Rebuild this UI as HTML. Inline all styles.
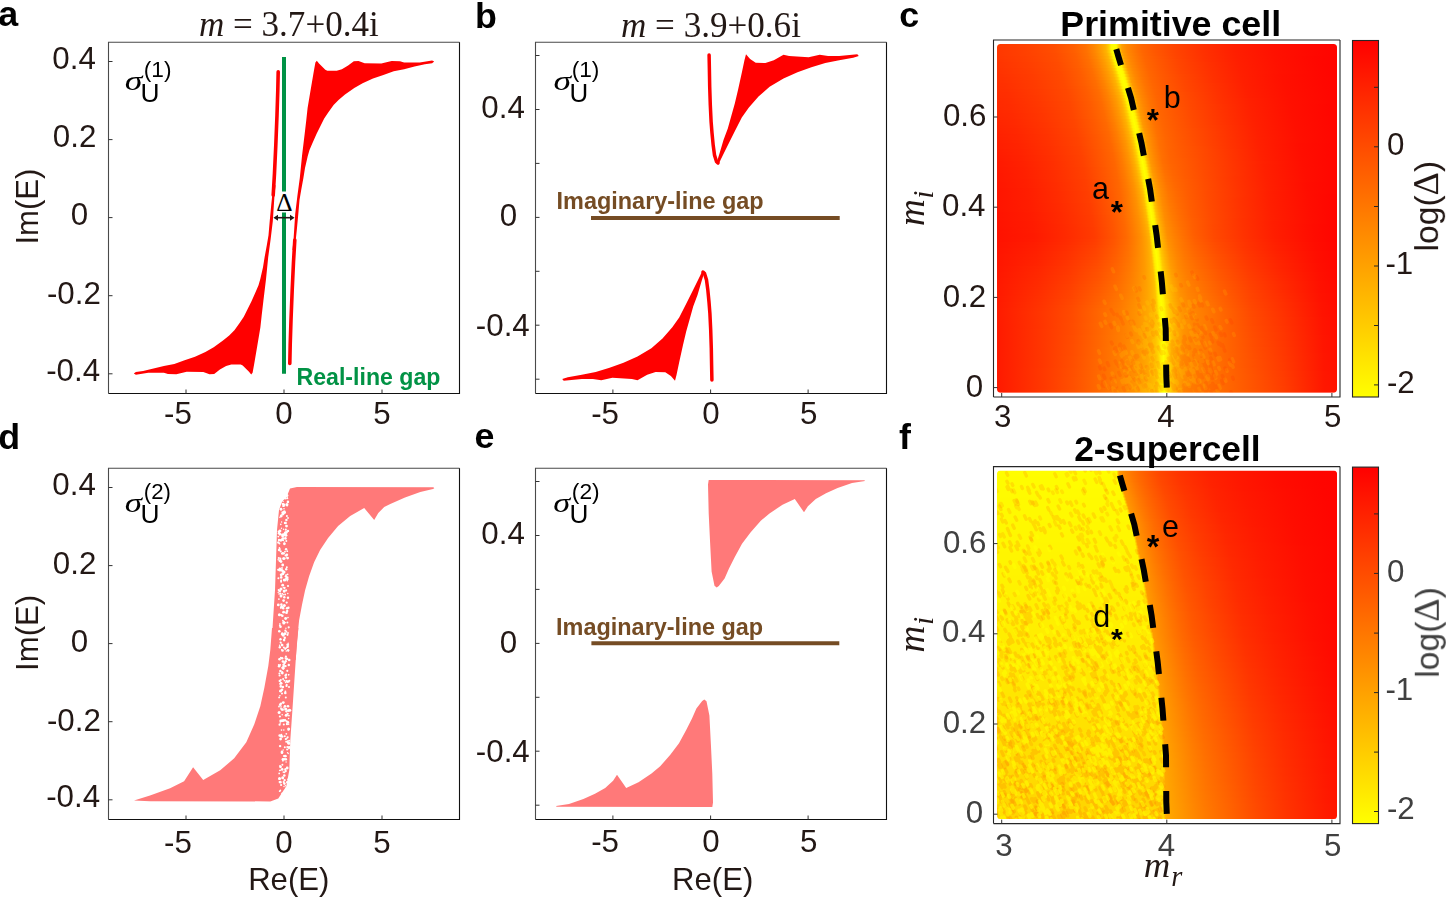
<!DOCTYPE html><html><head><meta charset="utf-8"><style>html,body{margin:0;padding:0;background:#fff;}svg{display:block;font-family:"Liberation Sans",sans-serif;}</style></head><body><svg width="1446" height="898" viewBox="0 0 1446 898"><rect width="1446" height="898" fill="#fff"/><defs><linearGradient id="gc0" gradientUnits="userSpaceOnUse" x1="997.0" x2="1337.0" y1="0" y2="0"><stop offset="0.0000" stop-color="#ff3900"/><stop offset="0.0788" stop-color="#ff4100"/><stop offset="0.1671" stop-color="#ff4d00"/><stop offset="0.2259" stop-color="#ff5f00"/><stop offset="0.2612" stop-color="#ff7100"/><stop offset="0.2847" stop-color="#ff8600"/><stop offset="0.3053" stop-color="#ff9e00"/><stop offset="0.3200" stop-color="#ffb400"/><stop offset="0.3288" stop-color="#ffd100"/><stop offset="0.3362" stop-color="#fffa00"/><stop offset="0.3435" stop-color="#ffff00"/><stop offset="0.3509" stop-color="#fffa00"/><stop offset="0.3582" stop-color="#ffc900"/><stop offset="0.3671" stop-color="#ff9e00"/><stop offset="0.3818" stop-color="#ff8800"/><stop offset="0.4024" stop-color="#ff7800"/><stop offset="0.4259" stop-color="#ff6600"/><stop offset="0.4612" stop-color="#ff5800"/><stop offset="0.5200" stop-color="#ff4500"/><stop offset="0.6082" stop-color="#ff3000"/><stop offset="0.6965" stop-color="#ff1f00"/><stop offset="0.8141" stop-color="#ff1100"/><stop offset="0.9318" stop-color="#ff0800"/><stop offset="1.0000" stop-color="#ff0400"/></linearGradient><linearGradient id="gc1" gradientUnits="userSpaceOnUse" x1="997.0" x2="1337.0" y1="0" y2="0"><stop offset="0.0000" stop-color="#ff3800"/><stop offset="0.0788" stop-color="#ff4000"/><stop offset="0.1671" stop-color="#ff4d00"/><stop offset="0.2259" stop-color="#ff5f00"/><stop offset="0.2612" stop-color="#ff7000"/><stop offset="0.2847" stop-color="#ff8500"/><stop offset="0.3053" stop-color="#ff9d00"/><stop offset="0.3200" stop-color="#ffb300"/><stop offset="0.3288" stop-color="#ffd100"/><stop offset="0.3362" stop-color="#fffa00"/><stop offset="0.3435" stop-color="#ffff00"/><stop offset="0.3509" stop-color="#fffa00"/><stop offset="0.3582" stop-color="#ffc900"/><stop offset="0.3671" stop-color="#ff9e00"/><stop offset="0.3818" stop-color="#ff8800"/><stop offset="0.4024" stop-color="#ff7700"/><stop offset="0.4259" stop-color="#ff6600"/><stop offset="0.4612" stop-color="#ff5800"/><stop offset="0.5200" stop-color="#ff4500"/><stop offset="0.6082" stop-color="#ff3000"/><stop offset="0.6965" stop-color="#ff1f00"/><stop offset="0.8141" stop-color="#ff1100"/><stop offset="0.9318" stop-color="#ff0800"/><stop offset="1.0000" stop-color="#ff0400"/></linearGradient><linearGradient id="gc2" gradientUnits="userSpaceOnUse" x1="997.0" x2="1337.0" y1="0" y2="0"><stop offset="0.0000" stop-color="#ff3700"/><stop offset="0.0808" stop-color="#ff4000"/><stop offset="0.1690" stop-color="#ff4d00"/><stop offset="0.2278" stop-color="#ff5f00"/><stop offset="0.2631" stop-color="#ff7000"/><stop offset="0.2867" stop-color="#ff8500"/><stop offset="0.3072" stop-color="#ff9d00"/><stop offset="0.3219" stop-color="#ffb300"/><stop offset="0.3308" stop-color="#ffd000"/><stop offset="0.3381" stop-color="#fff900"/><stop offset="0.3455" stop-color="#ffff00"/><stop offset="0.3528" stop-color="#fff900"/><stop offset="0.3602" stop-color="#ffc900"/><stop offset="0.3690" stop-color="#ff9e00"/><stop offset="0.3837" stop-color="#ff8800"/><stop offset="0.4043" stop-color="#ff7700"/><stop offset="0.4278" stop-color="#ff6600"/><stop offset="0.4631" stop-color="#ff5800"/><stop offset="0.5219" stop-color="#ff4500"/><stop offset="0.6102" stop-color="#ff3000"/><stop offset="0.6984" stop-color="#ff1f00"/><stop offset="0.8161" stop-color="#ff1100"/><stop offset="0.9337" stop-color="#ff0800"/><stop offset="1.0000" stop-color="#ff0400"/></linearGradient><linearGradient id="gc3" gradientUnits="userSpaceOnUse" x1="997.0" x2="1337.0" y1="0" y2="0"><stop offset="0.0000" stop-color="#ff3700"/><stop offset="0.0833" stop-color="#ff4000"/><stop offset="0.1715" stop-color="#ff4c00"/><stop offset="0.2304" stop-color="#ff5e00"/><stop offset="0.2657" stop-color="#ff7000"/><stop offset="0.2892" stop-color="#ff8500"/><stop offset="0.3098" stop-color="#ff9d00"/><stop offset="0.3245" stop-color="#ffb300"/><stop offset="0.3333" stop-color="#ffd000"/><stop offset="0.3407" stop-color="#fff900"/><stop offset="0.3480" stop-color="#ffff00"/><stop offset="0.3554" stop-color="#fff900"/><stop offset="0.3627" stop-color="#ffc800"/><stop offset="0.3715" stop-color="#ff9e00"/><stop offset="0.3862" stop-color="#ff8800"/><stop offset="0.4068" stop-color="#ff7700"/><stop offset="0.4304" stop-color="#ff6600"/><stop offset="0.4657" stop-color="#ff5800"/><stop offset="0.5245" stop-color="#ff4500"/><stop offset="0.6127" stop-color="#ff3000"/><stop offset="0.7010" stop-color="#ff1f00"/><stop offset="0.8186" stop-color="#ff1100"/><stop offset="0.9362" stop-color="#ff0800"/><stop offset="1.0000" stop-color="#ff0400"/></linearGradient><linearGradient id="gc4" gradientUnits="userSpaceOnUse" x1="997.0" x2="1337.0" y1="0" y2="0"><stop offset="0.0000" stop-color="#ff3600"/><stop offset="0.0859" stop-color="#ff3f00"/><stop offset="0.1741" stop-color="#ff4c00"/><stop offset="0.2330" stop-color="#ff5e00"/><stop offset="0.2683" stop-color="#ff7000"/><stop offset="0.2918" stop-color="#ff8500"/><stop offset="0.3124" stop-color="#ff9d00"/><stop offset="0.3271" stop-color="#ffb300"/><stop offset="0.3359" stop-color="#ffd000"/><stop offset="0.3433" stop-color="#fff900"/><stop offset="0.3506" stop-color="#ffff00"/><stop offset="0.3580" stop-color="#fff900"/><stop offset="0.3653" stop-color="#ffc800"/><stop offset="0.3741" stop-color="#ff9e00"/><stop offset="0.3888" stop-color="#ff8800"/><stop offset="0.4094" stop-color="#ff7700"/><stop offset="0.4330" stop-color="#ff6600"/><stop offset="0.4683" stop-color="#ff5900"/><stop offset="0.5271" stop-color="#ff4500"/><stop offset="0.6153" stop-color="#ff3000"/><stop offset="0.7035" stop-color="#ff1f00"/><stop offset="0.8212" stop-color="#ff1100"/><stop offset="0.9388" stop-color="#ff0700"/><stop offset="1.0000" stop-color="#ff0400"/></linearGradient><linearGradient id="gc5" gradientUnits="userSpaceOnUse" x1="997.0" x2="1337.0" y1="0" y2="0"><stop offset="0.0000" stop-color="#ff3500"/><stop offset="0.0004" stop-color="#ff3500"/><stop offset="0.0886" stop-color="#ff3f00"/><stop offset="0.1768" stop-color="#ff4c00"/><stop offset="0.2357" stop-color="#ff5e00"/><stop offset="0.2709" stop-color="#ff6f00"/><stop offset="0.2945" stop-color="#ff8400"/><stop offset="0.3151" stop-color="#ff9c00"/><stop offset="0.3298" stop-color="#ffb300"/><stop offset="0.3386" stop-color="#ffd000"/><stop offset="0.3459" stop-color="#fff900"/><stop offset="0.3533" stop-color="#ffff00"/><stop offset="0.3607" stop-color="#fff900"/><stop offset="0.3680" stop-color="#ffc800"/><stop offset="0.3768" stop-color="#ff9e00"/><stop offset="0.3915" stop-color="#ff8800"/><stop offset="0.4121" stop-color="#ff7600"/><stop offset="0.4357" stop-color="#ff6600"/><stop offset="0.4709" stop-color="#ff5900"/><stop offset="0.5298" stop-color="#ff4600"/><stop offset="0.6180" stop-color="#ff3000"/><stop offset="0.7062" stop-color="#ff1f00"/><stop offset="0.8239" stop-color="#ff1100"/><stop offset="0.9415" stop-color="#ff0700"/><stop offset="1.0000" stop-color="#ff0400"/></linearGradient><linearGradient id="gc6" gradientUnits="userSpaceOnUse" x1="997.0" x2="1337.0" y1="0" y2="0"><stop offset="0.0000" stop-color="#ff3400"/><stop offset="0.0031" stop-color="#ff3400"/><stop offset="0.0913" stop-color="#ff3e00"/><stop offset="0.1795" stop-color="#ff4b00"/><stop offset="0.2383" stop-color="#ff5e00"/><stop offset="0.2736" stop-color="#ff6f00"/><stop offset="0.2972" stop-color="#ff8400"/><stop offset="0.3178" stop-color="#ff9c00"/><stop offset="0.3325" stop-color="#ffb300"/><stop offset="0.3413" stop-color="#ffd000"/><stop offset="0.3486" stop-color="#fff800"/><stop offset="0.3560" stop-color="#ffff00"/><stop offset="0.3633" stop-color="#fff800"/><stop offset="0.3707" stop-color="#ffc700"/><stop offset="0.3795" stop-color="#ff9d00"/><stop offset="0.3942" stop-color="#ff8800"/><stop offset="0.4148" stop-color="#ff7600"/><stop offset="0.4383" stop-color="#ff6600"/><stop offset="0.4736" stop-color="#ff5900"/><stop offset="0.5325" stop-color="#ff4600"/><stop offset="0.6207" stop-color="#ff3100"/><stop offset="0.7089" stop-color="#ff1f00"/><stop offset="0.8266" stop-color="#ff1100"/><stop offset="0.9442" stop-color="#ff0700"/><stop offset="1.0000" stop-color="#ff0400"/></linearGradient><linearGradient id="gc7" gradientUnits="userSpaceOnUse" x1="997.0" x2="1337.0" y1="0" y2="0"><stop offset="0.0000" stop-color="#ff3400"/><stop offset="0.0057" stop-color="#ff3400"/><stop offset="0.0940" stop-color="#ff3e00"/><stop offset="0.1822" stop-color="#ff4b00"/><stop offset="0.2410" stop-color="#ff5e00"/><stop offset="0.2763" stop-color="#ff6f00"/><stop offset="0.2999" stop-color="#ff8400"/><stop offset="0.3204" stop-color="#ff9c00"/><stop offset="0.3352" stop-color="#ffb300"/><stop offset="0.3440" stop-color="#ffd000"/><stop offset="0.3513" stop-color="#fff800"/><stop offset="0.3587" stop-color="#ffff00"/><stop offset="0.3660" stop-color="#fff800"/><stop offset="0.3734" stop-color="#ffc700"/><stop offset="0.3822" stop-color="#ff9d00"/><stop offset="0.3969" stop-color="#ff8800"/><stop offset="0.4175" stop-color="#ff7600"/><stop offset="0.4410" stop-color="#ff6600"/><stop offset="0.4763" stop-color="#ff5900"/><stop offset="0.5352" stop-color="#ff4600"/><stop offset="0.6234" stop-color="#ff3100"/><stop offset="0.7116" stop-color="#ff1f00"/><stop offset="0.8293" stop-color="#ff1100"/><stop offset="0.9469" stop-color="#ff0700"/><stop offset="1.0000" stop-color="#ff0400"/></linearGradient><linearGradient id="gc8" gradientUnits="userSpaceOnUse" x1="997.0" x2="1337.0" y1="0" y2="0"><stop offset="0.0000" stop-color="#ff3300"/><stop offset="0.0084" stop-color="#ff3300"/><stop offset="0.0967" stop-color="#ff3d00"/><stop offset="0.1849" stop-color="#ff4b00"/><stop offset="0.2437" stop-color="#ff5d00"/><stop offset="0.2790" stop-color="#ff6e00"/><stop offset="0.3026" stop-color="#ff8300"/><stop offset="0.3231" stop-color="#ff9c00"/><stop offset="0.3378" stop-color="#ffb300"/><stop offset="0.3467" stop-color="#ffcf00"/><stop offset="0.3540" stop-color="#fff800"/><stop offset="0.3614" stop-color="#ffff00"/><stop offset="0.3687" stop-color="#fff800"/><stop offset="0.3761" stop-color="#ffc700"/><stop offset="0.3849" stop-color="#ff9d00"/><stop offset="0.3996" stop-color="#ff8800"/><stop offset="0.4202" stop-color="#ff7600"/><stop offset="0.4437" stop-color="#ff6600"/><stop offset="0.4790" stop-color="#ff5900"/><stop offset="0.5378" stop-color="#ff4600"/><stop offset="0.6261" stop-color="#ff3100"/><stop offset="0.7143" stop-color="#ff1f00"/><stop offset="0.8320" stop-color="#ff1100"/><stop offset="0.9496" stop-color="#ff0700"/><stop offset="1.0000" stop-color="#ff0400"/></linearGradient><linearGradient id="gc9" gradientUnits="userSpaceOnUse" x1="997.0" x2="1337.0" y1="0" y2="0"><stop offset="0.0000" stop-color="#ff3200"/><stop offset="0.0111" stop-color="#ff3300"/><stop offset="0.0994" stop-color="#ff3d00"/><stop offset="0.1876" stop-color="#ff4a00"/><stop offset="0.2464" stop-color="#ff5d00"/><stop offset="0.2817" stop-color="#ff6e00"/><stop offset="0.3052" stop-color="#ff8300"/><stop offset="0.3258" stop-color="#ff9b00"/><stop offset="0.3405" stop-color="#ffb200"/><stop offset="0.3494" stop-color="#ffcf00"/><stop offset="0.3567" stop-color="#fff800"/><stop offset="0.3641" stop-color="#ffff00"/><stop offset="0.3714" stop-color="#fff800"/><stop offset="0.3788" stop-color="#ffc600"/><stop offset="0.3876" stop-color="#ff9d00"/><stop offset="0.4023" stop-color="#ff8800"/><stop offset="0.4229" stop-color="#ff7600"/><stop offset="0.4464" stop-color="#ff6600"/><stop offset="0.4817" stop-color="#ff5900"/><stop offset="0.5405" stop-color="#ff4600"/><stop offset="0.6288" stop-color="#ff3100"/><stop offset="0.7170" stop-color="#ff1f00"/><stop offset="0.8347" stop-color="#ff1100"/><stop offset="0.9523" stop-color="#ff0700"/><stop offset="1.0000" stop-color="#ff0400"/></linearGradient><linearGradient id="gc10" gradientUnits="userSpaceOnUse" x1="997.0" x2="1337.0" y1="0" y2="0"><stop offset="0.0000" stop-color="#ff3100"/><stop offset="0.0138" stop-color="#ff3200"/><stop offset="0.1021" stop-color="#ff3c00"/><stop offset="0.1903" stop-color="#ff4a00"/><stop offset="0.2491" stop-color="#ff5d00"/><stop offset="0.2844" stop-color="#ff6e00"/><stop offset="0.3079" stop-color="#ff8300"/><stop offset="0.3285" stop-color="#ff9b00"/><stop offset="0.3432" stop-color="#ffb200"/><stop offset="0.3521" stop-color="#ffcf00"/><stop offset="0.3594" stop-color="#fff700"/><stop offset="0.3668" stop-color="#ffff00"/><stop offset="0.3741" stop-color="#fff700"/><stop offset="0.3815" stop-color="#ffc600"/><stop offset="0.3903" stop-color="#ff9d00"/><stop offset="0.4050" stop-color="#ff8800"/><stop offset="0.4256" stop-color="#ff7500"/><stop offset="0.4491" stop-color="#ff6600"/><stop offset="0.4844" stop-color="#ff5900"/><stop offset="0.5432" stop-color="#ff4700"/><stop offset="0.6315" stop-color="#ff3100"/><stop offset="0.7197" stop-color="#ff1f00"/><stop offset="0.8374" stop-color="#ff1000"/><stop offset="0.9550" stop-color="#ff0700"/><stop offset="1.0000" stop-color="#ff0400"/></linearGradient><linearGradient id="gc11" gradientUnits="userSpaceOnUse" x1="997.0" x2="1337.0" y1="0" y2="0"><stop offset="0.0000" stop-color="#ff3100"/><stop offset="0.0165" stop-color="#ff3100"/><stop offset="0.1048" stop-color="#ff3c00"/><stop offset="0.1930" stop-color="#ff4a00"/><stop offset="0.2518" stop-color="#ff5d00"/><stop offset="0.2871" stop-color="#ff6e00"/><stop offset="0.3106" stop-color="#ff8300"/><stop offset="0.3312" stop-color="#ff9b00"/><stop offset="0.3459" stop-color="#ffb200"/><stop offset="0.3548" stop-color="#ffcf00"/><stop offset="0.3621" stop-color="#fff700"/><stop offset="0.3695" stop-color="#ffff00"/><stop offset="0.3768" stop-color="#fff700"/><stop offset="0.3842" stop-color="#ffc600"/><stop offset="0.3930" stop-color="#ff9d00"/><stop offset="0.4077" stop-color="#ff8800"/><stop offset="0.4283" stop-color="#ff7500"/><stop offset="0.4518" stop-color="#ff6600"/><stop offset="0.4871" stop-color="#ff5900"/><stop offset="0.5459" stop-color="#ff4700"/><stop offset="0.6342" stop-color="#ff3100"/><stop offset="0.7224" stop-color="#ff1f00"/><stop offset="0.8400" stop-color="#ff1000"/><stop offset="0.9577" stop-color="#ff0700"/><stop offset="1.0000" stop-color="#ff0500"/></linearGradient><linearGradient id="gc12" gradientUnits="userSpaceOnUse" x1="997.0" x2="1337.0" y1="0" y2="0"><stop offset="0.0000" stop-color="#ff3000"/><stop offset="0.0192" stop-color="#ff3100"/><stop offset="0.1074" stop-color="#ff3b00"/><stop offset="0.1957" stop-color="#ff4900"/><stop offset="0.2545" stop-color="#ff5d00"/><stop offset="0.2898" stop-color="#ff6d00"/><stop offset="0.3133" stop-color="#ff8200"/><stop offset="0.3339" stop-color="#ff9b00"/><stop offset="0.3486" stop-color="#ffb200"/><stop offset="0.3574" stop-color="#ffcf00"/><stop offset="0.3648" stop-color="#fff700"/><stop offset="0.3722" stop-color="#ffff00"/><stop offset="0.3795" stop-color="#fff700"/><stop offset="0.3869" stop-color="#ffc500"/><stop offset="0.3957" stop-color="#ff9c00"/><stop offset="0.4104" stop-color="#ff8800"/><stop offset="0.4310" stop-color="#ff7500"/><stop offset="0.4545" stop-color="#ff6600"/><stop offset="0.4898" stop-color="#ff5900"/><stop offset="0.5486" stop-color="#ff4700"/><stop offset="0.6369" stop-color="#ff3100"/><stop offset="0.7251" stop-color="#ff1f00"/><stop offset="0.8427" stop-color="#ff1000"/><stop offset="0.9604" stop-color="#ff0700"/><stop offset="1.0000" stop-color="#ff0500"/></linearGradient><linearGradient id="gc13" gradientUnits="userSpaceOnUse" x1="997.0" x2="1337.0" y1="0" y2="0"><stop offset="0.0000" stop-color="#ff2f00"/><stop offset="0.0219" stop-color="#ff3000"/><stop offset="0.1101" stop-color="#ff3b00"/><stop offset="0.1984" stop-color="#ff4900"/><stop offset="0.2572" stop-color="#ff5d00"/><stop offset="0.2925" stop-color="#ff6d00"/><stop offset="0.3160" stop-color="#ff8200"/><stop offset="0.3366" stop-color="#ff9a00"/><stop offset="0.3513" stop-color="#ffb200"/><stop offset="0.3601" stop-color="#ffcf00"/><stop offset="0.3675" stop-color="#fff700"/><stop offset="0.3748" stop-color="#ffff00"/><stop offset="0.3822" stop-color="#fff700"/><stop offset="0.3896" stop-color="#ffc500"/><stop offset="0.3984" stop-color="#ff9c00"/><stop offset="0.4131" stop-color="#ff8800"/><stop offset="0.4337" stop-color="#ff7500"/><stop offset="0.4572" stop-color="#ff6600"/><stop offset="0.4925" stop-color="#ff5900"/><stop offset="0.5513" stop-color="#ff4700"/><stop offset="0.6396" stop-color="#ff3200"/><stop offset="0.7278" stop-color="#ff1f00"/><stop offset="0.8454" stop-color="#ff1000"/><stop offset="0.9631" stop-color="#ff0700"/><stop offset="1.0000" stop-color="#ff0500"/></linearGradient><linearGradient id="gc14" gradientUnits="userSpaceOnUse" x1="997.0" x2="1337.0" y1="0" y2="0"><stop offset="0.0000" stop-color="#ff2e00"/><stop offset="0.0246" stop-color="#ff3000"/><stop offset="0.1128" stop-color="#ff3b00"/><stop offset="0.2011" stop-color="#ff4900"/><stop offset="0.2599" stop-color="#ff5c00"/><stop offset="0.2952" stop-color="#ff6d00"/><stop offset="0.3187" stop-color="#ff8200"/><stop offset="0.3393" stop-color="#ff9a00"/><stop offset="0.3540" stop-color="#ffb200"/><stop offset="0.3628" stop-color="#ffce00"/><stop offset="0.3702" stop-color="#fff600"/><stop offset="0.3775" stop-color="#ffff00"/><stop offset="0.3849" stop-color="#fff600"/><stop offset="0.3922" stop-color="#ffc500"/><stop offset="0.4011" stop-color="#ff9c00"/><stop offset="0.4158" stop-color="#ff8800"/><stop offset="0.4364" stop-color="#ff7500"/><stop offset="0.4599" stop-color="#ff6600"/><stop offset="0.4952" stop-color="#ff5900"/><stop offset="0.5540" stop-color="#ff4700"/><stop offset="0.6422" stop-color="#ff3200"/><stop offset="0.7305" stop-color="#ff1f00"/><stop offset="0.8481" stop-color="#ff1000"/><stop offset="0.9658" stop-color="#ff0700"/><stop offset="1.0000" stop-color="#ff0500"/></linearGradient><linearGradient id="gc15" gradientUnits="userSpaceOnUse" x1="997.0" x2="1337.0" y1="0" y2="0"><stop offset="0.0000" stop-color="#ff2e00"/><stop offset="0.0273" stop-color="#ff2f00"/><stop offset="0.1155" stop-color="#ff3a00"/><stop offset="0.2038" stop-color="#ff4800"/><stop offset="0.2626" stop-color="#ff5c00"/><stop offset="0.2979" stop-color="#ff6c00"/><stop offset="0.3214" stop-color="#ff8100"/><stop offset="0.3420" stop-color="#ff9a00"/><stop offset="0.3567" stop-color="#ffb200"/><stop offset="0.3655" stop-color="#ffce00"/><stop offset="0.3729" stop-color="#fff600"/><stop offset="0.3802" stop-color="#ffff00"/><stop offset="0.3876" stop-color="#fff600"/><stop offset="0.3949" stop-color="#ffc400"/><stop offset="0.4038" stop-color="#ff9c00"/><stop offset="0.4185" stop-color="#ff8800"/><stop offset="0.4391" stop-color="#ff7400"/><stop offset="0.4626" stop-color="#ff6600"/><stop offset="0.4979" stop-color="#ff5900"/><stop offset="0.5567" stop-color="#ff4700"/><stop offset="0.6449" stop-color="#ff3200"/><stop offset="0.7332" stop-color="#ff1f00"/><stop offset="0.8508" stop-color="#ff1000"/><stop offset="0.9685" stop-color="#ff0700"/><stop offset="1.0000" stop-color="#ff0500"/></linearGradient><linearGradient id="gc16" gradientUnits="userSpaceOnUse" x1="997.0" x2="1337.0" y1="0" y2="0"><stop offset="0.0000" stop-color="#ff2d00"/><stop offset="0.0300" stop-color="#ff2e00"/><stop offset="0.1182" stop-color="#ff3a00"/><stop offset="0.2065" stop-color="#ff4800"/><stop offset="0.2653" stop-color="#ff5c00"/><stop offset="0.3006" stop-color="#ff6c00"/><stop offset="0.3241" stop-color="#ff8100"/><stop offset="0.3447" stop-color="#ff9a00"/><stop offset="0.3594" stop-color="#ffb200"/><stop offset="0.3682" stop-color="#ffce00"/><stop offset="0.3756" stop-color="#fff600"/><stop offset="0.3829" stop-color="#ffff00"/><stop offset="0.3903" stop-color="#fff600"/><stop offset="0.3976" stop-color="#ffc400"/><stop offset="0.4065" stop-color="#ff9c00"/><stop offset="0.4212" stop-color="#ff8700"/><stop offset="0.4418" stop-color="#ff7400"/><stop offset="0.4653" stop-color="#ff6500"/><stop offset="0.5006" stop-color="#ff5900"/><stop offset="0.5594" stop-color="#ff4800"/><stop offset="0.6476" stop-color="#ff3200"/><stop offset="0.7359" stop-color="#ff1f00"/><stop offset="0.8535" stop-color="#ff1000"/><stop offset="0.9712" stop-color="#ff0700"/><stop offset="1.0000" stop-color="#ff0500"/></linearGradient><linearGradient id="gc17" gradientUnits="userSpaceOnUse" x1="997.0" x2="1337.0" y1="0" y2="0"><stop offset="0.0000" stop-color="#ff2c00"/><stop offset="0.0327" stop-color="#ff2e00"/><stop offset="0.1209" stop-color="#ff3900"/><stop offset="0.2092" stop-color="#ff4800"/><stop offset="0.2680" stop-color="#ff5c00"/><stop offset="0.3033" stop-color="#ff6c00"/><stop offset="0.3268" stop-color="#ff8100"/><stop offset="0.3474" stop-color="#ff9900"/><stop offset="0.3621" stop-color="#ffb100"/><stop offset="0.3709" stop-color="#ffce00"/><stop offset="0.3783" stop-color="#fff600"/><stop offset="0.3856" stop-color="#ffff00"/><stop offset="0.3930" stop-color="#fff600"/><stop offset="0.4003" stop-color="#ffc400"/><stop offset="0.4092" stop-color="#ff9c00"/><stop offset="0.4239" stop-color="#ff8700"/><stop offset="0.4444" stop-color="#ff7400"/><stop offset="0.4680" stop-color="#ff6500"/><stop offset="0.5033" stop-color="#ff5900"/><stop offset="0.5621" stop-color="#ff4800"/><stop offset="0.6503" stop-color="#ff3200"/><stop offset="0.7386" stop-color="#ff1f00"/><stop offset="0.8562" stop-color="#ff1000"/><stop offset="0.9739" stop-color="#ff0700"/><stop offset="1.0000" stop-color="#ff0500"/></linearGradient><linearGradient id="gc18" gradientUnits="userSpaceOnUse" x1="997.0" x2="1337.0" y1="0" y2="0"><stop offset="0.0000" stop-color="#ff2b00"/><stop offset="0.0351" stop-color="#ff2d00"/><stop offset="0.1233" stop-color="#ff3900"/><stop offset="0.2115" stop-color="#ff4800"/><stop offset="0.2704" stop-color="#ff5c00"/><stop offset="0.3057" stop-color="#ff6c00"/><stop offset="0.3292" stop-color="#ff8100"/><stop offset="0.3498" stop-color="#ff9900"/><stop offset="0.3645" stop-color="#ffb100"/><stop offset="0.3733" stop-color="#ffce00"/><stop offset="0.3807" stop-color="#fff500"/><stop offset="0.3880" stop-color="#ffff00"/><stop offset="0.3954" stop-color="#fff500"/><stop offset="0.4027" stop-color="#ffc300"/><stop offset="0.4115" stop-color="#ff9c00"/><stop offset="0.4262" stop-color="#ff8700"/><stop offset="0.4468" stop-color="#ff7400"/><stop offset="0.4704" stop-color="#ff6500"/><stop offset="0.5057" stop-color="#ff5900"/><stop offset="0.5645" stop-color="#ff4800"/><stop offset="0.6527" stop-color="#ff3200"/><stop offset="0.7409" stop-color="#ff2000"/><stop offset="0.8586" stop-color="#ff1000"/><stop offset="0.9762" stop-color="#ff0700"/><stop offset="1.0000" stop-color="#ff0500"/></linearGradient><linearGradient id="gc19" gradientUnits="userSpaceOnUse" x1="997.0" x2="1337.0" y1="0" y2="0"><stop offset="0.0000" stop-color="#ff2a00"/><stop offset="0.0371" stop-color="#ff2d00"/><stop offset="0.1253" stop-color="#ff3800"/><stop offset="0.2136" stop-color="#ff4700"/><stop offset="0.2724" stop-color="#ff5b00"/><stop offset="0.3077" stop-color="#ff6b00"/><stop offset="0.3312" stop-color="#ff8000"/><stop offset="0.3518" stop-color="#ff9900"/><stop offset="0.3665" stop-color="#ffb100"/><stop offset="0.3753" stop-color="#ffce00"/><stop offset="0.3827" stop-color="#fff500"/><stop offset="0.3900" stop-color="#ffff00"/><stop offset="0.3974" stop-color="#fff500"/><stop offset="0.4047" stop-color="#ffc300"/><stop offset="0.4136" stop-color="#ff9b00"/><stop offset="0.4283" stop-color="#ff8700"/><stop offset="0.4489" stop-color="#ff7300"/><stop offset="0.4724" stop-color="#ff6500"/><stop offset="0.5077" stop-color="#ff5900"/><stop offset="0.5665" stop-color="#ff4800"/><stop offset="0.6547" stop-color="#ff3200"/><stop offset="0.7430" stop-color="#ff2000"/><stop offset="0.8606" stop-color="#ff1000"/><stop offset="0.9783" stop-color="#ff0700"/><stop offset="1.0000" stop-color="#ff0500"/></linearGradient><linearGradient id="gc20" gradientUnits="userSpaceOnUse" x1="997.0" x2="1337.0" y1="0" y2="0"><stop offset="0.0000" stop-color="#ff2a00"/><stop offset="0.0391" stop-color="#ff2c00"/><stop offset="0.1274" stop-color="#ff3800"/><stop offset="0.2156" stop-color="#ff4700"/><stop offset="0.2744" stop-color="#ff5b00"/><stop offset="0.3097" stop-color="#ff6b00"/><stop offset="0.3332" stop-color="#ff8000"/><stop offset="0.3538" stop-color="#ff9900"/><stop offset="0.3685" stop-color="#ffb100"/><stop offset="0.3774" stop-color="#ffcd00"/><stop offset="0.3847" stop-color="#fff500"/><stop offset="0.3921" stop-color="#ffff00"/><stop offset="0.3994" stop-color="#fff500"/><stop offset="0.4068" stop-color="#ffc300"/><stop offset="0.4156" stop-color="#ff9b00"/><stop offset="0.4303" stop-color="#ff8700"/><stop offset="0.4509" stop-color="#ff7300"/><stop offset="0.4744" stop-color="#ff6500"/><stop offset="0.5097" stop-color="#ff5900"/><stop offset="0.5685" stop-color="#ff4800"/><stop offset="0.6568" stop-color="#ff3300"/><stop offset="0.7450" stop-color="#ff2000"/><stop offset="0.8627" stop-color="#ff1000"/><stop offset="0.9803" stop-color="#ff0600"/><stop offset="1.0000" stop-color="#ff0600"/></linearGradient><linearGradient id="gc21" gradientUnits="userSpaceOnUse" x1="997.0" x2="1337.0" y1="0" y2="0"><stop offset="0.0000" stop-color="#ff2900"/><stop offset="0.0412" stop-color="#ff2c00"/><stop offset="0.1294" stop-color="#ff3700"/><stop offset="0.2176" stop-color="#ff4700"/><stop offset="0.2765" stop-color="#ff5b00"/><stop offset="0.3117" stop-color="#ff6b00"/><stop offset="0.3353" stop-color="#ff8000"/><stop offset="0.3559" stop-color="#ff9800"/><stop offset="0.3706" stop-color="#ffb100"/><stop offset="0.3794" stop-color="#ffcd00"/><stop offset="0.3867" stop-color="#fff500"/><stop offset="0.3941" stop-color="#ffff00"/><stop offset="0.4015" stop-color="#fff400"/><stop offset="0.4088" stop-color="#ffc200"/><stop offset="0.4176" stop-color="#ff9b00"/><stop offset="0.4323" stop-color="#ff8700"/><stop offset="0.4529" stop-color="#ff7300"/><stop offset="0.4765" stop-color="#ff6500"/><stop offset="0.5117" stop-color="#ff5a00"/><stop offset="0.5706" stop-color="#ff4800"/><stop offset="0.6588" stop-color="#ff3300"/><stop offset="0.7470" stop-color="#ff2000"/><stop offset="0.8647" stop-color="#ff1000"/><stop offset="0.9823" stop-color="#ff0600"/><stop offset="1.0000" stop-color="#ff0600"/></linearGradient><linearGradient id="gc22" gradientUnits="userSpaceOnUse" x1="997.0" x2="1337.0" y1="0" y2="0"><stop offset="0.0000" stop-color="#ff2800"/><stop offset="0.0432" stop-color="#ff2b00"/><stop offset="0.1314" stop-color="#ff3700"/><stop offset="0.2197" stop-color="#ff4600"/><stop offset="0.2785" stop-color="#ff5b00"/><stop offset="0.3138" stop-color="#ff6a00"/><stop offset="0.3373" stop-color="#ff7f00"/><stop offset="0.3579" stop-color="#ff9800"/><stop offset="0.3726" stop-color="#ffb100"/><stop offset="0.3814" stop-color="#ffcd00"/><stop offset="0.3888" stop-color="#fff400"/><stop offset="0.3961" stop-color="#ffff00"/><stop offset="0.4035" stop-color="#fff400"/><stop offset="0.4108" stop-color="#ffc200"/><stop offset="0.4197" stop-color="#ff9b00"/><stop offset="0.4344" stop-color="#ff8700"/><stop offset="0.4550" stop-color="#ff7300"/><stop offset="0.4785" stop-color="#ff6500"/><stop offset="0.5138" stop-color="#ff5a00"/><stop offset="0.5726" stop-color="#ff4900"/><stop offset="0.6608" stop-color="#ff3300"/><stop offset="0.7491" stop-color="#ff2000"/><stop offset="0.8667" stop-color="#ff0f00"/><stop offset="0.9844" stop-color="#ff0600"/><stop offset="1.0000" stop-color="#ff0600"/></linearGradient><linearGradient id="gc23" gradientUnits="userSpaceOnUse" x1="997.0" x2="1337.0" y1="0" y2="0"><stop offset="0.0000" stop-color="#ff2700"/><stop offset="0.0452" stop-color="#ff2a00"/><stop offset="0.1335" stop-color="#ff3600"/><stop offset="0.2217" stop-color="#ff4600"/><stop offset="0.2805" stop-color="#ff5b00"/><stop offset="0.3158" stop-color="#ff6a00"/><stop offset="0.3393" stop-color="#ff7f00"/><stop offset="0.3599" stop-color="#ff9800"/><stop offset="0.3746" stop-color="#ffb100"/><stop offset="0.3835" stop-color="#ffcd00"/><stop offset="0.3908" stop-color="#fff400"/><stop offset="0.3982" stop-color="#ffff00"/><stop offset="0.4055" stop-color="#fff400"/><stop offset="0.4129" stop-color="#ffc200"/><stop offset="0.4217" stop-color="#ff9b00"/><stop offset="0.4364" stop-color="#ff8700"/><stop offset="0.4570" stop-color="#ff7300"/><stop offset="0.4805" stop-color="#ff6500"/><stop offset="0.5158" stop-color="#ff5a00"/><stop offset="0.5746" stop-color="#ff4900"/><stop offset="0.6629" stop-color="#ff3300"/><stop offset="0.7511" stop-color="#ff2000"/><stop offset="0.8688" stop-color="#ff0f00"/><stop offset="0.9864" stop-color="#ff0600"/><stop offset="1.0000" stop-color="#ff0600"/></linearGradient><linearGradient id="gc24" gradientUnits="userSpaceOnUse" x1="997.0" x2="1337.0" y1="0" y2="0"><stop offset="0.0000" stop-color="#ff2600"/><stop offset="0.0473" stop-color="#ff2a00"/><stop offset="0.1355" stop-color="#ff3600"/><stop offset="0.2237" stop-color="#ff4600"/><stop offset="0.2826" stop-color="#ff5b00"/><stop offset="0.3178" stop-color="#ff6a00"/><stop offset="0.3414" stop-color="#ff7f00"/><stop offset="0.3620" stop-color="#ff9700"/><stop offset="0.3767" stop-color="#ffb100"/><stop offset="0.3855" stop-color="#ffcd00"/><stop offset="0.3928" stop-color="#fff400"/><stop offset="0.4002" stop-color="#ffff00"/><stop offset="0.4076" stop-color="#fff400"/><stop offset="0.4149" stop-color="#ffc200"/><stop offset="0.4237" stop-color="#ff9b00"/><stop offset="0.4384" stop-color="#ff8700"/><stop offset="0.4590" stop-color="#ff7200"/><stop offset="0.4826" stop-color="#ff6500"/><stop offset="0.5178" stop-color="#ff5a00"/><stop offset="0.5767" stop-color="#ff4900"/><stop offset="0.6649" stop-color="#ff3300"/><stop offset="0.7531" stop-color="#ff2000"/><stop offset="0.8708" stop-color="#ff0f00"/><stop offset="0.9884" stop-color="#ff0600"/><stop offset="1.0000" stop-color="#ff0600"/></linearGradient><linearGradient id="gc25" gradientUnits="userSpaceOnUse" x1="997.0" x2="1337.0" y1="0" y2="0"><stop offset="0.0000" stop-color="#ff2600"/><stop offset="0.0493" stop-color="#ff2900"/><stop offset="0.1375" stop-color="#ff3600"/><stop offset="0.2258" stop-color="#ff4500"/><stop offset="0.2846" stop-color="#ff5a00"/><stop offset="0.3199" stop-color="#ff6a00"/><stop offset="0.3434" stop-color="#ff7f00"/><stop offset="0.3640" stop-color="#ff9700"/><stop offset="0.3787" stop-color="#ffb000"/><stop offset="0.3875" stop-color="#ffcc00"/><stop offset="0.3949" stop-color="#fff400"/><stop offset="0.4022" stop-color="#ffff00"/><stop offset="0.4096" stop-color="#fff300"/><stop offset="0.4169" stop-color="#ffc100"/><stop offset="0.4258" stop-color="#ff9b00"/><stop offset="0.4405" stop-color="#ff8700"/><stop offset="0.4611" stop-color="#ff7200"/><stop offset="0.4846" stop-color="#ff6500"/><stop offset="0.5199" stop-color="#ff5a00"/><stop offset="0.5787" stop-color="#ff4900"/><stop offset="0.6669" stop-color="#ff3300"/><stop offset="0.7552" stop-color="#ff2000"/><stop offset="0.8728" stop-color="#ff0f00"/><stop offset="0.9905" stop-color="#ff0600"/><stop offset="1.0000" stop-color="#ff0600"/></linearGradient><linearGradient id="gc26" gradientUnits="userSpaceOnUse" x1="997.0" x2="1337.0" y1="0" y2="0"><stop offset="0.0000" stop-color="#ff2500"/><stop offset="0.0513" stop-color="#ff2900"/><stop offset="0.1396" stop-color="#ff3500"/><stop offset="0.2278" stop-color="#ff4500"/><stop offset="0.2866" stop-color="#ff5a00"/><stop offset="0.3219" stop-color="#ff6900"/><stop offset="0.3454" stop-color="#ff7e00"/><stop offset="0.3660" stop-color="#ff9700"/><stop offset="0.3807" stop-color="#ffb000"/><stop offset="0.3896" stop-color="#ffcc00"/><stop offset="0.3969" stop-color="#fff300"/><stop offset="0.4043" stop-color="#ffff00"/><stop offset="0.4116" stop-color="#fff300"/><stop offset="0.4190" stop-color="#ffc100"/><stop offset="0.4278" stop-color="#ff9a00"/><stop offset="0.4425" stop-color="#ff8700"/><stop offset="0.4631" stop-color="#ff7200"/><stop offset="0.4866" stop-color="#ff6500"/><stop offset="0.5219" stop-color="#ff5a00"/><stop offset="0.5807" stop-color="#ff4900"/><stop offset="0.6690" stop-color="#ff3300"/><stop offset="0.7572" stop-color="#ff2000"/><stop offset="0.8748" stop-color="#ff0f00"/><stop offset="0.9925" stop-color="#ff0600"/><stop offset="1.0000" stop-color="#ff0600"/></linearGradient><linearGradient id="gc27" gradientUnits="userSpaceOnUse" x1="997.0" x2="1337.0" y1="0" y2="0"><stop offset="0.0000" stop-color="#ff2400"/><stop offset="0.0534" stop-color="#ff2800"/><stop offset="0.1416" stop-color="#ff3500"/><stop offset="0.2298" stop-color="#ff4500"/><stop offset="0.2886" stop-color="#ff5a00"/><stop offset="0.3239" stop-color="#ff6900"/><stop offset="0.3475" stop-color="#ff7e00"/><stop offset="0.3681" stop-color="#ff9700"/><stop offset="0.3828" stop-color="#ffb000"/><stop offset="0.3916" stop-color="#ffcc00"/><stop offset="0.3989" stop-color="#fff300"/><stop offset="0.4063" stop-color="#ffff00"/><stop offset="0.4136" stop-color="#fff300"/><stop offset="0.4210" stop-color="#ffc100"/><stop offset="0.4298" stop-color="#ff9a00"/><stop offset="0.4445" stop-color="#ff8700"/><stop offset="0.4651" stop-color="#ff7200"/><stop offset="0.4886" stop-color="#ff6500"/><stop offset="0.5239" stop-color="#ff5a00"/><stop offset="0.5828" stop-color="#ff4900"/><stop offset="0.6710" stop-color="#ff3400"/><stop offset="0.7592" stop-color="#ff2000"/><stop offset="0.8769" stop-color="#ff0f00"/><stop offset="0.9945" stop-color="#ff0600"/><stop offset="1.0000" stop-color="#ff0600"/></linearGradient><linearGradient id="gc28" gradientUnits="userSpaceOnUse" x1="997.0" x2="1337.0" y1="0" y2="0"><stop offset="0.0000" stop-color="#ff2300"/><stop offset="0.0554" stop-color="#ff2700"/><stop offset="0.1436" stop-color="#ff3400"/><stop offset="0.2319" stop-color="#ff4400"/><stop offset="0.2907" stop-color="#ff5a00"/><stop offset="0.3260" stop-color="#ff6900"/><stop offset="0.3495" stop-color="#ff7e00"/><stop offset="0.3701" stop-color="#ff9600"/><stop offset="0.3848" stop-color="#ffb000"/><stop offset="0.3936" stop-color="#ffcc00"/><stop offset="0.4010" stop-color="#fff300"/><stop offset="0.4083" stop-color="#ffff00"/><stop offset="0.4157" stop-color="#fff300"/><stop offset="0.4230" stop-color="#ffc000"/><stop offset="0.4319" stop-color="#ff9a00"/><stop offset="0.4466" stop-color="#ff8700"/><stop offset="0.4671" stop-color="#ff7200"/><stop offset="0.4907" stop-color="#ff6500"/><stop offset="0.5260" stop-color="#ff5a00"/><stop offset="0.5848" stop-color="#ff4a00"/><stop offset="0.6730" stop-color="#ff3400"/><stop offset="0.7613" stop-color="#ff2000"/><stop offset="0.8789" stop-color="#ff0f00"/><stop offset="0.9966" stop-color="#ff0600"/><stop offset="1.0000" stop-color="#ff0600"/></linearGradient><linearGradient id="gc29" gradientUnits="userSpaceOnUse" x1="997.0" x2="1337.0" y1="0" y2="0"><stop offset="0.0000" stop-color="#ff2200"/><stop offset="0.0574" stop-color="#ff2700"/><stop offset="0.1457" stop-color="#ff3400"/><stop offset="0.2339" stop-color="#ff4400"/><stop offset="0.2927" stop-color="#ff5a00"/><stop offset="0.3280" stop-color="#ff6800"/><stop offset="0.3515" stop-color="#ff7d00"/><stop offset="0.3721" stop-color="#ff9600"/><stop offset="0.3868" stop-color="#ffb000"/><stop offset="0.3957" stop-color="#ffcc00"/><stop offset="0.4030" stop-color="#fff300"/><stop offset="0.4104" stop-color="#ffff00"/><stop offset="0.4177" stop-color="#fff200"/><stop offset="0.4251" stop-color="#ffc000"/><stop offset="0.4339" stop-color="#ff9a00"/><stop offset="0.4486" stop-color="#ff8700"/><stop offset="0.4692" stop-color="#ff7100"/><stop offset="0.4927" stop-color="#ff6500"/><stop offset="0.5280" stop-color="#ff5a00"/><stop offset="0.5868" stop-color="#ff4a00"/><stop offset="0.6751" stop-color="#ff3400"/><stop offset="0.7633" stop-color="#ff2000"/><stop offset="0.8809" stop-color="#ff0f00"/><stop offset="0.9986" stop-color="#ff0600"/><stop offset="1.0000" stop-color="#ff0600"/></linearGradient><linearGradient id="gc30" gradientUnits="userSpaceOnUse" x1="997.0" x2="1337.0" y1="0" y2="0"><stop offset="0.0000" stop-color="#ff2100"/><stop offset="0.0594" stop-color="#ff2600"/><stop offset="0.1477" stop-color="#ff3300"/><stop offset="0.2359" stop-color="#ff4400"/><stop offset="0.2947" stop-color="#ff5900"/><stop offset="0.3300" stop-color="#ff6800"/><stop offset="0.3536" stop-color="#ff7d00"/><stop offset="0.3742" stop-color="#ff9600"/><stop offset="0.3889" stop-color="#ffb000"/><stop offset="0.3977" stop-color="#ffcc00"/><stop offset="0.4050" stop-color="#fff200"/><stop offset="0.4124" stop-color="#ffff00"/><stop offset="0.4197" stop-color="#fff200"/><stop offset="0.4271" stop-color="#ffc000"/><stop offset="0.4359" stop-color="#ff9a00"/><stop offset="0.4506" stop-color="#ff8700"/><stop offset="0.4712" stop-color="#ff7100"/><stop offset="0.4947" stop-color="#ff6500"/><stop offset="0.5300" stop-color="#ff5a00"/><stop offset="0.5889" stop-color="#ff4a00"/><stop offset="0.6771" stop-color="#ff3400"/><stop offset="0.7653" stop-color="#ff2000"/><stop offset="0.8830" stop-color="#ff0f00"/><stop offset="1.0000" stop-color="#ff0600"/></linearGradient><linearGradient id="gc31" gradientUnits="userSpaceOnUse" x1="997.0" x2="1337.0" y1="0" y2="0"><stop offset="0.0000" stop-color="#ff2000"/><stop offset="0.0615" stop-color="#ff2600"/><stop offset="0.1497" stop-color="#ff3300"/><stop offset="0.2379" stop-color="#ff4300"/><stop offset="0.2968" stop-color="#ff5900"/><stop offset="0.3321" stop-color="#ff6800"/><stop offset="0.3556" stop-color="#ff7d00"/><stop offset="0.3762" stop-color="#ff9600"/><stop offset="0.3909" stop-color="#ffb000"/><stop offset="0.3997" stop-color="#ffcb00"/><stop offset="0.4071" stop-color="#fff200"/><stop offset="0.4144" stop-color="#ffff00"/><stop offset="0.4218" stop-color="#fff200"/><stop offset="0.4291" stop-color="#ffbf00"/><stop offset="0.4379" stop-color="#ff9a00"/><stop offset="0.4527" stop-color="#ff8700"/><stop offset="0.4732" stop-color="#ff7100"/><stop offset="0.4968" stop-color="#ff6500"/><stop offset="0.5321" stop-color="#ff5a00"/><stop offset="0.5909" stop-color="#ff4a00"/><stop offset="0.6791" stop-color="#ff3400"/><stop offset="0.7674" stop-color="#ff2000"/><stop offset="0.8850" stop-color="#ff0f00"/><stop offset="1.0000" stop-color="#ff0600"/></linearGradient><linearGradient id="gc32" gradientUnits="userSpaceOnUse" x1="997.0" x2="1337.0" y1="0" y2="0"><stop offset="0.0000" stop-color="#ff1f00"/><stop offset="0.0635" stop-color="#ff2500"/><stop offset="0.1517" stop-color="#ff3200"/><stop offset="0.2400" stop-color="#ff4300"/><stop offset="0.2988" stop-color="#ff5900"/><stop offset="0.3341" stop-color="#ff6800"/><stop offset="0.3576" stop-color="#ff7d00"/><stop offset="0.3782" stop-color="#ff9500"/><stop offset="0.3929" stop-color="#ffaf00"/><stop offset="0.4017" stop-color="#ffcb00"/><stop offset="0.4091" stop-color="#fff200"/><stop offset="0.4165" stop-color="#ffff00"/><stop offset="0.4238" stop-color="#fff200"/><stop offset="0.4312" stop-color="#ffbf00"/><stop offset="0.4400" stop-color="#ff9900"/><stop offset="0.4547" stop-color="#ff8700"/><stop offset="0.4753" stop-color="#ff7100"/><stop offset="0.4988" stop-color="#ff6500"/><stop offset="0.5341" stop-color="#ff5a00"/><stop offset="0.5929" stop-color="#ff4a00"/><stop offset="0.6812" stop-color="#ff3400"/><stop offset="0.7694" stop-color="#ff2000"/><stop offset="0.8870" stop-color="#ff0f00"/><stop offset="1.0000" stop-color="#ff0600"/></linearGradient><linearGradient id="gc33" gradientUnits="userSpaceOnUse" x1="997.0" x2="1337.0" y1="0" y2="0"><stop offset="0.0000" stop-color="#ff1e00"/><stop offset="0.0654" stop-color="#ff2400"/><stop offset="0.1537" stop-color="#ff3200"/><stop offset="0.2419" stop-color="#ff4300"/><stop offset="0.3007" stop-color="#ff5900"/><stop offset="0.3360" stop-color="#ff6700"/><stop offset="0.3596" stop-color="#ff7c00"/><stop offset="0.3801" stop-color="#ff9500"/><stop offset="0.3949" stop-color="#ffaf00"/><stop offset="0.4037" stop-color="#ffcb00"/><stop offset="0.4110" stop-color="#fff200"/><stop offset="0.4184" stop-color="#ffff00"/><stop offset="0.4257" stop-color="#fff100"/><stop offset="0.4331" stop-color="#ffbf00"/><stop offset="0.4419" stop-color="#ff9900"/><stop offset="0.4566" stop-color="#ff8600"/><stop offset="0.4772" stop-color="#ff7000"/><stop offset="0.5007" stop-color="#ff6500"/><stop offset="0.5360" stop-color="#ff5a00"/><stop offset="0.5949" stop-color="#ff4a00"/><stop offset="0.6831" stop-color="#ff3400"/><stop offset="0.7713" stop-color="#ff2000"/><stop offset="0.8890" stop-color="#ff0e00"/><stop offset="1.0000" stop-color="#ff0600"/></linearGradient><linearGradient id="gc34" gradientUnits="userSpaceOnUse" x1="997.0" x2="1337.0" y1="0" y2="0"><stop offset="0.0000" stop-color="#ff1e00"/><stop offset="0.0671" stop-color="#ff2400"/><stop offset="0.1553" stop-color="#ff3100"/><stop offset="0.2436" stop-color="#ff4200"/><stop offset="0.3024" stop-color="#ff5900"/><stop offset="0.3377" stop-color="#ff6700"/><stop offset="0.3612" stop-color="#ff7c00"/><stop offset="0.3818" stop-color="#ff9500"/><stop offset="0.3965" stop-color="#ffaf00"/><stop offset="0.4053" stop-color="#ffcb00"/><stop offset="0.4127" stop-color="#fff100"/><stop offset="0.4200" stop-color="#ffff00"/><stop offset="0.4274" stop-color="#fff100"/><stop offset="0.4347" stop-color="#ffbe00"/><stop offset="0.4436" stop-color="#ff9900"/><stop offset="0.4583" stop-color="#ff8600"/><stop offset="0.4788" stop-color="#ff7000"/><stop offset="0.5024" stop-color="#ff6500"/><stop offset="0.5377" stop-color="#ff5a00"/><stop offset="0.5965" stop-color="#ff4b00"/><stop offset="0.6847" stop-color="#ff3400"/><stop offset="0.7730" stop-color="#ff2000"/><stop offset="0.8906" stop-color="#ff0e00"/><stop offset="1.0000" stop-color="#ff0600"/></linearGradient><linearGradient id="gc35" gradientUnits="userSpaceOnUse" x1="997.0" x2="1337.0" y1="0" y2="0"><stop offset="0.0000" stop-color="#ff1d00"/><stop offset="0.0687" stop-color="#ff2300"/><stop offset="0.1570" stop-color="#ff3100"/><stop offset="0.2452" stop-color="#ff4200"/><stop offset="0.3040" stop-color="#ff5800"/><stop offset="0.3393" stop-color="#ff6700"/><stop offset="0.3628" stop-color="#ff7c00"/><stop offset="0.3834" stop-color="#ff9500"/><stop offset="0.3981" stop-color="#ffaf00"/><stop offset="0.4070" stop-color="#ffcb00"/><stop offset="0.4143" stop-color="#fff100"/><stop offset="0.4217" stop-color="#ffff00"/><stop offset="0.4290" stop-color="#fff100"/><stop offset="0.4364" stop-color="#ffbe00"/><stop offset="0.4452" stop-color="#ff9900"/><stop offset="0.4599" stop-color="#ff8600"/><stop offset="0.4805" stop-color="#ff7000"/><stop offset="0.5040" stop-color="#ff6400"/><stop offset="0.5393" stop-color="#ff5a00"/><stop offset="0.5981" stop-color="#ff4b00"/><stop offset="0.6864" stop-color="#ff3500"/><stop offset="0.7746" stop-color="#ff2000"/><stop offset="0.8923" stop-color="#ff0e00"/><stop offset="1.0000" stop-color="#ff0600"/></linearGradient><linearGradient id="gc36" gradientUnits="userSpaceOnUse" x1="997.0" x2="1337.0" y1="0" y2="0"><stop offset="0.0000" stop-color="#ff1c00"/><stop offset="0.0704" stop-color="#ff2300"/><stop offset="0.1586" stop-color="#ff3100"/><stop offset="0.2468" stop-color="#ff4200"/><stop offset="0.3057" stop-color="#ff5800"/><stop offset="0.3410" stop-color="#ff6600"/><stop offset="0.3645" stop-color="#ff7b00"/><stop offset="0.3851" stop-color="#ff9400"/><stop offset="0.3998" stop-color="#ffaf00"/><stop offset="0.4086" stop-color="#ffcb00"/><stop offset="0.4160" stop-color="#fff100"/><stop offset="0.4233" stop-color="#ffff00"/><stop offset="0.4307" stop-color="#fff100"/><stop offset="0.4380" stop-color="#ffbe00"/><stop offset="0.4468" stop-color="#ff9900"/><stop offset="0.4615" stop-color="#ff8600"/><stop offset="0.4821" stop-color="#ff7000"/><stop offset="0.5057" stop-color="#ff6400"/><stop offset="0.5410" stop-color="#ff5a00"/><stop offset="0.5998" stop-color="#ff4b00"/><stop offset="0.6880" stop-color="#ff3500"/><stop offset="0.7763" stop-color="#ff2000"/><stop offset="0.8939" stop-color="#ff0e00"/><stop offset="1.0000" stop-color="#ff0600"/></linearGradient><linearGradient id="gc37" gradientUnits="userSpaceOnUse" x1="997.0" x2="1337.0" y1="0" y2="0"><stop offset="0.0000" stop-color="#ff1b00"/><stop offset="0.0720" stop-color="#ff2200"/><stop offset="0.1603" stop-color="#ff3000"/><stop offset="0.2485" stop-color="#ff4100"/><stop offset="0.3073" stop-color="#ff5800"/><stop offset="0.3426" stop-color="#ff6600"/><stop offset="0.3661" stop-color="#ff7b00"/><stop offset="0.3867" stop-color="#ff9400"/><stop offset="0.4014" stop-color="#ffaf00"/><stop offset="0.4103" stop-color="#ffca00"/><stop offset="0.4176" stop-color="#fff100"/><stop offset="0.4250" stop-color="#ffff00"/><stop offset="0.4323" stop-color="#fff000"/><stop offset="0.4397" stop-color="#ffbd00"/><stop offset="0.4485" stop-color="#ff9900"/><stop offset="0.4632" stop-color="#ff8600"/><stop offset="0.4838" stop-color="#ff7000"/><stop offset="0.5073" stop-color="#ff6400"/><stop offset="0.5426" stop-color="#ff5a00"/><stop offset="0.6014" stop-color="#ff4b00"/><stop offset="0.6897" stop-color="#ff3500"/><stop offset="0.7779" stop-color="#ff2000"/><stop offset="0.8955" stop-color="#ff0e00"/><stop offset="1.0000" stop-color="#ff0600"/></linearGradient><linearGradient id="gc38" gradientUnits="userSpaceOnUse" x1="997.0" x2="1337.0" y1="0" y2="0"><stop offset="0.0000" stop-color="#ff1a00"/><stop offset="0.0737" stop-color="#ff2200"/><stop offset="0.1619" stop-color="#ff3000"/><stop offset="0.2501" stop-color="#ff4100"/><stop offset="0.3090" stop-color="#ff5800"/><stop offset="0.3443" stop-color="#ff6600"/><stop offset="0.3678" stop-color="#ff7b00"/><stop offset="0.3884" stop-color="#ff9400"/><stop offset="0.4031" stop-color="#ffaf00"/><stop offset="0.4119" stop-color="#ffca00"/><stop offset="0.4193" stop-color="#fff000"/><stop offset="0.4266" stop-color="#ffff00"/><stop offset="0.4340" stop-color="#fff000"/><stop offset="0.4413" stop-color="#ffbd00"/><stop offset="0.4501" stop-color="#ff9900"/><stop offset="0.4648" stop-color="#ff8600"/><stop offset="0.4854" stop-color="#ff6f00"/><stop offset="0.5090" stop-color="#ff6400"/><stop offset="0.5443" stop-color="#ff5b00"/><stop offset="0.6031" stop-color="#ff4b00"/><stop offset="0.6913" stop-color="#ff3500"/><stop offset="0.7795" stop-color="#ff2000"/><stop offset="0.8972" stop-color="#ff0e00"/><stop offset="1.0000" stop-color="#ff0600"/></linearGradient><linearGradient id="gc39" gradientUnits="userSpaceOnUse" x1="997.0" x2="1337.0" y1="0" y2="0"><stop offset="0.0000" stop-color="#ff1900"/><stop offset="0.0753" stop-color="#ff2100"/><stop offset="0.1635" stop-color="#ff2f00"/><stop offset="0.2518" stop-color="#ff4100"/><stop offset="0.3106" stop-color="#ff5800"/><stop offset="0.3459" stop-color="#ff6600"/><stop offset="0.3694" stop-color="#ff7b00"/><stop offset="0.3900" stop-color="#ff9400"/><stop offset="0.4047" stop-color="#ffaf00"/><stop offset="0.4135" stop-color="#ffca00"/><stop offset="0.4209" stop-color="#fff000"/><stop offset="0.4282" stop-color="#ffff00"/><stop offset="0.4356" stop-color="#fff000"/><stop offset="0.4430" stop-color="#ffbd00"/><stop offset="0.4518" stop-color="#ff9800"/><stop offset="0.4665" stop-color="#ff8600"/><stop offset="0.4871" stop-color="#ff6f00"/><stop offset="0.5106" stop-color="#ff6400"/><stop offset="0.5459" stop-color="#ff5b00"/><stop offset="0.6047" stop-color="#ff4b00"/><stop offset="0.6930" stop-color="#ff3500"/><stop offset="0.7812" stop-color="#ff2100"/><stop offset="0.8988" stop-color="#ff0e00"/><stop offset="1.0000" stop-color="#ff0600"/></linearGradient><linearGradient id="gc40" gradientUnits="userSpaceOnUse" x1="997.0" x2="1337.0" y1="0" y2="0"><stop offset="0.0000" stop-color="#ff1900"/><stop offset="0.0770" stop-color="#ff2100"/><stop offset="0.1652" stop-color="#ff2f00"/><stop offset="0.2534" stop-color="#ff4100"/><stop offset="0.3122" stop-color="#ff5800"/><stop offset="0.3475" stop-color="#ff6600"/><stop offset="0.3711" stop-color="#ff7b00"/><stop offset="0.3917" stop-color="#ff9300"/><stop offset="0.4064" stop-color="#ffae00"/><stop offset="0.4152" stop-color="#ffc900"/><stop offset="0.4225" stop-color="#fff000"/><stop offset="0.4299" stop-color="#ffff00"/><stop offset="0.4372" stop-color="#fff000"/><stop offset="0.4446" stop-color="#ffbd00"/><stop offset="0.4534" stop-color="#ff9900"/><stop offset="0.4681" stop-color="#ff8600"/><stop offset="0.4887" stop-color="#ff7000"/><stop offset="0.5122" stop-color="#ff6500"/><stop offset="0.5475" stop-color="#ff5b00"/><stop offset="0.6064" stop-color="#ff4b00"/><stop offset="0.6946" stop-color="#ff3500"/><stop offset="0.7828" stop-color="#ff2000"/><stop offset="0.9005" stop-color="#ff0e00"/><stop offset="1.0000" stop-color="#ff0600"/></linearGradient><linearGradient id="gc41" gradientUnits="userSpaceOnUse" x1="997.0" x2="1337.0" y1="0" y2="0"><stop offset="0.0000" stop-color="#ff1800"/><stop offset="0.0786" stop-color="#ff2000"/><stop offset="0.1668" stop-color="#ff2f00"/><stop offset="0.2551" stop-color="#ff4000"/><stop offset="0.3139" stop-color="#ff5700"/><stop offset="0.3492" stop-color="#ff6600"/><stop offset="0.3727" stop-color="#ff7b00"/><stop offset="0.3933" stop-color="#ff9300"/><stop offset="0.4080" stop-color="#ffae00"/><stop offset="0.4168" stop-color="#ffc800"/><stop offset="0.4242" stop-color="#fff000"/><stop offset="0.4315" stop-color="#ffff00"/><stop offset="0.4389" stop-color="#fff000"/><stop offset="0.4462" stop-color="#ffbd00"/><stop offset="0.4551" stop-color="#ff9a00"/><stop offset="0.4698" stop-color="#ff8700"/><stop offset="0.4904" stop-color="#ff7000"/><stop offset="0.5139" stop-color="#ff6500"/><stop offset="0.5492" stop-color="#ff5b00"/><stop offset="0.6080" stop-color="#ff4b00"/><stop offset="0.6962" stop-color="#ff3500"/><stop offset="0.7845" stop-color="#ff2000"/><stop offset="0.9021" stop-color="#ff0e00"/><stop offset="1.0000" stop-color="#ff0600"/></linearGradient><linearGradient id="gc42" gradientUnits="userSpaceOnUse" x1="997.0" x2="1337.0" y1="0" y2="0"><stop offset="0.0000" stop-color="#ff1800"/><stop offset="0.0802" stop-color="#ff2000"/><stop offset="0.1685" stop-color="#ff2e00"/><stop offset="0.2567" stop-color="#ff4000"/><stop offset="0.3155" stop-color="#ff5700"/><stop offset="0.3508" stop-color="#ff6600"/><stop offset="0.3744" stop-color="#ff7b00"/><stop offset="0.3949" stop-color="#ff9300"/><stop offset="0.4097" stop-color="#ffad00"/><stop offset="0.4185" stop-color="#ffc700"/><stop offset="0.4258" stop-color="#ffef00"/><stop offset="0.4332" stop-color="#ffff00"/><stop offset="0.4405" stop-color="#fff000"/><stop offset="0.4479" stop-color="#ffbd00"/><stop offset="0.4567" stop-color="#ff9b00"/><stop offset="0.4714" stop-color="#ff8700"/><stop offset="0.4920" stop-color="#ff7100"/><stop offset="0.5155" stop-color="#ff6600"/><stop offset="0.5508" stop-color="#ff5b00"/><stop offset="0.6097" stop-color="#ff4b00"/><stop offset="0.6979" stop-color="#ff3500"/><stop offset="0.7861" stop-color="#ff2000"/><stop offset="0.9038" stop-color="#ff0e00"/><stop offset="1.0000" stop-color="#ff0600"/></linearGradient><linearGradient id="gc43" gradientUnits="userSpaceOnUse" x1="997.0" x2="1337.0" y1="0" y2="0"><stop offset="0.0000" stop-color="#ff1700"/><stop offset="0.0819" stop-color="#ff2000"/><stop offset="0.1701" stop-color="#ff2e00"/><stop offset="0.2584" stop-color="#ff4000"/><stop offset="0.3172" stop-color="#ff5700"/><stop offset="0.3525" stop-color="#ff6600"/><stop offset="0.3760" stop-color="#ff7b00"/><stop offset="0.3966" stop-color="#ff9300"/><stop offset="0.4113" stop-color="#ffad00"/><stop offset="0.4201" stop-color="#ffc600"/><stop offset="0.4275" stop-color="#ffef00"/><stop offset="0.4348" stop-color="#ffff00"/><stop offset="0.4422" stop-color="#fff000"/><stop offset="0.4495" stop-color="#ffbe00"/><stop offset="0.4584" stop-color="#ff9c00"/><stop offset="0.4731" stop-color="#ff8800"/><stop offset="0.4937" stop-color="#ff7200"/><stop offset="0.5172" stop-color="#ff6600"/><stop offset="0.5525" stop-color="#ff5b00"/><stop offset="0.6113" stop-color="#ff4b00"/><stop offset="0.6995" stop-color="#ff3500"/><stop offset="0.7878" stop-color="#ff2000"/><stop offset="0.9054" stop-color="#ff0e00"/><stop offset="1.0000" stop-color="#ff0600"/></linearGradient><linearGradient id="gc44" gradientUnits="userSpaceOnUse" x1="997.0" x2="1337.0" y1="0" y2="0"><stop offset="0.0000" stop-color="#ff1700"/><stop offset="0.0835" stop-color="#ff2000"/><stop offset="0.1718" stop-color="#ff2e00"/><stop offset="0.2600" stop-color="#ff4000"/><stop offset="0.3188" stop-color="#ff5700"/><stop offset="0.3541" stop-color="#ff6600"/><stop offset="0.3776" stop-color="#ff7b00"/><stop offset="0.3982" stop-color="#ff9300"/><stop offset="0.4129" stop-color="#ffac00"/><stop offset="0.4218" stop-color="#ffc500"/><stop offset="0.4291" stop-color="#ffef00"/><stop offset="0.4365" stop-color="#ffff00"/><stop offset="0.4438" stop-color="#fff000"/><stop offset="0.4512" stop-color="#ffbe00"/><stop offset="0.4600" stop-color="#ff9d00"/><stop offset="0.4747" stop-color="#ff8800"/><stop offset="0.4953" stop-color="#ff7300"/><stop offset="0.5188" stop-color="#ff6700"/><stop offset="0.5541" stop-color="#ff5b00"/><stop offset="0.6129" stop-color="#ff4b00"/><stop offset="0.7012" stop-color="#ff3400"/><stop offset="0.7894" stop-color="#ff2000"/><stop offset="0.9071" stop-color="#ff0e00"/><stop offset="1.0000" stop-color="#ff0600"/></linearGradient><linearGradient id="gc45" gradientUnits="userSpaceOnUse" x1="997.0" x2="1337.0" y1="0" y2="0"><stop offset="0.0000" stop-color="#ff1700"/><stop offset="0.0852" stop-color="#ff1f00"/><stop offset="0.1734" stop-color="#ff2e00"/><stop offset="0.2616" stop-color="#ff3f00"/><stop offset="0.3205" stop-color="#ff5700"/><stop offset="0.3558" stop-color="#ff6600"/><stop offset="0.3793" stop-color="#ff7b00"/><stop offset="0.3999" stop-color="#ff9300"/><stop offset="0.4146" stop-color="#ffac00"/><stop offset="0.4234" stop-color="#ffc500"/><stop offset="0.4308" stop-color="#ffef00"/><stop offset="0.4381" stop-color="#ffff00"/><stop offset="0.4455" stop-color="#fff000"/><stop offset="0.4528" stop-color="#ffbe00"/><stop offset="0.4616" stop-color="#ff9e00"/><stop offset="0.4764" stop-color="#ff8800"/><stop offset="0.4969" stop-color="#ff7300"/><stop offset="0.5205" stop-color="#ff6700"/><stop offset="0.5558" stop-color="#ff5c00"/><stop offset="0.6146" stop-color="#ff4b00"/><stop offset="0.7028" stop-color="#ff3400"/><stop offset="0.7911" stop-color="#ff2000"/><stop offset="0.9087" stop-color="#ff0e00"/><stop offset="1.0000" stop-color="#ff0600"/></linearGradient><linearGradient id="gc46" gradientUnits="userSpaceOnUse" x1="997.0" x2="1337.0" y1="0" y2="0"><stop offset="0.0000" stop-color="#ff1600"/><stop offset="0.0868" stop-color="#ff1f00"/><stop offset="0.1751" stop-color="#ff2d00"/><stop offset="0.2633" stop-color="#ff3f00"/><stop offset="0.3221" stop-color="#ff5700"/><stop offset="0.3574" stop-color="#ff6600"/><stop offset="0.3809" stop-color="#ff7b00"/><stop offset="0.4015" stop-color="#ff9200"/><stop offset="0.4162" stop-color="#ffab00"/><stop offset="0.4251" stop-color="#ffc400"/><stop offset="0.4324" stop-color="#ffef00"/><stop offset="0.4398" stop-color="#ffff00"/><stop offset="0.4471" stop-color="#fff000"/><stop offset="0.4545" stop-color="#ffbf00"/><stop offset="0.4633" stop-color="#ff9f00"/><stop offset="0.4780" stop-color="#ff8900"/><stop offset="0.4986" stop-color="#ff7400"/><stop offset="0.5221" stop-color="#ff6800"/><stop offset="0.5574" stop-color="#ff5c00"/><stop offset="0.6162" stop-color="#ff4b00"/><stop offset="0.7045" stop-color="#ff3400"/><stop offset="0.7927" stop-color="#ff2000"/><stop offset="0.9103" stop-color="#ff0d00"/><stop offset="1.0000" stop-color="#ff0600"/></linearGradient><linearGradient id="gc47" gradientUnits="userSpaceOnUse" x1="997.0" x2="1337.0" y1="0" y2="0"><stop offset="0.0000" stop-color="#ff1600"/><stop offset="0.0885" stop-color="#ff1f00"/><stop offset="0.1767" stop-color="#ff2d00"/><stop offset="0.2649" stop-color="#ff3f00"/><stop offset="0.3238" stop-color="#ff5700"/><stop offset="0.3591" stop-color="#ff6700"/><stop offset="0.3826" stop-color="#ff7b00"/><stop offset="0.4032" stop-color="#ff9200"/><stop offset="0.4179" stop-color="#ffab00"/><stop offset="0.4267" stop-color="#ffc300"/><stop offset="0.4341" stop-color="#ffef00"/><stop offset="0.4414" stop-color="#ffff00"/><stop offset="0.4488" stop-color="#fff000"/><stop offset="0.4561" stop-color="#ffbf00"/><stop offset="0.4649" stop-color="#ff9f00"/><stop offset="0.4796" stop-color="#ff8900"/><stop offset="0.5002" stop-color="#ff7500"/><stop offset="0.5238" stop-color="#ff6800"/><stop offset="0.5591" stop-color="#ff5c00"/><stop offset="0.6179" stop-color="#ff4b00"/><stop offset="0.7061" stop-color="#ff3400"/><stop offset="0.7943" stop-color="#ff2000"/><stop offset="0.9120" stop-color="#ff0d00"/><stop offset="1.0000" stop-color="#ff0600"/></linearGradient><linearGradient id="gc48" gradientUnits="userSpaceOnUse" x1="997.0" x2="1337.0" y1="0" y2="0"><stop offset="0.0000" stop-color="#ff1500"/><stop offset="0.0901" stop-color="#ff1e00"/><stop offset="0.1783" stop-color="#ff2d00"/><stop offset="0.2666" stop-color="#ff3f00"/><stop offset="0.3254" stop-color="#ff5700"/><stop offset="0.3607" stop-color="#ff6700"/><stop offset="0.3842" stop-color="#ff7b00"/><stop offset="0.4048" stop-color="#ff9200"/><stop offset="0.4195" stop-color="#ffaa00"/><stop offset="0.4283" stop-color="#ffc200"/><stop offset="0.4357" stop-color="#ffee00"/><stop offset="0.4430" stop-color="#ffff00"/><stop offset="0.4504" stop-color="#fff000"/><stop offset="0.4577" stop-color="#ffbf00"/><stop offset="0.4666" stop-color="#ffa000"/><stop offset="0.4813" stop-color="#ff8a00"/><stop offset="0.5018" stop-color="#ff7500"/><stop offset="0.5254" stop-color="#ff6900"/><stop offset="0.5607" stop-color="#ff5c00"/><stop offset="0.6195" stop-color="#ff4b00"/><stop offset="0.7077" stop-color="#ff3400"/><stop offset="0.7960" stop-color="#ff2000"/><stop offset="0.9136" stop-color="#ff0d00"/><stop offset="1.0000" stop-color="#ff0600"/></linearGradient><linearGradient id="gc49" gradientUnits="userSpaceOnUse" x1="997.0" x2="1337.0" y1="0" y2="0"><stop offset="0.0000" stop-color="#ff1500"/><stop offset="0.0913" stop-color="#ff1e00"/><stop offset="0.1796" stop-color="#ff2c00"/><stop offset="0.2678" stop-color="#ff3e00"/><stop offset="0.3266" stop-color="#ff5600"/><stop offset="0.3619" stop-color="#ff6700"/><stop offset="0.3855" stop-color="#ff7b00"/><stop offset="0.4060" stop-color="#ff9200"/><stop offset="0.4207" stop-color="#ffaa00"/><stop offset="0.4296" stop-color="#ffc100"/><stop offset="0.4369" stop-color="#ffee00"/><stop offset="0.4443" stop-color="#ffff00"/><stop offset="0.4516" stop-color="#fff000"/><stop offset="0.4590" stop-color="#ffc000"/><stop offset="0.4678" stop-color="#ffa100"/><stop offset="0.4825" stop-color="#ff8a00"/><stop offset="0.5031" stop-color="#ff7600"/><stop offset="0.5266" stop-color="#ff6a00"/><stop offset="0.5619" stop-color="#ff5c00"/><stop offset="0.6207" stop-color="#ff4a00"/><stop offset="0.7090" stop-color="#ff3400"/><stop offset="0.7972" stop-color="#ff1f00"/><stop offset="0.9149" stop-color="#ff0d00"/><stop offset="1.0000" stop-color="#ff0600"/></linearGradient><linearGradient id="gc50" gradientUnits="userSpaceOnUse" x1="997.0" x2="1337.0" y1="0" y2="0"><stop offset="0.0000" stop-color="#ff1500"/><stop offset="0.0926" stop-color="#ff1e00"/><stop offset="0.1808" stop-color="#ff2c00"/><stop offset="0.2691" stop-color="#ff3e00"/><stop offset="0.3279" stop-color="#ff5600"/><stop offset="0.3632" stop-color="#ff6700"/><stop offset="0.3867" stop-color="#ff7b00"/><stop offset="0.4073" stop-color="#ff9200"/><stop offset="0.4220" stop-color="#ffa900"/><stop offset="0.4308" stop-color="#ffc000"/><stop offset="0.4382" stop-color="#ffee00"/><stop offset="0.4455" stop-color="#ffff00"/><stop offset="0.4529" stop-color="#fff000"/><stop offset="0.4602" stop-color="#ffc000"/><stop offset="0.4691" stop-color="#ffa200"/><stop offset="0.4838" stop-color="#ff8a00"/><stop offset="0.5043" stop-color="#ff7700"/><stop offset="0.5279" stop-color="#ff6a00"/><stop offset="0.5632" stop-color="#ff5c00"/><stop offset="0.6220" stop-color="#ff4a00"/><stop offset="0.7102" stop-color="#ff3400"/><stop offset="0.7985" stop-color="#ff1f00"/><stop offset="0.9161" stop-color="#ff0d00"/><stop offset="1.0000" stop-color="#ff0500"/></linearGradient><linearGradient id="gc51" gradientUnits="userSpaceOnUse" x1="997.0" x2="1337.0" y1="0" y2="0"><stop offset="0.0000" stop-color="#ff1500"/><stop offset="0.0938" stop-color="#ff1e00"/><stop offset="0.1821" stop-color="#ff2c00"/><stop offset="0.2703" stop-color="#ff3e00"/><stop offset="0.3291" stop-color="#ff5600"/><stop offset="0.3644" stop-color="#ff6700"/><stop offset="0.3880" stop-color="#ff7c00"/><stop offset="0.4085" stop-color="#ff9100"/><stop offset="0.4232" stop-color="#ffa900"/><stop offset="0.4321" stop-color="#ffbf00"/><stop offset="0.4394" stop-color="#ffee00"/><stop offset="0.4468" stop-color="#ffff00"/><stop offset="0.4541" stop-color="#fff000"/><stop offset="0.4615" stop-color="#ffc000"/><stop offset="0.4703" stop-color="#ffa300"/><stop offset="0.4850" stop-color="#ff8b00"/><stop offset="0.5056" stop-color="#ff7700"/><stop offset="0.5291" stop-color="#ff6b00"/><stop offset="0.5644" stop-color="#ff5c00"/><stop offset="0.6232" stop-color="#ff4a00"/><stop offset="0.7115" stop-color="#ff3300"/><stop offset="0.7997" stop-color="#ff1f00"/><stop offset="0.9174" stop-color="#ff0d00"/><stop offset="1.0000" stop-color="#ff0500"/></linearGradient><linearGradient id="gc52" gradientUnits="userSpaceOnUse" x1="997.0" x2="1337.0" y1="0" y2="0"><stop offset="0.0000" stop-color="#ff1400"/><stop offset="0.0951" stop-color="#ff1d00"/><stop offset="0.1833" stop-color="#ff2c00"/><stop offset="0.2716" stop-color="#ff3e00"/><stop offset="0.3304" stop-color="#ff5600"/><stop offset="0.3657" stop-color="#ff6700"/><stop offset="0.3892" stop-color="#ff7c00"/><stop offset="0.4098" stop-color="#ff9100"/><stop offset="0.4245" stop-color="#ffa800"/><stop offset="0.4333" stop-color="#ffbe00"/><stop offset="0.4407" stop-color="#ffee00"/><stop offset="0.4480" stop-color="#ffff00"/><stop offset="0.4554" stop-color="#fff000"/><stop offset="0.4627" stop-color="#ffc100"/><stop offset="0.4716" stop-color="#ffa400"/><stop offset="0.4863" stop-color="#ff8b00"/><stop offset="0.5068" stop-color="#ff7800"/><stop offset="0.5304" stop-color="#ff6b00"/><stop offset="0.5657" stop-color="#ff5d00"/><stop offset="0.6245" stop-color="#ff4a00"/><stop offset="0.7127" stop-color="#ff3300"/><stop offset="0.8010" stop-color="#ff1f00"/><stop offset="0.9186" stop-color="#ff0d00"/><stop offset="1.0000" stop-color="#ff0500"/></linearGradient><linearGradient id="gc53" gradientUnits="userSpaceOnUse" x1="997.0" x2="1337.0" y1="0" y2="0"><stop offset="0.0000" stop-color="#ff1400"/><stop offset="0.0963" stop-color="#ff1d00"/><stop offset="0.1846" stop-color="#ff2b00"/><stop offset="0.2728" stop-color="#ff3d00"/><stop offset="0.3316" stop-color="#ff5600"/><stop offset="0.3669" stop-color="#ff6700"/><stop offset="0.3904" stop-color="#ff7c00"/><stop offset="0.4110" stop-color="#ff9100"/><stop offset="0.4257" stop-color="#ffa800"/><stop offset="0.4346" stop-color="#ffbd00"/><stop offset="0.4419" stop-color="#ffed00"/><stop offset="0.4493" stop-color="#ffff00"/><stop offset="0.4566" stop-color="#fff000"/><stop offset="0.4640" stop-color="#ffc100"/><stop offset="0.4728" stop-color="#ffa500"/><stop offset="0.4875" stop-color="#ff8b00"/><stop offset="0.5081" stop-color="#ff7900"/><stop offset="0.5316" stop-color="#ff6c00"/><stop offset="0.5669" stop-color="#ff5d00"/><stop offset="0.6257" stop-color="#ff4a00"/><stop offset="0.7140" stop-color="#ff3300"/><stop offset="0.8022" stop-color="#ff1f00"/><stop offset="0.9199" stop-color="#ff0d00"/><stop offset="1.0000" stop-color="#ff0500"/></linearGradient><linearGradient id="gc54" gradientUnits="userSpaceOnUse" x1="997.0" x2="1337.0" y1="0" y2="0"><stop offset="0.0000" stop-color="#ff1400"/><stop offset="0.0976" stop-color="#ff1d00"/><stop offset="0.1858" stop-color="#ff2b00"/><stop offset="0.2741" stop-color="#ff3d00"/><stop offset="0.3329" stop-color="#ff5600"/><stop offset="0.3682" stop-color="#ff6700"/><stop offset="0.3917" stop-color="#ff7c00"/><stop offset="0.4123" stop-color="#ff9100"/><stop offset="0.4270" stop-color="#ffa700"/><stop offset="0.4358" stop-color="#ffbc00"/><stop offset="0.4432" stop-color="#ffed00"/><stop offset="0.4505" stop-color="#ffff00"/><stop offset="0.4579" stop-color="#fff000"/><stop offset="0.4652" stop-color="#ffc100"/><stop offset="0.4741" stop-color="#ffa600"/><stop offset="0.4888" stop-color="#ff8c00"/><stop offset="0.5093" stop-color="#ff7a00"/><stop offset="0.5329" stop-color="#ff6c00"/><stop offset="0.5682" stop-color="#ff5d00"/><stop offset="0.6270" stop-color="#ff4a00"/><stop offset="0.7152" stop-color="#ff3300"/><stop offset="0.8035" stop-color="#ff1f00"/><stop offset="0.9211" stop-color="#ff0d00"/><stop offset="1.0000" stop-color="#ff0500"/></linearGradient><linearGradient id="gc55" gradientUnits="userSpaceOnUse" x1="997.0" x2="1337.0" y1="0" y2="0"><stop offset="0.0000" stop-color="#ff1400"/><stop offset="0.0988" stop-color="#ff1d00"/><stop offset="0.1871" stop-color="#ff2b00"/><stop offset="0.2753" stop-color="#ff3d00"/><stop offset="0.3341" stop-color="#ff5600"/><stop offset="0.3694" stop-color="#ff6800"/><stop offset="0.3929" stop-color="#ff7c00"/><stop offset="0.4135" stop-color="#ff9100"/><stop offset="0.4282" stop-color="#ffa700"/><stop offset="0.4371" stop-color="#ffbb00"/><stop offset="0.4444" stop-color="#ffed00"/><stop offset="0.4518" stop-color="#ffff00"/><stop offset="0.4591" stop-color="#fff000"/><stop offset="0.4665" stop-color="#ffc100"/><stop offset="0.4753" stop-color="#ffa700"/><stop offset="0.4900" stop-color="#ff8c00"/><stop offset="0.5106" stop-color="#ff7a00"/><stop offset="0.5341" stop-color="#ff6d00"/><stop offset="0.5694" stop-color="#ff5d00"/><stop offset="0.6282" stop-color="#ff4a00"/><stop offset="0.7165" stop-color="#ff3300"/><stop offset="0.8047" stop-color="#ff1f00"/><stop offset="0.9224" stop-color="#ff0d00"/><stop offset="1.0000" stop-color="#ff0500"/></linearGradient><linearGradient id="gc56" gradientUnits="userSpaceOnUse" x1="997.0" x2="1337.0" y1="0" y2="0"><stop offset="0.0000" stop-color="#ff1300"/><stop offset="0.1001" stop-color="#ff1c00"/><stop offset="0.1883" stop-color="#ff2a00"/><stop offset="0.2766" stop-color="#ff3d00"/><stop offset="0.3354" stop-color="#ff5600"/><stop offset="0.3707" stop-color="#ff6800"/><stop offset="0.3942" stop-color="#ff7c00"/><stop offset="0.4148" stop-color="#ff9100"/><stop offset="0.4295" stop-color="#ffa600"/><stop offset="0.4383" stop-color="#ffba00"/><stop offset="0.4457" stop-color="#ffed00"/><stop offset="0.4530" stop-color="#ffff00"/><stop offset="0.4604" stop-color="#fff000"/><stop offset="0.4677" stop-color="#ffc200"/><stop offset="0.4766" stop-color="#ffa800"/><stop offset="0.4913" stop-color="#ff8d00"/><stop offset="0.5118" stop-color="#ff7b00"/><stop offset="0.5354" stop-color="#ff6d00"/><stop offset="0.5707" stop-color="#ff5d00"/><stop offset="0.6295" stop-color="#ff4a00"/><stop offset="0.7177" stop-color="#ff3300"/><stop offset="0.8060" stop-color="#ff1f00"/><stop offset="0.9236" stop-color="#ff0d00"/><stop offset="1.0000" stop-color="#ff0500"/></linearGradient><linearGradient id="gc57" gradientUnits="userSpaceOnUse" x1="997.0" x2="1337.0" y1="0" y2="0"><stop offset="0.0000" stop-color="#ff1300"/><stop offset="0.1013" stop-color="#ff1c00"/><stop offset="0.1896" stop-color="#ff2a00"/><stop offset="0.2778" stop-color="#ff3c00"/><stop offset="0.3366" stop-color="#ff5500"/><stop offset="0.3719" stop-color="#ff6800"/><stop offset="0.3954" stop-color="#ff7c00"/><stop offset="0.4160" stop-color="#ff9000"/><stop offset="0.4307" stop-color="#ffa600"/><stop offset="0.4396" stop-color="#ffb900"/><stop offset="0.4469" stop-color="#ffed00"/><stop offset="0.4543" stop-color="#ffff00"/><stop offset="0.4616" stop-color="#fff000"/><stop offset="0.4690" stop-color="#ffc200"/><stop offset="0.4778" stop-color="#ffa800"/><stop offset="0.4925" stop-color="#ff8d00"/><stop offset="0.5131" stop-color="#ff7c00"/><stop offset="0.5366" stop-color="#ff6e00"/><stop offset="0.5719" stop-color="#ff5d00"/><stop offset="0.6307" stop-color="#ff4a00"/><stop offset="0.7190" stop-color="#ff3300"/><stop offset="0.8072" stop-color="#ff1f00"/><stop offset="0.9249" stop-color="#ff0d00"/><stop offset="1.0000" stop-color="#ff0500"/></linearGradient><linearGradient id="gc58" gradientUnits="userSpaceOnUse" x1="997.0" x2="1337.0" y1="0" y2="0"><stop offset="0.0000" stop-color="#ff1300"/><stop offset="0.1026" stop-color="#ff1c00"/><stop offset="0.1908" stop-color="#ff2a00"/><stop offset="0.2791" stop-color="#ff3c00"/><stop offset="0.3379" stop-color="#ff5500"/><stop offset="0.3732" stop-color="#ff6800"/><stop offset="0.3967" stop-color="#ff7c00"/><stop offset="0.4173" stop-color="#ff9000"/><stop offset="0.4320" stop-color="#ffa500"/><stop offset="0.4408" stop-color="#ffb800"/><stop offset="0.4482" stop-color="#ffed00"/><stop offset="0.4555" stop-color="#ffff00"/><stop offset="0.4629" stop-color="#fff000"/><stop offset="0.4702" stop-color="#ffc200"/><stop offset="0.4791" stop-color="#ffa900"/><stop offset="0.4938" stop-color="#ff8d00"/><stop offset="0.5143" stop-color="#ff7c00"/><stop offset="0.5379" stop-color="#ff6e00"/><stop offset="0.5732" stop-color="#ff5e00"/><stop offset="0.6320" stop-color="#ff4a00"/><stop offset="0.7202" stop-color="#ff3200"/><stop offset="0.8085" stop-color="#ff1f00"/><stop offset="0.9261" stop-color="#ff0d00"/><stop offset="1.0000" stop-color="#ff0500"/></linearGradient><linearGradient id="gc59" gradientUnits="userSpaceOnUse" x1="997.0" x2="1337.0" y1="0" y2="0"><stop offset="0.0000" stop-color="#ff1300"/><stop offset="0.1038" stop-color="#ff1b00"/><stop offset="0.1921" stop-color="#ff2a00"/><stop offset="0.2803" stop-color="#ff3c00"/><stop offset="0.3391" stop-color="#ff5500"/><stop offset="0.3744" stop-color="#ff6800"/><stop offset="0.3979" stop-color="#ff7c00"/><stop offset="0.4185" stop-color="#ff9000"/><stop offset="0.4332" stop-color="#ffa500"/><stop offset="0.4421" stop-color="#ffb700"/><stop offset="0.4494" stop-color="#ffec00"/><stop offset="0.4568" stop-color="#ffff00"/><stop offset="0.4641" stop-color="#fff000"/><stop offset="0.4715" stop-color="#ffc300"/><stop offset="0.4803" stop-color="#ffaa00"/><stop offset="0.4950" stop-color="#ff8e00"/><stop offset="0.5156" stop-color="#ff7d00"/><stop offset="0.5391" stop-color="#ff6f00"/><stop offset="0.5744" stop-color="#ff5e00"/><stop offset="0.6332" stop-color="#ff4a00"/><stop offset="0.7215" stop-color="#ff3200"/><stop offset="0.8097" stop-color="#ff1e00"/><stop offset="0.9274" stop-color="#ff0d00"/><stop offset="1.0000" stop-color="#ff0500"/></linearGradient><linearGradient id="gc60" gradientUnits="userSpaceOnUse" x1="997.0" x2="1337.0" y1="0" y2="0"><stop offset="0.0000" stop-color="#ff1300"/><stop offset="0.1051" stop-color="#ff1b00"/><stop offset="0.1933" stop-color="#ff2900"/><stop offset="0.2816" stop-color="#ff3c00"/><stop offset="0.3404" stop-color="#ff5500"/><stop offset="0.3757" stop-color="#ff6800"/><stop offset="0.3992" stop-color="#ff7c00"/><stop offset="0.4198" stop-color="#ff9000"/><stop offset="0.4345" stop-color="#ffa400"/><stop offset="0.4433" stop-color="#ffb600"/><stop offset="0.4507" stop-color="#ffec00"/><stop offset="0.4580" stop-color="#ffff00"/><stop offset="0.4654" stop-color="#fff000"/><stop offset="0.4727" stop-color="#ffc300"/><stop offset="0.4816" stop-color="#ffab00"/><stop offset="0.4963" stop-color="#ff8e00"/><stop offset="0.5168" stop-color="#ff7e00"/><stop offset="0.5404" stop-color="#ff6f00"/><stop offset="0.5757" stop-color="#ff5e00"/><stop offset="0.6345" stop-color="#ff4900"/><stop offset="0.7227" stop-color="#ff3200"/><stop offset="0.8110" stop-color="#ff1e00"/><stop offset="0.9286" stop-color="#ff0c00"/><stop offset="1.0000" stop-color="#ff0500"/></linearGradient><linearGradient id="gc61" gradientUnits="userSpaceOnUse" x1="997.0" x2="1337.0" y1="0" y2="0"><stop offset="0.0000" stop-color="#ff1200"/><stop offset="0.1063" stop-color="#ff1b00"/><stop offset="0.1946" stop-color="#ff2900"/><stop offset="0.2828" stop-color="#ff3b00"/><stop offset="0.3416" stop-color="#ff5500"/><stop offset="0.3769" stop-color="#ff6800"/><stop offset="0.4004" stop-color="#ff7c00"/><stop offset="0.4210" stop-color="#ff9000"/><stop offset="0.4357" stop-color="#ffa400"/><stop offset="0.4446" stop-color="#ffb500"/><stop offset="0.4519" stop-color="#ffec00"/><stop offset="0.4593" stop-color="#ffff00"/><stop offset="0.4666" stop-color="#fff000"/><stop offset="0.4740" stop-color="#ffc300"/><stop offset="0.4828" stop-color="#ffac00"/><stop offset="0.4975" stop-color="#ff8f00"/><stop offset="0.5181" stop-color="#ff7f00"/><stop offset="0.5416" stop-color="#ff7000"/><stop offset="0.5769" stop-color="#ff5e00"/><stop offset="0.6357" stop-color="#ff4900"/><stop offset="0.7240" stop-color="#ff3200"/><stop offset="0.8122" stop-color="#ff1e00"/><stop offset="0.9299" stop-color="#ff0c00"/><stop offset="1.0000" stop-color="#ff0500"/></linearGradient><linearGradient id="gc62" gradientUnits="userSpaceOnUse" x1="997.0" x2="1337.0" y1="0" y2="0"><stop offset="0.0000" stop-color="#ff1200"/><stop offset="0.1076" stop-color="#ff1b00"/><stop offset="0.1958" stop-color="#ff2900"/><stop offset="0.2840" stop-color="#ff3b00"/><stop offset="0.3429" stop-color="#ff5500"/><stop offset="0.3782" stop-color="#ff6900"/><stop offset="0.4017" stop-color="#ff7d00"/><stop offset="0.4223" stop-color="#ff9000"/><stop offset="0.4370" stop-color="#ffa300"/><stop offset="0.4458" stop-color="#ffb400"/><stop offset="0.4532" stop-color="#ffec00"/><stop offset="0.4605" stop-color="#ffff00"/><stop offset="0.4679" stop-color="#fff000"/><stop offset="0.4752" stop-color="#ffc400"/><stop offset="0.4840" stop-color="#ffad00"/><stop offset="0.4988" stop-color="#ff8f00"/><stop offset="0.5193" stop-color="#ff7f00"/><stop offset="0.5429" stop-color="#ff7100"/><stop offset="0.5782" stop-color="#ff5e00"/><stop offset="0.6370" stop-color="#ff4900"/><stop offset="0.7252" stop-color="#ff3200"/><stop offset="0.8135" stop-color="#ff1e00"/><stop offset="0.9311" stop-color="#ff0c00"/><stop offset="1.0000" stop-color="#ff0500"/></linearGradient><linearGradient id="gc63" gradientUnits="userSpaceOnUse" x1="997.0" x2="1337.0" y1="0" y2="0"><stop offset="0.0000" stop-color="#ff1200"/><stop offset="0.1088" stop-color="#ff1a00"/><stop offset="0.1971" stop-color="#ff2900"/><stop offset="0.2853" stop-color="#ff3b00"/><stop offset="0.3441" stop-color="#ff5500"/><stop offset="0.3794" stop-color="#ff6900"/><stop offset="0.4029" stop-color="#ff7d00"/><stop offset="0.4235" stop-color="#ff8f00"/><stop offset="0.4382" stop-color="#ffa300"/><stop offset="0.4471" stop-color="#ffb300"/><stop offset="0.4544" stop-color="#ffec00"/><stop offset="0.4618" stop-color="#ffff00"/><stop offset="0.4691" stop-color="#fff000"/><stop offset="0.4765" stop-color="#ffc400"/><stop offset="0.4853" stop-color="#ffae00"/><stop offset="0.5000" stop-color="#ff8f00"/><stop offset="0.5206" stop-color="#ff8000"/><stop offset="0.5441" stop-color="#ff7100"/><stop offset="0.5794" stop-color="#ff5e00"/><stop offset="0.6382" stop-color="#ff4900"/><stop offset="0.7265" stop-color="#ff3200"/><stop offset="0.8147" stop-color="#ff1e00"/><stop offset="0.9324" stop-color="#ff0c00"/><stop offset="1.0000" stop-color="#ff0500"/></linearGradient><linearGradient id="gc64" gradientUnits="userSpaceOnUse" x1="997.0" x2="1337.0" y1="0" y2="0"><stop offset="0.0000" stop-color="#ff1200"/><stop offset="0.1099" stop-color="#ff1a00"/><stop offset="0.1982" stop-color="#ff2900"/><stop offset="0.2864" stop-color="#ff3b00"/><stop offset="0.3452" stop-color="#ff5500"/><stop offset="0.3805" stop-color="#ff6900"/><stop offset="0.4041" stop-color="#ff7d00"/><stop offset="0.4246" stop-color="#ff8f00"/><stop offset="0.4393" stop-color="#ffa200"/><stop offset="0.4482" stop-color="#ffb300"/><stop offset="0.4555" stop-color="#ffec00"/><stop offset="0.4629" stop-color="#ffff00"/><stop offset="0.4702" stop-color="#fff000"/><stop offset="0.4776" stop-color="#ffc400"/><stop offset="0.4864" stop-color="#ffaf00"/><stop offset="0.5011" stop-color="#ff9000"/><stop offset="0.5217" stop-color="#ff8100"/><stop offset="0.5452" stop-color="#ff7200"/><stop offset="0.5805" stop-color="#ff5f00"/><stop offset="0.6393" stop-color="#ff4900"/><stop offset="0.7276" stop-color="#ff3200"/><stop offset="0.8158" stop-color="#ff1e00"/><stop offset="0.9335" stop-color="#ff0c00"/><stop offset="1.0000" stop-color="#ff0500"/></linearGradient><linearGradient id="gc65" gradientUnits="userSpaceOnUse" x1="997.0" x2="1337.0" y1="0" y2="0"><stop offset="0.0000" stop-color="#ff1200"/><stop offset="0.1109" stop-color="#ff1b00"/><stop offset="0.1992" stop-color="#ff2a00"/><stop offset="0.2874" stop-color="#ff3d00"/><stop offset="0.3462" stop-color="#ff5700"/><stop offset="0.3815" stop-color="#ff6b00"/><stop offset="0.4050" stop-color="#ff7e00"/><stop offset="0.4256" stop-color="#ff9100"/><stop offset="0.4403" stop-color="#ffa300"/><stop offset="0.4492" stop-color="#ffb400"/><stop offset="0.4565" stop-color="#ffec00"/><stop offset="0.4639" stop-color="#ffff00"/><stop offset="0.4712" stop-color="#fff000"/><stop offset="0.4786" stop-color="#ffc500"/><stop offset="0.4874" stop-color="#ffb000"/><stop offset="0.5021" stop-color="#ff9100"/><stop offset="0.5227" stop-color="#ff8200"/><stop offset="0.5462" stop-color="#ff7300"/><stop offset="0.5815" stop-color="#ff6000"/><stop offset="0.6403" stop-color="#ff4a00"/><stop offset="0.7286" stop-color="#ff3300"/><stop offset="0.8168" stop-color="#ff1f00"/><stop offset="0.9345" stop-color="#ff0c00"/><stop offset="1.0000" stop-color="#ff0500"/></linearGradient><linearGradient id="gc66" gradientUnits="userSpaceOnUse" x1="997.0" x2="1337.0" y1="0" y2="0"><stop offset="0.0000" stop-color="#ff1300"/><stop offset="0.1119" stop-color="#ff1d00"/><stop offset="0.2001" stop-color="#ff2b00"/><stop offset="0.2884" stop-color="#ff3f00"/><stop offset="0.3472" stop-color="#ff5800"/><stop offset="0.3825" stop-color="#ff6c00"/><stop offset="0.4060" stop-color="#ff7f00"/><stop offset="0.4266" stop-color="#ff9200"/><stop offset="0.4413" stop-color="#ffa400"/><stop offset="0.4501" stop-color="#ffb400"/><stop offset="0.4575" stop-color="#ffec00"/><stop offset="0.4648" stop-color="#ffff00"/><stop offset="0.4722" stop-color="#fff100"/><stop offset="0.4796" stop-color="#ffc600"/><stop offset="0.4884" stop-color="#ffb100"/><stop offset="0.5031" stop-color="#ff9300"/><stop offset="0.5237" stop-color="#ff8200"/><stop offset="0.5472" stop-color="#ff7400"/><stop offset="0.5825" stop-color="#ff6100"/><stop offset="0.6413" stop-color="#ff4c00"/><stop offset="0.7296" stop-color="#ff3400"/><stop offset="0.8178" stop-color="#ff2000"/><stop offset="0.9354" stop-color="#ff0d00"/><stop offset="1.0000" stop-color="#ff0600"/></linearGradient><linearGradient id="gc67" gradientUnits="userSpaceOnUse" x1="997.0" x2="1337.0" y1="0" y2="0"><stop offset="0.0000" stop-color="#ff1300"/><stop offset="0.1129" stop-color="#ff1e00"/><stop offset="0.2011" stop-color="#ff2d00"/><stop offset="0.2894" stop-color="#ff4100"/><stop offset="0.3482" stop-color="#ff5a00"/><stop offset="0.3835" stop-color="#ff6e00"/><stop offset="0.4070" stop-color="#ff8100"/><stop offset="0.4276" stop-color="#ff9300"/><stop offset="0.4423" stop-color="#ffa500"/><stop offset="0.4511" stop-color="#ffb500"/><stop offset="0.4585" stop-color="#ffec00"/><stop offset="0.4658" stop-color="#ffff00"/><stop offset="0.4732" stop-color="#fff100"/><stop offset="0.4805" stop-color="#ffc700"/><stop offset="0.4894" stop-color="#ffb100"/><stop offset="0.5041" stop-color="#ff9400"/><stop offset="0.5247" stop-color="#ff8300"/><stop offset="0.5482" stop-color="#ff7400"/><stop offset="0.5835" stop-color="#ff6300"/><stop offset="0.6423" stop-color="#ff4d00"/><stop offset="0.7305" stop-color="#ff3400"/><stop offset="0.8188" stop-color="#ff2100"/><stop offset="0.9364" stop-color="#ff0d00"/><stop offset="1.0000" stop-color="#ff0600"/></linearGradient><linearGradient id="gc68" gradientUnits="userSpaceOnUse" x1="997.0" x2="1337.0" y1="0" y2="0"><stop offset="0.0000" stop-color="#ff1400"/><stop offset="0.1139" stop-color="#ff1f00"/><stop offset="0.2021" stop-color="#ff2e00"/><stop offset="0.2903" stop-color="#ff4300"/><stop offset="0.3492" stop-color="#ff5c00"/><stop offset="0.3845" stop-color="#ff6f00"/><stop offset="0.4080" stop-color="#ff8200"/><stop offset="0.4286" stop-color="#ff9400"/><stop offset="0.4433" stop-color="#ffa600"/><stop offset="0.4521" stop-color="#ffb600"/><stop offset="0.4595" stop-color="#ffec00"/><stop offset="0.4668" stop-color="#ffff00"/><stop offset="0.4742" stop-color="#fff100"/><stop offset="0.4815" stop-color="#ffc800"/><stop offset="0.4903" stop-color="#ffb200"/><stop offset="0.5051" stop-color="#ff9500"/><stop offset="0.5256" stop-color="#ff8400"/><stop offset="0.5492" stop-color="#ff7500"/><stop offset="0.5845" stop-color="#ff6400"/><stop offset="0.6433" stop-color="#ff4e00"/><stop offset="0.7315" stop-color="#ff3500"/><stop offset="0.8198" stop-color="#ff2100"/><stop offset="0.9374" stop-color="#ff0d00"/><stop offset="1.0000" stop-color="#ff0600"/></linearGradient><linearGradient id="gc69" gradientUnits="userSpaceOnUse" x1="997.0" x2="1337.0" y1="0" y2="0"><stop offset="0.0000" stop-color="#ff1400"/><stop offset="0.1149" stop-color="#ff2000"/><stop offset="0.2031" stop-color="#ff3000"/><stop offset="0.2913" stop-color="#ff4400"/><stop offset="0.3502" stop-color="#ff5d00"/><stop offset="0.3854" stop-color="#ff7100"/><stop offset="0.4090" stop-color="#ff8300"/><stop offset="0.4296" stop-color="#ff9500"/><stop offset="0.4443" stop-color="#ffa700"/><stop offset="0.4531" stop-color="#ffb700"/><stop offset="0.4604" stop-color="#ffed00"/><stop offset="0.4678" stop-color="#ffff00"/><stop offset="0.4752" stop-color="#fff100"/><stop offset="0.4825" stop-color="#ffc800"/><stop offset="0.4913" stop-color="#ffb300"/><stop offset="0.5060" stop-color="#ff9700"/><stop offset="0.5266" stop-color="#ff8500"/><stop offset="0.5502" stop-color="#ff7600"/><stop offset="0.5854" stop-color="#ff6500"/><stop offset="0.6443" stop-color="#ff4f00"/><stop offset="0.7325" stop-color="#ff3600"/><stop offset="0.8207" stop-color="#ff2200"/><stop offset="0.9384" stop-color="#ff0e00"/><stop offset="1.0000" stop-color="#ff0700"/></linearGradient><linearGradient id="gc70" gradientUnits="userSpaceOnUse" x1="997.0" x2="1337.0" y1="0" y2="0"><stop offset="0.0000" stop-color="#ff1500"/><stop offset="0.1158" stop-color="#ff2100"/><stop offset="0.2041" stop-color="#ff3100"/><stop offset="0.2923" stop-color="#ff4600"/><stop offset="0.3511" stop-color="#ff5f00"/><stop offset="0.3864" stop-color="#ff7200"/><stop offset="0.4100" stop-color="#ff8400"/><stop offset="0.4306" stop-color="#ff9600"/><stop offset="0.4453" stop-color="#ffa800"/><stop offset="0.4541" stop-color="#ffb800"/><stop offset="0.4614" stop-color="#ffed00"/><stop offset="0.4688" stop-color="#ffff00"/><stop offset="0.4761" stop-color="#fff100"/><stop offset="0.4835" stop-color="#ffc900"/><stop offset="0.4923" stop-color="#ffb400"/><stop offset="0.5070" stop-color="#ff9800"/><stop offset="0.5276" stop-color="#ff8600"/><stop offset="0.5511" stop-color="#ff7700"/><stop offset="0.5864" stop-color="#ff6600"/><stop offset="0.6453" stop-color="#ff5100"/><stop offset="0.7335" stop-color="#ff3700"/><stop offset="0.8217" stop-color="#ff2300"/><stop offset="0.9394" stop-color="#ff0e00"/><stop offset="1.0000" stop-color="#ff0700"/></linearGradient><linearGradient id="gc71" gradientUnits="userSpaceOnUse" x1="997.0" x2="1337.0" y1="0" y2="0"><stop offset="0.0000" stop-color="#ff1500"/><stop offset="0.1168" stop-color="#ff2200"/><stop offset="0.2051" stop-color="#ff3200"/><stop offset="0.2933" stop-color="#ff4800"/><stop offset="0.3521" stop-color="#ff6100"/><stop offset="0.3874" stop-color="#ff7400"/><stop offset="0.4109" stop-color="#ff8600"/><stop offset="0.4315" stop-color="#ff9700"/><stop offset="0.4462" stop-color="#ffa900"/><stop offset="0.4551" stop-color="#ffb800"/><stop offset="0.4624" stop-color="#ffed00"/><stop offset="0.4698" stop-color="#ffff00"/><stop offset="0.4771" stop-color="#fff100"/><stop offset="0.4845" stop-color="#ffca00"/><stop offset="0.4933" stop-color="#ffb500"/><stop offset="0.5080" stop-color="#ff9900"/><stop offset="0.5286" stop-color="#ff8700"/><stop offset="0.5521" stop-color="#ff7800"/><stop offset="0.5874" stop-color="#ff6800"/><stop offset="0.6462" stop-color="#ff5200"/><stop offset="0.7345" stop-color="#ff3800"/><stop offset="0.8227" stop-color="#ff2400"/><stop offset="0.9404" stop-color="#ff0e00"/><stop offset="1.0000" stop-color="#ff0700"/></linearGradient><linearGradient id="gc72" gradientUnits="userSpaceOnUse" x1="997.0" x2="1337.0" y1="0" y2="0"><stop offset="0.0000" stop-color="#ff1600"/><stop offset="0.0002" stop-color="#ff1600"/><stop offset="0.1178" stop-color="#ff2300"/><stop offset="0.2060" stop-color="#ff3400"/><stop offset="0.2943" stop-color="#ff4a00"/><stop offset="0.3531" stop-color="#ff6200"/><stop offset="0.3884" stop-color="#ff7500"/><stop offset="0.4119" stop-color="#ff8700"/><stop offset="0.4325" stop-color="#ff9800"/><stop offset="0.4472" stop-color="#ffaa00"/><stop offset="0.4560" stop-color="#ffb900"/><stop offset="0.4634" stop-color="#ffed00"/><stop offset="0.4708" stop-color="#ffff00"/><stop offset="0.4781" stop-color="#fff100"/><stop offset="0.4855" stop-color="#ffcb00"/><stop offset="0.4943" stop-color="#ffb600"/><stop offset="0.5090" stop-color="#ff9b00"/><stop offset="0.5296" stop-color="#ff8800"/><stop offset="0.5531" stop-color="#ff7900"/><stop offset="0.5884" stop-color="#ff6900"/><stop offset="0.6472" stop-color="#ff5300"/><stop offset="0.7355" stop-color="#ff3900"/><stop offset="0.8237" stop-color="#ff2500"/><stop offset="0.9413" stop-color="#ff0e00"/><stop offset="1.0000" stop-color="#ff0800"/></linearGradient><linearGradient id="gc73" gradientUnits="userSpaceOnUse" x1="997.0" x2="1337.0" y1="0" y2="0"><stop offset="0.0000" stop-color="#ff1600"/><stop offset="0.0012" stop-color="#ff1600"/><stop offset="0.1188" stop-color="#ff2400"/><stop offset="0.2070" stop-color="#ff3500"/><stop offset="0.2953" stop-color="#ff4c00"/><stop offset="0.3541" stop-color="#ff6400"/><stop offset="0.3894" stop-color="#ff7700"/><stop offset="0.4129" stop-color="#ff8800"/><stop offset="0.4335" stop-color="#ff9900"/><stop offset="0.4482" stop-color="#ffab00"/><stop offset="0.4570" stop-color="#ffba00"/><stop offset="0.4644" stop-color="#ffed00"/><stop offset="0.4717" stop-color="#ffff00"/><stop offset="0.4791" stop-color="#fff100"/><stop offset="0.4864" stop-color="#ffcb00"/><stop offset="0.4953" stop-color="#ffb700"/><stop offset="0.5100" stop-color="#ff9c00"/><stop offset="0.5306" stop-color="#ff8800"/><stop offset="0.5541" stop-color="#ff7a00"/><stop offset="0.5894" stop-color="#ff6a00"/><stop offset="0.6482" stop-color="#ff5400"/><stop offset="0.7364" stop-color="#ff3a00"/><stop offset="0.8247" stop-color="#ff2600"/><stop offset="0.9423" stop-color="#ff0f00"/><stop offset="1.0000" stop-color="#ff0800"/></linearGradient><linearGradient id="gc74" gradientUnits="userSpaceOnUse" x1="997.0" x2="1337.0" y1="0" y2="0"><stop offset="0.0000" stop-color="#ff1600"/><stop offset="0.0021" stop-color="#ff1700"/><stop offset="0.1198" stop-color="#ff2600"/><stop offset="0.2080" stop-color="#ff3700"/><stop offset="0.2963" stop-color="#ff4e00"/><stop offset="0.3551" stop-color="#ff6600"/><stop offset="0.3904" stop-color="#ff7900"/><stop offset="0.4139" stop-color="#ff8900"/><stop offset="0.4345" stop-color="#ff9a00"/><stop offset="0.4492" stop-color="#ffac00"/><stop offset="0.4580" stop-color="#ffbb00"/><stop offset="0.4654" stop-color="#ffee00"/><stop offset="0.4727" stop-color="#ffff00"/><stop offset="0.4801" stop-color="#fff200"/><stop offset="0.4874" stop-color="#ffcc00"/><stop offset="0.4963" stop-color="#ffb800"/><stop offset="0.5110" stop-color="#ff9d00"/><stop offset="0.5315" stop-color="#ff8900"/><stop offset="0.5551" stop-color="#ff7b00"/><stop offset="0.5904" stop-color="#ff6b00"/><stop offset="0.6492" stop-color="#ff5500"/><stop offset="0.7374" stop-color="#ff3b00"/><stop offset="0.8257" stop-color="#ff2600"/><stop offset="0.9433" stop-color="#ff0f00"/><stop offset="1.0000" stop-color="#ff0800"/></linearGradient><linearGradient id="gc75" gradientUnits="userSpaceOnUse" x1="997.0" x2="1337.0" y1="0" y2="0"><stop offset="0.0000" stop-color="#ff1700"/><stop offset="0.0031" stop-color="#ff1700"/><stop offset="0.1208" stop-color="#ff2700"/><stop offset="0.2090" stop-color="#ff3800"/><stop offset="0.2972" stop-color="#ff5000"/><stop offset="0.3561" stop-color="#ff6700"/><stop offset="0.3914" stop-color="#ff7a00"/><stop offset="0.4149" stop-color="#ff8a00"/><stop offset="0.4355" stop-color="#ff9b00"/><stop offset="0.4502" stop-color="#ffad00"/><stop offset="0.4590" stop-color="#ffbc00"/><stop offset="0.4664" stop-color="#ffee00"/><stop offset="0.4737" stop-color="#ffff00"/><stop offset="0.4811" stop-color="#fff200"/><stop offset="0.4884" stop-color="#ffcd00"/><stop offset="0.4972" stop-color="#ffb900"/><stop offset="0.5119" stop-color="#ff9f00"/><stop offset="0.5325" stop-color="#ff8a00"/><stop offset="0.5561" stop-color="#ff7c00"/><stop offset="0.5914" stop-color="#ff6d00"/><stop offset="0.6502" stop-color="#ff5700"/><stop offset="0.7384" stop-color="#ff3c00"/><stop offset="0.8266" stop-color="#ff2700"/><stop offset="0.9443" stop-color="#ff0f00"/><stop offset="1.0000" stop-color="#ff0900"/></linearGradient><linearGradient id="gc76" gradientUnits="userSpaceOnUse" x1="997.0" x2="1337.0" y1="0" y2="0"><stop offset="0.0000" stop-color="#ff1700"/><stop offset="0.0041" stop-color="#ff1800"/><stop offset="0.1218" stop-color="#ff2800"/><stop offset="0.2100" stop-color="#ff3900"/><stop offset="0.2982" stop-color="#ff5200"/><stop offset="0.3570" stop-color="#ff6900"/><stop offset="0.3923" stop-color="#ff7c00"/><stop offset="0.4159" stop-color="#ff8c00"/><stop offset="0.4365" stop-color="#ff9d00"/><stop offset="0.4512" stop-color="#ffae00"/><stop offset="0.4600" stop-color="#ffbd00"/><stop offset="0.4673" stop-color="#ffee00"/><stop offset="0.4747" stop-color="#ffff00"/><stop offset="0.4820" stop-color="#fff200"/><stop offset="0.4894" stop-color="#ffce00"/><stop offset="0.4982" stop-color="#ffb900"/><stop offset="0.5129" stop-color="#ffa000"/><stop offset="0.5335" stop-color="#ff8b00"/><stop offset="0.5570" stop-color="#ff7d00"/><stop offset="0.5923" stop-color="#ff6e00"/><stop offset="0.6512" stop-color="#ff5800"/><stop offset="0.7394" stop-color="#ff3d00"/><stop offset="0.8276" stop-color="#ff2800"/><stop offset="0.9453" stop-color="#ff1000"/><stop offset="1.0000" stop-color="#ff0900"/></linearGradient><linearGradient id="gc77" gradientUnits="userSpaceOnUse" x1="997.0" x2="1337.0" y1="0" y2="0"><stop offset="0.0000" stop-color="#ff1800"/><stop offset="0.0051" stop-color="#ff1800"/><stop offset="0.1227" stop-color="#ff2900"/><stop offset="0.2110" stop-color="#ff3b00"/><stop offset="0.2992" stop-color="#ff5300"/><stop offset="0.3580" stop-color="#ff6b00"/><stop offset="0.3933" stop-color="#ff7d00"/><stop offset="0.4169" stop-color="#ff8d00"/><stop offset="0.4374" stop-color="#ff9e00"/><stop offset="0.4521" stop-color="#ffaf00"/><stop offset="0.4610" stop-color="#ffbd00"/><stop offset="0.4683" stop-color="#ffee00"/><stop offset="0.4757" stop-color="#ffff00"/><stop offset="0.4830" stop-color="#fff200"/><stop offset="0.4904" stop-color="#ffcf00"/><stop offset="0.4992" stop-color="#ffba00"/><stop offset="0.5139" stop-color="#ffa200"/><stop offset="0.5345" stop-color="#ff8c00"/><stop offset="0.5580" stop-color="#ff7e00"/><stop offset="0.5933" stop-color="#ff6f00"/><stop offset="0.6521" stop-color="#ff5900"/><stop offset="0.7404" stop-color="#ff3e00"/><stop offset="0.8286" stop-color="#ff2900"/><stop offset="0.9463" stop-color="#ff1000"/><stop offset="1.0000" stop-color="#ff0900"/></linearGradient><linearGradient id="gc78" gradientUnits="userSpaceOnUse" x1="997.0" x2="1337.0" y1="0" y2="0"><stop offset="0.0000" stop-color="#ff1800"/><stop offset="0.0061" stop-color="#ff1900"/><stop offset="0.1237" stop-color="#ff2a00"/><stop offset="0.2120" stop-color="#ff3c00"/><stop offset="0.3002" stop-color="#ff5500"/><stop offset="0.3590" stop-color="#ff6c00"/><stop offset="0.3943" stop-color="#ff7f00"/><stop offset="0.4178" stop-color="#ff8e00"/><stop offset="0.4384" stop-color="#ff9f00"/><stop offset="0.4531" stop-color="#ffb000"/><stop offset="0.4620" stop-color="#ffbe00"/><stop offset="0.4693" stop-color="#ffef00"/><stop offset="0.4767" stop-color="#ffff00"/><stop offset="0.4840" stop-color="#fff200"/><stop offset="0.4914" stop-color="#ffcf00"/><stop offset="0.5002" stop-color="#ffbb00"/><stop offset="0.5149" stop-color="#ffa300"/><stop offset="0.5355" stop-color="#ff8d00"/><stop offset="0.5590" stop-color="#ff7f00"/><stop offset="0.5943" stop-color="#ff7000"/><stop offset="0.6531" stop-color="#ff5a00"/><stop offset="0.7414" stop-color="#ff3f00"/><stop offset="0.8296" stop-color="#ff2a00"/><stop offset="0.9473" stop-color="#ff1000"/><stop offset="1.0000" stop-color="#ff0a00"/></linearGradient><linearGradient id="gc79" gradientUnits="userSpaceOnUse" x1="997.0" x2="1337.0" y1="0" y2="0"><stop offset="0.0000" stop-color="#ff1800"/><stop offset="0.0071" stop-color="#ff1900"/><stop offset="0.1247" stop-color="#ff2b00"/><stop offset="0.2129" stop-color="#ff3d00"/><stop offset="0.3012" stop-color="#ff5700"/><stop offset="0.3600" stop-color="#ff6e00"/><stop offset="0.3953" stop-color="#ff8000"/><stop offset="0.4188" stop-color="#ff8f00"/><stop offset="0.4394" stop-color="#ffa000"/><stop offset="0.4541" stop-color="#ffb100"/><stop offset="0.4629" stop-color="#ffbf00"/><stop offset="0.4703" stop-color="#ffef00"/><stop offset="0.4776" stop-color="#ffff00"/><stop offset="0.4850" stop-color="#fff200"/><stop offset="0.4924" stop-color="#ffd000"/><stop offset="0.5012" stop-color="#ffbc00"/><stop offset="0.5159" stop-color="#ffa400"/><stop offset="0.5365" stop-color="#ff8e00"/><stop offset="0.5600" stop-color="#ff8000"/><stop offset="0.5953" stop-color="#ff7200"/><stop offset="0.6541" stop-color="#ff5c00"/><stop offset="0.7424" stop-color="#ff4000"/><stop offset="0.8306" stop-color="#ff2b00"/><stop offset="0.9482" stop-color="#ff1100"/><stop offset="1.0000" stop-color="#ff0a00"/></linearGradient><linearGradient id="gc80" gradientUnits="userSpaceOnUse" x1="997.0" x2="1337.0" y1="0" y2="0"><stop offset="0.0000" stop-color="#ff1900"/><stop offset="0.0078" stop-color="#ff1a00"/><stop offset="0.1254" stop-color="#ff2c00"/><stop offset="0.2137" stop-color="#ff3f00"/><stop offset="0.3019" stop-color="#ff5900"/><stop offset="0.3607" stop-color="#ff7000"/><stop offset="0.3960" stop-color="#ff8200"/><stop offset="0.4195" stop-color="#ff9100"/><stop offset="0.4401" stop-color="#ffa100"/><stop offset="0.4548" stop-color="#ffb100"/><stop offset="0.4637" stop-color="#ffc000"/><stop offset="0.4710" stop-color="#ffef00"/><stop offset="0.4784" stop-color="#ffff00"/><stop offset="0.4857" stop-color="#fff200"/><stop offset="0.4931" stop-color="#ffd100"/><stop offset="0.5019" stop-color="#ffbd00"/><stop offset="0.5166" stop-color="#ffa600"/><stop offset="0.5372" stop-color="#ff8e00"/><stop offset="0.5607" stop-color="#ff8100"/><stop offset="0.5960" stop-color="#ff7300"/><stop offset="0.6548" stop-color="#ff5d00"/><stop offset="0.7431" stop-color="#ff4100"/><stop offset="0.8313" stop-color="#ff2c00"/><stop offset="0.9490" stop-color="#ff1100"/><stop offset="1.0000" stop-color="#ff0b00"/></linearGradient><linearGradient id="gc81" gradientUnits="userSpaceOnUse" x1="997.0" x2="1337.0" y1="0" y2="0"><stop offset="0.0000" stop-color="#ff1900"/><stop offset="0.0085" stop-color="#ff1a00"/><stop offset="0.1261" stop-color="#ff2d00"/><stop offset="0.2144" stop-color="#ff4000"/><stop offset="0.3026" stop-color="#ff5b00"/><stop offset="0.3614" stop-color="#ff7100"/><stop offset="0.3967" stop-color="#ff8300"/><stop offset="0.4203" stop-color="#ff9200"/><stop offset="0.4409" stop-color="#ffa200"/><stop offset="0.4556" stop-color="#ffb200"/><stop offset="0.4644" stop-color="#ffc100"/><stop offset="0.4717" stop-color="#ffef00"/><stop offset="0.4791" stop-color="#ffff00"/><stop offset="0.4864" stop-color="#fff300"/><stop offset="0.4938" stop-color="#ffd200"/><stop offset="0.5026" stop-color="#ffbe00"/><stop offset="0.5173" stop-color="#ffa700"/><stop offset="0.5379" stop-color="#ff8f00"/><stop offset="0.5614" stop-color="#ff8200"/><stop offset="0.5967" stop-color="#ff7400"/><stop offset="0.6556" stop-color="#ff5e00"/><stop offset="0.7438" stop-color="#ff4200"/><stop offset="0.8320" stop-color="#ff2c00"/><stop offset="0.9497" stop-color="#ff1100"/><stop offset="1.0000" stop-color="#ff0b00"/></linearGradient><linearGradient id="gc82" gradientUnits="userSpaceOnUse" x1="997.0" x2="1337.0" y1="0" y2="0"><stop offset="0.0000" stop-color="#ff1900"/><stop offset="0.0092" stop-color="#ff1b00"/><stop offset="0.1269" stop-color="#ff2f00"/><stop offset="0.2151" stop-color="#ff4200"/><stop offset="0.3033" stop-color="#ff5d00"/><stop offset="0.3622" stop-color="#ff7300"/><stop offset="0.3975" stop-color="#ff8500"/><stop offset="0.4210" stop-color="#ff9300"/><stop offset="0.4416" stop-color="#ffa300"/><stop offset="0.4563" stop-color="#ffb300"/><stop offset="0.4651" stop-color="#ffc100"/><stop offset="0.4725" stop-color="#ffef00"/><stop offset="0.4798" stop-color="#ffff00"/><stop offset="0.4872" stop-color="#fff300"/><stop offset="0.4945" stop-color="#ffd200"/><stop offset="0.5033" stop-color="#ffbf00"/><stop offset="0.5180" stop-color="#ffa800"/><stop offset="0.5386" stop-color="#ff9000"/><stop offset="0.5622" stop-color="#ff8200"/><stop offset="0.5975" stop-color="#ff7500"/><stop offset="0.6563" stop-color="#ff5f00"/><stop offset="0.7445" stop-color="#ff4300"/><stop offset="0.8328" stop-color="#ff2d00"/><stop offset="0.9504" stop-color="#ff1100"/><stop offset="1.0000" stop-color="#ff0b00"/></linearGradient><linearGradient id="gc83" gradientUnits="userSpaceOnUse" x1="997.0" x2="1337.0" y1="0" y2="0"><stop offset="0.0000" stop-color="#ff1a00"/><stop offset="0.0099" stop-color="#ff1b00"/><stop offset="0.1276" stop-color="#ff3000"/><stop offset="0.2158" stop-color="#ff4300"/><stop offset="0.3041" stop-color="#ff5f00"/><stop offset="0.3629" stop-color="#ff7500"/><stop offset="0.3982" stop-color="#ff8600"/><stop offset="0.4217" stop-color="#ff9400"/><stop offset="0.4423" stop-color="#ffa400"/><stop offset="0.4570" stop-color="#ffb400"/><stop offset="0.4658" stop-color="#ffc200"/><stop offset="0.4732" stop-color="#fff000"/><stop offset="0.4805" stop-color="#ffff00"/><stop offset="0.4879" stop-color="#fff300"/><stop offset="0.4952" stop-color="#ffd300"/><stop offset="0.5041" stop-color="#ffc000"/><stop offset="0.5188" stop-color="#ffaa00"/><stop offset="0.5394" stop-color="#ff9100"/><stop offset="0.5629" stop-color="#ff8300"/><stop offset="0.5982" stop-color="#ff7700"/><stop offset="0.6570" stop-color="#ff6000"/><stop offset="0.7452" stop-color="#ff4400"/><stop offset="0.8335" stop-color="#ff2e00"/><stop offset="0.9511" stop-color="#ff1200"/><stop offset="1.0000" stop-color="#ff0c00"/></linearGradient><linearGradient id="gc84" gradientUnits="userSpaceOnUse" x1="997.0" x2="1337.0" y1="0" y2="0"><stop offset="0.0000" stop-color="#ff1a00"/><stop offset="0.0107" stop-color="#ff1c00"/><stop offset="0.1283" stop-color="#ff3100"/><stop offset="0.2165" stop-color="#ff4400"/><stop offset="0.3048" stop-color="#ff6100"/><stop offset="0.3636" stop-color="#ff7600"/><stop offset="0.3989" stop-color="#ff8800"/><stop offset="0.4224" stop-color="#ff9500"/><stop offset="0.4430" stop-color="#ffa500"/><stop offset="0.4577" stop-color="#ffb500"/><stop offset="0.4665" stop-color="#ffc300"/><stop offset="0.4739" stop-color="#fff000"/><stop offset="0.4813" stop-color="#ffff00"/><stop offset="0.4886" stop-color="#fff300"/><stop offset="0.4960" stop-color="#ffd400"/><stop offset="0.5048" stop-color="#ffc000"/><stop offset="0.5195" stop-color="#ffab00"/><stop offset="0.5401" stop-color="#ff9200"/><stop offset="0.5636" stop-color="#ff8400"/><stop offset="0.5989" stop-color="#ff7800"/><stop offset="0.6577" stop-color="#ff6200"/><stop offset="0.7460" stop-color="#ff4400"/><stop offset="0.8342" stop-color="#ff2f00"/><stop offset="0.9518" stop-color="#ff1200"/><stop offset="1.0000" stop-color="#ff0c00"/></linearGradient><linearGradient id="gc85" gradientUnits="userSpaceOnUse" x1="997.0" x2="1337.0" y1="0" y2="0"><stop offset="0.0000" stop-color="#ff1a00"/><stop offset="0.0114" stop-color="#ff1c00"/><stop offset="0.1290" stop-color="#ff3200"/><stop offset="0.2173" stop-color="#ff4600"/><stop offset="0.3055" stop-color="#ff6200"/><stop offset="0.3643" stop-color="#ff7800"/><stop offset="0.3996" stop-color="#ff8a00"/><stop offset="0.4231" stop-color="#ff9700"/><stop offset="0.4437" stop-color="#ffa600"/><stop offset="0.4584" stop-color="#ffb600"/><stop offset="0.4673" stop-color="#ffc400"/><stop offset="0.4746" stop-color="#fff000"/><stop offset="0.4820" stop-color="#ffff00"/><stop offset="0.4893" stop-color="#fff300"/><stop offset="0.4967" stop-color="#ffd500"/><stop offset="0.5055" stop-color="#ffc100"/><stop offset="0.5202" stop-color="#ffac00"/><stop offset="0.5408" stop-color="#ff9300"/><stop offset="0.5643" stop-color="#ff8500"/><stop offset="0.5996" stop-color="#ff7900"/><stop offset="0.6584" stop-color="#ff6300"/><stop offset="0.7467" stop-color="#ff4500"/><stop offset="0.8349" stop-color="#ff3000"/><stop offset="0.9526" stop-color="#ff1200"/><stop offset="1.0000" stop-color="#ff0c00"/></linearGradient><linearGradient id="gc86" gradientUnits="userSpaceOnUse" x1="997.0" x2="1337.0" y1="0" y2="0"><stop offset="0.0000" stop-color="#ff1a00"/><stop offset="0.0121" stop-color="#ff1d00"/><stop offset="0.1298" stop-color="#ff3300"/><stop offset="0.2180" stop-color="#ff4700"/><stop offset="0.3062" stop-color="#ff6400"/><stop offset="0.3650" stop-color="#ff7a00"/><stop offset="0.4003" stop-color="#ff8b00"/><stop offset="0.4239" stop-color="#ff9800"/><stop offset="0.4445" stop-color="#ffa700"/><stop offset="0.4592" stop-color="#ffb700"/><stop offset="0.4680" stop-color="#ffc500"/><stop offset="0.4753" stop-color="#fff000"/><stop offset="0.4827" stop-color="#ffff00"/><stop offset="0.4900" stop-color="#fff300"/><stop offset="0.4974" stop-color="#ffd600"/><stop offset="0.5062" stop-color="#ffc200"/><stop offset="0.5209" stop-color="#ffae00"/><stop offset="0.5415" stop-color="#ff9400"/><stop offset="0.5650" stop-color="#ff8600"/><stop offset="0.6003" stop-color="#ff7a00"/><stop offset="0.6592" stop-color="#ff6400"/><stop offset="0.7474" stop-color="#ff4600"/><stop offset="0.8356" stop-color="#ff3100"/><stop offset="0.9533" stop-color="#ff1300"/><stop offset="1.0000" stop-color="#ff0c00"/></linearGradient><linearGradient id="gc87" gradientUnits="userSpaceOnUse" x1="997.0" x2="1337.0" y1="0" y2="0"><stop offset="0.0000" stop-color="#ff1b00"/><stop offset="0.0128" stop-color="#ff1d00"/><stop offset="0.1305" stop-color="#ff3400"/><stop offset="0.2187" stop-color="#ff4900"/><stop offset="0.3069" stop-color="#ff6600"/><stop offset="0.3658" stop-color="#ff7b00"/><stop offset="0.4011" stop-color="#ff8d00"/><stop offset="0.4246" stop-color="#ff9900"/><stop offset="0.4452" stop-color="#ffa900"/><stop offset="0.4599" stop-color="#ffb800"/><stop offset="0.4687" stop-color="#ffc500"/><stop offset="0.4761" stop-color="#fff100"/><stop offset="0.4834" stop-color="#ffff00"/><stop offset="0.4908" stop-color="#fff300"/><stop offset="0.4981" stop-color="#ffd600"/><stop offset="0.5069" stop-color="#ffc300"/><stop offset="0.5217" stop-color="#ffaf00"/><stop offset="0.5422" stop-color="#ff9400"/><stop offset="0.5658" stop-color="#ff8700"/><stop offset="0.6011" stop-color="#ff7c00"/><stop offset="0.6599" stop-color="#ff6500"/><stop offset="0.7481" stop-color="#ff4700"/><stop offset="0.8364" stop-color="#ff3100"/><stop offset="0.9540" stop-color="#ff1300"/><stop offset="1.0000" stop-color="#ff0d00"/></linearGradient><linearGradient id="gc88" gradientUnits="userSpaceOnUse" x1="997.0" x2="1337.0" y1="0" y2="0"><stop offset="0.0000" stop-color="#ff1b00"/><stop offset="0.0135" stop-color="#ff1e00"/><stop offset="0.1312" stop-color="#ff3500"/><stop offset="0.2194" stop-color="#ff4a00"/><stop offset="0.3077" stop-color="#ff6800"/><stop offset="0.3665" stop-color="#ff7d00"/><stop offset="0.4018" stop-color="#ff8e00"/><stop offset="0.4253" stop-color="#ff9a00"/><stop offset="0.4459" stop-color="#ffaa00"/><stop offset="0.4606" stop-color="#ffb900"/><stop offset="0.4694" stop-color="#ffc600"/><stop offset="0.4768" stop-color="#fff100"/><stop offset="0.4841" stop-color="#ffff00"/><stop offset="0.4915" stop-color="#fff400"/><stop offset="0.4988" stop-color="#ffd700"/><stop offset="0.5077" stop-color="#ffc400"/><stop offset="0.5224" stop-color="#ffb100"/><stop offset="0.5430" stop-color="#ff9500"/><stop offset="0.5665" stop-color="#ff8800"/><stop offset="0.6018" stop-color="#ff7d00"/><stop offset="0.6606" stop-color="#ff6700"/><stop offset="0.7488" stop-color="#ff4800"/><stop offset="0.8371" stop-color="#ff3200"/><stop offset="0.9547" stop-color="#ff1300"/><stop offset="1.0000" stop-color="#ff0d00"/></linearGradient><linearGradient id="gc89" gradientUnits="userSpaceOnUse" x1="997.0" x2="1337.0" y1="0" y2="0"><stop offset="0.0000" stop-color="#ff1b00"/><stop offset="0.0143" stop-color="#ff1e00"/><stop offset="0.1319" stop-color="#ff3600"/><stop offset="0.2202" stop-color="#ff4a00"/><stop offset="0.3084" stop-color="#ff6900"/><stop offset="0.3672" stop-color="#ff7d00"/><stop offset="0.4025" stop-color="#ff8f00"/><stop offset="0.4260" stop-color="#ff9b00"/><stop offset="0.4466" stop-color="#ffaa00"/><stop offset="0.4613" stop-color="#ffb900"/><stop offset="0.4702" stop-color="#ffc700"/><stop offset="0.4775" stop-color="#fff100"/><stop offset="0.4849" stop-color="#ffff00"/><stop offset="0.4922" stop-color="#fff300"/><stop offset="0.4996" stop-color="#ffd700"/><stop offset="0.5084" stop-color="#ffc400"/><stop offset="0.5231" stop-color="#ffb000"/><stop offset="0.5437" stop-color="#ff9500"/><stop offset="0.5672" stop-color="#ff8800"/><stop offset="0.6025" stop-color="#ff7d00"/><stop offset="0.6613" stop-color="#ff6700"/><stop offset="0.7496" stop-color="#ff4900"/><stop offset="0.8378" stop-color="#ff3300"/><stop offset="0.9554" stop-color="#ff1300"/><stop offset="1.0000" stop-color="#ff0d00"/></linearGradient><linearGradient id="gc90" gradientUnits="userSpaceOnUse" x1="997.0" x2="1337.0" y1="0" y2="0"><stop offset="0.0000" stop-color="#ff1b00"/><stop offset="0.0150" stop-color="#ff1e00"/><stop offset="0.1326" stop-color="#ff3600"/><stop offset="0.2209" stop-color="#ff4b00"/><stop offset="0.3091" stop-color="#ff6900"/><stop offset="0.3679" stop-color="#ff7e00"/><stop offset="0.4032" stop-color="#ff8f00"/><stop offset="0.4268" stop-color="#ff9b00"/><stop offset="0.4473" stop-color="#ffaa00"/><stop offset="0.4620" stop-color="#ffba00"/><stop offset="0.4709" stop-color="#ffc800"/><stop offset="0.4782" stop-color="#fff100"/><stop offset="0.4856" stop-color="#ffff00"/><stop offset="0.4929" stop-color="#fff300"/><stop offset="0.5003" stop-color="#ffd700"/><stop offset="0.5091" stop-color="#ffc300"/><stop offset="0.5238" stop-color="#ffb000"/><stop offset="0.5444" stop-color="#ff9500"/><stop offset="0.5679" stop-color="#ff8800"/><stop offset="0.6032" stop-color="#ff7d00"/><stop offset="0.6620" stop-color="#ff6700"/><stop offset="0.7503" stop-color="#ff4900"/><stop offset="0.8385" stop-color="#ff3300"/><stop offset="0.9562" stop-color="#ff1300"/><stop offset="1.0000" stop-color="#ff0e00"/></linearGradient><linearGradient id="gc91" gradientUnits="userSpaceOnUse" x1="997.0" x2="1337.0" y1="0" y2="0"><stop offset="0.0000" stop-color="#ff1b00"/><stop offset="0.0157" stop-color="#ff1e00"/><stop offset="0.1334" stop-color="#ff3600"/><stop offset="0.2216" stop-color="#ff4b00"/><stop offset="0.3098" stop-color="#ff6900"/><stop offset="0.3687" stop-color="#ff7e00"/><stop offset="0.4039" stop-color="#ff8f00"/><stop offset="0.4275" stop-color="#ff9c00"/><stop offset="0.4481" stop-color="#ffab00"/><stop offset="0.4628" stop-color="#ffba00"/><stop offset="0.4716" stop-color="#ffc900"/><stop offset="0.4789" stop-color="#fff100"/><stop offset="0.4863" stop-color="#ffff00"/><stop offset="0.4937" stop-color="#fff300"/><stop offset="0.5010" stop-color="#ffd700"/><stop offset="0.5098" stop-color="#ffc300"/><stop offset="0.5245" stop-color="#ffaf00"/><stop offset="0.5451" stop-color="#ff9500"/><stop offset="0.5687" stop-color="#ff8800"/><stop offset="0.6039" stop-color="#ff7d00"/><stop offset="0.6628" stop-color="#ff6700"/><stop offset="0.7510" stop-color="#ff4a00"/><stop offset="0.8392" stop-color="#ff3400"/><stop offset="0.9569" stop-color="#ff1400"/><stop offset="1.0000" stop-color="#ff0e00"/></linearGradient><linearGradient id="gc92" gradientUnits="userSpaceOnUse" x1="997.0" x2="1337.0" y1="0" y2="0"><stop offset="0.0000" stop-color="#ff1b00"/><stop offset="0.0164" stop-color="#ff1e00"/><stop offset="0.1341" stop-color="#ff3600"/><stop offset="0.2223" stop-color="#ff4b00"/><stop offset="0.3106" stop-color="#ff6900"/><stop offset="0.3694" stop-color="#ff7e00"/><stop offset="0.4047" stop-color="#ff8f00"/><stop offset="0.4282" stop-color="#ff9c00"/><stop offset="0.4488" stop-color="#ffab00"/><stop offset="0.4635" stop-color="#ffba00"/><stop offset="0.4723" stop-color="#ffc900"/><stop offset="0.4797" stop-color="#fff100"/><stop offset="0.4870" stop-color="#ffff00"/><stop offset="0.4944" stop-color="#fff300"/><stop offset="0.5017" stop-color="#ffd700"/><stop offset="0.5106" stop-color="#ffc300"/><stop offset="0.5253" stop-color="#ffae00"/><stop offset="0.5458" stop-color="#ff9400"/><stop offset="0.5694" stop-color="#ff8800"/><stop offset="0.6047" stop-color="#ff7d00"/><stop offset="0.6635" stop-color="#ff6700"/><stop offset="0.7517" stop-color="#ff4a00"/><stop offset="0.8400" stop-color="#ff3400"/><stop offset="0.9576" stop-color="#ff1400"/><stop offset="1.0000" stop-color="#ff0e00"/></linearGradient><linearGradient id="gc93" gradientUnits="userSpaceOnUse" x1="997.0" x2="1337.0" y1="0" y2="0"><stop offset="0.0000" stop-color="#ff1b00"/><stop offset="0.0172" stop-color="#ff1e00"/><stop offset="0.1348" stop-color="#ff3600"/><stop offset="0.2230" stop-color="#ff4c00"/><stop offset="0.3113" stop-color="#ff6a00"/><stop offset="0.3701" stop-color="#ff7f00"/><stop offset="0.4054" stop-color="#ff8f00"/><stop offset="0.4289" stop-color="#ff9c00"/><stop offset="0.4495" stop-color="#ffab00"/><stop offset="0.4642" stop-color="#ffba00"/><stop offset="0.4730" stop-color="#ffca00"/><stop offset="0.4804" stop-color="#fff100"/><stop offset="0.4877" stop-color="#ffff00"/><stop offset="0.4951" stop-color="#fff200"/><stop offset="0.5024" stop-color="#ffd700"/><stop offset="0.5113" stop-color="#ffc200"/><stop offset="0.5260" stop-color="#ffae00"/><stop offset="0.5466" stop-color="#ff9400"/><stop offset="0.5701" stop-color="#ff8800"/><stop offset="0.6054" stop-color="#ff7d00"/><stop offset="0.6642" stop-color="#ff6700"/><stop offset="0.7524" stop-color="#ff4a00"/><stop offset="0.8407" stop-color="#ff3400"/><stop offset="0.9583" stop-color="#ff1400"/><stop offset="1.0000" stop-color="#ff0e00"/></linearGradient><linearGradient id="gc94" gradientUnits="userSpaceOnUse" x1="997.0" x2="1337.0" y1="0" y2="0"><stop offset="0.0000" stop-color="#ff1a00"/><stop offset="0.0179" stop-color="#ff1e00"/><stop offset="0.1355" stop-color="#ff3600"/><stop offset="0.2238" stop-color="#ff4c00"/><stop offset="0.3120" stop-color="#ff6a00"/><stop offset="0.3708" stop-color="#ff7f00"/><stop offset="0.4061" stop-color="#ff9000"/><stop offset="0.4296" stop-color="#ff9c00"/><stop offset="0.4502" stop-color="#ffac00"/><stop offset="0.4649" stop-color="#ffba00"/><stop offset="0.4738" stop-color="#ffcb00"/><stop offset="0.4811" stop-color="#fff100"/><stop offset="0.4885" stop-color="#ffff00"/><stop offset="0.4958" stop-color="#fff200"/><stop offset="0.5032" stop-color="#ffd700"/><stop offset="0.5120" stop-color="#ffc200"/><stop offset="0.5267" stop-color="#ffad00"/><stop offset="0.5473" stop-color="#ff9400"/><stop offset="0.5708" stop-color="#ff8800"/><stop offset="0.6061" stop-color="#ff7c00"/><stop offset="0.6649" stop-color="#ff6700"/><stop offset="0.7532" stop-color="#ff4b00"/><stop offset="0.8414" stop-color="#ff3500"/><stop offset="0.9591" stop-color="#ff1400"/><stop offset="1.0000" stop-color="#ff0f00"/></linearGradient><linearGradient id="gc95" gradientUnits="userSpaceOnUse" x1="997.0" x2="1337.0" y1="0" y2="0"><stop offset="0.0000" stop-color="#ff1a00"/><stop offset="0.0183" stop-color="#ff1e00"/><stop offset="0.1359" stop-color="#ff3700"/><stop offset="0.2242" stop-color="#ff4c00"/><stop offset="0.3124" stop-color="#ff6a00"/><stop offset="0.3712" stop-color="#ff7f00"/><stop offset="0.4065" stop-color="#ff9000"/><stop offset="0.4301" stop-color="#ff9d00"/><stop offset="0.4506" stop-color="#ffac00"/><stop offset="0.4654" stop-color="#ffbb00"/><stop offset="0.4742" stop-color="#ffcc00"/><stop offset="0.4815" stop-color="#fff100"/><stop offset="0.4889" stop-color="#ffff00"/><stop offset="0.4962" stop-color="#fff200"/><stop offset="0.5036" stop-color="#ffd700"/><stop offset="0.5124" stop-color="#ffc100"/><stop offset="0.5271" stop-color="#ffac00"/><stop offset="0.5477" stop-color="#ff9300"/><stop offset="0.5712" stop-color="#ff8700"/><stop offset="0.6065" stop-color="#ff7c00"/><stop offset="0.6654" stop-color="#ff6700"/><stop offset="0.7536" stop-color="#ff4b00"/><stop offset="0.8418" stop-color="#ff3500"/><stop offset="0.9595" stop-color="#ff1400"/><stop offset="1.0000" stop-color="#ff0f00"/></linearGradient><linearGradient id="gc96" gradientUnits="userSpaceOnUse" x1="997.0" x2="1337.0" y1="0" y2="0"><stop offset="0.0000" stop-color="#ff1a00"/><stop offset="0.0184" stop-color="#ff1e00"/><stop offset="0.1361" stop-color="#ff3700"/><stop offset="0.2243" stop-color="#ff4c00"/><stop offset="0.3125" stop-color="#ff6a00"/><stop offset="0.3713" stop-color="#ff7f00"/><stop offset="0.4066" stop-color="#ff9000"/><stop offset="0.4302" stop-color="#ff9d00"/><stop offset="0.4508" stop-color="#ffad00"/><stop offset="0.4655" stop-color="#ffbb00"/><stop offset="0.4743" stop-color="#ffcc00"/><stop offset="0.4816" stop-color="#fff100"/><stop offset="0.4890" stop-color="#ffff00"/><stop offset="0.4963" stop-color="#fff200"/><stop offset="0.5037" stop-color="#ffd700"/><stop offset="0.5125" stop-color="#ffc100"/><stop offset="0.5272" stop-color="#ffac00"/><stop offset="0.5478" stop-color="#ff9300"/><stop offset="0.5713" stop-color="#ff8700"/><stop offset="0.6066" stop-color="#ff7c00"/><stop offset="0.6655" stop-color="#ff6700"/><stop offset="0.7537" stop-color="#ff4c00"/><stop offset="0.8419" stop-color="#ff3600"/><stop offset="0.9596" stop-color="#ff1400"/><stop offset="1.0000" stop-color="#ff0f00"/></linearGradient><linearGradient id="gc97" gradientUnits="userSpaceOnUse" x1="997.0" x2="1337.0" y1="0" y2="0"><stop offset="0.0000" stop-color="#ff1a00"/><stop offset="0.0185" stop-color="#ff1e00"/><stop offset="0.1362" stop-color="#ff3700"/><stop offset="0.2244" stop-color="#ff4d00"/><stop offset="0.3126" stop-color="#ff6b00"/><stop offset="0.3715" stop-color="#ff8000"/><stop offset="0.4068" stop-color="#ff9000"/><stop offset="0.4303" stop-color="#ff9d00"/><stop offset="0.4509" stop-color="#ffad00"/><stop offset="0.4656" stop-color="#ffbb00"/><stop offset="0.4744" stop-color="#ffcd00"/><stop offset="0.4818" stop-color="#fff100"/><stop offset="0.4891" stop-color="#ffff00"/><stop offset="0.4965" stop-color="#fff100"/><stop offset="0.5038" stop-color="#ffd700"/><stop offset="0.5126" stop-color="#ffc100"/><stop offset="0.5273" stop-color="#ffab00"/><stop offset="0.5479" stop-color="#ff9300"/><stop offset="0.5715" stop-color="#ff8700"/><stop offset="0.6068" stop-color="#ff7c00"/><stop offset="0.6656" stop-color="#ff6800"/><stop offset="0.7538" stop-color="#ff4c00"/><stop offset="0.8420" stop-color="#ff3600"/><stop offset="0.9597" stop-color="#ff1500"/><stop offset="1.0000" stop-color="#ff0f00"/></linearGradient><linearGradient id="gc98" gradientUnits="userSpaceOnUse" x1="997.0" x2="1337.0" y1="0" y2="0"><stop offset="0.0000" stop-color="#ff1a00"/><stop offset="0.0186" stop-color="#ff1e00"/><stop offset="0.1363" stop-color="#ff3700"/><stop offset="0.2245" stop-color="#ff4d00"/><stop offset="0.3127" stop-color="#ff6b00"/><stop offset="0.3716" stop-color="#ff8000"/><stop offset="0.4069" stop-color="#ff9000"/><stop offset="0.4304" stop-color="#ff9e00"/><stop offset="0.4510" stop-color="#ffad00"/><stop offset="0.4657" stop-color="#ffbb00"/><stop offset="0.4745" stop-color="#ffce00"/><stop offset="0.4819" stop-color="#fff100"/><stop offset="0.4892" stop-color="#ffff00"/><stop offset="0.4966" stop-color="#fff100"/><stop offset="0.5039" stop-color="#ffd700"/><stop offset="0.5127" stop-color="#ffc000"/><stop offset="0.5275" stop-color="#ffab00"/><stop offset="0.5480" stop-color="#ff9200"/><stop offset="0.5716" stop-color="#ff8700"/><stop offset="0.6069" stop-color="#ff7c00"/><stop offset="0.6657" stop-color="#ff6800"/><stop offset="0.7539" stop-color="#ff4d00"/><stop offset="0.8422" stop-color="#ff3600"/><stop offset="0.9598" stop-color="#ff1500"/><stop offset="1.0000" stop-color="#ff1000"/></linearGradient><linearGradient id="gc99" gradientUnits="userSpaceOnUse" x1="997.0" x2="1337.0" y1="0" y2="0"><stop offset="0.0000" stop-color="#ff1a00"/><stop offset="0.0187" stop-color="#ff1e00"/><stop offset="0.1364" stop-color="#ff3700"/><stop offset="0.2246" stop-color="#ff4d00"/><stop offset="0.3129" stop-color="#ff6b00"/><stop offset="0.3717" stop-color="#ff8000"/><stop offset="0.4070" stop-color="#ff9100"/><stop offset="0.4305" stop-color="#ff9e00"/><stop offset="0.4511" stop-color="#ffae00"/><stop offset="0.4658" stop-color="#ffbb00"/><stop offset="0.4746" stop-color="#ffcf00"/><stop offset="0.4820" stop-color="#fff100"/><stop offset="0.4893" stop-color="#ffff00"/><stop offset="0.4967" stop-color="#fff100"/><stop offset="0.5040" stop-color="#ffd700"/><stop offset="0.5129" stop-color="#ffc000"/><stop offset="0.5276" stop-color="#ffaa00"/><stop offset="0.5482" stop-color="#ff9200"/><stop offset="0.5717" stop-color="#ff8700"/><stop offset="0.6070" stop-color="#ff7c00"/><stop offset="0.6658" stop-color="#ff6800"/><stop offset="0.7540" stop-color="#ff4d00"/><stop offset="0.8423" stop-color="#ff3700"/><stop offset="0.9599" stop-color="#ff1500"/><stop offset="1.0000" stop-color="#ff1000"/></linearGradient><linearGradient id="gc100" gradientUnits="userSpaceOnUse" x1="997.0" x2="1337.0" y1="0" y2="0"><stop offset="0.0000" stop-color="#ff1a00"/><stop offset="0.0189" stop-color="#ff1e00"/><stop offset="0.1365" stop-color="#ff3700"/><stop offset="0.2247" stop-color="#ff4e00"/><stop offset="0.3130" stop-color="#ff6b00"/><stop offset="0.3718" stop-color="#ff8100"/><stop offset="0.4071" stop-color="#ff9100"/><stop offset="0.4306" stop-color="#ff9e00"/><stop offset="0.4512" stop-color="#ffae00"/><stop offset="0.4659" stop-color="#ffbc00"/><stop offset="0.4747" stop-color="#ffd000"/><stop offset="0.4821" stop-color="#fff100"/><stop offset="0.4894" stop-color="#ffff00"/><stop offset="0.4968" stop-color="#fff100"/><stop offset="0.5041" stop-color="#ffd700"/><stop offset="0.5130" stop-color="#ffbf00"/><stop offset="0.5277" stop-color="#ffa900"/><stop offset="0.5483" stop-color="#ff9200"/><stop offset="0.5718" stop-color="#ff8700"/><stop offset="0.6071" stop-color="#ff7c00"/><stop offset="0.6659" stop-color="#ff6800"/><stop offset="0.7541" stop-color="#ff4d00"/><stop offset="0.8424" stop-color="#ff3700"/><stop offset="0.9600" stop-color="#ff1500"/><stop offset="1.0000" stop-color="#ff1000"/></linearGradient><linearGradient id="gc101" gradientUnits="userSpaceOnUse" x1="997.0" x2="1337.0" y1="0" y2="0"><stop offset="0.0000" stop-color="#ff1a00"/><stop offset="0.0190" stop-color="#ff1e00"/><stop offset="0.1366" stop-color="#ff3700"/><stop offset="0.2248" stop-color="#ff4e00"/><stop offset="0.3131" stop-color="#ff6c00"/><stop offset="0.3719" stop-color="#ff8100"/><stop offset="0.4072" stop-color="#ff9100"/><stop offset="0.4307" stop-color="#ff9f00"/><stop offset="0.4513" stop-color="#ffae00"/><stop offset="0.4660" stop-color="#ffbc00"/><stop offset="0.4748" stop-color="#ffd000"/><stop offset="0.4822" stop-color="#fff100"/><stop offset="0.4896" stop-color="#ffff00"/><stop offset="0.4969" stop-color="#fff100"/><stop offset="0.5043" stop-color="#ffd700"/><stop offset="0.5131" stop-color="#ffbf00"/><stop offset="0.5278" stop-color="#ffa900"/><stop offset="0.5484" stop-color="#ff9100"/><stop offset="0.5719" stop-color="#ff8700"/><stop offset="0.6072" stop-color="#ff7c00"/><stop offset="0.6660" stop-color="#ff6800"/><stop offset="0.7543" stop-color="#ff4e00"/><stop offset="0.8425" stop-color="#ff3800"/><stop offset="0.9601" stop-color="#ff1500"/><stop offset="1.0000" stop-color="#ff1000"/></linearGradient><linearGradient id="gc102" gradientUnits="userSpaceOnUse" x1="997.0" x2="1337.0" y1="0" y2="0"><stop offset="0.0000" stop-color="#ff1a00"/><stop offset="0.0191" stop-color="#ff1e00"/><stop offset="0.1367" stop-color="#ff3800"/><stop offset="0.2250" stop-color="#ff4e00"/><stop offset="0.3132" stop-color="#ff6c00"/><stop offset="0.3720" stop-color="#ff8100"/><stop offset="0.4073" stop-color="#ff9100"/><stop offset="0.4308" stop-color="#ff9f00"/><stop offset="0.4514" stop-color="#ffaf00"/><stop offset="0.4661" stop-color="#ffbc00"/><stop offset="0.4750" stop-color="#ffd100"/><stop offset="0.4823" stop-color="#fff100"/><stop offset="0.4897" stop-color="#ffff00"/><stop offset="0.4970" stop-color="#fff000"/><stop offset="0.5044" stop-color="#ffd700"/><stop offset="0.5132" stop-color="#ffbe00"/><stop offset="0.5279" stop-color="#ffa800"/><stop offset="0.5485" stop-color="#ff9100"/><stop offset="0.5720" stop-color="#ff8700"/><stop offset="0.6073" stop-color="#ff7b00"/><stop offset="0.6661" stop-color="#ff6800"/><stop offset="0.7544" stop-color="#ff4e00"/><stop offset="0.8426" stop-color="#ff3800"/><stop offset="0.9603" stop-color="#ff1500"/><stop offset="1.0000" stop-color="#ff1100"/></linearGradient><linearGradient id="gc103" gradientUnits="userSpaceOnUse" x1="997.0" x2="1337.0" y1="0" y2="0"><stop offset="0.0000" stop-color="#ff1a00"/><stop offset="0.0192" stop-color="#ff1e00"/><stop offset="0.1368" stop-color="#ff3800"/><stop offset="0.2251" stop-color="#ff4e00"/><stop offset="0.3133" stop-color="#ff6c00"/><stop offset="0.3721" stop-color="#ff8100"/><stop offset="0.4074" stop-color="#ff9200"/><stop offset="0.4310" stop-color="#ff9f00"/><stop offset="0.4515" stop-color="#ffaf00"/><stop offset="0.4663" stop-color="#ffbc00"/><stop offset="0.4751" stop-color="#ffd200"/><stop offset="0.4824" stop-color="#fff100"/><stop offset="0.4898" stop-color="#ffff00"/><stop offset="0.4971" stop-color="#fff000"/><stop offset="0.5045" stop-color="#ffd700"/><stop offset="0.5133" stop-color="#ffbe00"/><stop offset="0.5280" stop-color="#ffa700"/><stop offset="0.5486" stop-color="#ff9100"/><stop offset="0.5721" stop-color="#ff8700"/><stop offset="0.6074" stop-color="#ff7b00"/><stop offset="0.6663" stop-color="#ff6800"/><stop offset="0.7545" stop-color="#ff4f00"/><stop offset="0.8427" stop-color="#ff3800"/><stop offset="0.9604" stop-color="#ff1600"/><stop offset="1.0000" stop-color="#ff1100"/></linearGradient><linearGradient id="gc104" gradientUnits="userSpaceOnUse" x1="997.0" x2="1337.0" y1="0" y2="0"><stop offset="0.0000" stop-color="#ff1a00"/><stop offset="0.0193" stop-color="#ff1e00"/><stop offset="0.1370" stop-color="#ff3800"/><stop offset="0.2252" stop-color="#ff4f00"/><stop offset="0.3134" stop-color="#ff6c00"/><stop offset="0.3722" stop-color="#ff8200"/><stop offset="0.4075" stop-color="#ff9200"/><stop offset="0.4311" stop-color="#ffa000"/><stop offset="0.4517" stop-color="#ffaf00"/><stop offset="0.4664" stop-color="#ffbc00"/><stop offset="0.4752" stop-color="#ffd300"/><stop offset="0.4825" stop-color="#fff100"/><stop offset="0.4899" stop-color="#ffff00"/><stop offset="0.4972" stop-color="#fff000"/><stop offset="0.5046" stop-color="#ffd700"/><stop offset="0.5134" stop-color="#ffbe00"/><stop offset="0.5281" stop-color="#ffa700"/><stop offset="0.5487" stop-color="#ff9100"/><stop offset="0.5722" stop-color="#ff8600"/><stop offset="0.6075" stop-color="#ff7b00"/><stop offset="0.6664" stop-color="#ff6800"/><stop offset="0.7546" stop-color="#ff4f00"/><stop offset="0.8428" stop-color="#ff3900"/><stop offset="0.9605" stop-color="#ff1600"/><stop offset="1.0000" stop-color="#ff1100"/></linearGradient><linearGradient id="gc105" gradientUnits="userSpaceOnUse" x1="997.0" x2="1337.0" y1="0" y2="0"><stop offset="0.0000" stop-color="#ff1a00"/><stop offset="0.0194" stop-color="#ff1e00"/><stop offset="0.1371" stop-color="#ff3800"/><stop offset="0.2253" stop-color="#ff4f00"/><stop offset="0.3135" stop-color="#ff6d00"/><stop offset="0.3724" stop-color="#ff8200"/><stop offset="0.4077" stop-color="#ff9200"/><stop offset="0.4312" stop-color="#ffa000"/><stop offset="0.4518" stop-color="#ffb000"/><stop offset="0.4665" stop-color="#ffbd00"/><stop offset="0.4753" stop-color="#ffd300"/><stop offset="0.4827" stop-color="#fff100"/><stop offset="0.4900" stop-color="#ffff00"/><stop offset="0.4974" stop-color="#fff000"/><stop offset="0.5047" stop-color="#ffd600"/><stop offset="0.5135" stop-color="#ffbd00"/><stop offset="0.5282" stop-color="#ffa600"/><stop offset="0.5488" stop-color="#ff9000"/><stop offset="0.5724" stop-color="#ff8600"/><stop offset="0.6077" stop-color="#ff7b00"/><stop offset="0.6665" stop-color="#ff6800"/><stop offset="0.7547" stop-color="#ff5000"/><stop offset="0.8429" stop-color="#ff3900"/><stop offset="0.9606" stop-color="#ff1600"/><stop offset="1.0000" stop-color="#ff1100"/></linearGradient><linearGradient id="gc106" gradientUnits="userSpaceOnUse" x1="997.0" x2="1337.0" y1="0" y2="0"><stop offset="0.0000" stop-color="#ff1a00"/><stop offset="0.0195" stop-color="#ff1e00"/><stop offset="0.1372" stop-color="#ff3800"/><stop offset="0.2254" stop-color="#ff4f00"/><stop offset="0.3136" stop-color="#ff6d00"/><stop offset="0.3725" stop-color="#ff8200"/><stop offset="0.4078" stop-color="#ff9200"/><stop offset="0.4313" stop-color="#ffa000"/><stop offset="0.4519" stop-color="#ffb000"/><stop offset="0.4666" stop-color="#ffbd00"/><stop offset="0.4754" stop-color="#ffd400"/><stop offset="0.4828" stop-color="#fff100"/><stop offset="0.4901" stop-color="#ffff00"/><stop offset="0.4975" stop-color="#ffef00"/><stop offset="0.5048" stop-color="#ffd600"/><stop offset="0.5136" stop-color="#ffbd00"/><stop offset="0.5284" stop-color="#ffa500"/><stop offset="0.5489" stop-color="#ff9000"/><stop offset="0.5725" stop-color="#ff8600"/><stop offset="0.6078" stop-color="#ff7b00"/><stop offset="0.6666" stop-color="#ff6800"/><stop offset="0.7548" stop-color="#ff5000"/><stop offset="0.8431" stop-color="#ff3a00"/><stop offset="0.9607" stop-color="#ff1600"/><stop offset="1.0000" stop-color="#ff1200"/></linearGradient><linearGradient id="gc107" gradientUnits="userSpaceOnUse" x1="997.0" x2="1337.0" y1="0" y2="0"><stop offset="0.0000" stop-color="#ff1a00"/><stop offset="0.0196" stop-color="#ff1e00"/><stop offset="0.1373" stop-color="#ff3800"/><stop offset="0.2255" stop-color="#ff4f00"/><stop offset="0.3138" stop-color="#ff6d00"/><stop offset="0.3726" stop-color="#ff8300"/><stop offset="0.4079" stop-color="#ff9200"/><stop offset="0.4314" stop-color="#ffa100"/><stop offset="0.4520" stop-color="#ffb000"/><stop offset="0.4667" stop-color="#ffbd00"/><stop offset="0.4755" stop-color="#ffd500"/><stop offset="0.4829" stop-color="#fff100"/><stop offset="0.4902" stop-color="#ffff00"/><stop offset="0.4976" stop-color="#ffef00"/><stop offset="0.5049" stop-color="#ffd600"/><stop offset="0.5138" stop-color="#ffbc00"/><stop offset="0.5285" stop-color="#ffa500"/><stop offset="0.5491" stop-color="#ff9000"/><stop offset="0.5726" stop-color="#ff8600"/><stop offset="0.6079" stop-color="#ff7b00"/><stop offset="0.6667" stop-color="#ff6800"/><stop offset="0.7549" stop-color="#ff5000"/><stop offset="0.8432" stop-color="#ff3a00"/><stop offset="0.9608" stop-color="#ff1600"/><stop offset="1.0000" stop-color="#ff1200"/></linearGradient><linearGradient id="gc108" gradientUnits="userSpaceOnUse" x1="997.0" x2="1337.0" y1="0" y2="0"><stop offset="0.0000" stop-color="#ff1a00"/><stop offset="0.0198" stop-color="#ff1e00"/><stop offset="0.1374" stop-color="#ff3900"/><stop offset="0.2256" stop-color="#ff5000"/><stop offset="0.3139" stop-color="#ff6d00"/><stop offset="0.3727" stop-color="#ff8300"/><stop offset="0.4080" stop-color="#ff9300"/><stop offset="0.4315" stop-color="#ffa100"/><stop offset="0.4521" stop-color="#ffb100"/><stop offset="0.4668" stop-color="#ffbd00"/><stop offset="0.4756" stop-color="#ffd600"/><stop offset="0.4830" stop-color="#fff100"/><stop offset="0.4903" stop-color="#ffff00"/><stop offset="0.4977" stop-color="#ffef00"/><stop offset="0.5051" stop-color="#ffd600"/><stop offset="0.5139" stop-color="#ffbc00"/><stop offset="0.5286" stop-color="#ffa400"/><stop offset="0.5492" stop-color="#ff8f00"/><stop offset="0.5727" stop-color="#ff8600"/><stop offset="0.6080" stop-color="#ff7b00"/><stop offset="0.6668" stop-color="#ff6900"/><stop offset="0.7551" stop-color="#ff5100"/><stop offset="0.8433" stop-color="#ff3a00"/><stop offset="0.9609" stop-color="#ff1600"/><stop offset="1.0000" stop-color="#ff1200"/></linearGradient><linearGradient id="gc109" gradientUnits="userSpaceOnUse" x1="997.0" x2="1337.0" y1="0" y2="0"><stop offset="0.0000" stop-color="#ff1900"/><stop offset="0.0199" stop-color="#ff1e00"/><stop offset="0.1375" stop-color="#ff3900"/><stop offset="0.2258" stop-color="#ff5000"/><stop offset="0.3140" stop-color="#ff6e00"/><stop offset="0.3728" stop-color="#ff8300"/><stop offset="0.4081" stop-color="#ff9300"/><stop offset="0.4316" stop-color="#ffa100"/><stop offset="0.4522" stop-color="#ffb100"/><stop offset="0.4669" stop-color="#ffbe00"/><stop offset="0.4758" stop-color="#ffd700"/><stop offset="0.4831" stop-color="#fff100"/><stop offset="0.4905" stop-color="#ffff00"/><stop offset="0.4978" stop-color="#ffef00"/><stop offset="0.5052" stop-color="#ffd600"/><stop offset="0.5140" stop-color="#ffbc00"/><stop offset="0.5287" stop-color="#ffa400"/><stop offset="0.5493" stop-color="#ff8f00"/><stop offset="0.5728" stop-color="#ff8600"/><stop offset="0.6081" stop-color="#ff7a00"/><stop offset="0.6669" stop-color="#ff6900"/><stop offset="0.7552" stop-color="#ff5100"/><stop offset="0.8434" stop-color="#ff3b00"/><stop offset="0.9610" stop-color="#ff1700"/><stop offset="1.0000" stop-color="#ff1200"/></linearGradient><linearGradient id="gc110" gradientUnits="userSpaceOnUse" x1="997.0" x2="1337.0" y1="0" y2="0"><stop offset="0.0000" stop-color="#ff1900"/><stop offset="0.0200" stop-color="#ff1e00"/><stop offset="0.1376" stop-color="#ff3900"/><stop offset="0.2259" stop-color="#ff5000"/><stop offset="0.3141" stop-color="#ff6e00"/><stop offset="0.3729" stop-color="#ff8300"/><stop offset="0.4082" stop-color="#ff9300"/><stop offset="0.4317" stop-color="#ffa200"/><stop offset="0.4523" stop-color="#ffb200"/><stop offset="0.4670" stop-color="#ffbe00"/><stop offset="0.4759" stop-color="#ffd700"/><stop offset="0.4832" stop-color="#fff100"/><stop offset="0.4906" stop-color="#ffff00"/><stop offset="0.4979" stop-color="#ffee00"/><stop offset="0.5053" stop-color="#ffd600"/><stop offset="0.5141" stop-color="#ffbb00"/><stop offset="0.5288" stop-color="#ffa300"/><stop offset="0.5494" stop-color="#ff8f00"/><stop offset="0.5729" stop-color="#ff8600"/><stop offset="0.6082" stop-color="#ff7a00"/><stop offset="0.6670" stop-color="#ff6900"/><stop offset="0.7553" stop-color="#ff5200"/><stop offset="0.8435" stop-color="#ff3b00"/><stop offset="0.9612" stop-color="#ff1700"/><stop offset="1.0000" stop-color="#ff1300"/></linearGradient><linearGradient id="gc111" gradientUnits="userSpaceOnUse" x1="997.0" x2="1337.0" y1="0" y2="0"><stop offset="0.0000" stop-color="#ff1900"/><stop offset="0.0203" stop-color="#ff1e00"/><stop offset="0.1380" stop-color="#ff3900"/><stop offset="0.2262" stop-color="#ff5100"/><stop offset="0.3144" stop-color="#ff6e00"/><stop offset="0.3733" stop-color="#ff8400"/><stop offset="0.4086" stop-color="#ff9300"/><stop offset="0.4321" stop-color="#ffa200"/><stop offset="0.4527" stop-color="#ffb200"/><stop offset="0.4674" stop-color="#ffbe00"/><stop offset="0.4762" stop-color="#ffd800"/><stop offset="0.4836" stop-color="#fff100"/><stop offset="0.4909" stop-color="#ffff00"/><stop offset="0.4983" stop-color="#ffee00"/><stop offset="0.5056" stop-color="#ffd600"/><stop offset="0.5144" stop-color="#ffbb00"/><stop offset="0.5291" stop-color="#ffa200"/><stop offset="0.5497" stop-color="#ff8e00"/><stop offset="0.5733" stop-color="#ff8600"/><stop offset="0.6086" stop-color="#ff7a00"/><stop offset="0.6674" stop-color="#ff6900"/><stop offset="0.7556" stop-color="#ff5200"/><stop offset="0.8438" stop-color="#ff3c00"/><stop offset="0.9615" stop-color="#ff1700"/><stop offset="1.0000" stop-color="#ff1300"/></linearGradient><linearGradient id="gc112" gradientUnits="userSpaceOnUse" x1="997.0" x2="1337.0" y1="0" y2="0"><stop offset="0.0000" stop-color="#ff1900"/><stop offset="0.0207" stop-color="#ff1e00"/><stop offset="0.1383" stop-color="#ff3900"/><stop offset="0.2266" stop-color="#ff5100"/><stop offset="0.3148" stop-color="#ff6f00"/><stop offset="0.3736" stop-color="#ff8400"/><stop offset="0.4089" stop-color="#ff9300"/><stop offset="0.4325" stop-color="#ffa200"/><stop offset="0.4531" stop-color="#ffb200"/><stop offset="0.4678" stop-color="#ffbe00"/><stop offset="0.4766" stop-color="#ffd900"/><stop offset="0.4839" stop-color="#fff100"/><stop offset="0.4913" stop-color="#ffff00"/><stop offset="0.4986" stop-color="#ffee00"/><stop offset="0.5060" stop-color="#ffd600"/><stop offset="0.5148" stop-color="#ffba00"/><stop offset="0.5295" stop-color="#ffa200"/><stop offset="0.5501" stop-color="#ff8e00"/><stop offset="0.5736" stop-color="#ff8600"/><stop offset="0.6089" stop-color="#ff7a00"/><stop offset="0.6678" stop-color="#ff6900"/><stop offset="0.7560" stop-color="#ff5300"/><stop offset="0.8442" stop-color="#ff3c00"/><stop offset="0.9619" stop-color="#ff1700"/><stop offset="1.0000" stop-color="#ff1300"/></linearGradient><linearGradient id="gc113" gradientUnits="userSpaceOnUse" x1="997.0" x2="1337.0" y1="0" y2="0"><stop offset="0.0000" stop-color="#ff1900"/><stop offset="0.0211" stop-color="#ff1e00"/><stop offset="0.1387" stop-color="#ff3900"/><stop offset="0.2270" stop-color="#ff5100"/><stop offset="0.3152" stop-color="#ff6f00"/><stop offset="0.3740" stop-color="#ff8400"/><stop offset="0.4093" stop-color="#ff9400"/><stop offset="0.4328" stop-color="#ffa300"/><stop offset="0.4534" stop-color="#ffb300"/><stop offset="0.4681" stop-color="#ffbe00"/><stop offset="0.4770" stop-color="#ffda00"/><stop offset="0.4843" stop-color="#fff100"/><stop offset="0.4917" stop-color="#ffff00"/><stop offset="0.4990" stop-color="#ffee00"/><stop offset="0.5064" stop-color="#ffd600"/><stop offset="0.5152" stop-color="#ffba00"/><stop offset="0.5299" stop-color="#ffa100"/><stop offset="0.5505" stop-color="#ff8e00"/><stop offset="0.5740" stop-color="#ff8500"/><stop offset="0.6093" stop-color="#ff7a00"/><stop offset="0.6681" stop-color="#ff6900"/><stop offset="0.7564" stop-color="#ff5300"/><stop offset="0.8446" stop-color="#ff3c00"/><stop offset="0.9623" stop-color="#ff1700"/><stop offset="1.0000" stop-color="#ff1300"/></linearGradient><linearGradient id="gc114" gradientUnits="userSpaceOnUse" x1="997.0" x2="1337.0" y1="0" y2="0"><stop offset="0.0000" stop-color="#ff1900"/><stop offset="0.0215" stop-color="#ff1e00"/><stop offset="0.1391" stop-color="#ff3900"/><stop offset="0.2273" stop-color="#ff5100"/><stop offset="0.3156" stop-color="#ff6f00"/><stop offset="0.3744" stop-color="#ff8400"/><stop offset="0.4097" stop-color="#ff9400"/><stop offset="0.4332" stop-color="#ffa300"/><stop offset="0.4538" stop-color="#ffb300"/><stop offset="0.4685" stop-color="#ffbf00"/><stop offset="0.4773" stop-color="#ffda00"/><stop offset="0.4847" stop-color="#fff100"/><stop offset="0.4920" stop-color="#ffff00"/><stop offset="0.4994" stop-color="#ffed00"/><stop offset="0.5068" stop-color="#ffd600"/><stop offset="0.5156" stop-color="#ffb900"/><stop offset="0.5303" stop-color="#ffa000"/><stop offset="0.5509" stop-color="#ff8d00"/><stop offset="0.5744" stop-color="#ff8500"/><stop offset="0.6097" stop-color="#ff7a00"/><stop offset="0.6685" stop-color="#ff6900"/><stop offset="0.7568" stop-color="#ff5300"/><stop offset="0.8450" stop-color="#ff3d00"/><stop offset="0.9626" stop-color="#ff1700"/><stop offset="1.0000" stop-color="#ff1400"/></linearGradient><linearGradient id="gc115" gradientUnits="userSpaceOnUse" x1="997.0" x2="1337.0" y1="0" y2="0"><stop offset="0.0000" stop-color="#ff1900"/><stop offset="0.0215" stop-color="#ff1e00"/><stop offset="0.1391" stop-color="#ff3a00"/><stop offset="0.2274" stop-color="#ff5200"/><stop offset="0.3156" stop-color="#ff6f00"/><stop offset="0.3744" stop-color="#ff8500"/><stop offset="0.4097" stop-color="#ff9400"/><stop offset="0.4332" stop-color="#ffa300"/><stop offset="0.4538" stop-color="#ffb300"/><stop offset="0.4685" stop-color="#ffbf00"/><stop offset="0.4774" stop-color="#ffdb00"/><stop offset="0.4847" stop-color="#fff200"/><stop offset="0.4921" stop-color="#ffff00"/><stop offset="0.4994" stop-color="#ffed00"/><stop offset="0.5068" stop-color="#ffd600"/><stop offset="0.5156" stop-color="#ffb900"/><stop offset="0.5303" stop-color="#ffa000"/><stop offset="0.5509" stop-color="#ff8d00"/><stop offset="0.5744" stop-color="#ff8500"/><stop offset="0.6097" stop-color="#ff7a00"/><stop offset="0.6685" stop-color="#ff6900"/><stop offset="0.7568" stop-color="#ff5400"/><stop offset="0.8450" stop-color="#ff3d00"/><stop offset="0.9626" stop-color="#ff1700"/><stop offset="1.0000" stop-color="#ff1400"/></linearGradient><linearGradient id="gc116" gradientUnits="userSpaceOnUse" x1="997.0" x2="1337.0" y1="0" y2="0"><stop offset="0.0000" stop-color="#ff1900"/><stop offset="0.0215" stop-color="#ff1e00"/><stop offset="0.1391" stop-color="#ff3a00"/><stop offset="0.2274" stop-color="#ff5200"/><stop offset="0.3156" stop-color="#ff6f00"/><stop offset="0.3744" stop-color="#ff8500"/><stop offset="0.4097" stop-color="#ff9400"/><stop offset="0.4332" stop-color="#ffa300"/><stop offset="0.4538" stop-color="#ffb300"/><stop offset="0.4685" stop-color="#ffbf00"/><stop offset="0.4774" stop-color="#ffdc00"/><stop offset="0.4847" stop-color="#fff200"/><stop offset="0.4921" stop-color="#ffff00"/><stop offset="0.4994" stop-color="#ffed00"/><stop offset="0.5068" stop-color="#ffd600"/><stop offset="0.5156" stop-color="#ffb900"/><stop offset="0.5303" stop-color="#ff9f00"/><stop offset="0.5509" stop-color="#ff8d00"/><stop offset="0.5744" stop-color="#ff8500"/><stop offset="0.6097" stop-color="#ff7a00"/><stop offset="0.6685" stop-color="#ff6900"/><stop offset="0.7568" stop-color="#ff5400"/><stop offset="0.8450" stop-color="#ff3d00"/><stop offset="0.9626" stop-color="#ff1800"/><stop offset="1.0000" stop-color="#ff1400"/></linearGradient><linearGradient id="gf0" gradientUnits="userSpaceOnUse" x1="997.0" x2="1337.0" y1="0" y2="0"><stop offset="0.0000" stop-color="#fffd00"/><stop offset="0.0062" stop-color="#fffd00"/><stop offset="0.0944" stop-color="#fffd00"/><stop offset="0.1826" stop-color="#fffd00"/><stop offset="0.2415" stop-color="#fffd00"/><stop offset="0.2768" stop-color="#fffd00"/><stop offset="0.3003" stop-color="#fffd00"/><stop offset="0.3209" stop-color="#fffd00"/><stop offset="0.3356" stop-color="#fffd00"/><stop offset="0.3444" stop-color="#fffd00"/><stop offset="0.3518" stop-color="#fffd00"/><stop offset="0.3591" stop-color="#ff9600"/><stop offset="0.3665" stop-color="#ff9000"/><stop offset="0.3738" stop-color="#ff8a00"/><stop offset="0.3826" stop-color="#ff8200"/><stop offset="0.3974" stop-color="#ff7600"/><stop offset="0.4179" stop-color="#ff6700"/><stop offset="0.4415" stop-color="#ff5a00"/><stop offset="0.4768" stop-color="#ff4700"/><stop offset="0.5356" stop-color="#ff3400"/><stop offset="0.6238" stop-color="#ff2100"/><stop offset="0.7121" stop-color="#ff1600"/><stop offset="0.8297" stop-color="#ff0c00"/><stop offset="0.9474" stop-color="#ff0500"/><stop offset="1.0000" stop-color="#ff0400"/></linearGradient><linearGradient id="gf1" gradientUnits="userSpaceOnUse" x1="997.0" x2="1337.0" y1="0" y2="0"><stop offset="0.0000" stop-color="#fffd00"/><stop offset="0.0062" stop-color="#fffd00"/><stop offset="0.0944" stop-color="#fffd00"/><stop offset="0.1826" stop-color="#fffd00"/><stop offset="0.2415" stop-color="#fffd00"/><stop offset="0.2768" stop-color="#fffd00"/><stop offset="0.3003" stop-color="#fffd00"/><stop offset="0.3209" stop-color="#fffd00"/><stop offset="0.3356" stop-color="#fffd00"/><stop offset="0.3444" stop-color="#fffd00"/><stop offset="0.3518" stop-color="#fffd00"/><stop offset="0.3591" stop-color="#ff9600"/><stop offset="0.3665" stop-color="#ff9000"/><stop offset="0.3738" stop-color="#ff8a00"/><stop offset="0.3826" stop-color="#ff8300"/><stop offset="0.3974" stop-color="#ff7600"/><stop offset="0.4179" stop-color="#ff6800"/><stop offset="0.4415" stop-color="#ff5a00"/><stop offset="0.4768" stop-color="#ff4700"/><stop offset="0.5356" stop-color="#ff3400"/><stop offset="0.6238" stop-color="#ff2100"/><stop offset="0.7121" stop-color="#ff1700"/><stop offset="0.8297" stop-color="#ff0c00"/><stop offset="0.9474" stop-color="#ff0500"/><stop offset="1.0000" stop-color="#ff0400"/></linearGradient><linearGradient id="gf2" gradientUnits="userSpaceOnUse" x1="997.0" x2="1337.0" y1="0" y2="0"><stop offset="0.0000" stop-color="#fffc00"/><stop offset="0.0083" stop-color="#fffc00"/><stop offset="0.0965" stop-color="#fffc00"/><stop offset="0.1848" stop-color="#fffc00"/><stop offset="0.2436" stop-color="#fffc00"/><stop offset="0.2789" stop-color="#fffc00"/><stop offset="0.3024" stop-color="#fffc00"/><stop offset="0.3230" stop-color="#fffc00"/><stop offset="0.3377" stop-color="#fffc00"/><stop offset="0.3465" stop-color="#fffc00"/><stop offset="0.3539" stop-color="#fffc00"/><stop offset="0.3612" stop-color="#ff9600"/><stop offset="0.3686" stop-color="#ff9000"/><stop offset="0.3759" stop-color="#ff8a00"/><stop offset="0.3848" stop-color="#ff8300"/><stop offset="0.3995" stop-color="#ff7600"/><stop offset="0.4201" stop-color="#ff6800"/><stop offset="0.4436" stop-color="#ff5b00"/><stop offset="0.4789" stop-color="#ff4800"/><stop offset="0.5377" stop-color="#ff3500"/><stop offset="0.6259" stop-color="#ff2200"/><stop offset="0.7142" stop-color="#ff1700"/><stop offset="0.8318" stop-color="#ff0c00"/><stop offset="0.9495" stop-color="#ff0500"/><stop offset="1.0000" stop-color="#ff0400"/></linearGradient><linearGradient id="gf3" gradientUnits="userSpaceOnUse" x1="997.0" x2="1337.0" y1="0" y2="0"><stop offset="0.0000" stop-color="#fffc00"/><stop offset="0.0108" stop-color="#fffc00"/><stop offset="0.0991" stop-color="#fffc00"/><stop offset="0.1873" stop-color="#fffc00"/><stop offset="0.2461" stop-color="#fffc00"/><stop offset="0.2814" stop-color="#fffc00"/><stop offset="0.3049" stop-color="#fffc00"/><stop offset="0.3255" stop-color="#fffc00"/><stop offset="0.3402" stop-color="#fffc00"/><stop offset="0.3491" stop-color="#fffc00"/><stop offset="0.3564" stop-color="#fffc00"/><stop offset="0.3638" stop-color="#ff9600"/><stop offset="0.3711" stop-color="#ff9000"/><stop offset="0.3785" stop-color="#ff8a00"/><stop offset="0.3873" stop-color="#ff8300"/><stop offset="0.4020" stop-color="#ff7600"/><stop offset="0.4226" stop-color="#ff6800"/><stop offset="0.4461" stop-color="#ff5b00"/><stop offset="0.4814" stop-color="#ff4800"/><stop offset="0.5402" stop-color="#ff3500"/><stop offset="0.6285" stop-color="#ff2200"/><stop offset="0.7167" stop-color="#ff1700"/><stop offset="0.8344" stop-color="#ff0c00"/><stop offset="0.9520" stop-color="#ff0500"/><stop offset="1.0000" stop-color="#ff0400"/></linearGradient><linearGradient id="gf4" gradientUnits="userSpaceOnUse" x1="997.0" x2="1337.0" y1="0" y2="0"><stop offset="0.0000" stop-color="#fffc00"/><stop offset="0.0134" stop-color="#fffc00"/><stop offset="0.1016" stop-color="#fffc00"/><stop offset="0.1899" stop-color="#fffc00"/><stop offset="0.2487" stop-color="#fffc00"/><stop offset="0.2840" stop-color="#fffc00"/><stop offset="0.3075" stop-color="#fffc00"/><stop offset="0.3281" stop-color="#fffc00"/><stop offset="0.3428" stop-color="#fffc00"/><stop offset="0.3516" stop-color="#fffc00"/><stop offset="0.3590" stop-color="#fffc00"/><stop offset="0.3663" stop-color="#ff9600"/><stop offset="0.3737" stop-color="#ff9000"/><stop offset="0.3810" stop-color="#ff8a00"/><stop offset="0.3899" stop-color="#ff8300"/><stop offset="0.4046" stop-color="#ff7700"/><stop offset="0.4252" stop-color="#ff6800"/><stop offset="0.4487" stop-color="#ff5b00"/><stop offset="0.4840" stop-color="#ff4800"/><stop offset="0.5428" stop-color="#ff3500"/><stop offset="0.6310" stop-color="#ff2200"/><stop offset="0.7193" stop-color="#ff1700"/><stop offset="0.8369" stop-color="#ff0c00"/><stop offset="0.9546" stop-color="#ff0500"/><stop offset="1.0000" stop-color="#ff0400"/></linearGradient><linearGradient id="gf5" gradientUnits="userSpaceOnUse" x1="997.0" x2="1337.0" y1="0" y2="0"><stop offset="0.0000" stop-color="#fffc00"/><stop offset="0.0160" stop-color="#fffc00"/><stop offset="0.1042" stop-color="#fffc00"/><stop offset="0.1925" stop-color="#fffc00"/><stop offset="0.2513" stop-color="#fffc00"/><stop offset="0.2866" stop-color="#fffc00"/><stop offset="0.3101" stop-color="#fffc00"/><stop offset="0.3307" stop-color="#fffc00"/><stop offset="0.3454" stop-color="#fffc00"/><stop offset="0.3542" stop-color="#fffc00"/><stop offset="0.3616" stop-color="#fffc00"/><stop offset="0.3689" stop-color="#ff9600"/><stop offset="0.3763" stop-color="#ff9100"/><stop offset="0.3837" stop-color="#ff8b00"/><stop offset="0.3925" stop-color="#ff8300"/><stop offset="0.4072" stop-color="#ff7700"/><stop offset="0.4278" stop-color="#ff6900"/><stop offset="0.4513" stop-color="#ff5b00"/><stop offset="0.4866" stop-color="#ff4900"/><stop offset="0.5454" stop-color="#ff3600"/><stop offset="0.6337" stop-color="#ff2200"/><stop offset="0.7219" stop-color="#ff1700"/><stop offset="0.8395" stop-color="#ff0c00"/><stop offset="0.9572" stop-color="#ff0500"/><stop offset="1.0000" stop-color="#ff0400"/></linearGradient><linearGradient id="gf6" gradientUnits="userSpaceOnUse" x1="997.0" x2="1337.0" y1="0" y2="0"><stop offset="0.0000" stop-color="#fffb00"/><stop offset="0.0186" stop-color="#fffb00"/><stop offset="0.1068" stop-color="#fffb00"/><stop offset="0.1951" stop-color="#fffb00"/><stop offset="0.2539" stop-color="#fffb00"/><stop offset="0.2892" stop-color="#fffb00"/><stop offset="0.3127" stop-color="#fffb00"/><stop offset="0.3333" stop-color="#fffb00"/><stop offset="0.3480" stop-color="#fffb00"/><stop offset="0.3568" stop-color="#fffb00"/><stop offset="0.3642" stop-color="#fffb00"/><stop offset="0.3716" stop-color="#ff9700"/><stop offset="0.3789" stop-color="#ff9100"/><stop offset="0.3863" stop-color="#ff8b00"/><stop offset="0.3951" stop-color="#ff8300"/><stop offset="0.4098" stop-color="#ff7700"/><stop offset="0.4304" stop-color="#ff6900"/><stop offset="0.4539" stop-color="#ff5c00"/><stop offset="0.4892" stop-color="#ff4900"/><stop offset="0.5480" stop-color="#ff3600"/><stop offset="0.6363" stop-color="#ff2300"/><stop offset="0.7245" stop-color="#ff1700"/><stop offset="0.8421" stop-color="#ff0d00"/><stop offset="0.9598" stop-color="#ff0500"/><stop offset="1.0000" stop-color="#ff0400"/></linearGradient><linearGradient id="gf7" gradientUnits="userSpaceOnUse" x1="997.0" x2="1337.0" y1="0" y2="0"><stop offset="0.0000" stop-color="#fffb00"/><stop offset="0.0212" stop-color="#fffb00"/><stop offset="0.1095" stop-color="#fffb00"/><stop offset="0.1977" stop-color="#fffb00"/><stop offset="0.2565" stop-color="#fffb00"/><stop offset="0.2918" stop-color="#fffb00"/><stop offset="0.3153" stop-color="#fffb00"/><stop offset="0.3359" stop-color="#fffb00"/><stop offset="0.3506" stop-color="#fffb00"/><stop offset="0.3595" stop-color="#fffb00"/><stop offset="0.3668" stop-color="#fffb00"/><stop offset="0.3742" stop-color="#ff9700"/><stop offset="0.3815" stop-color="#ff9100"/><stop offset="0.3889" stop-color="#ff8b00"/><stop offset="0.3977" stop-color="#ff8300"/><stop offset="0.4124" stop-color="#ff7700"/><stop offset="0.4330" stop-color="#ff6900"/><stop offset="0.4565" stop-color="#ff5c00"/><stop offset="0.4918" stop-color="#ff4900"/><stop offset="0.5506" stop-color="#ff3600"/><stop offset="0.6389" stop-color="#ff2300"/><stop offset="0.7271" stop-color="#ff1800"/><stop offset="0.8448" stop-color="#ff0d00"/><stop offset="0.9624" stop-color="#ff0500"/><stop offset="1.0000" stop-color="#ff0400"/></linearGradient><linearGradient id="gf8" gradientUnits="userSpaceOnUse" x1="997.0" x2="1337.0" y1="0" y2="0"><stop offset="0.0000" stop-color="#fffb00"/><stop offset="0.0238" stop-color="#fffb00"/><stop offset="0.1121" stop-color="#fffb00"/><stop offset="0.2003" stop-color="#fffb00"/><stop offset="0.2591" stop-color="#fffb00"/><stop offset="0.2944" stop-color="#fffb00"/><stop offset="0.3179" stop-color="#fffb00"/><stop offset="0.3385" stop-color="#fffb00"/><stop offset="0.3532" stop-color="#fffb00"/><stop offset="0.3621" stop-color="#fffb00"/><stop offset="0.3694" stop-color="#fffb00"/><stop offset="0.3768" stop-color="#ff9700"/><stop offset="0.3841" stop-color="#ff9100"/><stop offset="0.3915" stop-color="#ff8b00"/><stop offset="0.4003" stop-color="#ff8400"/><stop offset="0.4150" stop-color="#ff7700"/><stop offset="0.4356" stop-color="#ff6a00"/><stop offset="0.4591" stop-color="#ff5c00"/><stop offset="0.4944" stop-color="#ff4a00"/><stop offset="0.5532" stop-color="#ff3700"/><stop offset="0.6415" stop-color="#ff2300"/><stop offset="0.7297" stop-color="#ff1800"/><stop offset="0.8474" stop-color="#ff0d00"/><stop offset="0.9650" stop-color="#ff0500"/><stop offset="1.0000" stop-color="#ff0400"/></linearGradient><linearGradient id="gf9" gradientUnits="userSpaceOnUse" x1="997.0" x2="1337.0" y1="0" y2="0"><stop offset="0.0000" stop-color="#fffa00"/><stop offset="0.0264" stop-color="#fffa00"/><stop offset="0.1147" stop-color="#fffa00"/><stop offset="0.2029" stop-color="#fffa00"/><stop offset="0.2617" stop-color="#fffa00"/><stop offset="0.2970" stop-color="#fffa00"/><stop offset="0.3206" stop-color="#fffa00"/><stop offset="0.3411" stop-color="#fffa00"/><stop offset="0.3559" stop-color="#fffa00"/><stop offset="0.3647" stop-color="#fffa00"/><stop offset="0.3720" stop-color="#fffa00"/><stop offset="0.3794" stop-color="#ff9700"/><stop offset="0.3867" stop-color="#ff9100"/><stop offset="0.3941" stop-color="#ff8b00"/><stop offset="0.4029" stop-color="#ff8400"/><stop offset="0.4176" stop-color="#ff7800"/><stop offset="0.4382" stop-color="#ff6a00"/><stop offset="0.4617" stop-color="#ff5d00"/><stop offset="0.4970" stop-color="#ff4a00"/><stop offset="0.5559" stop-color="#ff3700"/><stop offset="0.6441" stop-color="#ff2300"/><stop offset="0.7323" stop-color="#ff1800"/><stop offset="0.8500" stop-color="#ff0d00"/><stop offset="0.9676" stop-color="#ff0500"/><stop offset="1.0000" stop-color="#ff0400"/></linearGradient><linearGradient id="gf10" gradientUnits="userSpaceOnUse" x1="997.0" x2="1337.0" y1="0" y2="0"><stop offset="0.0000" stop-color="#fffa00"/><stop offset="0.0290" stop-color="#fffa00"/><stop offset="0.1173" stop-color="#fffa00"/><stop offset="0.2055" stop-color="#fffa00"/><stop offset="0.2643" stop-color="#fffa00"/><stop offset="0.2996" stop-color="#fffa00"/><stop offset="0.3232" stop-color="#fffa00"/><stop offset="0.3438" stop-color="#fffa00"/><stop offset="0.3585" stop-color="#fffa00"/><stop offset="0.3673" stop-color="#fffa00"/><stop offset="0.3746" stop-color="#fffa00"/><stop offset="0.3820" stop-color="#ff9700"/><stop offset="0.3893" stop-color="#ff9100"/><stop offset="0.3967" stop-color="#ff8b00"/><stop offset="0.4055" stop-color="#ff8400"/><stop offset="0.4202" stop-color="#ff7800"/><stop offset="0.4408" stop-color="#ff6a00"/><stop offset="0.4643" stop-color="#ff5d00"/><stop offset="0.4996" stop-color="#ff4b00"/><stop offset="0.5585" stop-color="#ff3800"/><stop offset="0.6467" stop-color="#ff2400"/><stop offset="0.7349" stop-color="#ff1800"/><stop offset="0.8526" stop-color="#ff0d00"/><stop offset="0.9702" stop-color="#ff0500"/><stop offset="1.0000" stop-color="#ff0500"/></linearGradient><linearGradient id="gf11" gradientUnits="userSpaceOnUse" x1="997.0" x2="1337.0" y1="0" y2="0"><stop offset="0.0000" stop-color="#fffa00"/><stop offset="0.0317" stop-color="#fffa00"/><stop offset="0.1199" stop-color="#fffa00"/><stop offset="0.2081" stop-color="#fffa00"/><stop offset="0.2670" stop-color="#fffa00"/><stop offset="0.3022" stop-color="#fffa00"/><stop offset="0.3258" stop-color="#fffa00"/><stop offset="0.3464" stop-color="#fffa00"/><stop offset="0.3611" stop-color="#fffa00"/><stop offset="0.3699" stop-color="#fffa00"/><stop offset="0.3772" stop-color="#fffa00"/><stop offset="0.3846" stop-color="#ff9700"/><stop offset="0.3920" stop-color="#ff9100"/><stop offset="0.3993" stop-color="#ff8b00"/><stop offset="0.4081" stop-color="#ff8400"/><stop offset="0.4228" stop-color="#ff7800"/><stop offset="0.4434" stop-color="#ff6a00"/><stop offset="0.4670" stop-color="#ff5d00"/><stop offset="0.5022" stop-color="#ff4b00"/><stop offset="0.5611" stop-color="#ff3800"/><stop offset="0.6493" stop-color="#ff2400"/><stop offset="0.7375" stop-color="#ff1800"/><stop offset="0.8552" stop-color="#ff0d00"/><stop offset="0.9728" stop-color="#ff0500"/><stop offset="1.0000" stop-color="#ff0500"/></linearGradient><linearGradient id="gf12" gradientUnits="userSpaceOnUse" x1="997.0" x2="1337.0" y1="0" y2="0"><stop offset="0.0000" stop-color="#fffa00"/><stop offset="0.0343" stop-color="#fffa00"/><stop offset="0.1225" stop-color="#fffa00"/><stop offset="0.2107" stop-color="#fffa00"/><stop offset="0.2696" stop-color="#fffa00"/><stop offset="0.3049" stop-color="#fffa00"/><stop offset="0.3284" stop-color="#fffa00"/><stop offset="0.3490" stop-color="#fffa00"/><stop offset="0.3637" stop-color="#fffa00"/><stop offset="0.3725" stop-color="#fffa00"/><stop offset="0.3799" stop-color="#fffa00"/><stop offset="0.3872" stop-color="#ff9700"/><stop offset="0.3946" stop-color="#ff9100"/><stop offset="0.4019" stop-color="#ff8b00"/><stop offset="0.4107" stop-color="#ff8400"/><stop offset="0.4254" stop-color="#ff7800"/><stop offset="0.4460" stop-color="#ff6b00"/><stop offset="0.4696" stop-color="#ff5d00"/><stop offset="0.5049" stop-color="#ff4b00"/><stop offset="0.5637" stop-color="#ff3800"/><stop offset="0.6519" stop-color="#ff2400"/><stop offset="0.7401" stop-color="#ff1800"/><stop offset="0.8578" stop-color="#ff0d00"/><stop offset="0.9754" stop-color="#ff0500"/><stop offset="1.0000" stop-color="#ff0500"/></linearGradient><linearGradient id="gf13" gradientUnits="userSpaceOnUse" x1="997.0" x2="1337.0" y1="0" y2="0"><stop offset="0.0000" stop-color="#fff900"/><stop offset="0.0369" stop-color="#fff900"/><stop offset="0.1251" stop-color="#fff900"/><stop offset="0.2133" stop-color="#fff900"/><stop offset="0.2722" stop-color="#fff900"/><stop offset="0.3075" stop-color="#fff900"/><stop offset="0.3310" stop-color="#fff900"/><stop offset="0.3516" stop-color="#fff900"/><stop offset="0.3663" stop-color="#fff900"/><stop offset="0.3751" stop-color="#fff900"/><stop offset="0.3825" stop-color="#fff900"/><stop offset="0.3898" stop-color="#ff9700"/><stop offset="0.3972" stop-color="#ff9100"/><stop offset="0.4045" stop-color="#ff8b00"/><stop offset="0.4133" stop-color="#ff8400"/><stop offset="0.4281" stop-color="#ff7900"/><stop offset="0.4486" stop-color="#ff6b00"/><stop offset="0.4722" stop-color="#ff5e00"/><stop offset="0.5075" stop-color="#ff4c00"/><stop offset="0.5663" stop-color="#ff3900"/><stop offset="0.6545" stop-color="#ff2400"/><stop offset="0.7428" stop-color="#ff1900"/><stop offset="0.8604" stop-color="#ff0d00"/><stop offset="0.9781" stop-color="#ff0500"/><stop offset="1.0000" stop-color="#ff0500"/></linearGradient><linearGradient id="gf14" gradientUnits="userSpaceOnUse" x1="997.0" x2="1337.0" y1="0" y2="0"><stop offset="0.0000" stop-color="#fff900"/><stop offset="0.0395" stop-color="#fff900"/><stop offset="0.1277" stop-color="#fff900"/><stop offset="0.2160" stop-color="#fff900"/><stop offset="0.2748" stop-color="#fff900"/><stop offset="0.3101" stop-color="#fff900"/><stop offset="0.3336" stop-color="#fff900"/><stop offset="0.3542" stop-color="#fff900"/><stop offset="0.3689" stop-color="#fff900"/><stop offset="0.3777" stop-color="#fff900"/><stop offset="0.3851" stop-color="#fff900"/><stop offset="0.3924" stop-color="#ff9700"/><stop offset="0.3998" stop-color="#ff9100"/><stop offset="0.4071" stop-color="#ff8c00"/><stop offset="0.4160" stop-color="#ff8400"/><stop offset="0.4307" stop-color="#ff7900"/><stop offset="0.4512" stop-color="#ff6b00"/><stop offset="0.4748" stop-color="#ff5e00"/><stop offset="0.5101" stop-color="#ff4c00"/><stop offset="0.5689" stop-color="#ff3900"/><stop offset="0.6571" stop-color="#ff2500"/><stop offset="0.7454" stop-color="#ff1900"/><stop offset="0.8630" stop-color="#ff0d00"/><stop offset="0.9807" stop-color="#ff0500"/><stop offset="1.0000" stop-color="#ff0500"/></linearGradient><linearGradient id="gf15" gradientUnits="userSpaceOnUse" x1="997.0" x2="1337.0" y1="0" y2="0"><stop offset="0.0000" stop-color="#fff900"/><stop offset="0.0421" stop-color="#fff900"/><stop offset="0.1303" stop-color="#fff900"/><stop offset="0.2186" stop-color="#fff900"/><stop offset="0.2774" stop-color="#fff900"/><stop offset="0.3127" stop-color="#fff900"/><stop offset="0.3362" stop-color="#fff900"/><stop offset="0.3568" stop-color="#fff900"/><stop offset="0.3715" stop-color="#fff900"/><stop offset="0.3803" stop-color="#fff900"/><stop offset="0.3877" stop-color="#fff900"/><stop offset="0.3950" stop-color="#ff9700"/><stop offset="0.4024" stop-color="#ff9200"/><stop offset="0.4097" stop-color="#ff8c00"/><stop offset="0.4186" stop-color="#ff8500"/><stop offset="0.4333" stop-color="#ff7900"/><stop offset="0.4539" stop-color="#ff6b00"/><stop offset="0.4774" stop-color="#ff5e00"/><stop offset="0.5127" stop-color="#ff4c00"/><stop offset="0.5715" stop-color="#ff3900"/><stop offset="0.6597" stop-color="#ff2500"/><stop offset="0.7480" stop-color="#ff1900"/><stop offset="0.8656" stop-color="#ff0d00"/><stop offset="0.9833" stop-color="#ff0500"/><stop offset="1.0000" stop-color="#ff0500"/></linearGradient><linearGradient id="gf16" gradientUnits="userSpaceOnUse" x1="997.0" x2="1337.0" y1="0" y2="0"><stop offset="0.0000" stop-color="#fff900"/><stop offset="0.0447" stop-color="#fff900"/><stop offset="0.1329" stop-color="#fff900"/><stop offset="0.2212" stop-color="#fff900"/><stop offset="0.2800" stop-color="#fff900"/><stop offset="0.3153" stop-color="#fff900"/><stop offset="0.3388" stop-color="#fff900"/><stop offset="0.3594" stop-color="#fff900"/><stop offset="0.3741" stop-color="#fff900"/><stop offset="0.3829" stop-color="#fff900"/><stop offset="0.3903" stop-color="#fff900"/><stop offset="0.3976" stop-color="#ff9700"/><stop offset="0.4050" stop-color="#ff9200"/><stop offset="0.4124" stop-color="#ff8c00"/><stop offset="0.4212" stop-color="#ff8500"/><stop offset="0.4359" stop-color="#ff7900"/><stop offset="0.4565" stop-color="#ff6c00"/><stop offset="0.4800" stop-color="#ff5f00"/><stop offset="0.5153" stop-color="#ff4d00"/><stop offset="0.5741" stop-color="#ff3a00"/><stop offset="0.6624" stop-color="#ff2500"/><stop offset="0.7506" stop-color="#ff1900"/><stop offset="0.8682" stop-color="#ff0d00"/><stop offset="0.9859" stop-color="#ff0500"/><stop offset="1.0000" stop-color="#ff0500"/></linearGradient><linearGradient id="gf17" gradientUnits="userSpaceOnUse" x1="997.0" x2="1337.0" y1="0" y2="0"><stop offset="0.0000" stop-color="#fff800"/><stop offset="0.0473" stop-color="#fff800"/><stop offset="0.1355" stop-color="#fff800"/><stop offset="0.2238" stop-color="#fff800"/><stop offset="0.2826" stop-color="#fff800"/><stop offset="0.3179" stop-color="#fff800"/><stop offset="0.3414" stop-color="#fff800"/><stop offset="0.3620" stop-color="#fff800"/><stop offset="0.3767" stop-color="#fff800"/><stop offset="0.3855" stop-color="#fff800"/><stop offset="0.3929" stop-color="#fff800"/><stop offset="0.4003" stop-color="#ff9800"/><stop offset="0.4076" stop-color="#ff9200"/><stop offset="0.4150" stop-color="#ff8c00"/><stop offset="0.4238" stop-color="#ff8500"/><stop offset="0.4385" stop-color="#ff7a00"/><stop offset="0.4591" stop-color="#ff6c00"/><stop offset="0.4826" stop-color="#ff5f00"/><stop offset="0.5179" stop-color="#ff4d00"/><stop offset="0.5767" stop-color="#ff3a00"/><stop offset="0.6650" stop-color="#ff2500"/><stop offset="0.7532" stop-color="#ff1900"/><stop offset="0.8708" stop-color="#ff0d00"/><stop offset="0.9885" stop-color="#ff0500"/><stop offset="1.0000" stop-color="#ff0500"/></linearGradient><linearGradient id="gf18" gradientUnits="userSpaceOnUse" x1="997.0" x2="1337.0" y1="0" y2="0"><stop offset="0.0000" stop-color="#fff800"/><stop offset="0.0495" stop-color="#fff800"/><stop offset="0.1377" stop-color="#fff800"/><stop offset="0.2260" stop-color="#fff800"/><stop offset="0.2848" stop-color="#fff800"/><stop offset="0.3201" stop-color="#fff800"/><stop offset="0.3436" stop-color="#fff800"/><stop offset="0.3642" stop-color="#fff800"/><stop offset="0.3789" stop-color="#fff800"/><stop offset="0.3877" stop-color="#fff800"/><stop offset="0.3951" stop-color="#fff800"/><stop offset="0.4025" stop-color="#ff9800"/><stop offset="0.4098" stop-color="#ff9200"/><stop offset="0.4172" stop-color="#ff8c00"/><stop offset="0.4260" stop-color="#ff8500"/><stop offset="0.4407" stop-color="#ff7a00"/><stop offset="0.4613" stop-color="#ff6c00"/><stop offset="0.4848" stop-color="#ff5f00"/><stop offset="0.5201" stop-color="#ff4d00"/><stop offset="0.5789" stop-color="#ff3b00"/><stop offset="0.6672" stop-color="#ff2600"/><stop offset="0.7554" stop-color="#ff1900"/><stop offset="0.8730" stop-color="#ff0d00"/><stop offset="0.9907" stop-color="#ff0500"/><stop offset="1.0000" stop-color="#ff0500"/></linearGradient><linearGradient id="gf19" gradientUnits="userSpaceOnUse" x1="997.0" x2="1337.0" y1="0" y2="0"><stop offset="0.0000" stop-color="#fff800"/><stop offset="0.0513" stop-color="#fff800"/><stop offset="0.1396" stop-color="#fff800"/><stop offset="0.2278" stop-color="#fff800"/><stop offset="0.2866" stop-color="#fff800"/><stop offset="0.3219" stop-color="#fff800"/><stop offset="0.3455" stop-color="#fff800"/><stop offset="0.3661" stop-color="#fff800"/><stop offset="0.3808" stop-color="#fff800"/><stop offset="0.3896" stop-color="#fff800"/><stop offset="0.3969" stop-color="#fff800"/><stop offset="0.4043" stop-color="#ff9800"/><stop offset="0.4116" stop-color="#ff9200"/><stop offset="0.4190" stop-color="#ff8c00"/><stop offset="0.4278" stop-color="#ff8500"/><stop offset="0.4425" stop-color="#ff7a00"/><stop offset="0.4631" stop-color="#ff6c00"/><stop offset="0.4866" stop-color="#ff6000"/><stop offset="0.5219" stop-color="#ff4e00"/><stop offset="0.5808" stop-color="#ff3b00"/><stop offset="0.6690" stop-color="#ff2600"/><stop offset="0.7572" stop-color="#ff1a00"/><stop offset="0.8749" stop-color="#ff0d00"/><stop offset="0.9925" stop-color="#ff0500"/><stop offset="1.0000" stop-color="#ff0500"/></linearGradient><linearGradient id="gf20" gradientUnits="userSpaceOnUse" x1="997.0" x2="1337.0" y1="0" y2="0"><stop offset="0.0000" stop-color="#fff700"/><stop offset="0.0532" stop-color="#fff700"/><stop offset="0.1414" stop-color="#fff700"/><stop offset="0.2297" stop-color="#fff700"/><stop offset="0.2885" stop-color="#fff700"/><stop offset="0.3238" stop-color="#fff700"/><stop offset="0.3473" stop-color="#fff700"/><stop offset="0.3679" stop-color="#fff700"/><stop offset="0.3826" stop-color="#fff700"/><stop offset="0.3914" stop-color="#fff700"/><stop offset="0.3988" stop-color="#fff700"/><stop offset="0.4061" stop-color="#ff9800"/><stop offset="0.4135" stop-color="#ff9200"/><stop offset="0.4208" stop-color="#ff8c00"/><stop offset="0.4297" stop-color="#ff8500"/><stop offset="0.4444" stop-color="#ff7a00"/><stop offset="0.4650" stop-color="#ff6d00"/><stop offset="0.4885" stop-color="#ff6000"/><stop offset="0.5238" stop-color="#ff4e00"/><stop offset="0.5826" stop-color="#ff3b00"/><stop offset="0.6708" stop-color="#ff2600"/><stop offset="0.7591" stop-color="#ff1a00"/><stop offset="0.8767" stop-color="#ff0d00"/><stop offset="0.9944" stop-color="#ff0500"/><stop offset="1.0000" stop-color="#ff0500"/></linearGradient><linearGradient id="gf21" gradientUnits="userSpaceOnUse" x1="997.0" x2="1337.0" y1="0" y2="0"><stop offset="0.0000" stop-color="#fff700"/><stop offset="0.0550" stop-color="#fff700"/><stop offset="0.1433" stop-color="#fff700"/><stop offset="0.2315" stop-color="#fff700"/><stop offset="0.2903" stop-color="#fff700"/><stop offset="0.3256" stop-color="#fff700"/><stop offset="0.3491" stop-color="#fff700"/><stop offset="0.3697" stop-color="#fff700"/><stop offset="0.3844" stop-color="#fff700"/><stop offset="0.3933" stop-color="#fff700"/><stop offset="0.4006" stop-color="#fff700"/><stop offset="0.4080" stop-color="#ff9800"/><stop offset="0.4153" stop-color="#ff9200"/><stop offset="0.4227" stop-color="#ff8c00"/><stop offset="0.4315" stop-color="#ff8600"/><stop offset="0.4462" stop-color="#ff7a00"/><stop offset="0.4668" stop-color="#ff6d00"/><stop offset="0.4903" stop-color="#ff6000"/><stop offset="0.5256" stop-color="#ff4e00"/><stop offset="0.5844" stop-color="#ff3c00"/><stop offset="0.6727" stop-color="#ff2700"/><stop offset="0.7609" stop-color="#ff1a00"/><stop offset="0.8786" stop-color="#ff0d00"/><stop offset="0.9962" stop-color="#ff0500"/><stop offset="1.0000" stop-color="#ff0500"/></linearGradient><linearGradient id="gf22" gradientUnits="userSpaceOnUse" x1="997.0" x2="1337.0" y1="0" y2="0"><stop offset="0.0000" stop-color="#fff700"/><stop offset="0.0569" stop-color="#fff700"/><stop offset="0.1451" stop-color="#fff700"/><stop offset="0.2333" stop-color="#fff700"/><stop offset="0.2922" stop-color="#fff700"/><stop offset="0.3275" stop-color="#fff700"/><stop offset="0.3510" stop-color="#fff700"/><stop offset="0.3716" stop-color="#fff700"/><stop offset="0.3863" stop-color="#fff700"/><stop offset="0.3951" stop-color="#fff700"/><stop offset="0.4025" stop-color="#fff700"/><stop offset="0.4098" stop-color="#ff9800"/><stop offset="0.4172" stop-color="#ff9200"/><stop offset="0.4245" stop-color="#ff8c00"/><stop offset="0.4333" stop-color="#ff8600"/><stop offset="0.4480" stop-color="#ff7b00"/><stop offset="0.4686" stop-color="#ff6d00"/><stop offset="0.4922" stop-color="#ff6000"/><stop offset="0.5275" stop-color="#ff4f00"/><stop offset="0.5863" stop-color="#ff3c00"/><stop offset="0.6745" stop-color="#ff2700"/><stop offset="0.7627" stop-color="#ff1a00"/><stop offset="0.8804" stop-color="#ff0d00"/><stop offset="0.9980" stop-color="#ff0500"/><stop offset="1.0000" stop-color="#ff0500"/></linearGradient><linearGradient id="gf23" gradientUnits="userSpaceOnUse" x1="997.0" x2="1337.0" y1="0" y2="0"><stop offset="0.0000" stop-color="#fff700"/><stop offset="0.0587" stop-color="#fff700"/><stop offset="0.1469" stop-color="#fff700"/><stop offset="0.2352" stop-color="#fff700"/><stop offset="0.2940" stop-color="#fff700"/><stop offset="0.3293" stop-color="#fff700"/><stop offset="0.3528" stop-color="#fff700"/><stop offset="0.3734" stop-color="#fff700"/><stop offset="0.3881" stop-color="#fff700"/><stop offset="0.3969" stop-color="#fff700"/><stop offset="0.4043" stop-color="#fff700"/><stop offset="0.4116" stop-color="#ff9800"/><stop offset="0.4190" stop-color="#ff9200"/><stop offset="0.4263" stop-color="#ff8d00"/><stop offset="0.4352" stop-color="#ff8600"/><stop offset="0.4499" stop-color="#ff7b00"/><stop offset="0.4705" stop-color="#ff6e00"/><stop offset="0.4940" stop-color="#ff6100"/><stop offset="0.5293" stop-color="#ff4f00"/><stop offset="0.5881" stop-color="#ff3c00"/><stop offset="0.6763" stop-color="#ff2700"/><stop offset="0.7646" stop-color="#ff1a00"/><stop offset="0.8822" stop-color="#ff0d00"/><stop offset="0.9999" stop-color="#ff0600"/><stop offset="1.0000" stop-color="#ff0600"/></linearGradient><linearGradient id="gf24" gradientUnits="userSpaceOnUse" x1="997.0" x2="1337.0" y1="0" y2="0"><stop offset="0.0000" stop-color="#fff600"/><stop offset="0.0605" stop-color="#fff600"/><stop offset="0.1488" stop-color="#fff600"/><stop offset="0.2370" stop-color="#fff600"/><stop offset="0.2958" stop-color="#fff600"/><stop offset="0.3311" stop-color="#fff600"/><stop offset="0.3547" stop-color="#fff600"/><stop offset="0.3752" stop-color="#fff600"/><stop offset="0.3900" stop-color="#fff600"/><stop offset="0.3988" stop-color="#fff600"/><stop offset="0.4061" stop-color="#fff600"/><stop offset="0.4135" stop-color="#ff9800"/><stop offset="0.4208" stop-color="#ff9200"/><stop offset="0.4282" stop-color="#ff8d00"/><stop offset="0.4370" stop-color="#ff8600"/><stop offset="0.4517" stop-color="#ff7b00"/><stop offset="0.4723" stop-color="#ff6e00"/><stop offset="0.4958" stop-color="#ff6100"/><stop offset="0.5311" stop-color="#ff5000"/><stop offset="0.5900" stop-color="#ff3d00"/><stop offset="0.6782" stop-color="#ff2700"/><stop offset="0.7664" stop-color="#ff1b00"/><stop offset="0.8841" stop-color="#ff0d00"/><stop offset="1.0000" stop-color="#ff0600"/></linearGradient><linearGradient id="gf25" gradientUnits="userSpaceOnUse" x1="997.0" x2="1337.0" y1="0" y2="0"><stop offset="0.0000" stop-color="#fff600"/><stop offset="0.0624" stop-color="#fff600"/><stop offset="0.1506" stop-color="#fff600"/><stop offset="0.2388" stop-color="#fff600"/><stop offset="0.2977" stop-color="#fff600"/><stop offset="0.3330" stop-color="#fff600"/><stop offset="0.3565" stop-color="#fff600"/><stop offset="0.3771" stop-color="#fff600"/><stop offset="0.3918" stop-color="#fff600"/><stop offset="0.4006" stop-color="#fff600"/><stop offset="0.4080" stop-color="#fff600"/><stop offset="0.4153" stop-color="#ff9800"/><stop offset="0.4227" stop-color="#ff9300"/><stop offset="0.4300" stop-color="#ff8d00"/><stop offset="0.4388" stop-color="#ff8600"/><stop offset="0.4536" stop-color="#ff7b00"/><stop offset="0.4741" stop-color="#ff6e00"/><stop offset="0.4977" stop-color="#ff6100"/><stop offset="0.5330" stop-color="#ff5000"/><stop offset="0.5918" stop-color="#ff3d00"/><stop offset="0.6800" stop-color="#ff2800"/><stop offset="0.7683" stop-color="#ff1b00"/><stop offset="0.8859" stop-color="#ff0e00"/><stop offset="1.0000" stop-color="#ff0600"/></linearGradient><linearGradient id="gf26" gradientUnits="userSpaceOnUse" x1="997.0" x2="1337.0" y1="0" y2="0"><stop offset="0.0000" stop-color="#fff600"/><stop offset="0.0642" stop-color="#fff600"/><stop offset="0.1525" stop-color="#fff600"/><stop offset="0.2407" stop-color="#fff600"/><stop offset="0.2995" stop-color="#fff600"/><stop offset="0.3348" stop-color="#fff600"/><stop offset="0.3583" stop-color="#fff600"/><stop offset="0.3789" stop-color="#fff600"/><stop offset="0.3936" stop-color="#fff600"/><stop offset="0.4025" stop-color="#fff600"/><stop offset="0.4098" stop-color="#fff600"/><stop offset="0.4172" stop-color="#ff9800"/><stop offset="0.4245" stop-color="#ff9300"/><stop offset="0.4319" stop-color="#ff8d00"/><stop offset="0.4407" stop-color="#ff8600"/><stop offset="0.4554" stop-color="#ff7c00"/><stop offset="0.4760" stop-color="#ff6e00"/><stop offset="0.4995" stop-color="#ff6200"/><stop offset="0.5348" stop-color="#ff5000"/><stop offset="0.5936" stop-color="#ff3d00"/><stop offset="0.6819" stop-color="#ff2800"/><stop offset="0.7701" stop-color="#ff1b00"/><stop offset="0.8877" stop-color="#ff0e00"/><stop offset="1.0000" stop-color="#ff0600"/></linearGradient><linearGradient id="gf27" gradientUnits="userSpaceOnUse" x1="997.0" x2="1337.0" y1="0" y2="0"><stop offset="0.0000" stop-color="#fff500"/><stop offset="0.0661" stop-color="#fff500"/><stop offset="0.1543" stop-color="#fff500"/><stop offset="0.2425" stop-color="#fff500"/><stop offset="0.3013" stop-color="#fff500"/><stop offset="0.3366" stop-color="#fff500"/><stop offset="0.3602" stop-color="#fff500"/><stop offset="0.3808" stop-color="#fff500"/><stop offset="0.3955" stop-color="#fff500"/><stop offset="0.4043" stop-color="#fff500"/><stop offset="0.4116" stop-color="#fff500"/><stop offset="0.4190" stop-color="#ff9800"/><stop offset="0.4263" stop-color="#ff9300"/><stop offset="0.4337" stop-color="#ff8d00"/><stop offset="0.4425" stop-color="#ff8600"/><stop offset="0.4572" stop-color="#ff7c00"/><stop offset="0.4778" stop-color="#ff6f00"/><stop offset="0.5013" stop-color="#ff6200"/><stop offset="0.5366" stop-color="#ff5100"/><stop offset="0.5955" stop-color="#ff3e00"/><stop offset="0.6837" stop-color="#ff2800"/><stop offset="0.7719" stop-color="#ff1b00"/><stop offset="0.8896" stop-color="#ff0e00"/><stop offset="1.0000" stop-color="#ff0600"/></linearGradient><linearGradient id="gf28" gradientUnits="userSpaceOnUse" x1="997.0" x2="1337.0" y1="0" y2="0"><stop offset="0.0000" stop-color="#fff500"/><stop offset="0.0679" stop-color="#fff500"/><stop offset="0.1561" stop-color="#fff500"/><stop offset="0.2444" stop-color="#fff500"/><stop offset="0.3032" stop-color="#fff500"/><stop offset="0.3385" stop-color="#fff500"/><stop offset="0.3620" stop-color="#fff500"/><stop offset="0.3826" stop-color="#fff500"/><stop offset="0.3973" stop-color="#fff500"/><stop offset="0.4061" stop-color="#fff500"/><stop offset="0.4135" stop-color="#fff500"/><stop offset="0.4208" stop-color="#ff9900"/><stop offset="0.4282" stop-color="#ff9300"/><stop offset="0.4355" stop-color="#ff8d00"/><stop offset="0.4444" stop-color="#ff8700"/><stop offset="0.4591" stop-color="#ff7c00"/><stop offset="0.4797" stop-color="#ff6f00"/><stop offset="0.5032" stop-color="#ff6200"/><stop offset="0.5385" stop-color="#ff5100"/><stop offset="0.5973" stop-color="#ff3e00"/><stop offset="0.6855" stop-color="#ff2800"/><stop offset="0.7738" stop-color="#ff1b00"/><stop offset="0.8914" stop-color="#ff0e00"/><stop offset="1.0000" stop-color="#ff0600"/></linearGradient><linearGradient id="gf29" gradientUnits="userSpaceOnUse" x1="997.0" x2="1337.0" y1="0" y2="0"><stop offset="0.0000" stop-color="#fff500"/><stop offset="0.0697" stop-color="#fff500"/><stop offset="0.1580" stop-color="#fff500"/><stop offset="0.2462" stop-color="#fff500"/><stop offset="0.3050" stop-color="#fff500"/><stop offset="0.3403" stop-color="#fff500"/><stop offset="0.3638" stop-color="#fff500"/><stop offset="0.3844" stop-color="#fff500"/><stop offset="0.3991" stop-color="#fff500"/><stop offset="0.4080" stop-color="#fff500"/><stop offset="0.4153" stop-color="#fff500"/><stop offset="0.4227" stop-color="#ff9900"/><stop offset="0.4300" stop-color="#ff9300"/><stop offset="0.4374" stop-color="#ff8d00"/><stop offset="0.4462" stop-color="#ff8700"/><stop offset="0.4609" stop-color="#ff7c00"/><stop offset="0.4815" stop-color="#ff6f00"/><stop offset="0.5050" stop-color="#ff6200"/><stop offset="0.5403" stop-color="#ff5100"/><stop offset="0.5991" stop-color="#ff3f00"/><stop offset="0.6874" stop-color="#ff2900"/><stop offset="0.7756" stop-color="#ff1b00"/><stop offset="0.8933" stop-color="#ff0e00"/><stop offset="1.0000" stop-color="#ff0600"/></linearGradient><linearGradient id="gf30" gradientUnits="userSpaceOnUse" x1="997.0" x2="1337.0" y1="0" y2="0"><stop offset="0.0000" stop-color="#fff500"/><stop offset="0.0716" stop-color="#fff500"/><stop offset="0.1598" stop-color="#fff500"/><stop offset="0.2480" stop-color="#fff500"/><stop offset="0.3069" stop-color="#fff500"/><stop offset="0.3422" stop-color="#fff500"/><stop offset="0.3657" stop-color="#fff500"/><stop offset="0.3863" stop-color="#fff500"/><stop offset="0.4010" stop-color="#fff500"/><stop offset="0.4098" stop-color="#fff500"/><stop offset="0.4172" stop-color="#fff500"/><stop offset="0.4245" stop-color="#ff9900"/><stop offset="0.4319" stop-color="#ff9300"/><stop offset="0.4392" stop-color="#ff8d00"/><stop offset="0.4480" stop-color="#ff8700"/><stop offset="0.4627" stop-color="#ff7c00"/><stop offset="0.4833" stop-color="#ff6f00"/><stop offset="0.5069" stop-color="#ff6300"/><stop offset="0.5422" stop-color="#ff5200"/><stop offset="0.6010" stop-color="#ff3f00"/><stop offset="0.6892" stop-color="#ff2900"/><stop offset="0.7775" stop-color="#ff1c00"/><stop offset="0.8951" stop-color="#ff0e00"/><stop offset="1.0000" stop-color="#ff0600"/></linearGradient><linearGradient id="gf31" gradientUnits="userSpaceOnUse" x1="997.0" x2="1337.0" y1="0" y2="0"><stop offset="0.0000" stop-color="#fff400"/><stop offset="0.0734" stop-color="#fff400"/><stop offset="0.1616" stop-color="#fff400"/><stop offset="0.2499" stop-color="#fff400"/><stop offset="0.3087" stop-color="#fff400"/><stop offset="0.3440" stop-color="#fff400"/><stop offset="0.3675" stop-color="#fff400"/><stop offset="0.3881" stop-color="#fff400"/><stop offset="0.4028" stop-color="#fff400"/><stop offset="0.4116" stop-color="#fff400"/><stop offset="0.4190" stop-color="#fff400"/><stop offset="0.4263" stop-color="#ff9900"/><stop offset="0.4337" stop-color="#ff9300"/><stop offset="0.4411" stop-color="#ff8e00"/><stop offset="0.4499" stop-color="#ff8700"/><stop offset="0.4646" stop-color="#ff7d00"/><stop offset="0.4852" stop-color="#ff7000"/><stop offset="0.5087" stop-color="#ff6300"/><stop offset="0.5440" stop-color="#ff5200"/><stop offset="0.6028" stop-color="#ff3f00"/><stop offset="0.6911" stop-color="#ff2900"/><stop offset="0.7793" stop-color="#ff1c00"/><stop offset="0.8969" stop-color="#ff0e00"/><stop offset="1.0000" stop-color="#ff0600"/></linearGradient><linearGradient id="gf32" gradientUnits="userSpaceOnUse" x1="997.0" x2="1337.0" y1="0" y2="0"><stop offset="0.0000" stop-color="#fff400"/><stop offset="0.0752" stop-color="#fff400"/><stop offset="0.1635" stop-color="#fff400"/><stop offset="0.2517" stop-color="#fff400"/><stop offset="0.3105" stop-color="#fff400"/><stop offset="0.3458" stop-color="#fff400"/><stop offset="0.3694" stop-color="#fff400"/><stop offset="0.3900" stop-color="#fff400"/><stop offset="0.4047" stop-color="#fff400"/><stop offset="0.4135" stop-color="#fff400"/><stop offset="0.4208" stop-color="#fff400"/><stop offset="0.4282" stop-color="#ff9900"/><stop offset="0.4355" stop-color="#ff9300"/><stop offset="0.4429" stop-color="#ff8e00"/><stop offset="0.4517" stop-color="#ff8700"/><stop offset="0.4664" stop-color="#ff7d00"/><stop offset="0.4870" stop-color="#ff7000"/><stop offset="0.5105" stop-color="#ff6300"/><stop offset="0.5458" stop-color="#ff5200"/><stop offset="0.6047" stop-color="#ff4000"/><stop offset="0.6929" stop-color="#ff2900"/><stop offset="0.7811" stop-color="#ff1c00"/><stop offset="0.8988" stop-color="#ff0e00"/><stop offset="1.0000" stop-color="#ff0600"/></linearGradient><linearGradient id="gf33" gradientUnits="userSpaceOnUse" x1="997.0" x2="1337.0" y1="0" y2="0"><stop offset="0.0000" stop-color="#fff400"/><stop offset="0.0770" stop-color="#fff400"/><stop offset="0.1652" stop-color="#fff400"/><stop offset="0.2534" stop-color="#fff400"/><stop offset="0.3123" stop-color="#fff400"/><stop offset="0.3476" stop-color="#fff400"/><stop offset="0.3711" stop-color="#fff400"/><stop offset="0.3917" stop-color="#fff400"/><stop offset="0.4064" stop-color="#fff400"/><stop offset="0.4152" stop-color="#fff400"/><stop offset="0.4226" stop-color="#fff400"/><stop offset="0.4299" stop-color="#ff9900"/><stop offset="0.4373" stop-color="#ff9300"/><stop offset="0.4446" stop-color="#ff8e00"/><stop offset="0.4534" stop-color="#ff8700"/><stop offset="0.4682" stop-color="#ff7d00"/><stop offset="0.4887" stop-color="#ff7000"/><stop offset="0.5123" stop-color="#ff6400"/><stop offset="0.5476" stop-color="#ff5300"/><stop offset="0.6064" stop-color="#ff4000"/><stop offset="0.6946" stop-color="#ff2a00"/><stop offset="0.7829" stop-color="#ff1c00"/><stop offset="0.9005" stop-color="#ff0e00"/><stop offset="1.0000" stop-color="#ff0600"/></linearGradient><linearGradient id="gf34" gradientUnits="userSpaceOnUse" x1="997.0" x2="1337.0" y1="0" y2="0"><stop offset="0.0000" stop-color="#fff400"/><stop offset="0.0785" stop-color="#fff400"/><stop offset="0.1667" stop-color="#fff400"/><stop offset="0.2550" stop-color="#fff400"/><stop offset="0.3138" stop-color="#fff400"/><stop offset="0.3491" stop-color="#fff400"/><stop offset="0.3726" stop-color="#fff400"/><stop offset="0.3932" stop-color="#fff400"/><stop offset="0.4079" stop-color="#fff400"/><stop offset="0.4167" stop-color="#fff400"/><stop offset="0.4241" stop-color="#fff400"/><stop offset="0.4314" stop-color="#ff9900"/><stop offset="0.4388" stop-color="#ff9300"/><stop offset="0.4461" stop-color="#ff8e00"/><stop offset="0.4550" stop-color="#ff8700"/><stop offset="0.4697" stop-color="#ff7d00"/><stop offset="0.4902" stop-color="#ff7000"/><stop offset="0.5138" stop-color="#ff6400"/><stop offset="0.5491" stop-color="#ff5300"/><stop offset="0.6079" stop-color="#ff4000"/><stop offset="0.6961" stop-color="#ff2a00"/><stop offset="0.7844" stop-color="#ff1c00"/><stop offset="0.9020" stop-color="#ff0e00"/><stop offset="1.0000" stop-color="#ff0700"/></linearGradient><linearGradient id="gf35" gradientUnits="userSpaceOnUse" x1="997.0" x2="1337.0" y1="0" y2="0"><stop offset="0.0000" stop-color="#fff300"/><stop offset="0.0800" stop-color="#fff300"/><stop offset="0.1682" stop-color="#fff300"/><stop offset="0.2565" stop-color="#fff300"/><stop offset="0.3153" stop-color="#fff300"/><stop offset="0.3506" stop-color="#fff300"/><stop offset="0.3741" stop-color="#fff300"/><stop offset="0.3947" stop-color="#fff300"/><stop offset="0.4094" stop-color="#fff300"/><stop offset="0.4182" stop-color="#fff300"/><stop offset="0.4256" stop-color="#fff300"/><stop offset="0.4329" stop-color="#ff9900"/><stop offset="0.4403" stop-color="#ff9400"/><stop offset="0.4476" stop-color="#ff8e00"/><stop offset="0.4565" stop-color="#ff8800"/><stop offset="0.4712" stop-color="#ff7e00"/><stop offset="0.4918" stop-color="#ff7100"/><stop offset="0.5153" stop-color="#ff6400"/><stop offset="0.5506" stop-color="#ff5300"/><stop offset="0.6094" stop-color="#ff4100"/><stop offset="0.6976" stop-color="#ff2a00"/><stop offset="0.7859" stop-color="#ff1c00"/><stop offset="0.9035" stop-color="#ff0e00"/><stop offset="1.0000" stop-color="#ff0700"/></linearGradient><linearGradient id="gf36" gradientUnits="userSpaceOnUse" x1="997.0" x2="1337.0" y1="0" y2="0"><stop offset="0.0000" stop-color="#fff300"/><stop offset="0.0815" stop-color="#fff300"/><stop offset="0.1697" stop-color="#fff300"/><stop offset="0.2580" stop-color="#fff300"/><stop offset="0.3168" stop-color="#fff300"/><stop offset="0.3521" stop-color="#fff300"/><stop offset="0.3756" stop-color="#fff300"/><stop offset="0.3962" stop-color="#fff300"/><stop offset="0.4109" stop-color="#fff300"/><stop offset="0.4197" stop-color="#fff300"/><stop offset="0.4271" stop-color="#fff300"/><stop offset="0.4344" stop-color="#ff9900"/><stop offset="0.4418" stop-color="#ff9400"/><stop offset="0.4491" stop-color="#ff8e00"/><stop offset="0.4580" stop-color="#ff8800"/><stop offset="0.4727" stop-color="#ff7e00"/><stop offset="0.4933" stop-color="#ff7100"/><stop offset="0.5168" stop-color="#ff6400"/><stop offset="0.5521" stop-color="#ff5400"/><stop offset="0.6109" stop-color="#ff4100"/><stop offset="0.6991" stop-color="#ff2a00"/><stop offset="0.7874" stop-color="#ff1d00"/><stop offset="0.9050" stop-color="#ff0e00"/><stop offset="1.0000" stop-color="#ff0700"/></linearGradient><linearGradient id="gf37" gradientUnits="userSpaceOnUse" x1="997.0" x2="1337.0" y1="0" y2="0"><stop offset="0.0000" stop-color="#fff300"/><stop offset="0.0830" stop-color="#fff300"/><stop offset="0.1712" stop-color="#fff300"/><stop offset="0.2595" stop-color="#fff300"/><stop offset="0.3183" stop-color="#fff300"/><stop offset="0.3536" stop-color="#fff300"/><stop offset="0.3771" stop-color="#fff300"/><stop offset="0.3977" stop-color="#fff300"/><stop offset="0.4124" stop-color="#fff300"/><stop offset="0.4212" stop-color="#fff300"/><stop offset="0.4286" stop-color="#fff300"/><stop offset="0.4360" stop-color="#ff9900"/><stop offset="0.4433" stop-color="#ff9400"/><stop offset="0.4507" stop-color="#ff8e00"/><stop offset="0.4595" stop-color="#ff8800"/><stop offset="0.4742" stop-color="#ff7e00"/><stop offset="0.4948" stop-color="#ff7100"/><stop offset="0.5183" stop-color="#ff6500"/><stop offset="0.5536" stop-color="#ff5400"/><stop offset="0.6124" stop-color="#ff4200"/><stop offset="0.7007" stop-color="#ff2b00"/><stop offset="0.7889" stop-color="#ff1d00"/><stop offset="0.9065" stop-color="#ff0e00"/><stop offset="1.0000" stop-color="#ff0700"/></linearGradient><linearGradient id="gf38" gradientUnits="userSpaceOnUse" x1="997.0" x2="1337.0" y1="0" y2="0"><stop offset="0.0000" stop-color="#fff200"/><stop offset="0.0845" stop-color="#fff200"/><stop offset="0.1728" stop-color="#fff200"/><stop offset="0.2610" stop-color="#fff200"/><stop offset="0.3198" stop-color="#fff200"/><stop offset="0.3551" stop-color="#fff200"/><stop offset="0.3786" stop-color="#fff200"/><stop offset="0.3992" stop-color="#fff200"/><stop offset="0.4139" stop-color="#fff200"/><stop offset="0.4228" stop-color="#fff200"/><stop offset="0.4301" stop-color="#fff200"/><stop offset="0.4375" stop-color="#ff9900"/><stop offset="0.4448" stop-color="#ff9400"/><stop offset="0.4522" stop-color="#ff8e00"/><stop offset="0.4610" stop-color="#ff8800"/><stop offset="0.4757" stop-color="#ff7e00"/><stop offset="0.4963" stop-color="#ff7200"/><stop offset="0.5198" stop-color="#ff6500"/><stop offset="0.5551" stop-color="#ff5400"/><stop offset="0.6139" stop-color="#ff4200"/><stop offset="0.7022" stop-color="#ff2b00"/><stop offset="0.7904" stop-color="#ff1d00"/><stop offset="0.9080" stop-color="#ff0e00"/><stop offset="1.0000" stop-color="#ff0700"/></linearGradient><linearGradient id="gf39" gradientUnits="userSpaceOnUse" x1="997.0" x2="1337.0" y1="0" y2="0"><stop offset="0.0000" stop-color="#fff200"/><stop offset="0.0860" stop-color="#fff200"/><stop offset="0.1743" stop-color="#fff200"/><stop offset="0.2625" stop-color="#fff200"/><stop offset="0.3213" stop-color="#fff200"/><stop offset="0.3566" stop-color="#fff200"/><stop offset="0.3801" stop-color="#fff200"/><stop offset="0.4007" stop-color="#fff200"/><stop offset="0.4154" stop-color="#fff200"/><stop offset="0.4243" stop-color="#fff200"/><stop offset="0.4316" stop-color="#fff200"/><stop offset="0.4390" stop-color="#ff9a00"/><stop offset="0.4463" stop-color="#ff9400"/><stop offset="0.4537" stop-color="#ff8e00"/><stop offset="0.4625" stop-color="#ff8800"/><stop offset="0.4772" stop-color="#ff7e00"/><stop offset="0.4978" stop-color="#ff7200"/><stop offset="0.5213" stop-color="#ff6500"/><stop offset="0.5566" stop-color="#ff5500"/><stop offset="0.6154" stop-color="#ff4200"/><stop offset="0.7037" stop-color="#ff2b00"/><stop offset="0.7919" stop-color="#ff1d00"/><stop offset="0.9096" stop-color="#ff0e00"/><stop offset="1.0000" stop-color="#ff0700"/></linearGradient><linearGradient id="gf40" gradientUnits="userSpaceOnUse" x1="997.0" x2="1337.0" y1="0" y2="0"><stop offset="0.0000" stop-color="#fff200"/><stop offset="0.0875" stop-color="#fff200"/><stop offset="0.1758" stop-color="#fff200"/><stop offset="0.2640" stop-color="#fff200"/><stop offset="0.3228" stop-color="#fff200"/><stop offset="0.3581" stop-color="#fff200"/><stop offset="0.3817" stop-color="#fff200"/><stop offset="0.4022" stop-color="#fff200"/><stop offset="0.4170" stop-color="#fff200"/><stop offset="0.4258" stop-color="#fff200"/><stop offset="0.4331" stop-color="#fff200"/><stop offset="0.4405" stop-color="#ff9a00"/><stop offset="0.4478" stop-color="#ff9400"/><stop offset="0.4552" stop-color="#ff8f00"/><stop offset="0.4640" stop-color="#ff8800"/><stop offset="0.4787" stop-color="#ff7f00"/><stop offset="0.4993" stop-color="#ff7200"/><stop offset="0.5228" stop-color="#ff6600"/><stop offset="0.5581" stop-color="#ff5500"/><stop offset="0.6170" stop-color="#ff4300"/><stop offset="0.7052" stop-color="#ff2c00"/><stop offset="0.7934" stop-color="#ff1d00"/><stop offset="0.9111" stop-color="#ff0e00"/><stop offset="1.0000" stop-color="#ff0700"/></linearGradient><linearGradient id="gf41" gradientUnits="userSpaceOnUse" x1="997.0" x2="1337.0" y1="0" y2="0"><stop offset="0.0000" stop-color="#fff200"/><stop offset="0.0890" stop-color="#fff200"/><stop offset="0.1773" stop-color="#fff200"/><stop offset="0.2655" stop-color="#fff200"/><stop offset="0.3243" stop-color="#fff200"/><stop offset="0.3596" stop-color="#fff200"/><stop offset="0.3832" stop-color="#fff200"/><stop offset="0.4038" stop-color="#fff200"/><stop offset="0.4185" stop-color="#fff200"/><stop offset="0.4273" stop-color="#fff200"/><stop offset="0.4346" stop-color="#fff200"/><stop offset="0.4420" stop-color="#ff9a00"/><stop offset="0.4493" stop-color="#ff9400"/><stop offset="0.4567" stop-color="#ff8f00"/><stop offset="0.4655" stop-color="#ff8900"/><stop offset="0.4802" stop-color="#ff7f00"/><stop offset="0.5008" stop-color="#ff7200"/><stop offset="0.5243" stop-color="#ff6600"/><stop offset="0.5596" stop-color="#ff5600"/><stop offset="0.6185" stop-color="#ff4300"/><stop offset="0.7067" stop-color="#ff2c00"/><stop offset="0.7949" stop-color="#ff1d00"/><stop offset="0.9126" stop-color="#ff0e00"/><stop offset="1.0000" stop-color="#ff0700"/></linearGradient><linearGradient id="gf42" gradientUnits="userSpaceOnUse" x1="997.0" x2="1337.0" y1="0" y2="0"><stop offset="0.0000" stop-color="#fff100"/><stop offset="0.0906" stop-color="#fff100"/><stop offset="0.1788" stop-color="#fff100"/><stop offset="0.2670" stop-color="#fff100"/><stop offset="0.3259" stop-color="#fff100"/><stop offset="0.3611" stop-color="#fff100"/><stop offset="0.3847" stop-color="#fff100"/><stop offset="0.4053" stop-color="#fff100"/><stop offset="0.4200" stop-color="#fff100"/><stop offset="0.4288" stop-color="#fff100"/><stop offset="0.4361" stop-color="#fff100"/><stop offset="0.4435" stop-color="#ff9a00"/><stop offset="0.4509" stop-color="#ff9400"/><stop offset="0.4582" stop-color="#ff8f00"/><stop offset="0.4670" stop-color="#ff8900"/><stop offset="0.4817" stop-color="#ff7f00"/><stop offset="0.5023" stop-color="#ff7300"/><stop offset="0.5259" stop-color="#ff6600"/><stop offset="0.5611" stop-color="#ff5600"/><stop offset="0.6200" stop-color="#ff4300"/><stop offset="0.7082" stop-color="#ff2c00"/><stop offset="0.7964" stop-color="#ff1e00"/><stop offset="0.9141" stop-color="#ff0e00"/><stop offset="1.0000" stop-color="#ff0700"/></linearGradient><linearGradient id="gf43" gradientUnits="userSpaceOnUse" x1="997.0" x2="1337.0" y1="0" y2="0"><stop offset="0.0000" stop-color="#fff100"/><stop offset="0.0921" stop-color="#fff100"/><stop offset="0.1803" stop-color="#fff100"/><stop offset="0.2685" stop-color="#fff100"/><stop offset="0.3274" stop-color="#fff100"/><stop offset="0.3627" stop-color="#fff100"/><stop offset="0.3862" stop-color="#fff100"/><stop offset="0.4068" stop-color="#fff100"/><stop offset="0.4215" stop-color="#fff100"/><stop offset="0.4303" stop-color="#fff100"/><stop offset="0.4377" stop-color="#fff100"/><stop offset="0.4450" stop-color="#ff9a00"/><stop offset="0.4524" stop-color="#ff9400"/><stop offset="0.4597" stop-color="#ff8f00"/><stop offset="0.4685" stop-color="#ff8900"/><stop offset="0.4832" stop-color="#ff7f00"/><stop offset="0.5038" stop-color="#ff7300"/><stop offset="0.5274" stop-color="#ff6600"/><stop offset="0.5627" stop-color="#ff5600"/><stop offset="0.6215" stop-color="#ff4400"/><stop offset="0.7097" stop-color="#ff2c00"/><stop offset="0.7979" stop-color="#ff1e00"/><stop offset="0.9156" stop-color="#ff0e00"/><stop offset="1.0000" stop-color="#ff0700"/></linearGradient><linearGradient id="gf44" gradientUnits="userSpaceOnUse" x1="997.0" x2="1337.0" y1="0" y2="0"><stop offset="0.0000" stop-color="#fff100"/><stop offset="0.0936" stop-color="#fff100"/><stop offset="0.1818" stop-color="#fff100"/><stop offset="0.2700" stop-color="#fff100"/><stop offset="0.3289" stop-color="#fff100"/><stop offset="0.3642" stop-color="#fff100"/><stop offset="0.3877" stop-color="#fff100"/><stop offset="0.4083" stop-color="#fff100"/><stop offset="0.4230" stop-color="#fff100"/><stop offset="0.4318" stop-color="#fff100"/><stop offset="0.4392" stop-color="#fff100"/><stop offset="0.4465" stop-color="#ff9a00"/><stop offset="0.4539" stop-color="#ff9400"/><stop offset="0.4612" stop-color="#ff8f00"/><stop offset="0.4700" stop-color="#ff8900"/><stop offset="0.4848" stop-color="#ff8000"/><stop offset="0.5053" stop-color="#ff7300"/><stop offset="0.5289" stop-color="#ff6700"/><stop offset="0.5642" stop-color="#ff5700"/><stop offset="0.6230" stop-color="#ff4400"/><stop offset="0.7112" stop-color="#ff2d00"/><stop offset="0.7995" stop-color="#ff1e00"/><stop offset="0.9171" stop-color="#ff0f00"/><stop offset="1.0000" stop-color="#ff0700"/></linearGradient><linearGradient id="gf45" gradientUnits="userSpaceOnUse" x1="997.0" x2="1337.0" y1="0" y2="0"><stop offset="0.0000" stop-color="#fff100"/><stop offset="0.0951" stop-color="#fff100"/><stop offset="0.1833" stop-color="#fff100"/><stop offset="0.2716" stop-color="#fff100"/><stop offset="0.3304" stop-color="#fff100"/><stop offset="0.3657" stop-color="#fff100"/><stop offset="0.3892" stop-color="#fff100"/><stop offset="0.4098" stop-color="#fff100"/><stop offset="0.4245" stop-color="#fff100"/><stop offset="0.4333" stop-color="#fff100"/><stop offset="0.4407" stop-color="#fff100"/><stop offset="0.4480" stop-color="#ff9a00"/><stop offset="0.4554" stop-color="#ff9500"/><stop offset="0.4627" stop-color="#ff8f00"/><stop offset="0.4716" stop-color="#ff8900"/><stop offset="0.4863" stop-color="#ff8000"/><stop offset="0.5068" stop-color="#ff7300"/><stop offset="0.5304" stop-color="#ff6700"/><stop offset="0.5657" stop-color="#ff5700"/><stop offset="0.6245" stop-color="#ff4400"/><stop offset="0.7127" stop-color="#ff2d00"/><stop offset="0.8010" stop-color="#ff1e00"/><stop offset="0.9186" stop-color="#ff0f00"/><stop offset="1.0000" stop-color="#ff0700"/></linearGradient><linearGradient id="gf46" gradientUnits="userSpaceOnUse" x1="997.0" x2="1337.0" y1="0" y2="0"><stop offset="0.0000" stop-color="#fff000"/><stop offset="0.0966" stop-color="#fff000"/><stop offset="0.1848" stop-color="#fff000"/><stop offset="0.2731" stop-color="#fff000"/><stop offset="0.3319" stop-color="#fff000"/><stop offset="0.3672" stop-color="#fff000"/><stop offset="0.3907" stop-color="#fff000"/><stop offset="0.4113" stop-color="#fff000"/><stop offset="0.4260" stop-color="#fff000"/><stop offset="0.4348" stop-color="#fff000"/><stop offset="0.4422" stop-color="#fff000"/><stop offset="0.4495" stop-color="#ff9a00"/><stop offset="0.4569" stop-color="#ff9500"/><stop offset="0.4642" stop-color="#ff8f00"/><stop offset="0.4731" stop-color="#ff8900"/><stop offset="0.4878" stop-color="#ff8000"/><stop offset="0.5084" stop-color="#ff7400"/><stop offset="0.5319" stop-color="#ff6700"/><stop offset="0.5672" stop-color="#ff5700"/><stop offset="0.6260" stop-color="#ff4500"/><stop offset="0.7142" stop-color="#ff2d00"/><stop offset="0.8025" stop-color="#ff1e00"/><stop offset="0.9201" stop-color="#ff0f00"/><stop offset="1.0000" stop-color="#ff0700"/></linearGradient><linearGradient id="gf47" gradientUnits="userSpaceOnUse" x1="997.0" x2="1337.0" y1="0" y2="0"><stop offset="0.0000" stop-color="#fff000"/><stop offset="0.0981" stop-color="#fff000"/><stop offset="0.1863" stop-color="#fff000"/><stop offset="0.2746" stop-color="#fff000"/><stop offset="0.3334" stop-color="#fff000"/><stop offset="0.3687" stop-color="#fff000"/><stop offset="0.3922" stop-color="#fff000"/><stop offset="0.4128" stop-color="#fff000"/><stop offset="0.4275" stop-color="#fff000"/><stop offset="0.4363" stop-color="#fff000"/><stop offset="0.4437" stop-color="#fff000"/><stop offset="0.4510" stop-color="#ff9a00"/><stop offset="0.4584" stop-color="#ff9500"/><stop offset="0.4658" stop-color="#ff8f00"/><stop offset="0.4746" stop-color="#ff8900"/><stop offset="0.4893" stop-color="#ff8000"/><stop offset="0.5099" stop-color="#ff7400"/><stop offset="0.5334" stop-color="#ff6800"/><stop offset="0.5687" stop-color="#ff5800"/><stop offset="0.6275" stop-color="#ff4500"/><stop offset="0.7158" stop-color="#ff2d00"/><stop offset="0.8040" stop-color="#ff1e00"/><stop offset="0.9216" stop-color="#ff0f00"/><stop offset="1.0000" stop-color="#ff0700"/></linearGradient><linearGradient id="gf48" gradientUnits="userSpaceOnUse" x1="997.0" x2="1337.0" y1="0" y2="0"><stop offset="0.0000" stop-color="#fff000"/><stop offset="0.0996" stop-color="#fff000"/><stop offset="0.1878" stop-color="#fff000"/><stop offset="0.2760" stop-color="#fff000"/><stop offset="0.3349" stop-color="#fff000"/><stop offset="0.3702" stop-color="#fff000"/><stop offset="0.3937" stop-color="#fff000"/><stop offset="0.4143" stop-color="#fff000"/><stop offset="0.4290" stop-color="#fff000"/><stop offset="0.4378" stop-color="#fff000"/><stop offset="0.4452" stop-color="#fff000"/><stop offset="0.4525" stop-color="#ff9a00"/><stop offset="0.4599" stop-color="#ff9500"/><stop offset="0.4672" stop-color="#ff8f00"/><stop offset="0.4760" stop-color="#ff8a00"/><stop offset="0.4907" stop-color="#ff8000"/><stop offset="0.5113" stop-color="#ff7400"/><stop offset="0.5349" stop-color="#ff6800"/><stop offset="0.5702" stop-color="#ff5800"/><stop offset="0.6290" stop-color="#ff4600"/><stop offset="0.7172" stop-color="#ff2e00"/><stop offset="0.8054" stop-color="#ff1f00"/><stop offset="0.9231" stop-color="#ff0f00"/><stop offset="1.0000" stop-color="#ff0700"/></linearGradient><linearGradient id="gf49" gradientUnits="userSpaceOnUse" x1="997.0" x2="1337.0" y1="0" y2="0"><stop offset="0.0000" stop-color="#ffef00"/><stop offset="0.1007" stop-color="#ffef00"/><stop offset="0.1890" stop-color="#ffef00"/><stop offset="0.2772" stop-color="#ffef00"/><stop offset="0.3360" stop-color="#ffef00"/><stop offset="0.3713" stop-color="#ffef00"/><stop offset="0.3948" stop-color="#ffef00"/><stop offset="0.4154" stop-color="#ffef00"/><stop offset="0.4301" stop-color="#ffef00"/><stop offset="0.4390" stop-color="#ffef00"/><stop offset="0.4463" stop-color="#ffef00"/><stop offset="0.4537" stop-color="#ff9a00"/><stop offset="0.4610" stop-color="#ff9500"/><stop offset="0.4684" stop-color="#ff9000"/><stop offset="0.4772" stop-color="#ff8a00"/><stop offset="0.4919" stop-color="#ff8100"/><stop offset="0.5125" stop-color="#ff7400"/><stop offset="0.5360" stop-color="#ff6800"/><stop offset="0.5713" stop-color="#ff5800"/><stop offset="0.6301" stop-color="#ff4600"/><stop offset="0.7184" stop-color="#ff2e00"/><stop offset="0.8066" stop-color="#ff1f00"/><stop offset="0.9243" stop-color="#ff0f00"/><stop offset="1.0000" stop-color="#ff0700"/></linearGradient><linearGradient id="gf50" gradientUnits="userSpaceOnUse" x1="997.0" x2="1337.0" y1="0" y2="0"><stop offset="0.0000" stop-color="#ffef00"/><stop offset="0.1019" stop-color="#ffef00"/><stop offset="0.1901" stop-color="#ffef00"/><stop offset="0.2783" stop-color="#ffef00"/><stop offset="0.3372" stop-color="#ffef00"/><stop offset="0.3725" stop-color="#ffef00"/><stop offset="0.3960" stop-color="#ffef00"/><stop offset="0.4166" stop-color="#ffef00"/><stop offset="0.4313" stop-color="#ffef00"/><stop offset="0.4401" stop-color="#ffef00"/><stop offset="0.4475" stop-color="#ffef00"/><stop offset="0.4548" stop-color="#ff9b00"/><stop offset="0.4622" stop-color="#ff9500"/><stop offset="0.4695" stop-color="#ff9000"/><stop offset="0.4783" stop-color="#ff8a00"/><stop offset="0.4931" stop-color="#ff8100"/><stop offset="0.5136" stop-color="#ff7500"/><stop offset="0.5372" stop-color="#ff6800"/><stop offset="0.5725" stop-color="#ff5900"/><stop offset="0.6313" stop-color="#ff4600"/><stop offset="0.7195" stop-color="#ff2e00"/><stop offset="0.8078" stop-color="#ff1f00"/><stop offset="0.9254" stop-color="#ff0f00"/><stop offset="1.0000" stop-color="#ff0700"/></linearGradient><linearGradient id="gf51" gradientUnits="userSpaceOnUse" x1="997.0" x2="1337.0" y1="0" y2="0"><stop offset="0.0000" stop-color="#ffef00"/><stop offset="0.1030" stop-color="#ffef00"/><stop offset="0.1913" stop-color="#ffef00"/><stop offset="0.2795" stop-color="#ffef00"/><stop offset="0.3383" stop-color="#ffef00"/><stop offset="0.3736" stop-color="#ffef00"/><stop offset="0.3971" stop-color="#ffef00"/><stop offset="0.4177" stop-color="#ffef00"/><stop offset="0.4324" stop-color="#ffef00"/><stop offset="0.4413" stop-color="#ffef00"/><stop offset="0.4486" stop-color="#ffef00"/><stop offset="0.4560" stop-color="#ff9b00"/><stop offset="0.4633" stop-color="#ff9500"/><stop offset="0.4707" stop-color="#ff9000"/><stop offset="0.4795" stop-color="#ff8a00"/><stop offset="0.4942" stop-color="#ff8100"/><stop offset="0.5148" stop-color="#ff7500"/><stop offset="0.5383" stop-color="#ff6900"/><stop offset="0.5736" stop-color="#ff5900"/><stop offset="0.6324" stop-color="#ff4700"/><stop offset="0.7207" stop-color="#ff2e00"/><stop offset="0.8089" stop-color="#ff1f00"/><stop offset="0.9266" stop-color="#ff0f00"/><stop offset="1.0000" stop-color="#ff0800"/></linearGradient><linearGradient id="gf52" gradientUnits="userSpaceOnUse" x1="997.0" x2="1337.0" y1="0" y2="0"><stop offset="0.0000" stop-color="#ffef00"/><stop offset="0.1042" stop-color="#ffef00"/><stop offset="0.1924" stop-color="#ffef00"/><stop offset="0.2807" stop-color="#ffef00"/><stop offset="0.3395" stop-color="#ffef00"/><stop offset="0.3748" stop-color="#ffef00"/><stop offset="0.3983" stop-color="#ffef00"/><stop offset="0.4189" stop-color="#ffef00"/><stop offset="0.4336" stop-color="#ffef00"/><stop offset="0.4424" stop-color="#ffef00"/><stop offset="0.4498" stop-color="#ffef00"/><stop offset="0.4571" stop-color="#ff9b00"/><stop offset="0.4645" stop-color="#ff9500"/><stop offset="0.4718" stop-color="#ff9000"/><stop offset="0.4807" stop-color="#ff8a00"/><stop offset="0.4954" stop-color="#ff8100"/><stop offset="0.5160" stop-color="#ff7500"/><stop offset="0.5395" stop-color="#ff6900"/><stop offset="0.5748" stop-color="#ff5900"/><stop offset="0.6336" stop-color="#ff4700"/><stop offset="0.7218" stop-color="#ff2f00"/><stop offset="0.8101" stop-color="#ff1f00"/><stop offset="0.9277" stop-color="#ff0f00"/><stop offset="1.0000" stop-color="#ff0800"/></linearGradient><linearGradient id="gf53" gradientUnits="userSpaceOnUse" x1="997.0" x2="1337.0" y1="0" y2="0"><stop offset="0.0000" stop-color="#ffee00"/><stop offset="0.1053" stop-color="#ffee00"/><stop offset="0.1936" stop-color="#ffee00"/><stop offset="0.2818" stop-color="#ffee00"/><stop offset="0.3406" stop-color="#ffee00"/><stop offset="0.3759" stop-color="#ffee00"/><stop offset="0.3995" stop-color="#ffee00"/><stop offset="0.4200" stop-color="#ffee00"/><stop offset="0.4348" stop-color="#ffee00"/><stop offset="0.4436" stop-color="#ffee00"/><stop offset="0.4509" stop-color="#ffee00"/><stop offset="0.4583" stop-color="#ff9b00"/><stop offset="0.4656" stop-color="#ff9500"/><stop offset="0.4730" stop-color="#ff9000"/><stop offset="0.4818" stop-color="#ff8a00"/><stop offset="0.4965" stop-color="#ff8200"/><stop offset="0.5171" stop-color="#ff7600"/><stop offset="0.5406" stop-color="#ff6900"/><stop offset="0.5759" stop-color="#ff5a00"/><stop offset="0.6348" stop-color="#ff4700"/><stop offset="0.7230" stop-color="#ff2f00"/><stop offset="0.8112" stop-color="#ff1f00"/><stop offset="0.9289" stop-color="#ff0f00"/><stop offset="1.0000" stop-color="#ff0800"/></linearGradient><linearGradient id="gf54" gradientUnits="userSpaceOnUse" x1="997.0" x2="1337.0" y1="0" y2="0"><stop offset="0.0000" stop-color="#ffee00"/><stop offset="0.1065" stop-color="#ffee00"/><stop offset="0.1947" stop-color="#ffee00"/><stop offset="0.2830" stop-color="#ffee00"/><stop offset="0.3418" stop-color="#ffee00"/><stop offset="0.3771" stop-color="#ffee00"/><stop offset="0.4006" stop-color="#ffee00"/><stop offset="0.4212" stop-color="#ffee00"/><stop offset="0.4359" stop-color="#ffee00"/><stop offset="0.4447" stop-color="#ffee00"/><stop offset="0.4521" stop-color="#ffee00"/><stop offset="0.4594" stop-color="#ff9b00"/><stop offset="0.4668" stop-color="#ff9600"/><stop offset="0.4741" stop-color="#ff9000"/><stop offset="0.4830" stop-color="#ff8a00"/><stop offset="0.4977" stop-color="#ff8200"/><stop offset="0.5183" stop-color="#ff7600"/><stop offset="0.5418" stop-color="#ff6a00"/><stop offset="0.5771" stop-color="#ff5a00"/><stop offset="0.6359" stop-color="#ff4800"/><stop offset="0.7241" stop-color="#ff2f00"/><stop offset="0.8124" stop-color="#ff2000"/><stop offset="0.9300" stop-color="#ff0f00"/><stop offset="1.0000" stop-color="#ff0800"/></linearGradient><linearGradient id="gf55" gradientUnits="userSpaceOnUse" x1="997.0" x2="1337.0" y1="0" y2="0"><stop offset="0.0000" stop-color="#ffee00"/><stop offset="0.1077" stop-color="#ffee00"/><stop offset="0.1959" stop-color="#ffee00"/><stop offset="0.2841" stop-color="#ffee00"/><stop offset="0.3429" stop-color="#ffee00"/><stop offset="0.3782" stop-color="#ffee00"/><stop offset="0.4018" stop-color="#ffee00"/><stop offset="0.4224" stop-color="#ffee00"/><stop offset="0.4371" stop-color="#ffee00"/><stop offset="0.4459" stop-color="#ffee00"/><stop offset="0.4532" stop-color="#ffee00"/><stop offset="0.4606" stop-color="#ff9b00"/><stop offset="0.4679" stop-color="#ff9600"/><stop offset="0.4753" stop-color="#ff9000"/><stop offset="0.4841" stop-color="#ff8b00"/><stop offset="0.4988" stop-color="#ff8200"/><stop offset="0.5194" stop-color="#ff7600"/><stop offset="0.5429" stop-color="#ff6a00"/><stop offset="0.5782" stop-color="#ff5b00"/><stop offset="0.6371" stop-color="#ff4800"/><stop offset="0.7253" stop-color="#ff2f00"/><stop offset="0.8135" stop-color="#ff2000"/><stop offset="0.9312" stop-color="#ff0f00"/><stop offset="1.0000" stop-color="#ff0800"/></linearGradient><linearGradient id="gf56" gradientUnits="userSpaceOnUse" x1="997.0" x2="1337.0" y1="0" y2="0"><stop offset="0.0000" stop-color="#ffed00"/><stop offset="0.1088" stop-color="#ffed00"/><stop offset="0.1970" stop-color="#ffed00"/><stop offset="0.2853" stop-color="#ffed00"/><stop offset="0.3441" stop-color="#ffed00"/><stop offset="0.3794" stop-color="#ffed00"/><stop offset="0.4029" stop-color="#ffed00"/><stop offset="0.4235" stop-color="#ffed00"/><stop offset="0.4382" stop-color="#ffed00"/><stop offset="0.4470" stop-color="#ffed00"/><stop offset="0.4544" stop-color="#ffed00"/><stop offset="0.4617" stop-color="#ff9b00"/><stop offset="0.4691" stop-color="#ff9600"/><stop offset="0.4765" stop-color="#ff9100"/><stop offset="0.4853" stop-color="#ff8b00"/><stop offset="0.5000" stop-color="#ff8200"/><stop offset="0.5206" stop-color="#ff7700"/><stop offset="0.5441" stop-color="#ff6a00"/><stop offset="0.5794" stop-color="#ff5b00"/><stop offset="0.6382" stop-color="#ff4900"/><stop offset="0.7265" stop-color="#ff3000"/><stop offset="0.8147" stop-color="#ff2000"/><stop offset="0.9323" stop-color="#ff0f00"/><stop offset="1.0000" stop-color="#ff0800"/></linearGradient><linearGradient id="gf57" gradientUnits="userSpaceOnUse" x1="997.0" x2="1337.0" y1="0" y2="0"><stop offset="0.0000" stop-color="#ffed00"/><stop offset="0.1100" stop-color="#ffed00"/><stop offset="0.1982" stop-color="#ffed00"/><stop offset="0.2864" stop-color="#ffed00"/><stop offset="0.3453" stop-color="#ffed00"/><stop offset="0.3805" stop-color="#ffed00"/><stop offset="0.4041" stop-color="#ffed00"/><stop offset="0.4247" stop-color="#ffed00"/><stop offset="0.4394" stop-color="#ffed00"/><stop offset="0.4482" stop-color="#ffed00"/><stop offset="0.4555" stop-color="#ffed00"/><stop offset="0.4629" stop-color="#ff9c00"/><stop offset="0.4703" stop-color="#ff9600"/><stop offset="0.4776" stop-color="#ff9100"/><stop offset="0.4864" stop-color="#ff8b00"/><stop offset="0.5011" stop-color="#ff8300"/><stop offset="0.5217" stop-color="#ff7700"/><stop offset="0.5453" stop-color="#ff6b00"/><stop offset="0.5805" stop-color="#ff5c00"/><stop offset="0.6394" stop-color="#ff4900"/><stop offset="0.7276" stop-color="#ff3000"/><stop offset="0.8158" stop-color="#ff2000"/><stop offset="0.9335" stop-color="#ff1000"/><stop offset="1.0000" stop-color="#ff0800"/></linearGradient><linearGradient id="gf58" gradientUnits="userSpaceOnUse" x1="997.0" x2="1337.0" y1="0" y2="0"><stop offset="0.0000" stop-color="#ffed00"/><stop offset="0.1111" stop-color="#ffed00"/><stop offset="0.1994" stop-color="#ffed00"/><stop offset="0.2876" stop-color="#ffed00"/><stop offset="0.3464" stop-color="#ffed00"/><stop offset="0.3817" stop-color="#ffed00"/><stop offset="0.4052" stop-color="#ffed00"/><stop offset="0.4258" stop-color="#ffed00"/><stop offset="0.4405" stop-color="#ffed00"/><stop offset="0.4494" stop-color="#ffed00"/><stop offset="0.4567" stop-color="#ffed00"/><stop offset="0.4641" stop-color="#ff9c00"/><stop offset="0.4714" stop-color="#ff9700"/><stop offset="0.4788" stop-color="#ff9100"/><stop offset="0.4876" stop-color="#ff8c00"/><stop offset="0.5023" stop-color="#ff8300"/><stop offset="0.5229" stop-color="#ff7700"/><stop offset="0.5464" stop-color="#ff6b00"/><stop offset="0.5817" stop-color="#ff5c00"/><stop offset="0.6405" stop-color="#ff4a00"/><stop offset="0.7288" stop-color="#ff3100"/><stop offset="0.8170" stop-color="#ff2100"/><stop offset="0.9346" stop-color="#ff1000"/><stop offset="1.0000" stop-color="#ff0800"/></linearGradient><linearGradient id="gf59" gradientUnits="userSpaceOnUse" x1="997.0" x2="1337.0" y1="0" y2="0"><stop offset="0.0000" stop-color="#ffed00"/><stop offset="0.1123" stop-color="#ffed00"/><stop offset="0.2005" stop-color="#ffed00"/><stop offset="0.2887" stop-color="#ffed00"/><stop offset="0.3476" stop-color="#ffed00"/><stop offset="0.3829" stop-color="#ffed00"/><stop offset="0.4064" stop-color="#ffed00"/><stop offset="0.4270" stop-color="#ffed00"/><stop offset="0.4417" stop-color="#ffed00"/><stop offset="0.4505" stop-color="#ffed00"/><stop offset="0.4579" stop-color="#ffed00"/><stop offset="0.4652" stop-color="#ff9c00"/><stop offset="0.4726" stop-color="#ff9700"/><stop offset="0.4799" stop-color="#ff9200"/><stop offset="0.4887" stop-color="#ff8c00"/><stop offset="0.5034" stop-color="#ff8400"/><stop offset="0.5240" stop-color="#ff7800"/><stop offset="0.5476" stop-color="#ff6c00"/><stop offset="0.5829" stop-color="#ff5d00"/><stop offset="0.6417" stop-color="#ff4a00"/><stop offset="0.7299" stop-color="#ff3100"/><stop offset="0.8182" stop-color="#ff2100"/><stop offset="0.9358" stop-color="#ff1000"/><stop offset="1.0000" stop-color="#ff0800"/></linearGradient><linearGradient id="gf60" gradientUnits="userSpaceOnUse" x1="997.0" x2="1337.0" y1="0" y2="0"><stop offset="0.0000" stop-color="#ffec00"/><stop offset="0.1134" stop-color="#ffec00"/><stop offset="0.2017" stop-color="#ffec00"/><stop offset="0.2899" stop-color="#ffec00"/><stop offset="0.3487" stop-color="#ffec00"/><stop offset="0.3840" stop-color="#ffec00"/><stop offset="0.4075" stop-color="#ffec00"/><stop offset="0.4281" stop-color="#ffec00"/><stop offset="0.4428" stop-color="#ffec00"/><stop offset="0.4517" stop-color="#ffec00"/><stop offset="0.4590" stop-color="#ffec00"/><stop offset="0.4664" stop-color="#ff9c00"/><stop offset="0.4737" stop-color="#ff9700"/><stop offset="0.4811" stop-color="#ff9200"/><stop offset="0.4899" stop-color="#ff8c00"/><stop offset="0.5046" stop-color="#ff8400"/><stop offset="0.5252" stop-color="#ff7800"/><stop offset="0.5487" stop-color="#ff6c00"/><stop offset="0.5840" stop-color="#ff5d00"/><stop offset="0.6428" stop-color="#ff4b00"/><stop offset="0.7311" stop-color="#ff3200"/><stop offset="0.8193" stop-color="#ff2200"/><stop offset="0.9370" stop-color="#ff1000"/><stop offset="1.0000" stop-color="#ff0900"/></linearGradient><linearGradient id="gf61" gradientUnits="userSpaceOnUse" x1="997.0" x2="1337.0" y1="0" y2="0"><stop offset="0.0000" stop-color="#ffec00"/><stop offset="0.1146" stop-color="#ffec00"/><stop offset="0.2028" stop-color="#ffec00"/><stop offset="0.2911" stop-color="#ffec00"/><stop offset="0.3499" stop-color="#ffec00"/><stop offset="0.3852" stop-color="#ffec00"/><stop offset="0.4087" stop-color="#ffec00"/><stop offset="0.4293" stop-color="#ffec00"/><stop offset="0.4440" stop-color="#ffec00"/><stop offset="0.4528" stop-color="#ffec00"/><stop offset="0.4602" stop-color="#ffec00"/><stop offset="0.4675" stop-color="#ff9d00"/><stop offset="0.4749" stop-color="#ff9800"/><stop offset="0.4822" stop-color="#ff9200"/><stop offset="0.4911" stop-color="#ff8d00"/><stop offset="0.5058" stop-color="#ff8500"/><stop offset="0.5263" stop-color="#ff7900"/><stop offset="0.5499" stop-color="#ff6d00"/><stop offset="0.5852" stop-color="#ff5e00"/><stop offset="0.6440" stop-color="#ff4b00"/><stop offset="0.7322" stop-color="#ff3200"/><stop offset="0.8205" stop-color="#ff2200"/><stop offset="0.9381" stop-color="#ff1000"/><stop offset="1.0000" stop-color="#ff0900"/></linearGradient><linearGradient id="gf62" gradientUnits="userSpaceOnUse" x1="997.0" x2="1337.0" y1="0" y2="0"><stop offset="0.0000" stop-color="#ffec00"/><stop offset="0.1157" stop-color="#ffec00"/><stop offset="0.2040" stop-color="#ffec00"/><stop offset="0.2922" stop-color="#ffec00"/><stop offset="0.3510" stop-color="#ffec00"/><stop offset="0.3863" stop-color="#ffec00"/><stop offset="0.4099" stop-color="#ffec00"/><stop offset="0.4304" stop-color="#ffec00"/><stop offset="0.4451" stop-color="#ffec00"/><stop offset="0.4540" stop-color="#ffec00"/><stop offset="0.4613" stop-color="#ffec00"/><stop offset="0.4687" stop-color="#ff9d00"/><stop offset="0.4760" stop-color="#ff9800"/><stop offset="0.4834" stop-color="#ff9300"/><stop offset="0.4922" stop-color="#ff8d00"/><stop offset="0.5069" stop-color="#ff8500"/><stop offset="0.5275" stop-color="#ff7900"/><stop offset="0.5510" stop-color="#ff6d00"/><stop offset="0.5863" stop-color="#ff5e00"/><stop offset="0.6451" stop-color="#ff4c00"/><stop offset="0.7334" stop-color="#ff3300"/><stop offset="0.8216" stop-color="#ff2200"/><stop offset="0.9393" stop-color="#ff1100"/><stop offset="1.0000" stop-color="#ff0900"/></linearGradient><linearGradient id="gf63" gradientUnits="userSpaceOnUse" x1="997.0" x2="1337.0" y1="0" y2="0"><stop offset="0.0000" stop-color="#ffeb00"/><stop offset="0.1169" stop-color="#ffeb00"/><stop offset="0.2051" stop-color="#ffeb00"/><stop offset="0.2934" stop-color="#ffeb00"/><stop offset="0.3522" stop-color="#ffeb00"/><stop offset="0.3875" stop-color="#ffeb00"/><stop offset="0.4110" stop-color="#ffeb00"/><stop offset="0.4316" stop-color="#ffeb00"/><stop offset="0.4463" stop-color="#ffeb00"/><stop offset="0.4551" stop-color="#ffeb00"/><stop offset="0.4625" stop-color="#ffeb00"/><stop offset="0.4698" stop-color="#ff9d00"/><stop offset="0.4772" stop-color="#ff9800"/><stop offset="0.4845" stop-color="#ff9300"/><stop offset="0.4934" stop-color="#ff8e00"/><stop offset="0.5081" stop-color="#ff8500"/><stop offset="0.5287" stop-color="#ff7a00"/><stop offset="0.5522" stop-color="#ff6e00"/><stop offset="0.5875" stop-color="#ff5f00"/><stop offset="0.6463" stop-color="#ff4c00"/><stop offset="0.7345" stop-color="#ff3300"/><stop offset="0.8228" stop-color="#ff2300"/><stop offset="0.9404" stop-color="#ff1100"/><stop offset="1.0000" stop-color="#ff0900"/></linearGradient><linearGradient id="gf64" gradientUnits="userSpaceOnUse" x1="997.0" x2="1337.0" y1="0" y2="0"><stop offset="0.0000" stop-color="#ffeb00"/><stop offset="0.0003" stop-color="#ffeb00"/><stop offset="0.1179" stop-color="#ffeb00"/><stop offset="0.2061" stop-color="#ffeb00"/><stop offset="0.2944" stop-color="#ffeb00"/><stop offset="0.3532" stop-color="#ffeb00"/><stop offset="0.3885" stop-color="#ffeb00"/><stop offset="0.4120" stop-color="#ffeb00"/><stop offset="0.4326" stop-color="#ffeb00"/><stop offset="0.4473" stop-color="#ffeb00"/><stop offset="0.4561" stop-color="#ffeb00"/><stop offset="0.4635" stop-color="#ffeb00"/><stop offset="0.4708" stop-color="#ff9e00"/><stop offset="0.4782" stop-color="#ff9800"/><stop offset="0.4855" stop-color="#ff9300"/><stop offset="0.4944" stop-color="#ff8e00"/><stop offset="0.5091" stop-color="#ff8600"/><stop offset="0.5297" stop-color="#ff7a00"/><stop offset="0.5532" stop-color="#ff6e00"/><stop offset="0.5885" stop-color="#ff5f00"/><stop offset="0.6473" stop-color="#ff4d00"/><stop offset="0.7355" stop-color="#ff3400"/><stop offset="0.8238" stop-color="#ff2300"/><stop offset="0.9414" stop-color="#ff1100"/><stop offset="1.0000" stop-color="#ff0a00"/></linearGradient><linearGradient id="gf65" gradientUnits="userSpaceOnUse" x1="997.0" x2="1337.0" y1="0" y2="0"><stop offset="0.0000" stop-color="#ffea00"/><stop offset="0.0012" stop-color="#ffea00"/><stop offset="0.1188" stop-color="#ffea00"/><stop offset="0.2070" stop-color="#ffea00"/><stop offset="0.2953" stop-color="#ffea00"/><stop offset="0.3541" stop-color="#ffea00"/><stop offset="0.3894" stop-color="#ffea00"/><stop offset="0.4129" stop-color="#ffea00"/><stop offset="0.4335" stop-color="#ffea00"/><stop offset="0.4482" stop-color="#ffea00"/><stop offset="0.4570" stop-color="#ffea00"/><stop offset="0.4644" stop-color="#ffea00"/><stop offset="0.4717" stop-color="#ff9e00"/><stop offset="0.4791" stop-color="#ff9900"/><stop offset="0.4865" stop-color="#ff9400"/><stop offset="0.4953" stop-color="#ff8e00"/><stop offset="0.5100" stop-color="#ff8600"/><stop offset="0.5306" stop-color="#ff7b00"/><stop offset="0.5541" stop-color="#ff6f00"/><stop offset="0.5894" stop-color="#ff6000"/><stop offset="0.6482" stop-color="#ff4d00"/><stop offset="0.7365" stop-color="#ff3400"/><stop offset="0.8247" stop-color="#ff2300"/><stop offset="0.9423" stop-color="#ff1100"/><stop offset="1.0000" stop-color="#ff0a00"/></linearGradient><linearGradient id="gf66" gradientUnits="userSpaceOnUse" x1="997.0" x2="1337.0" y1="0" y2="0"><stop offset="0.0000" stop-color="#ffea00"/><stop offset="0.0021" stop-color="#ffea00"/><stop offset="0.1197" stop-color="#ffea00"/><stop offset="0.2080" stop-color="#ffea00"/><stop offset="0.2962" stop-color="#ffea00"/><stop offset="0.3550" stop-color="#ffea00"/><stop offset="0.3903" stop-color="#ffea00"/><stop offset="0.4138" stop-color="#ffea00"/><stop offset="0.4344" stop-color="#ffea00"/><stop offset="0.4491" stop-color="#ffea00"/><stop offset="0.4580" stop-color="#ffea00"/><stop offset="0.4653" stop-color="#ffea00"/><stop offset="0.4727" stop-color="#ff9e00"/><stop offset="0.4800" stop-color="#ff9900"/><stop offset="0.4874" stop-color="#ff9400"/><stop offset="0.4962" stop-color="#ff8f00"/><stop offset="0.5109" stop-color="#ff8700"/><stop offset="0.5315" stop-color="#ff7b00"/><stop offset="0.5550" stop-color="#ff6f00"/><stop offset="0.5903" stop-color="#ff6000"/><stop offset="0.6491" stop-color="#ff4e00"/><stop offset="0.7374" stop-color="#ff3500"/><stop offset="0.8256" stop-color="#ff2400"/><stop offset="0.9432" stop-color="#ff1100"/><stop offset="1.0000" stop-color="#ff0a00"/></linearGradient><linearGradient id="gf67" gradientUnits="userSpaceOnUse" x1="997.0" x2="1337.0" y1="0" y2="0"><stop offset="0.0000" stop-color="#ffea00"/><stop offset="0.0030" stop-color="#ffea00"/><stop offset="0.1206" stop-color="#ffea00"/><stop offset="0.2089" stop-color="#ffea00"/><stop offset="0.2971" stop-color="#ffea00"/><stop offset="0.3559" stop-color="#ffea00"/><stop offset="0.3912" stop-color="#ffea00"/><stop offset="0.4147" stop-color="#ffea00"/><stop offset="0.4353" stop-color="#ffea00"/><stop offset="0.4500" stop-color="#ffea00"/><stop offset="0.4589" stop-color="#ffea00"/><stop offset="0.4662" stop-color="#ffea00"/><stop offset="0.4736" stop-color="#ff9e00"/><stop offset="0.4809" stop-color="#ff9900"/><stop offset="0.4883" stop-color="#ff9400"/><stop offset="0.4971" stop-color="#ff8f00"/><stop offset="0.5118" stop-color="#ff8700"/><stop offset="0.5324" stop-color="#ff7c00"/><stop offset="0.5559" stop-color="#ff7000"/><stop offset="0.5912" stop-color="#ff6100"/><stop offset="0.6500" stop-color="#ff4f00"/><stop offset="0.7383" stop-color="#ff3500"/><stop offset="0.8265" stop-color="#ff2400"/><stop offset="0.9442" stop-color="#ff1200"/><stop offset="1.0000" stop-color="#ff0a00"/></linearGradient><linearGradient id="gf68" gradientUnits="userSpaceOnUse" x1="997.0" x2="1337.0" y1="0" y2="0"><stop offset="0.0000" stop-color="#ffe900"/><stop offset="0.0039" stop-color="#ffe900"/><stop offset="0.1215" stop-color="#ffe900"/><stop offset="0.2098" stop-color="#ffe900"/><stop offset="0.2980" stop-color="#ffe900"/><stop offset="0.3568" stop-color="#ffe900"/><stop offset="0.3921" stop-color="#ffe900"/><stop offset="0.4157" stop-color="#ffe900"/><stop offset="0.4362" stop-color="#ffe900"/><stop offset="0.4509" stop-color="#ffe900"/><stop offset="0.4598" stop-color="#ffe900"/><stop offset="0.4671" stop-color="#ffe900"/><stop offset="0.4745" stop-color="#ff9f00"/><stop offset="0.4818" stop-color="#ff9a00"/><stop offset="0.4892" stop-color="#ff9500"/><stop offset="0.4980" stop-color="#ff8f00"/><stop offset="0.5127" stop-color="#ff8700"/><stop offset="0.5333" stop-color="#ff7c00"/><stop offset="0.5568" stop-color="#ff7000"/><stop offset="0.5921" stop-color="#ff6100"/><stop offset="0.6509" stop-color="#ff4f00"/><stop offset="0.7392" stop-color="#ff3600"/><stop offset="0.8274" stop-color="#ff2400"/><stop offset="0.9451" stop-color="#ff1200"/><stop offset="1.0000" stop-color="#ff0a00"/></linearGradient><linearGradient id="gf69" gradientUnits="userSpaceOnUse" x1="997.0" x2="1337.0" y1="0" y2="0"><stop offset="0.0000" stop-color="#ffe900"/><stop offset="0.0048" stop-color="#ffe900"/><stop offset="0.1224" stop-color="#ffe900"/><stop offset="0.2107" stop-color="#ffe900"/><stop offset="0.2989" stop-color="#ffe900"/><stop offset="0.3577" stop-color="#ffe900"/><stop offset="0.3930" stop-color="#ffe900"/><stop offset="0.4166" stop-color="#ffe900"/><stop offset="0.4371" stop-color="#ffe900"/><stop offset="0.4519" stop-color="#ffe900"/><stop offset="0.4607" stop-color="#ffe900"/><stop offset="0.4680" stop-color="#ffe900"/><stop offset="0.4754" stop-color="#ff9f00"/><stop offset="0.4827" stop-color="#ff9a00"/><stop offset="0.4901" stop-color="#ff9500"/><stop offset="0.4989" stop-color="#ff9000"/><stop offset="0.5136" stop-color="#ff8800"/><stop offset="0.5342" stop-color="#ff7d00"/><stop offset="0.5577" stop-color="#ff7100"/><stop offset="0.5930" stop-color="#ff6200"/><stop offset="0.6519" stop-color="#ff5000"/><stop offset="0.7401" stop-color="#ff3600"/><stop offset="0.8283" stop-color="#ff2500"/><stop offset="0.9460" stop-color="#ff1200"/><stop offset="1.0000" stop-color="#ff0b00"/></linearGradient><linearGradient id="gf70" gradientUnits="userSpaceOnUse" x1="997.0" x2="1337.0" y1="0" y2="0"><stop offset="0.0000" stop-color="#ffe800"/><stop offset="0.0057" stop-color="#ffe800"/><stop offset="0.1234" stop-color="#ffe800"/><stop offset="0.2116" stop-color="#ffe800"/><stop offset="0.2998" stop-color="#ffe800"/><stop offset="0.3586" stop-color="#ffe800"/><stop offset="0.3939" stop-color="#ffe800"/><stop offset="0.4175" stop-color="#ffe800"/><stop offset="0.4381" stop-color="#ffe800"/><stop offset="0.4528" stop-color="#ffe800"/><stop offset="0.4616" stop-color="#ffe800"/><stop offset="0.4689" stop-color="#ffe800"/><stop offset="0.4763" stop-color="#ff9f00"/><stop offset="0.4836" stop-color="#ff9a00"/><stop offset="0.4910" stop-color="#ff9500"/><stop offset="0.4998" stop-color="#ff9000"/><stop offset="0.5145" stop-color="#ff8800"/><stop offset="0.5351" stop-color="#ff7d00"/><stop offset="0.5586" stop-color="#ff7100"/><stop offset="0.5939" stop-color="#ff6200"/><stop offset="0.6528" stop-color="#ff5000"/><stop offset="0.7410" stop-color="#ff3600"/><stop offset="0.8292" stop-color="#ff2500"/><stop offset="0.9469" stop-color="#ff1200"/><stop offset="1.0000" stop-color="#ff0b00"/></linearGradient><linearGradient id="gf71" gradientUnits="userSpaceOnUse" x1="997.0" x2="1337.0" y1="0" y2="0"><stop offset="0.0000" stop-color="#ffe800"/><stop offset="0.0066" stop-color="#ffe800"/><stop offset="0.1243" stop-color="#ffe800"/><stop offset="0.2125" stop-color="#ffe800"/><stop offset="0.3007" stop-color="#ffe800"/><stop offset="0.3596" stop-color="#ffe800"/><stop offset="0.3948" stop-color="#ffe800"/><stop offset="0.4184" stop-color="#ffe800"/><stop offset="0.4390" stop-color="#ffe800"/><stop offset="0.4537" stop-color="#ffe800"/><stop offset="0.4625" stop-color="#ffe800"/><stop offset="0.4698" stop-color="#ffe800"/><stop offset="0.4772" stop-color="#ffa000"/><stop offset="0.4846" stop-color="#ff9b00"/><stop offset="0.4919" stop-color="#ff9600"/><stop offset="0.5007" stop-color="#ff9000"/><stop offset="0.5154" stop-color="#ff8900"/><stop offset="0.5360" stop-color="#ff7d00"/><stop offset="0.5596" stop-color="#ff7200"/><stop offset="0.5948" stop-color="#ff6300"/><stop offset="0.6537" stop-color="#ff5100"/><stop offset="0.7419" stop-color="#ff3700"/><stop offset="0.8301" stop-color="#ff2500"/><stop offset="0.9478" stop-color="#ff1200"/><stop offset="1.0000" stop-color="#ff0b00"/></linearGradient><linearGradient id="gf72" gradientUnits="userSpaceOnUse" x1="997.0" x2="1337.0" y1="0" y2="0"><stop offset="0.0000" stop-color="#ffe700"/><stop offset="0.0075" stop-color="#ffe700"/><stop offset="0.1252" stop-color="#ffe700"/><stop offset="0.2134" stop-color="#ffe700"/><stop offset="0.3016" stop-color="#ffe700"/><stop offset="0.3605" stop-color="#ffe700"/><stop offset="0.3958" stop-color="#ffe700"/><stop offset="0.4193" stop-color="#ffe700"/><stop offset="0.4399" stop-color="#ffe700"/><stop offset="0.4546" stop-color="#ffe700"/><stop offset="0.4634" stop-color="#ffe700"/><stop offset="0.4708" stop-color="#ffe700"/><stop offset="0.4781" stop-color="#ffa000"/><stop offset="0.4855" stop-color="#ff9b00"/><stop offset="0.4928" stop-color="#ff9600"/><stop offset="0.5016" stop-color="#ff9100"/><stop offset="0.5163" stop-color="#ff8900"/><stop offset="0.5369" stop-color="#ff7e00"/><stop offset="0.5605" stop-color="#ff7200"/><stop offset="0.5958" stop-color="#ff6400"/><stop offset="0.6546" stop-color="#ff5100"/><stop offset="0.7428" stop-color="#ff3700"/><stop offset="0.8311" stop-color="#ff2600"/><stop offset="0.9487" stop-color="#ff1300"/><stop offset="1.0000" stop-color="#ff0c00"/></linearGradient><linearGradient id="gf73" gradientUnits="userSpaceOnUse" x1="997.0" x2="1337.0" y1="0" y2="0"><stop offset="0.0000" stop-color="#ffe700"/><stop offset="0.0084" stop-color="#ffe700"/><stop offset="0.1261" stop-color="#ffe700"/><stop offset="0.2143" stop-color="#ffe700"/><stop offset="0.3025" stop-color="#ffe700"/><stop offset="0.3614" stop-color="#ffe700"/><stop offset="0.3967" stop-color="#ffe700"/><stop offset="0.4202" stop-color="#ffe700"/><stop offset="0.4408" stop-color="#ffe700"/><stop offset="0.4555" stop-color="#ffe700"/><stop offset="0.4643" stop-color="#ffe700"/><stop offset="0.4717" stop-color="#ffe700"/><stop offset="0.4790" stop-color="#ffa000"/><stop offset="0.4864" stop-color="#ff9b00"/><stop offset="0.4937" stop-color="#ff9600"/><stop offset="0.5025" stop-color="#ff9100"/><stop offset="0.5173" stop-color="#ff8900"/><stop offset="0.5378" stop-color="#ff7e00"/><stop offset="0.5614" stop-color="#ff7300"/><stop offset="0.5967" stop-color="#ff6400"/><stop offset="0.6555" stop-color="#ff5200"/><stop offset="0.7437" stop-color="#ff3800"/><stop offset="0.8320" stop-color="#ff2600"/><stop offset="0.9496" stop-color="#ff1300"/><stop offset="1.0000" stop-color="#ff0c00"/></linearGradient><linearGradient id="gf74" gradientUnits="userSpaceOnUse" x1="997.0" x2="1337.0" y1="0" y2="0"><stop offset="0.0000" stop-color="#ffe600"/><stop offset="0.0093" stop-color="#ffe600"/><stop offset="0.1270" stop-color="#ffe600"/><stop offset="0.2152" stop-color="#ffe600"/><stop offset="0.3035" stop-color="#ffe600"/><stop offset="0.3623" stop-color="#ffe600"/><stop offset="0.3976" stop-color="#ffe600"/><stop offset="0.4211" stop-color="#ffe600"/><stop offset="0.4417" stop-color="#ffe600"/><stop offset="0.4564" stop-color="#ffe600"/><stop offset="0.4652" stop-color="#ffe600"/><stop offset="0.4726" stop-color="#ffe600"/><stop offset="0.4799" stop-color="#ffa000"/><stop offset="0.4873" stop-color="#ff9c00"/><stop offset="0.4946" stop-color="#ff9700"/><stop offset="0.5035" stop-color="#ff9200"/><stop offset="0.5182" stop-color="#ff8a00"/><stop offset="0.5388" stop-color="#ff7f00"/><stop offset="0.5623" stop-color="#ff7300"/><stop offset="0.5976" stop-color="#ff6500"/><stop offset="0.6564" stop-color="#ff5200"/><stop offset="0.7446" stop-color="#ff3800"/><stop offset="0.8329" stop-color="#ff2600"/><stop offset="0.9505" stop-color="#ff1300"/><stop offset="1.0000" stop-color="#ff0c00"/></linearGradient><linearGradient id="gf75" gradientUnits="userSpaceOnUse" x1="997.0" x2="1337.0" y1="0" y2="0"><stop offset="0.0000" stop-color="#ffe600"/><stop offset="0.0102" stop-color="#ffe600"/><stop offset="0.1279" stop-color="#ffe600"/><stop offset="0.2161" stop-color="#ffe600"/><stop offset="0.3044" stop-color="#ffe600"/><stop offset="0.3632" stop-color="#ffe600"/><stop offset="0.3985" stop-color="#ffe600"/><stop offset="0.4220" stop-color="#ffe600"/><stop offset="0.4426" stop-color="#ffe600"/><stop offset="0.4573" stop-color="#ffe600"/><stop offset="0.4661" stop-color="#ffe600"/><stop offset="0.4735" stop-color="#ffe600"/><stop offset="0.4808" stop-color="#ffa100"/><stop offset="0.4882" stop-color="#ff9c00"/><stop offset="0.4955" stop-color="#ff9700"/><stop offset="0.5044" stop-color="#ff9200"/><stop offset="0.5191" stop-color="#ff8a00"/><stop offset="0.5397" stop-color="#ff7f00"/><stop offset="0.5632" stop-color="#ff7400"/><stop offset="0.5985" stop-color="#ff6500"/><stop offset="0.6573" stop-color="#ff5300"/><stop offset="0.7455" stop-color="#ff3900"/><stop offset="0.8338" stop-color="#ff2700"/><stop offset="0.9514" stop-color="#ff1300"/><stop offset="1.0000" stop-color="#ff0d00"/></linearGradient><linearGradient id="gf76" gradientUnits="userSpaceOnUse" x1="997.0" x2="1337.0" y1="0" y2="0"><stop offset="0.0000" stop-color="#ffe600"/><stop offset="0.0112" stop-color="#ffe600"/><stop offset="0.1288" stop-color="#ffe600"/><stop offset="0.2170" stop-color="#ffe600"/><stop offset="0.3053" stop-color="#ffe600"/><stop offset="0.3641" stop-color="#ffe600"/><stop offset="0.3994" stop-color="#ffe600"/><stop offset="0.4229" stop-color="#ffe600"/><stop offset="0.4435" stop-color="#ffe600"/><stop offset="0.4582" stop-color="#ffe600"/><stop offset="0.4670" stop-color="#ffe600"/><stop offset="0.4744" stop-color="#ffe600"/><stop offset="0.4817" stop-color="#ffa100"/><stop offset="0.4891" stop-color="#ff9c00"/><stop offset="0.4965" stop-color="#ff9700"/><stop offset="0.5053" stop-color="#ff9200"/><stop offset="0.5200" stop-color="#ff8b00"/><stop offset="0.5406" stop-color="#ff8000"/><stop offset="0.5641" stop-color="#ff7400"/><stop offset="0.5994" stop-color="#ff6600"/><stop offset="0.6582" stop-color="#ff5300"/><stop offset="0.7465" stop-color="#ff3900"/><stop offset="0.8347" stop-color="#ff2700"/><stop offset="0.9523" stop-color="#ff1300"/><stop offset="1.0000" stop-color="#ff0d00"/></linearGradient><linearGradient id="gf77" gradientUnits="userSpaceOnUse" x1="997.0" x2="1337.0" y1="0" y2="0"><stop offset="0.0000" stop-color="#ffe500"/><stop offset="0.0121" stop-color="#ffe500"/><stop offset="0.1297" stop-color="#ffe500"/><stop offset="0.2179" stop-color="#ffe500"/><stop offset="0.3062" stop-color="#ffe500"/><stop offset="0.3650" stop-color="#ffe500"/><stop offset="0.4003" stop-color="#ffe500"/><stop offset="0.4238" stop-color="#ffe500"/><stop offset="0.4444" stop-color="#ffe500"/><stop offset="0.4591" stop-color="#ffe500"/><stop offset="0.4679" stop-color="#ffe500"/><stop offset="0.4753" stop-color="#ffe500"/><stop offset="0.4827" stop-color="#ffa100"/><stop offset="0.4900" stop-color="#ff9c00"/><stop offset="0.4974" stop-color="#ff9800"/><stop offset="0.5062" stop-color="#ff9300"/><stop offset="0.5209" stop-color="#ff8b00"/><stop offset="0.5415" stop-color="#ff8000"/><stop offset="0.5650" stop-color="#ff7500"/><stop offset="0.6003" stop-color="#ff6600"/><stop offset="0.6591" stop-color="#ff5400"/><stop offset="0.7474" stop-color="#ff3a00"/><stop offset="0.8356" stop-color="#ff2700"/><stop offset="0.9532" stop-color="#ff1400"/><stop offset="1.0000" stop-color="#ff0d00"/></linearGradient><linearGradient id="gf78" gradientUnits="userSpaceOnUse" x1="997.0" x2="1337.0" y1="0" y2="0"><stop offset="0.0000" stop-color="#ffe500"/><stop offset="0.0130" stop-color="#ffe500"/><stop offset="0.1306" stop-color="#ffe500"/><stop offset="0.2189" stop-color="#ffe500"/><stop offset="0.3071" stop-color="#ffe500"/><stop offset="0.3659" stop-color="#ffe500"/><stop offset="0.4012" stop-color="#ffe500"/><stop offset="0.4247" stop-color="#ffe500"/><stop offset="0.4453" stop-color="#ffe500"/><stop offset="0.4600" stop-color="#ffe500"/><stop offset="0.4689" stop-color="#ffe500"/><stop offset="0.4762" stop-color="#ffe500"/><stop offset="0.4836" stop-color="#ffa200"/><stop offset="0.4909" stop-color="#ff9d00"/><stop offset="0.4983" stop-color="#ff9800"/><stop offset="0.5071" stop-color="#ff9300"/><stop offset="0.5218" stop-color="#ff8b00"/><stop offset="0.5424" stop-color="#ff8100"/><stop offset="0.5659" stop-color="#ff7500"/><stop offset="0.6012" stop-color="#ff6700"/><stop offset="0.6600" stop-color="#ff5400"/><stop offset="0.7483" stop-color="#ff3a00"/><stop offset="0.8365" stop-color="#ff2800"/><stop offset="0.9542" stop-color="#ff1400"/><stop offset="1.0000" stop-color="#ff0e00"/></linearGradient><linearGradient id="gf79" gradientUnits="userSpaceOnUse" x1="997.0" x2="1337.0" y1="0" y2="0"><stop offset="0.0000" stop-color="#ffe400"/><stop offset="0.0139" stop-color="#ffe400"/><stop offset="0.1315" stop-color="#ffe400"/><stop offset="0.2198" stop-color="#ffe400"/><stop offset="0.3080" stop-color="#ffe400"/><stop offset="0.3668" stop-color="#ffe400"/><stop offset="0.4021" stop-color="#ffe400"/><stop offset="0.4256" stop-color="#ffe400"/><stop offset="0.4462" stop-color="#ffe400"/><stop offset="0.4609" stop-color="#ffe400"/><stop offset="0.4698" stop-color="#ffe400"/><stop offset="0.4771" stop-color="#ffe400"/><stop offset="0.4845" stop-color="#ffa200"/><stop offset="0.4918" stop-color="#ff9d00"/><stop offset="0.4992" stop-color="#ff9800"/><stop offset="0.5080" stop-color="#ff9300"/><stop offset="0.5227" stop-color="#ff8c00"/><stop offset="0.5433" stop-color="#ff8100"/><stop offset="0.5668" stop-color="#ff7600"/><stop offset="0.6021" stop-color="#ff6700"/><stop offset="0.6609" stop-color="#ff5500"/><stop offset="0.7492" stop-color="#ff3b00"/><stop offset="0.8374" stop-color="#ff2800"/><stop offset="0.9550" stop-color="#ff1400"/><stop offset="1.0000" stop-color="#ff0e00"/></linearGradient><linearGradient id="gf80" gradientUnits="userSpaceOnUse" x1="997.0" x2="1337.0" y1="0" y2="0"><stop offset="0.0000" stop-color="#ffe400"/><stop offset="0.0145" stop-color="#ffe400"/><stop offset="0.1322" stop-color="#ffe400"/><stop offset="0.2204" stop-color="#ffe400"/><stop offset="0.3086" stop-color="#ffe400"/><stop offset="0.3675" stop-color="#ffe400"/><stop offset="0.4028" stop-color="#ffe400"/><stop offset="0.4263" stop-color="#ffe400"/><stop offset="0.4469" stop-color="#ffe400"/><stop offset="0.4616" stop-color="#ffe400"/><stop offset="0.4704" stop-color="#ffe400"/><stop offset="0.4778" stop-color="#ffe400"/><stop offset="0.4851" stop-color="#ffa200"/><stop offset="0.4925" stop-color="#ff9d00"/><stop offset="0.4998" stop-color="#ff9900"/><stop offset="0.5086" stop-color="#ff9400"/><stop offset="0.5234" stop-color="#ff8c00"/><stop offset="0.5439" stop-color="#ff8200"/><stop offset="0.5675" stop-color="#ff7600"/><stop offset="0.6028" stop-color="#ff6800"/><stop offset="0.6616" stop-color="#ff5500"/><stop offset="0.7498" stop-color="#ff3b00"/><stop offset="0.8381" stop-color="#ff2800"/><stop offset="0.9557" stop-color="#ff1400"/><stop offset="1.0000" stop-color="#ff0e00"/></linearGradient><linearGradient id="gf81" gradientUnits="userSpaceOnUse" x1="997.0" x2="1337.0" y1="0" y2="0"><stop offset="0.0000" stop-color="#ffe300"/><stop offset="0.0152" stop-color="#ffe300"/><stop offset="0.1328" stop-color="#ffe300"/><stop offset="0.2211" stop-color="#ffe300"/><stop offset="0.3093" stop-color="#ffe300"/><stop offset="0.3681" stop-color="#ffe300"/><stop offset="0.4034" stop-color="#ffe300"/><stop offset="0.4270" stop-color="#ffe300"/><stop offset="0.4475" stop-color="#ffe300"/><stop offset="0.4623" stop-color="#ffe300"/><stop offset="0.4711" stop-color="#ffe300"/><stop offset="0.4784" stop-color="#ffe300"/><stop offset="0.4858" stop-color="#ffa200"/><stop offset="0.4931" stop-color="#ff9e00"/><stop offset="0.5005" stop-color="#ff9900"/><stop offset="0.5093" stop-color="#ff9400"/><stop offset="0.5240" stop-color="#ff8d00"/><stop offset="0.5446" stop-color="#ff8200"/><stop offset="0.5681" stop-color="#ff7700"/><stop offset="0.6034" stop-color="#ff6800"/><stop offset="0.6623" stop-color="#ff5600"/><stop offset="0.7505" stop-color="#ff3c00"/><stop offset="0.8387" stop-color="#ff2900"/><stop offset="0.9564" stop-color="#ff1500"/><stop offset="1.0000" stop-color="#ff0e00"/></linearGradient><linearGradient id="gf82" gradientUnits="userSpaceOnUse" x1="997.0" x2="1337.0" y1="0" y2="0"><stop offset="0.0000" stop-color="#ffe300"/><stop offset="0.0159" stop-color="#ffe300"/><stop offset="0.1335" stop-color="#ffe300"/><stop offset="0.2217" stop-color="#ffe300"/><stop offset="0.3100" stop-color="#ffe300"/><stop offset="0.3688" stop-color="#ffe300"/><stop offset="0.4041" stop-color="#ffe300"/><stop offset="0.4276" stop-color="#ffe300"/><stop offset="0.4482" stop-color="#ffe300"/><stop offset="0.4629" stop-color="#ffe300"/><stop offset="0.4717" stop-color="#ffe300"/><stop offset="0.4791" stop-color="#ffe300"/><stop offset="0.4864" stop-color="#ffa300"/><stop offset="0.4938" stop-color="#ff9e00"/><stop offset="0.5012" stop-color="#ff9900"/><stop offset="0.5100" stop-color="#ff9400"/><stop offset="0.5247" stop-color="#ff8d00"/><stop offset="0.5453" stop-color="#ff8300"/><stop offset="0.5688" stop-color="#ff7700"/><stop offset="0.6041" stop-color="#ff6900"/><stop offset="0.6629" stop-color="#ff5600"/><stop offset="0.7512" stop-color="#ff3c00"/><stop offset="0.8394" stop-color="#ff2900"/><stop offset="0.9570" stop-color="#ff1500"/><stop offset="1.0000" stop-color="#ff0f00"/></linearGradient><linearGradient id="gf83" gradientUnits="userSpaceOnUse" x1="997.0" x2="1337.0" y1="0" y2="0"><stop offset="0.0000" stop-color="#ffe200"/><stop offset="0.0165" stop-color="#ffe200"/><stop offset="0.1342" stop-color="#ffe200"/><stop offset="0.2224" stop-color="#ffe200"/><stop offset="0.3106" stop-color="#ffe200"/><stop offset="0.3695" stop-color="#ffe200"/><stop offset="0.4048" stop-color="#ffe200"/><stop offset="0.4283" stop-color="#ffe200"/><stop offset="0.4489" stop-color="#ffe200"/><stop offset="0.4636" stop-color="#ffe200"/><stop offset="0.4724" stop-color="#ffe200"/><stop offset="0.4798" stop-color="#ffe200"/><stop offset="0.4871" stop-color="#ffa300"/><stop offset="0.4945" stop-color="#ff9e00"/><stop offset="0.5018" stop-color="#ff9a00"/><stop offset="0.5106" stop-color="#ff9500"/><stop offset="0.5253" stop-color="#ff8d00"/><stop offset="0.5459" stop-color="#ff8300"/><stop offset="0.5695" stop-color="#ff7800"/><stop offset="0.6048" stop-color="#ff6900"/><stop offset="0.6636" stop-color="#ff5700"/><stop offset="0.7518" stop-color="#ff3c00"/><stop offset="0.8401" stop-color="#ff2900"/><stop offset="0.9577" stop-color="#ff1500"/><stop offset="1.0000" stop-color="#ff0f00"/></linearGradient><linearGradient id="gf84" gradientUnits="userSpaceOnUse" x1="997.0" x2="1337.0" y1="0" y2="0"><stop offset="0.0000" stop-color="#ffe200"/><stop offset="0.0172" stop-color="#ffe200"/><stop offset="0.1348" stop-color="#ffe200"/><stop offset="0.2231" stop-color="#ffe200"/><stop offset="0.3113" stop-color="#ffe200"/><stop offset="0.3701" stop-color="#ffe200"/><stop offset="0.4054" stop-color="#ffe200"/><stop offset="0.4290" stop-color="#ffe200"/><stop offset="0.4495" stop-color="#ffe200"/><stop offset="0.4642" stop-color="#ffe200"/><stop offset="0.4731" stop-color="#ffe200"/><stop offset="0.4804" stop-color="#ffe200"/><stop offset="0.4878" stop-color="#ffa300"/><stop offset="0.4951" stop-color="#ff9f00"/><stop offset="0.5025" stop-color="#ff9a00"/><stop offset="0.5113" stop-color="#ff9500"/><stop offset="0.5260" stop-color="#ff8e00"/><stop offset="0.5466" stop-color="#ff8300"/><stop offset="0.5701" stop-color="#ff7800"/><stop offset="0.6054" stop-color="#ff6a00"/><stop offset="0.6642" stop-color="#ff5700"/><stop offset="0.7525" stop-color="#ff3d00"/><stop offset="0.8407" stop-color="#ff2a00"/><stop offset="0.9584" stop-color="#ff1500"/><stop offset="1.0000" stop-color="#ff0f00"/></linearGradient><linearGradient id="gf85" gradientUnits="userSpaceOnUse" x1="997.0" x2="1337.0" y1="0" y2="0"><stop offset="0.0000" stop-color="#ffe200"/><stop offset="0.0179" stop-color="#ffe200"/><stop offset="0.1355" stop-color="#ffe200"/><stop offset="0.2237" stop-color="#ffe200"/><stop offset="0.3120" stop-color="#ffe200"/><stop offset="0.3708" stop-color="#ffe200"/><stop offset="0.4061" stop-color="#ffe200"/><stop offset="0.4296" stop-color="#ffe200"/><stop offset="0.4502" stop-color="#ffe200"/><stop offset="0.4649" stop-color="#ffe200"/><stop offset="0.4737" stop-color="#ffe200"/><stop offset="0.4811" stop-color="#ffe200"/><stop offset="0.4884" stop-color="#ffa300"/><stop offset="0.4958" stop-color="#ff9f00"/><stop offset="0.5031" stop-color="#ff9a00"/><stop offset="0.5120" stop-color="#ff9600"/><stop offset="0.5267" stop-color="#ff8e00"/><stop offset="0.5473" stop-color="#ff8400"/><stop offset="0.5708" stop-color="#ff7900"/><stop offset="0.6061" stop-color="#ff6a00"/><stop offset="0.6649" stop-color="#ff5800"/><stop offset="0.7531" stop-color="#ff3d00"/><stop offset="0.8414" stop-color="#ff2a00"/><stop offset="0.9590" stop-color="#ff1500"/><stop offset="1.0000" stop-color="#ff1000"/></linearGradient><linearGradient id="gf86" gradientUnits="userSpaceOnUse" x1="997.0" x2="1337.0" y1="0" y2="0"><stop offset="0.0000" stop-color="#ffe100"/><stop offset="0.0185" stop-color="#ffe100"/><stop offset="0.1362" stop-color="#ffe100"/><stop offset="0.2244" stop-color="#ffe100"/><stop offset="0.3126" stop-color="#ffe100"/><stop offset="0.3715" stop-color="#ffe100"/><stop offset="0.4068" stop-color="#ffe100"/><stop offset="0.4303" stop-color="#ffe100"/><stop offset="0.4509" stop-color="#ffe100"/><stop offset="0.4656" stop-color="#ffe100"/><stop offset="0.4744" stop-color="#ffe100"/><stop offset="0.4818" stop-color="#ffe100"/><stop offset="0.4891" stop-color="#ffa400"/><stop offset="0.4965" stop-color="#ff9f00"/><stop offset="0.5038" stop-color="#ff9b00"/><stop offset="0.5126" stop-color="#ff9600"/><stop offset="0.5273" stop-color="#ff8f00"/><stop offset="0.5479" stop-color="#ff8400"/><stop offset="0.5715" stop-color="#ff7900"/><stop offset="0.6068" stop-color="#ff6b00"/><stop offset="0.6656" stop-color="#ff5900"/><stop offset="0.7538" stop-color="#ff3e00"/><stop offset="0.8420" stop-color="#ff2a00"/><stop offset="0.9597" stop-color="#ff1600"/><stop offset="1.0000" stop-color="#ff1000"/></linearGradient><linearGradient id="gf87" gradientUnits="userSpaceOnUse" x1="997.0" x2="1337.0" y1="0" y2="0"><stop offset="0.0000" stop-color="#ffe100"/><stop offset="0.0192" stop-color="#ffe100"/><stop offset="0.1368" stop-color="#ffe100"/><stop offset="0.2251" stop-color="#ffe100"/><stop offset="0.3133" stop-color="#ffe100"/><stop offset="0.3721" stop-color="#ffe100"/><stop offset="0.4074" stop-color="#ffe100"/><stop offset="0.4309" stop-color="#ffe100"/><stop offset="0.4515" stop-color="#ffe100"/><stop offset="0.4662" stop-color="#ffe100"/><stop offset="0.4751" stop-color="#ffe100"/><stop offset="0.4824" stop-color="#ffe100"/><stop offset="0.4898" stop-color="#ffa400"/><stop offset="0.4971" stop-color="#ffa000"/><stop offset="0.5045" stop-color="#ff9b00"/><stop offset="0.5133" stop-color="#ff9600"/><stop offset="0.5280" stop-color="#ff8f00"/><stop offset="0.5486" stop-color="#ff8500"/><stop offset="0.5721" stop-color="#ff7a00"/><stop offset="0.6074" stop-color="#ff6b00"/><stop offset="0.6662" stop-color="#ff5900"/><stop offset="0.7545" stop-color="#ff3e00"/><stop offset="0.8427" stop-color="#ff2b00"/><stop offset="0.9604" stop-color="#ff1600"/><stop offset="1.0000" stop-color="#ff1000"/></linearGradient><linearGradient id="gf88" gradientUnits="userSpaceOnUse" x1="997.0" x2="1337.0" y1="0" y2="0"><stop offset="0.0000" stop-color="#ffe000"/><stop offset="0.0198" stop-color="#ffe000"/><stop offset="0.1375" stop-color="#ffe000"/><stop offset="0.2257" stop-color="#ffe000"/><stop offset="0.3140" stop-color="#ffe000"/><stop offset="0.3728" stop-color="#ffe000"/><stop offset="0.4081" stop-color="#ffe000"/><stop offset="0.4316" stop-color="#ffe000"/><stop offset="0.4522" stop-color="#ffe000"/><stop offset="0.4669" stop-color="#ffe000"/><stop offset="0.4757" stop-color="#ffe000"/><stop offset="0.4831" stop-color="#ffe000"/><stop offset="0.4904" stop-color="#ffa400"/><stop offset="0.4978" stop-color="#ffa000"/><stop offset="0.5051" stop-color="#ff9b00"/><stop offset="0.5140" stop-color="#ff9700"/><stop offset="0.5287" stop-color="#ff8f00"/><stop offset="0.5493" stop-color="#ff8500"/><stop offset="0.5728" stop-color="#ff7a00"/><stop offset="0.6081" stop-color="#ff6c00"/><stop offset="0.6669" stop-color="#ff5a00"/><stop offset="0.7551" stop-color="#ff3f00"/><stop offset="0.8434" stop-color="#ff2b00"/><stop offset="0.9610" stop-color="#ff1600"/><stop offset="1.0000" stop-color="#ff1000"/></linearGradient><linearGradient id="gf89" gradientUnits="userSpaceOnUse" x1="997.0" x2="1337.0" y1="0" y2="0"><stop offset="0.0000" stop-color="#ffe000"/><stop offset="0.0205" stop-color="#ffe000"/><stop offset="0.1382" stop-color="#ffe000"/><stop offset="0.2264" stop-color="#ffe000"/><stop offset="0.3146" stop-color="#ffe000"/><stop offset="0.3735" stop-color="#ffe000"/><stop offset="0.4087" stop-color="#ffe000"/><stop offset="0.4323" stop-color="#ffe000"/><stop offset="0.4529" stop-color="#ffe000"/><stop offset="0.4676" stop-color="#ffe000"/><stop offset="0.4764" stop-color="#ffe000"/><stop offset="0.4837" stop-color="#ffe000"/><stop offset="0.4911" stop-color="#ffa500"/><stop offset="0.4985" stop-color="#ffa000"/><stop offset="0.5058" stop-color="#ff9c00"/><stop offset="0.5146" stop-color="#ff9700"/><stop offset="0.5293" stop-color="#ff9000"/><stop offset="0.5499" stop-color="#ff8600"/><stop offset="0.5735" stop-color="#ff7b00"/><stop offset="0.6087" stop-color="#ff6c00"/><stop offset="0.6676" stop-color="#ff5a00"/><stop offset="0.7558" stop-color="#ff3f00"/><stop offset="0.8440" stop-color="#ff2b00"/><stop offset="0.9617" stop-color="#ff1600"/><stop offset="1.0000" stop-color="#ff1100"/></linearGradient><linearGradient id="gf90" gradientUnits="userSpaceOnUse" x1="997.0" x2="1337.0" y1="0" y2="0"><stop offset="0.0000" stop-color="#ffdf00"/><stop offset="0.0212" stop-color="#ffdf00"/><stop offset="0.1388" stop-color="#ffdf00"/><stop offset="0.2271" stop-color="#ffdf00"/><stop offset="0.3153" stop-color="#ffdf00"/><stop offset="0.3741" stop-color="#ffdf00"/><stop offset="0.4094" stop-color="#ffdf00"/><stop offset="0.4329" stop-color="#ffdf00"/><stop offset="0.4535" stop-color="#ffdf00"/><stop offset="0.4682" stop-color="#ffdf00"/><stop offset="0.4771" stop-color="#ffdf00"/><stop offset="0.4844" stop-color="#ffdf00"/><stop offset="0.4918" stop-color="#ffa500"/><stop offset="0.4991" stop-color="#ffa000"/><stop offset="0.5065" stop-color="#ff9c00"/><stop offset="0.5153" stop-color="#ff9700"/><stop offset="0.5300" stop-color="#ff9000"/><stop offset="0.5506" stop-color="#ff8600"/><stop offset="0.5741" stop-color="#ff7b00"/><stop offset="0.6094" stop-color="#ff6d00"/><stop offset="0.6682" stop-color="#ff5b00"/><stop offset="0.7565" stop-color="#ff4000"/><stop offset="0.8447" stop-color="#ff2c00"/><stop offset="0.9623" stop-color="#ff1600"/><stop offset="1.0000" stop-color="#ff1100"/></linearGradient><linearGradient id="gf91" gradientUnits="userSpaceOnUse" x1="997.0" x2="1337.0" y1="0" y2="0"><stop offset="0.0000" stop-color="#ffdf00"/><stop offset="0.0218" stop-color="#ffdf00"/><stop offset="0.1395" stop-color="#ffdf00"/><stop offset="0.2277" stop-color="#ffdf00"/><stop offset="0.3160" stop-color="#ffdf00"/><stop offset="0.3748" stop-color="#ffdf00"/><stop offset="0.4101" stop-color="#ffdf00"/><stop offset="0.4336" stop-color="#ffdf00"/><stop offset="0.4542" stop-color="#ffdf00"/><stop offset="0.4689" stop-color="#ffdf00"/><stop offset="0.4777" stop-color="#ffdf00"/><stop offset="0.4851" stop-color="#ffdf00"/><stop offset="0.4924" stop-color="#ffa500"/><stop offset="0.4998" stop-color="#ffa100"/><stop offset="0.5071" stop-color="#ff9c00"/><stop offset="0.5160" stop-color="#ff9800"/><stop offset="0.5307" stop-color="#ff9100"/><stop offset="0.5512" stop-color="#ff8700"/><stop offset="0.5748" stop-color="#ff7c00"/><stop offset="0.6101" stop-color="#ff6e00"/><stop offset="0.6689" stop-color="#ff5b00"/><stop offset="0.7571" stop-color="#ff4000"/><stop offset="0.8454" stop-color="#ff2c00"/><stop offset="0.9630" stop-color="#ff1700"/><stop offset="1.0000" stop-color="#ff1100"/></linearGradient><linearGradient id="gf92" gradientUnits="userSpaceOnUse" x1="997.0" x2="1337.0" y1="0" y2="0"><stop offset="0.0000" stop-color="#ffde00"/><stop offset="0.0225" stop-color="#ffde00"/><stop offset="0.1401" stop-color="#ffde00"/><stop offset="0.2284" stop-color="#ffde00"/><stop offset="0.3166" stop-color="#ffde00"/><stop offset="0.3754" stop-color="#ffde00"/><stop offset="0.4107" stop-color="#ffde00"/><stop offset="0.4343" stop-color="#ffde00"/><stop offset="0.4549" stop-color="#ffde00"/><stop offset="0.4696" stop-color="#ffde00"/><stop offset="0.4784" stop-color="#ffde00"/><stop offset="0.4857" stop-color="#ffde00"/><stop offset="0.4931" stop-color="#ffa500"/><stop offset="0.5004" stop-color="#ffa100"/><stop offset="0.5078" stop-color="#ff9d00"/><stop offset="0.5166" stop-color="#ff9800"/><stop offset="0.5313" stop-color="#ff9100"/><stop offset="0.5519" stop-color="#ff8700"/><stop offset="0.5754" stop-color="#ff7c00"/><stop offset="0.6107" stop-color="#ff6e00"/><stop offset="0.6696" stop-color="#ff5c00"/><stop offset="0.7578" stop-color="#ff4100"/><stop offset="0.8460" stop-color="#ff2c00"/><stop offset="0.9637" stop-color="#ff1700"/><stop offset="1.0000" stop-color="#ff1200"/></linearGradient><linearGradient id="gf93" gradientUnits="userSpaceOnUse" x1="997.0" x2="1337.0" y1="0" y2="0"><stop offset="0.0000" stop-color="#ffde00"/><stop offset="0.0232" stop-color="#ffde00"/><stop offset="0.1408" stop-color="#ffde00"/><stop offset="0.2290" stop-color="#ffde00"/><stop offset="0.3173" stop-color="#ffde00"/><stop offset="0.3761" stop-color="#ffde00"/><stop offset="0.4114" stop-color="#ffde00"/><stop offset="0.4349" stop-color="#ffde00"/><stop offset="0.4555" stop-color="#ffde00"/><stop offset="0.4702" stop-color="#ffde00"/><stop offset="0.4790" stop-color="#ffde00"/><stop offset="0.4864" stop-color="#ffde00"/><stop offset="0.4938" stop-color="#ffa600"/><stop offset="0.5011" stop-color="#ffa100"/><stop offset="0.5085" stop-color="#ff9d00"/><stop offset="0.5173" stop-color="#ff9800"/><stop offset="0.5320" stop-color="#ff9100"/><stop offset="0.5526" stop-color="#ff8800"/><stop offset="0.5761" stop-color="#ff7d00"/><stop offset="0.6114" stop-color="#ff6f00"/><stop offset="0.6702" stop-color="#ff5c00"/><stop offset="0.7585" stop-color="#ff4100"/><stop offset="0.8467" stop-color="#ff2d00"/><stop offset="0.9643" stop-color="#ff1700"/><stop offset="1.0000" stop-color="#ff1200"/></linearGradient><linearGradient id="gf94" gradientUnits="userSpaceOnUse" x1="997.0" x2="1337.0" y1="0" y2="0"><stop offset="0.0000" stop-color="#ffde00"/><stop offset="0.0238" stop-color="#ffde00"/><stop offset="0.1415" stop-color="#ffde00"/><stop offset="0.2297" stop-color="#ffde00"/><stop offset="0.3179" stop-color="#ffde00"/><stop offset="0.3768" stop-color="#ffde00"/><stop offset="0.4121" stop-color="#ffde00"/><stop offset="0.4356" stop-color="#ffde00"/><stop offset="0.4562" stop-color="#ffde00"/><stop offset="0.4709" stop-color="#ffde00"/><stop offset="0.4797" stop-color="#ffde00"/><stop offset="0.4871" stop-color="#ffde00"/><stop offset="0.4944" stop-color="#ffa600"/><stop offset="0.5018" stop-color="#ffa200"/><stop offset="0.5091" stop-color="#ff9d00"/><stop offset="0.5179" stop-color="#ff9900"/><stop offset="0.5327" stop-color="#ff9200"/><stop offset="0.5532" stop-color="#ff8800"/><stop offset="0.5768" stop-color="#ff7d00"/><stop offset="0.6121" stop-color="#ff6f00"/><stop offset="0.6709" stop-color="#ff5d00"/><stop offset="0.7591" stop-color="#ff4200"/><stop offset="0.8474" stop-color="#ff2d00"/><stop offset="0.9650" stop-color="#ff1700"/><stop offset="1.0000" stop-color="#ff1200"/></linearGradient><linearGradient id="gf95" gradientUnits="userSpaceOnUse" x1="997.0" x2="1337.0" y1="0" y2="0"><stop offset="0.0000" stop-color="#ffdd00"/><stop offset="0.0241" stop-color="#ffdd00"/><stop offset="0.1418" stop-color="#ffdd00"/><stop offset="0.2300" stop-color="#ffdd00"/><stop offset="0.3183" stop-color="#ffdd00"/><stop offset="0.3771" stop-color="#ffdd00"/><stop offset="0.4124" stop-color="#ffdd00"/><stop offset="0.4359" stop-color="#ffdd00"/><stop offset="0.4565" stop-color="#ffdd00"/><stop offset="0.4712" stop-color="#ffdd00"/><stop offset="0.4800" stop-color="#ffdd00"/><stop offset="0.4874" stop-color="#ffdd00"/><stop offset="0.4947" stop-color="#ffa600"/><stop offset="0.5021" stop-color="#ffa200"/><stop offset="0.5094" stop-color="#ff9e00"/><stop offset="0.5183" stop-color="#ff9900"/><stop offset="0.5330" stop-color="#ff9200"/><stop offset="0.5536" stop-color="#ff8900"/><stop offset="0.5771" stop-color="#ff7e00"/><stop offset="0.6124" stop-color="#ff7000"/><stop offset="0.6712" stop-color="#ff5d00"/><stop offset="0.7594" stop-color="#ff4200"/><stop offset="0.8477" stop-color="#ff2d00"/><stop offset="0.9653" stop-color="#ff1700"/><stop offset="1.0000" stop-color="#ff1200"/></linearGradient><linearGradient id="gf96" gradientUnits="userSpaceOnUse" x1="997.0" x2="1337.0" y1="0" y2="0"><stop offset="0.0000" stop-color="#ffdd00"/><stop offset="0.0242" stop-color="#ffdd00"/><stop offset="0.1419" stop-color="#ffdd00"/><stop offset="0.2301" stop-color="#ffdd00"/><stop offset="0.3183" stop-color="#ffdd00"/><stop offset="0.3771" stop-color="#ffdd00"/><stop offset="0.4124" stop-color="#ffdd00"/><stop offset="0.4360" stop-color="#ffdd00"/><stop offset="0.4566" stop-color="#ffdd00"/><stop offset="0.4713" stop-color="#ffdd00"/><stop offset="0.4801" stop-color="#ffdd00"/><stop offset="0.4874" stop-color="#ffdd00"/><stop offset="0.4948" stop-color="#ffa700"/><stop offset="0.5021" stop-color="#ffa200"/><stop offset="0.5095" stop-color="#ff9e00"/><stop offset="0.5183" stop-color="#ff9a00"/><stop offset="0.5330" stop-color="#ff9300"/><stop offset="0.5536" stop-color="#ff8900"/><stop offset="0.5771" stop-color="#ff7e00"/><stop offset="0.6124" stop-color="#ff7000"/><stop offset="0.6713" stop-color="#ff5e00"/><stop offset="0.7595" stop-color="#ff4300"/><stop offset="0.8477" stop-color="#ff2e00"/><stop offset="0.9654" stop-color="#ff1800"/><stop offset="1.0000" stop-color="#ff1300"/></linearGradient><linearGradient id="gf97" gradientUnits="userSpaceOnUse" x1="997.0" x2="1337.0" y1="0" y2="0"><stop offset="0.0000" stop-color="#ffdc00"/><stop offset="0.0243" stop-color="#ffdc00"/><stop offset="0.1419" stop-color="#ffdc00"/><stop offset="0.2301" stop-color="#ffdc00"/><stop offset="0.3184" stop-color="#ffdc00"/><stop offset="0.3772" stop-color="#ffdc00"/><stop offset="0.4125" stop-color="#ffdc00"/><stop offset="0.4360" stop-color="#ffdc00"/><stop offset="0.4566" stop-color="#ffdc00"/><stop offset="0.4713" stop-color="#ffdc00"/><stop offset="0.4801" stop-color="#ffdc00"/><stop offset="0.4875" stop-color="#ffdc00"/><stop offset="0.4949" stop-color="#ffa700"/><stop offset="0.5022" stop-color="#ffa300"/><stop offset="0.5096" stop-color="#ff9e00"/><stop offset="0.5184" stop-color="#ff9a00"/><stop offset="0.5331" stop-color="#ff9300"/><stop offset="0.5537" stop-color="#ff8900"/><stop offset="0.5772" stop-color="#ff7f00"/><stop offset="0.6125" stop-color="#ff7100"/><stop offset="0.6713" stop-color="#ff5e00"/><stop offset="0.7596" stop-color="#ff4300"/><stop offset="0.8478" stop-color="#ff2e00"/><stop offset="0.9654" stop-color="#ff1800"/><stop offset="1.0000" stop-color="#ff1300"/></linearGradient><linearGradient id="gf98" gradientUnits="userSpaceOnUse" x1="997.0" x2="1337.0" y1="0" y2="0"><stop offset="0.0000" stop-color="#ffdc00"/><stop offset="0.0243" stop-color="#ffdc00"/><stop offset="0.1420" stop-color="#ffdc00"/><stop offset="0.2302" stop-color="#ffdc00"/><stop offset="0.3184" stop-color="#ffdc00"/><stop offset="0.3773" stop-color="#ffdc00"/><stop offset="0.4126" stop-color="#ffdc00"/><stop offset="0.4361" stop-color="#ffdc00"/><stop offset="0.4567" stop-color="#ffdc00"/><stop offset="0.4714" stop-color="#ffdc00"/><stop offset="0.4802" stop-color="#ffdc00"/><stop offset="0.4876" stop-color="#ffdc00"/><stop offset="0.4949" stop-color="#ffa700"/><stop offset="0.5023" stop-color="#ffa300"/><stop offset="0.5096" stop-color="#ff9f00"/><stop offset="0.5184" stop-color="#ff9a00"/><stop offset="0.5331" stop-color="#ff9300"/><stop offset="0.5537" stop-color="#ff8a00"/><stop offset="0.5773" stop-color="#ff7f00"/><stop offset="0.6126" stop-color="#ff7100"/><stop offset="0.6714" stop-color="#ff5f00"/><stop offset="0.7596" stop-color="#ff4300"/><stop offset="0.8478" stop-color="#ff2e00"/><stop offset="0.9655" stop-color="#ff1800"/><stop offset="1.0000" stop-color="#ff1300"/></linearGradient><linearGradient id="gf99" gradientUnits="userSpaceOnUse" x1="997.0" x2="1337.0" y1="0" y2="0"><stop offset="0.0000" stop-color="#ffdb00"/><stop offset="0.0244" stop-color="#ffdb00"/><stop offset="0.1420" stop-color="#ffdb00"/><stop offset="0.2303" stop-color="#ffdb00"/><stop offset="0.3185" stop-color="#ffdb00"/><stop offset="0.3773" stop-color="#ffdb00"/><stop offset="0.4126" stop-color="#ffdb00"/><stop offset="0.4361" stop-color="#ffdb00"/><stop offset="0.4567" stop-color="#ffdb00"/><stop offset="0.4714" stop-color="#ffdb00"/><stop offset="0.4803" stop-color="#ffdb00"/><stop offset="0.4876" stop-color="#ffdb00"/><stop offset="0.4950" stop-color="#ffa700"/><stop offset="0.5023" stop-color="#ffa300"/><stop offset="0.5097" stop-color="#ff9f00"/><stop offset="0.5185" stop-color="#ff9b00"/><stop offset="0.5332" stop-color="#ff9400"/><stop offset="0.5538" stop-color="#ff8a00"/><stop offset="0.5773" stop-color="#ff8000"/><stop offset="0.6126" stop-color="#ff7200"/><stop offset="0.6714" stop-color="#ff5f00"/><stop offset="0.7597" stop-color="#ff4400"/><stop offset="0.8479" stop-color="#ff2f00"/><stop offset="0.9656" stop-color="#ff1800"/><stop offset="1.0000" stop-color="#ff1300"/></linearGradient><linearGradient id="gf100" gradientUnits="userSpaceOnUse" x1="997.0" x2="1337.0" y1="0" y2="0"><stop offset="0.0000" stop-color="#ffdb00"/><stop offset="0.0244" stop-color="#ffdb00"/><stop offset="0.1421" stop-color="#ffdb00"/><stop offset="0.2303" stop-color="#ffdb00"/><stop offset="0.3185" stop-color="#ffdb00"/><stop offset="0.3774" stop-color="#ffdb00"/><stop offset="0.4127" stop-color="#ffdb00"/><stop offset="0.4362" stop-color="#ffdb00"/><stop offset="0.4568" stop-color="#ffdb00"/><stop offset="0.4715" stop-color="#ffdb00"/><stop offset="0.4803" stop-color="#ffdb00"/><stop offset="0.4877" stop-color="#ffdb00"/><stop offset="0.4950" stop-color="#ffa800"/><stop offset="0.5024" stop-color="#ffa400"/><stop offset="0.5097" stop-color="#ff9f00"/><stop offset="0.5185" stop-color="#ff9b00"/><stop offset="0.5333" stop-color="#ff9400"/><stop offset="0.5538" stop-color="#ff8b00"/><stop offset="0.5774" stop-color="#ff8000"/><stop offset="0.6127" stop-color="#ff7200"/><stop offset="0.6715" stop-color="#ff6000"/><stop offset="0.7597" stop-color="#ff4400"/><stop offset="0.8480" stop-color="#ff2f00"/><stop offset="0.9656" stop-color="#ff1800"/><stop offset="1.0000" stop-color="#ff1300"/></linearGradient><linearGradient id="gf101" gradientUnits="userSpaceOnUse" x1="997.0" x2="1337.0" y1="0" y2="0"><stop offset="0.0000" stop-color="#ffda00"/><stop offset="0.0245" stop-color="#ffda00"/><stop offset="0.1421" stop-color="#ffda00"/><stop offset="0.2304" stop-color="#ffda00"/><stop offset="0.3186" stop-color="#ffda00"/><stop offset="0.3774" stop-color="#ffda00"/><stop offset="0.4127" stop-color="#ffda00"/><stop offset="0.4363" stop-color="#ffda00"/><stop offset="0.4568" stop-color="#ffda00"/><stop offset="0.4715" stop-color="#ffda00"/><stop offset="0.4804" stop-color="#ffda00"/><stop offset="0.4877" stop-color="#ffda00"/><stop offset="0.4951" stop-color="#ffa800"/><stop offset="0.5024" stop-color="#ffa400"/><stop offset="0.5098" stop-color="#ffa000"/><stop offset="0.5186" stop-color="#ff9b00"/><stop offset="0.5333" stop-color="#ff9500"/><stop offset="0.5539" stop-color="#ff8b00"/><stop offset="0.5774" stop-color="#ff8100"/><stop offset="0.6127" stop-color="#ff7300"/><stop offset="0.6715" stop-color="#ff6000"/><stop offset="0.7598" stop-color="#ff4500"/><stop offset="0.8480" stop-color="#ff2f00"/><stop offset="0.9657" stop-color="#ff1900"/><stop offset="1.0000" stop-color="#ff1400"/></linearGradient><linearGradient id="gf102" gradientUnits="userSpaceOnUse" x1="997.0" x2="1337.0" y1="0" y2="0"><stop offset="0.0000" stop-color="#ffda00"/><stop offset="0.0245" stop-color="#ffda00"/><stop offset="0.1422" stop-color="#ffda00"/><stop offset="0.2304" stop-color="#ffda00"/><stop offset="0.3187" stop-color="#ffda00"/><stop offset="0.3775" stop-color="#ffda00"/><stop offset="0.4128" stop-color="#ffda00"/><stop offset="0.4363" stop-color="#ffda00"/><stop offset="0.4569" stop-color="#ffda00"/><stop offset="0.4716" stop-color="#ffda00"/><stop offset="0.4804" stop-color="#ffda00"/><stop offset="0.4878" stop-color="#ffda00"/><stop offset="0.4951" stop-color="#ffa800"/><stop offset="0.5025" stop-color="#ffa400"/><stop offset="0.5098" stop-color="#ffa000"/><stop offset="0.5187" stop-color="#ff9c00"/><stop offset="0.5334" stop-color="#ff9500"/><stop offset="0.5540" stop-color="#ff8c00"/><stop offset="0.5775" stop-color="#ff8100"/><stop offset="0.6128" stop-color="#ff7300"/><stop offset="0.6716" stop-color="#ff6100"/><stop offset="0.7598" stop-color="#ff4500"/><stop offset="0.8481" stop-color="#ff3000"/><stop offset="0.9657" stop-color="#ff1900"/><stop offset="1.0000" stop-color="#ff1400"/></linearGradient><linearGradient id="gf103" gradientUnits="userSpaceOnUse" x1="997.0" x2="1337.0" y1="0" y2="0"><stop offset="0.0000" stop-color="#ffda00"/><stop offset="0.0246" stop-color="#ffda00"/><stop offset="0.1422" stop-color="#ffda00"/><stop offset="0.2305" stop-color="#ffda00"/><stop offset="0.3187" stop-color="#ffda00"/><stop offset="0.3775" stop-color="#ffda00"/><stop offset="0.4128" stop-color="#ffda00"/><stop offset="0.4364" stop-color="#ffda00"/><stop offset="0.4570" stop-color="#ffda00"/><stop offset="0.4717" stop-color="#ffda00"/><stop offset="0.4805" stop-color="#ffda00"/><stop offset="0.4878" stop-color="#ffda00"/><stop offset="0.4952" stop-color="#ffa900"/><stop offset="0.5025" stop-color="#ffa400"/><stop offset="0.5099" stop-color="#ffa000"/><stop offset="0.5187" stop-color="#ff9c00"/><stop offset="0.5334" stop-color="#ff9500"/><stop offset="0.5540" stop-color="#ff8c00"/><stop offset="0.5775" stop-color="#ff8200"/><stop offset="0.6128" stop-color="#ff7400"/><stop offset="0.6717" stop-color="#ff6100"/><stop offset="0.7599" stop-color="#ff4600"/><stop offset="0.8481" stop-color="#ff3000"/><stop offset="0.9658" stop-color="#ff1900"/><stop offset="1.0000" stop-color="#ff1400"/></linearGradient><linearGradient id="gf104" gradientUnits="userSpaceOnUse" x1="997.0" x2="1337.0" y1="0" y2="0"><stop offset="0.0000" stop-color="#ffd900"/><stop offset="0.0247" stop-color="#ffd900"/><stop offset="0.1423" stop-color="#ffd900"/><stop offset="0.2305" stop-color="#ffd900"/><stop offset="0.3188" stop-color="#ffd900"/><stop offset="0.3776" stop-color="#ffd900"/><stop offset="0.4129" stop-color="#ffd900"/><stop offset="0.4364" stop-color="#ffd900"/><stop offset="0.4570" stop-color="#ffd900"/><stop offset="0.4717" stop-color="#ffd900"/><stop offset="0.4805" stop-color="#ffd900"/><stop offset="0.4879" stop-color="#ffd900"/><stop offset="0.4952" stop-color="#ffa900"/><stop offset="0.5026" stop-color="#ffa500"/><stop offset="0.5100" stop-color="#ffa100"/><stop offset="0.5188" stop-color="#ff9c00"/><stop offset="0.5335" stop-color="#ff9600"/><stop offset="0.5541" stop-color="#ff8d00"/><stop offset="0.5776" stop-color="#ff8200"/><stop offset="0.6129" stop-color="#ff7400"/><stop offset="0.6717" stop-color="#ff6200"/><stop offset="0.7600" stop-color="#ff4600"/><stop offset="0.8482" stop-color="#ff3100"/><stop offset="0.9658" stop-color="#ff1900"/><stop offset="1.0000" stop-color="#ff1400"/></linearGradient><linearGradient id="gf105" gradientUnits="userSpaceOnUse" x1="997.0" x2="1337.0" y1="0" y2="0"><stop offset="0.0000" stop-color="#ffd900"/><stop offset="0.0247" stop-color="#ffd900"/><stop offset="0.1424" stop-color="#ffd900"/><stop offset="0.2306" stop-color="#ffd900"/><stop offset="0.3188" stop-color="#ffd900"/><stop offset="0.3777" stop-color="#ffd900"/><stop offset="0.4129" stop-color="#ffd900"/><stop offset="0.4365" stop-color="#ffd900"/><stop offset="0.4571" stop-color="#ffd900"/><stop offset="0.4718" stop-color="#ffd900"/><stop offset="0.4806" stop-color="#ffd900"/><stop offset="0.4879" stop-color="#ffd900"/><stop offset="0.4953" stop-color="#ffa900"/><stop offset="0.5027" stop-color="#ffa500"/><stop offset="0.5100" stop-color="#ffa100"/><stop offset="0.5188" stop-color="#ff9d00"/><stop offset="0.5335" stop-color="#ff9600"/><stop offset="0.5541" stop-color="#ff8d00"/><stop offset="0.5777" stop-color="#ff8300"/><stop offset="0.6129" stop-color="#ff7500"/><stop offset="0.6718" stop-color="#ff6300"/><stop offset="0.7600" stop-color="#ff4700"/><stop offset="0.8482" stop-color="#ff3100"/><stop offset="0.9659" stop-color="#ff1900"/><stop offset="1.0000" stop-color="#ff1400"/></linearGradient><linearGradient id="gf106" gradientUnits="userSpaceOnUse" x1="997.0" x2="1337.0" y1="0" y2="0"><stop offset="0.0000" stop-color="#ffd800"/><stop offset="0.0248" stop-color="#ffd800"/><stop offset="0.1424" stop-color="#ffd800"/><stop offset="0.2307" stop-color="#ffd800"/><stop offset="0.3189" stop-color="#ffd800"/><stop offset="0.3777" stop-color="#ffd800"/><stop offset="0.4130" stop-color="#ffd800"/><stop offset="0.4365" stop-color="#ffd800"/><stop offset="0.4571" stop-color="#ffd800"/><stop offset="0.4718" stop-color="#ffd800"/><stop offset="0.4807" stop-color="#ffd800"/><stop offset="0.4880" stop-color="#ffd800"/><stop offset="0.4954" stop-color="#ffa900"/><stop offset="0.5027" stop-color="#ffa500"/><stop offset="0.5101" stop-color="#ffa100"/><stop offset="0.5189" stop-color="#ff9d00"/><stop offset="0.5336" stop-color="#ff9700"/><stop offset="0.5542" stop-color="#ff8e00"/><stop offset="0.5777" stop-color="#ff8300"/><stop offset="0.6130" stop-color="#ff7500"/><stop offset="0.6718" stop-color="#ff6300"/><stop offset="0.7601" stop-color="#ff4700"/><stop offset="0.8483" stop-color="#ff3100"/><stop offset="0.9659" stop-color="#ff1a00"/><stop offset="1.0000" stop-color="#ff1400"/></linearGradient><linearGradient id="gf107" gradientUnits="userSpaceOnUse" x1="997.0" x2="1337.0" y1="0" y2="0"><stop offset="0.0000" stop-color="#ffd800"/><stop offset="0.0248" stop-color="#ffd800"/><stop offset="0.1425" stop-color="#ffd800"/><stop offset="0.2307" stop-color="#ffd800"/><stop offset="0.3189" stop-color="#ffd800"/><stop offset="0.3778" stop-color="#ffd800"/><stop offset="0.4131" stop-color="#ffd800"/><stop offset="0.4366" stop-color="#ffd800"/><stop offset="0.4572" stop-color="#ffd800"/><stop offset="0.4719" stop-color="#ffd800"/><stop offset="0.4807" stop-color="#ffd800"/><stop offset="0.4881" stop-color="#ffd800"/><stop offset="0.4954" stop-color="#ffaa00"/><stop offset="0.5028" stop-color="#ffa600"/><stop offset="0.5101" stop-color="#ffa200"/><stop offset="0.5189" stop-color="#ff9e00"/><stop offset="0.5336" stop-color="#ff9700"/><stop offset="0.5542" stop-color="#ff8e00"/><stop offset="0.5778" stop-color="#ff8400"/><stop offset="0.6131" stop-color="#ff7600"/><stop offset="0.6719" stop-color="#ff6400"/><stop offset="0.7601" stop-color="#ff4800"/><stop offset="0.8484" stop-color="#ff3200"/><stop offset="0.9660" stop-color="#ff1a00"/><stop offset="1.0000" stop-color="#ff1500"/></linearGradient><linearGradient id="gf108" gradientUnits="userSpaceOnUse" x1="997.0" x2="1337.0" y1="0" y2="0"><stop offset="0.0000" stop-color="#ffd700"/><stop offset="0.0249" stop-color="#ffd700"/><stop offset="0.1425" stop-color="#ffd700"/><stop offset="0.2308" stop-color="#ffd700"/><stop offset="0.3190" stop-color="#ffd700"/><stop offset="0.3778" stop-color="#ffd700"/><stop offset="0.4131" stop-color="#ffd700"/><stop offset="0.4366" stop-color="#ffd700"/><stop offset="0.4572" stop-color="#ffd700"/><stop offset="0.4719" stop-color="#ffd700"/><stop offset="0.4808" stop-color="#ffd700"/><stop offset="0.4881" stop-color="#ffd700"/><stop offset="0.4955" stop-color="#ffaa00"/><stop offset="0.5028" stop-color="#ffa600"/><stop offset="0.5102" stop-color="#ffa200"/><stop offset="0.5190" stop-color="#ff9e00"/><stop offset="0.5337" stop-color="#ff9700"/><stop offset="0.5543" stop-color="#ff8f00"/><stop offset="0.5778" stop-color="#ff8400"/><stop offset="0.6131" stop-color="#ff7700"/><stop offset="0.6719" stop-color="#ff6400"/><stop offset="0.7602" stop-color="#ff4800"/><stop offset="0.8484" stop-color="#ff3200"/><stop offset="0.9661" stop-color="#ff1a00"/><stop offset="1.0000" stop-color="#ff1500"/></linearGradient><linearGradient id="gf109" gradientUnits="userSpaceOnUse" x1="997.0" x2="1337.0" y1="0" y2="0"><stop offset="0.0000" stop-color="#ffd700"/><stop offset="0.0249" stop-color="#ffd700"/><stop offset="0.1426" stop-color="#ffd700"/><stop offset="0.2308" stop-color="#ffd700"/><stop offset="0.3191" stop-color="#ffd700"/><stop offset="0.3779" stop-color="#ffd700"/><stop offset="0.4132" stop-color="#ffd700"/><stop offset="0.4367" stop-color="#ffd700"/><stop offset="0.4573" stop-color="#ffd700"/><stop offset="0.4720" stop-color="#ffd700"/><stop offset="0.4808" stop-color="#ffd700"/><stop offset="0.4882" stop-color="#ffd700"/><stop offset="0.4955" stop-color="#ffaa00"/><stop offset="0.5029" stop-color="#ffa600"/><stop offset="0.5102" stop-color="#ffa200"/><stop offset="0.5191" stop-color="#ff9e00"/><stop offset="0.5338" stop-color="#ff9800"/><stop offset="0.5543" stop-color="#ff8f00"/><stop offset="0.5779" stop-color="#ff8500"/><stop offset="0.6132" stop-color="#ff7700"/><stop offset="0.6720" stop-color="#ff6500"/><stop offset="0.7602" stop-color="#ff4900"/><stop offset="0.8485" stop-color="#ff3200"/><stop offset="0.9661" stop-color="#ff1a00"/><stop offset="1.0000" stop-color="#ff1500"/></linearGradient><linearGradient id="gf110" gradientUnits="userSpaceOnUse" x1="997.0" x2="1337.0" y1="0" y2="0"><stop offset="0.0000" stop-color="#ffd600"/><stop offset="0.0250" stop-color="#ffd600"/><stop offset="0.1426" stop-color="#ffd600"/><stop offset="0.2309" stop-color="#ffd600"/><stop offset="0.3191" stop-color="#ffd600"/><stop offset="0.3779" stop-color="#ffd600"/><stop offset="0.4132" stop-color="#ffd600"/><stop offset="0.4368" stop-color="#ffd600"/><stop offset="0.4573" stop-color="#ffd600"/><stop offset="0.4721" stop-color="#ffd600"/><stop offset="0.4809" stop-color="#ffd600"/><stop offset="0.4882" stop-color="#ffd600"/><stop offset="0.4956" stop-color="#ffaa00"/><stop offset="0.5029" stop-color="#ffa700"/><stop offset="0.5103" stop-color="#ffa300"/><stop offset="0.5191" stop-color="#ff9f00"/><stop offset="0.5338" stop-color="#ff9800"/><stop offset="0.5544" stop-color="#ff8f00"/><stop offset="0.5779" stop-color="#ff8500"/><stop offset="0.6132" stop-color="#ff7800"/><stop offset="0.6721" stop-color="#ff6500"/><stop offset="0.7603" stop-color="#ff4900"/><stop offset="0.8485" stop-color="#ff3300"/><stop offset="0.9662" stop-color="#ff1a00"/><stop offset="1.0000" stop-color="#ff1500"/></linearGradient><linearGradient id="gf111" gradientUnits="userSpaceOnUse" x1="997.0" x2="1337.0" y1="0" y2="0"><stop offset="0.0000" stop-color="#ffd600"/><stop offset="0.0253" stop-color="#ffd600"/><stop offset="0.1430" stop-color="#ffd600"/><stop offset="0.2312" stop-color="#ffd600"/><stop offset="0.3195" stop-color="#ffd600"/><stop offset="0.3783" stop-color="#ffd600"/><stop offset="0.4136" stop-color="#ffd600"/><stop offset="0.4371" stop-color="#ffd600"/><stop offset="0.4577" stop-color="#ffd600"/><stop offset="0.4724" stop-color="#ffd600"/><stop offset="0.4812" stop-color="#ffd600"/><stop offset="0.4886" stop-color="#ffd600"/><stop offset="0.4959" stop-color="#ffab00"/><stop offset="0.5033" stop-color="#ffa700"/><stop offset="0.5106" stop-color="#ffa300"/><stop offset="0.5195" stop-color="#ff9f00"/><stop offset="0.5342" stop-color="#ff9900"/><stop offset="0.5548" stop-color="#ff9000"/><stop offset="0.5783" stop-color="#ff8600"/><stop offset="0.6136" stop-color="#ff7800"/><stop offset="0.6724" stop-color="#ff6600"/><stop offset="0.7606" stop-color="#ff4a00"/><stop offset="0.8489" stop-color="#ff3300"/><stop offset="0.9665" stop-color="#ff1b00"/><stop offset="1.0000" stop-color="#ff1600"/></linearGradient><linearGradient id="gf112" gradientUnits="userSpaceOnUse" x1="997.0" x2="1337.0" y1="0" y2="0"><stop offset="0.0000" stop-color="#ffd600"/><stop offset="0.0257" stop-color="#ffd600"/><stop offset="0.1434" stop-color="#ffd600"/><stop offset="0.2316" stop-color="#ffd600"/><stop offset="0.3198" stop-color="#ffd600"/><stop offset="0.3787" stop-color="#ffd600"/><stop offset="0.4140" stop-color="#ffd600"/><stop offset="0.4375" stop-color="#ffd600"/><stop offset="0.4581" stop-color="#ffd600"/><stop offset="0.4728" stop-color="#ffd600"/><stop offset="0.4816" stop-color="#ffd600"/><stop offset="0.4890" stop-color="#ffd600"/><stop offset="0.4963" stop-color="#ffab00"/><stop offset="0.5037" stop-color="#ffa700"/><stop offset="0.5110" stop-color="#ffa300"/><stop offset="0.5198" stop-color="#ff9f00"/><stop offset="0.5345" stop-color="#ff9900"/><stop offset="0.5551" stop-color="#ff9000"/><stop offset="0.5787" stop-color="#ff8600"/><stop offset="0.6140" stop-color="#ff7900"/><stop offset="0.6728" stop-color="#ff6600"/><stop offset="0.7610" stop-color="#ff4a00"/><stop offset="0.8493" stop-color="#ff3300"/><stop offset="0.9669" stop-color="#ff1b00"/><stop offset="1.0000" stop-color="#ff1600"/></linearGradient><linearGradient id="gf113" gradientUnits="userSpaceOnUse" x1="997.0" x2="1337.0" y1="0" y2="0"><stop offset="0.0000" stop-color="#ffd500"/><stop offset="0.0261" stop-color="#ffd500"/><stop offset="0.1437" stop-color="#ffd500"/><stop offset="0.2320" stop-color="#ffd500"/><stop offset="0.3202" stop-color="#ffd500"/><stop offset="0.3790" stop-color="#ffd500"/><stop offset="0.4143" stop-color="#ffd500"/><stop offset="0.4379" stop-color="#ffd500"/><stop offset="0.4585" stop-color="#ffd500"/><stop offset="0.4732" stop-color="#ffd500"/><stop offset="0.4820" stop-color="#ffd500"/><stop offset="0.4893" stop-color="#ffd500"/><stop offset="0.4967" stop-color="#ffab00"/><stop offset="0.5040" stop-color="#ffa800"/><stop offset="0.5114" stop-color="#ffa400"/><stop offset="0.5202" stop-color="#ffa000"/><stop offset="0.5349" stop-color="#ff9a00"/><stop offset="0.5555" stop-color="#ff9100"/><stop offset="0.5790" stop-color="#ff8700"/><stop offset="0.6143" stop-color="#ff7900"/><stop offset="0.6732" stop-color="#ff6700"/><stop offset="0.7614" stop-color="#ff4a00"/><stop offset="0.8496" stop-color="#ff3400"/><stop offset="0.9673" stop-color="#ff1b00"/><stop offset="1.0000" stop-color="#ff1600"/></linearGradient><linearGradient id="gf114" gradientUnits="userSpaceOnUse" x1="997.0" x2="1337.0" y1="0" y2="0"><stop offset="0.0000" stop-color="#ffd500"/><stop offset="0.0265" stop-color="#ffd500"/><stop offset="0.1441" stop-color="#ffd500"/><stop offset="0.2324" stop-color="#ffd500"/><stop offset="0.3206" stop-color="#ffd500"/><stop offset="0.3794" stop-color="#ffd500"/><stop offset="0.4147" stop-color="#ffd500"/><stop offset="0.4382" stop-color="#ffd500"/><stop offset="0.4588" stop-color="#ffd500"/><stop offset="0.4735" stop-color="#ffd500"/><stop offset="0.4824" stop-color="#ffd500"/><stop offset="0.4897" stop-color="#ffd500"/><stop offset="0.4971" stop-color="#ffac00"/><stop offset="0.5044" stop-color="#ffa800"/><stop offset="0.5118" stop-color="#ffa400"/><stop offset="0.5206" stop-color="#ffa000"/><stop offset="0.5353" stop-color="#ff9a00"/><stop offset="0.5559" stop-color="#ff9100"/><stop offset="0.5794" stop-color="#ff8700"/><stop offset="0.6147" stop-color="#ff7a00"/><stop offset="0.6735" stop-color="#ff6700"/><stop offset="0.7618" stop-color="#ff4b00"/><stop offset="0.8500" stop-color="#ff3400"/><stop offset="0.9676" stop-color="#ff1b00"/><stop offset="1.0000" stop-color="#ff1600"/></linearGradient><linearGradient id="gf115" gradientUnits="userSpaceOnUse" x1="997.0" x2="1337.0" y1="0" y2="0"><stop offset="0.0000" stop-color="#ffd400"/><stop offset="0.0265" stop-color="#ffd400"/><stop offset="0.1441" stop-color="#ffd400"/><stop offset="0.2324" stop-color="#ffd400"/><stop offset="0.3206" stop-color="#ffd400"/><stop offset="0.3794" stop-color="#ffd400"/><stop offset="0.4147" stop-color="#ffd400"/><stop offset="0.4382" stop-color="#ffd400"/><stop offset="0.4588" stop-color="#ffd400"/><stop offset="0.4735" stop-color="#ffd400"/><stop offset="0.4824" stop-color="#ffd400"/><stop offset="0.4897" stop-color="#ffd400"/><stop offset="0.4971" stop-color="#ffac00"/><stop offset="0.5044" stop-color="#ffa800"/><stop offset="0.5118" stop-color="#ffa400"/><stop offset="0.5206" stop-color="#ffa000"/><stop offset="0.5353" stop-color="#ff9a00"/><stop offset="0.5559" stop-color="#ff9200"/><stop offset="0.5794" stop-color="#ff8800"/><stop offset="0.6147" stop-color="#ff7a00"/><stop offset="0.6735" stop-color="#ff6800"/><stop offset="0.7618" stop-color="#ff4b00"/><stop offset="0.8500" stop-color="#ff3400"/><stop offset="0.9676" stop-color="#ff1b00"/><stop offset="1.0000" stop-color="#ff1600"/></linearGradient><linearGradient id="gf116" gradientUnits="userSpaceOnUse" x1="997.0" x2="1337.0" y1="0" y2="0"><stop offset="0.0000" stop-color="#ffd400"/><stop offset="0.0265" stop-color="#ffd400"/><stop offset="0.1441" stop-color="#ffd400"/><stop offset="0.2324" stop-color="#ffd400"/><stop offset="0.3206" stop-color="#ffd400"/><stop offset="0.3794" stop-color="#ffd400"/><stop offset="0.4147" stop-color="#ffd400"/><stop offset="0.4382" stop-color="#ffd400"/><stop offset="0.4588" stop-color="#ffd400"/><stop offset="0.4735" stop-color="#ffd400"/><stop offset="0.4824" stop-color="#ffd400"/><stop offset="0.4897" stop-color="#ffd400"/><stop offset="0.4971" stop-color="#ffac00"/><stop offset="0.5044" stop-color="#ffa800"/><stop offset="0.5118" stop-color="#ffa400"/><stop offset="0.5206" stop-color="#ffa100"/><stop offset="0.5353" stop-color="#ff9a00"/><stop offset="0.5559" stop-color="#ff9200"/><stop offset="0.5794" stop-color="#ff8800"/><stop offset="0.6147" stop-color="#ff7a00"/><stop offset="0.6735" stop-color="#ff6800"/><stop offset="0.7618" stop-color="#ff4c00"/><stop offset="0.8500" stop-color="#ff3400"/><stop offset="0.9676" stop-color="#ff1c00"/><stop offset="1.0000" stop-color="#ff1700"/></linearGradient><clipPath id="cpc"><rect x="997" y="44" width="340" height="348.5" rx="3.5"/></clipPath><clipPath id="cpf"><rect x="997" y="470.5" width="340" height="348.5" rx="3.5"/></clipPath><linearGradient id="cbar" x1="0" y1="0" x2="0" y2="1"><stop offset="0" stop-color="#ff0000"/><stop offset="1" stop-color="#ffff00"/></linearGradient></defs><g clip-path="url(#cpc)"><rect x="997.0" y="44.00" width="340.0" height="3.60" fill="url(#gc0)"/><rect x="997.0" y="47.00" width="340.0" height="3.60" fill="url(#gc1)"/><rect x="997.0" y="50.00" width="340.0" height="3.60" fill="url(#gc2)"/><rect x="997.0" y="53.00" width="340.0" height="3.60" fill="url(#gc3)"/><rect x="997.0" y="56.00" width="340.0" height="3.60" fill="url(#gc4)"/><rect x="997.0" y="59.00" width="340.0" height="3.60" fill="url(#gc5)"/><rect x="997.0" y="62.00" width="340.0" height="3.60" fill="url(#gc6)"/><rect x="997.0" y="65.00" width="340.0" height="3.60" fill="url(#gc7)"/><rect x="997.0" y="68.00" width="340.0" height="3.60" fill="url(#gc8)"/><rect x="997.0" y="71.00" width="340.0" height="3.60" fill="url(#gc9)"/><rect x="997.0" y="74.00" width="340.0" height="3.60" fill="url(#gc10)"/><rect x="997.0" y="77.00" width="340.0" height="3.60" fill="url(#gc11)"/><rect x="997.0" y="80.00" width="340.0" height="3.60" fill="url(#gc12)"/><rect x="997.0" y="83.00" width="340.0" height="3.60" fill="url(#gc13)"/><rect x="997.0" y="86.00" width="340.0" height="3.60" fill="url(#gc14)"/><rect x="997.0" y="89.00" width="340.0" height="3.60" fill="url(#gc15)"/><rect x="997.0" y="92.00" width="340.0" height="3.60" fill="url(#gc16)"/><rect x="997.0" y="95.00" width="340.0" height="3.60" fill="url(#gc17)"/><rect x="997.0" y="98.00" width="340.0" height="3.60" fill="url(#gc18)"/><rect x="997.0" y="101.00" width="340.0" height="3.60" fill="url(#gc19)"/><rect x="997.0" y="104.00" width="340.0" height="3.60" fill="url(#gc20)"/><rect x="997.0" y="107.00" width="340.0" height="3.60" fill="url(#gc21)"/><rect x="997.0" y="110.00" width="340.0" height="3.60" fill="url(#gc22)"/><rect x="997.0" y="113.00" width="340.0" height="3.60" fill="url(#gc23)"/><rect x="997.0" y="116.00" width="340.0" height="3.60" fill="url(#gc24)"/><rect x="997.0" y="119.00" width="340.0" height="3.60" fill="url(#gc25)"/><rect x="997.0" y="122.00" width="340.0" height="3.60" fill="url(#gc26)"/><rect x="997.0" y="125.00" width="340.0" height="3.60" fill="url(#gc27)"/><rect x="997.0" y="128.00" width="340.0" height="3.60" fill="url(#gc28)"/><rect x="997.0" y="131.00" width="340.0" height="3.60" fill="url(#gc29)"/><rect x="997.0" y="134.00" width="340.0" height="3.60" fill="url(#gc30)"/><rect x="997.0" y="137.00" width="340.0" height="3.60" fill="url(#gc31)"/><rect x="997.0" y="140.00" width="340.0" height="3.60" fill="url(#gc32)"/><rect x="997.0" y="143.00" width="340.0" height="3.60" fill="url(#gc33)"/><rect x="997.0" y="146.00" width="340.0" height="3.60" fill="url(#gc34)"/><rect x="997.0" y="149.00" width="340.0" height="3.60" fill="url(#gc35)"/><rect x="997.0" y="152.00" width="340.0" height="3.60" fill="url(#gc36)"/><rect x="997.0" y="155.00" width="340.0" height="3.60" fill="url(#gc37)"/><rect x="997.0" y="158.00" width="340.0" height="3.60" fill="url(#gc38)"/><rect x="997.0" y="161.00" width="340.0" height="3.60" fill="url(#gc39)"/><rect x="997.0" y="164.00" width="340.0" height="3.60" fill="url(#gc40)"/><rect x="997.0" y="167.00" width="340.0" height="3.60" fill="url(#gc41)"/><rect x="997.0" y="170.00" width="340.0" height="3.60" fill="url(#gc42)"/><rect x="997.0" y="173.00" width="340.0" height="3.60" fill="url(#gc43)"/><rect x="997.0" y="176.00" width="340.0" height="3.60" fill="url(#gc44)"/><rect x="997.0" y="179.00" width="340.0" height="3.60" fill="url(#gc45)"/><rect x="997.0" y="182.00" width="340.0" height="3.60" fill="url(#gc46)"/><rect x="997.0" y="185.00" width="340.0" height="3.60" fill="url(#gc47)"/><rect x="997.0" y="188.00" width="340.0" height="3.60" fill="url(#gc48)"/><rect x="997.0" y="191.00" width="340.0" height="3.60" fill="url(#gc49)"/><rect x="997.0" y="194.00" width="340.0" height="3.60" fill="url(#gc50)"/><rect x="997.0" y="197.00" width="340.0" height="3.60" fill="url(#gc51)"/><rect x="997.0" y="200.00" width="340.0" height="3.60" fill="url(#gc52)"/><rect x="997.0" y="203.00" width="340.0" height="3.60" fill="url(#gc53)"/><rect x="997.0" y="206.00" width="340.0" height="3.60" fill="url(#gc54)"/><rect x="997.0" y="209.00" width="340.0" height="3.60" fill="url(#gc55)"/><rect x="997.0" y="212.00" width="340.0" height="3.60" fill="url(#gc56)"/><rect x="997.0" y="215.00" width="340.0" height="3.60" fill="url(#gc57)"/><rect x="997.0" y="218.00" width="340.0" height="3.60" fill="url(#gc58)"/><rect x="997.0" y="221.00" width="340.0" height="3.60" fill="url(#gc59)"/><rect x="997.0" y="224.00" width="340.0" height="3.60" fill="url(#gc60)"/><rect x="997.0" y="227.00" width="340.0" height="3.60" fill="url(#gc61)"/><rect x="997.0" y="230.00" width="340.0" height="3.60" fill="url(#gc62)"/><rect x="997.0" y="233.00" width="340.0" height="3.60" fill="url(#gc63)"/><rect x="997.0" y="236.00" width="340.0" height="3.60" fill="url(#gc64)"/><rect x="997.0" y="239.00" width="340.0" height="3.60" fill="url(#gc65)"/><rect x="997.0" y="242.00" width="340.0" height="3.60" fill="url(#gc66)"/><rect x="997.0" y="245.00" width="340.0" height="3.60" fill="url(#gc67)"/><rect x="997.0" y="248.00" width="340.0" height="3.60" fill="url(#gc68)"/><rect x="997.0" y="251.00" width="340.0" height="3.60" fill="url(#gc69)"/><rect x="997.0" y="254.00" width="340.0" height="3.60" fill="url(#gc70)"/><rect x="997.0" y="257.00" width="340.0" height="3.60" fill="url(#gc71)"/><rect x="997.0" y="260.00" width="340.0" height="3.60" fill="url(#gc72)"/><rect x="997.0" y="263.00" width="340.0" height="3.60" fill="url(#gc73)"/><rect x="997.0" y="266.00" width="340.0" height="3.60" fill="url(#gc74)"/><rect x="997.0" y="269.00" width="340.0" height="3.60" fill="url(#gc75)"/><rect x="997.0" y="272.00" width="340.0" height="3.60" fill="url(#gc76)"/><rect x="997.0" y="275.00" width="340.0" height="3.60" fill="url(#gc77)"/><rect x="997.0" y="278.00" width="340.0" height="3.60" fill="url(#gc78)"/><rect x="997.0" y="281.00" width="340.0" height="3.60" fill="url(#gc79)"/><rect x="997.0" y="284.00" width="340.0" height="3.60" fill="url(#gc80)"/><rect x="997.0" y="287.00" width="340.0" height="3.60" fill="url(#gc81)"/><rect x="997.0" y="290.00" width="340.0" height="3.60" fill="url(#gc82)"/><rect x="997.0" y="293.00" width="340.0" height="3.60" fill="url(#gc83)"/><rect x="997.0" y="296.00" width="340.0" height="3.60" fill="url(#gc84)"/><rect x="997.0" y="299.00" width="340.0" height="3.60" fill="url(#gc85)"/><rect x="997.0" y="302.00" width="340.0" height="3.60" fill="url(#gc86)"/><rect x="997.0" y="305.00" width="340.0" height="3.60" fill="url(#gc87)"/><rect x="997.0" y="308.00" width="340.0" height="3.60" fill="url(#gc88)"/><rect x="997.0" y="311.00" width="340.0" height="3.60" fill="url(#gc89)"/><rect x="997.0" y="314.00" width="340.0" height="3.60" fill="url(#gc90)"/><rect x="997.0" y="317.00" width="340.0" height="3.60" fill="url(#gc91)"/><rect x="997.0" y="320.00" width="340.0" height="3.60" fill="url(#gc92)"/><rect x="997.0" y="323.00" width="340.0" height="3.60" fill="url(#gc93)"/><rect x="997.0" y="326.00" width="340.0" height="3.60" fill="url(#gc94)"/><rect x="997.0" y="329.00" width="340.0" height="3.60" fill="url(#gc95)"/><rect x="997.0" y="332.00" width="340.0" height="3.60" fill="url(#gc96)"/><rect x="997.0" y="335.00" width="340.0" height="3.60" fill="url(#gc97)"/><rect x="997.0" y="338.00" width="340.0" height="3.60" fill="url(#gc98)"/><rect x="997.0" y="341.00" width="340.0" height="3.60" fill="url(#gc99)"/><rect x="997.0" y="344.00" width="340.0" height="3.60" fill="url(#gc100)"/><rect x="997.0" y="347.00" width="340.0" height="3.60" fill="url(#gc101)"/><rect x="997.0" y="350.00" width="340.0" height="3.60" fill="url(#gc102)"/><rect x="997.0" y="353.00" width="340.0" height="3.60" fill="url(#gc103)"/><rect x="997.0" y="356.00" width="340.0" height="3.60" fill="url(#gc104)"/><rect x="997.0" y="359.00" width="340.0" height="3.60" fill="url(#gc105)"/><rect x="997.0" y="362.00" width="340.0" height="3.60" fill="url(#gc106)"/><rect x="997.0" y="365.00" width="340.0" height="3.60" fill="url(#gc107)"/><rect x="997.0" y="368.00" width="340.0" height="3.60" fill="url(#gc108)"/><rect x="997.0" y="371.00" width="340.0" height="3.60" fill="url(#gc109)"/><rect x="997.0" y="374.00" width="340.0" height="3.60" fill="url(#gc110)"/><rect x="997.0" y="377.00" width="340.0" height="3.60" fill="url(#gc111)"/><rect x="997.0" y="380.00" width="340.0" height="3.60" fill="url(#gc112)"/><rect x="997.0" y="383.00" width="340.0" height="3.60" fill="url(#gc113)"/><rect x="997.0" y="386.00" width="340.0" height="3.60" fill="url(#gc114)"/><rect x="997.0" y="389.00" width="340.0" height="3.60" fill="url(#gc115)"/><rect x="997.0" y="392.00" width="340.0" height="1.10" fill="url(#gc116)"/>
<path d="M1134.1 327.3l1.3 2.8M1161.2 391.3l0.7 1.5M1126.6 363.8l0.8 1.8M1117.0 391.8l0.9 2.0M1127.2 317.3l0.7 1.6M1144.5 323.5l0.9 1.9M1194.3 374.2l1.3 2.8M1202.5 354.5l1.3 2.8M1168.3 329.3l1.4 3.2M1171.4 286.0l1.1 2.4M1148.2 368.1l1.1 2.5M1163.4 301.4l1.0 2.3M1120.1 365.5l0.7 1.5M1171.8 390.3l1.0 2.1M1157.0 347.1l1.2 2.7M1107.9 386.4l0.9 2.0M1148.0 329.3l0.8 1.9M1164.9 380.0l0.7 1.7M1150.3 314.1l0.6 1.4M1162.9 353.5l0.9 2.1M1156.9 337.8l1.1 2.6M1098.5 350.9l1.1 2.5M1147.4 370.4l1.1 2.4M1199.8 298.6l1.2 2.6M1152.5 331.1l1.3 2.9M1126.6 387.0l1.1 2.4M1135.6 374.6l1.2 2.6M1137.6 369.5l1.2 2.7M1181.9 352.1l0.8 1.7M1154.9 349.7l1.3 3.0M1150.4 362.7l1.4 3.1M1139.1 331.8l1.0 2.2M1129.4 370.6l1.2 2.7M1112.6 381.7l0.8 1.7M1146.3 324.4l0.7 1.5M1196.5 367.2l0.6 1.4M1112.1 373.1l1.1 2.4M1112.3 268.9l1.3 2.9M1163.1 336.5l0.7 1.6M1194.9 340.2l1.3 3.0M1177.3 363.5l0.9 2.1M1182.0 375.5l0.8 1.9M1197.5 329.2l0.9 1.9M1175.8 354.7l1.3 3.0M1175.0 343.4l1.1 2.4M1175.1 309.4l1.3 3.0M1187.9 309.1l0.9 1.9M1133.9 367.9l0.6 1.5M1210.0 369.4l1.0 2.3M1202.0 359.6l0.9 1.9M1154.6 341.3l1.4 3.1M1196.9 354.3l1.2 2.8M1099.4 360.1l1.1 2.4M1167.9 379.6l0.8 1.9M1207.4 361.2l0.9 2.0M1153.0 357.6l0.6 1.4M1183.6 320.9l1.0 2.3M1181.4 325.0l1.1 2.6M1191.0 363.6l1.0 2.2M1121.9 380.7l0.8 1.9M1154.8 374.2l1.0 2.2M1209.7 342.2l0.6 1.4M1129.6 377.3l0.7 1.6M1195.7 364.2l0.6 1.4M1183.5 368.9l1.1 2.4M1215.5 335.5l1.0 2.3M1135.8 387.6l0.9 1.9M1200.3 332.0l1.1 2.5M1162.4 347.9l1.2 2.7M1160.5 328.9l0.8 1.9M1127.3 378.7l1.1 2.4M1163.4 339.7l0.9 2.1M1098.3 385.7l1.1 2.5M1157.5 340.5l1.3 2.8M1155.0 372.2l1.0 2.2M1141.9 391.2l0.7 1.5M1220.3 308.4l0.7 1.5M1195.3 357.6l1.1 2.6M1165.7 366.2l1.0 2.2M1138.1 362.8l1.3 2.9M1195.9 327.0l0.8 1.7M1186.2 314.4l1.0 2.2M1207.6 361.9l0.8 1.7M1149.5 353.8l0.6 1.4M1158.5 353.2l1.1 2.6M1174.0 321.1l1.1 2.6M1145.7 375.9l1.0 2.2M1151.2 357.9l0.7 1.6M1179.7 389.7l0.9 2.0M1190.9 332.2l1.1 2.4M1115.0 286.2l1.4 3.2M1161.8 352.9l1.2 2.8M1105.0 321.4l0.8 1.9M1144.9 390.4l1.2 2.8M1183.3 369.2l1.3 3.0M1158.2 316.8l0.8 1.9M1114.0 379.4l1.3 3.0M1192.1 370.2l1.4 3.1M1153.8 340.6l0.9 2.0M1164.9 364.9l0.8 1.8M1137.7 345.3l0.8 1.9M1173.9 381.2l0.7 1.6M1153.7 351.3l1.2 2.7M1172.5 288.9l0.8 1.7M1144.3 345.4l1.3 2.9M1171.1 385.9l0.6 1.4M1172.5 321.0l0.8 1.8M1131.1 322.4l1.1 2.4M1212.9 332.7l0.9 2.0M1163.1 371.9l0.7 1.5M1159.4 349.1l0.9 2.0M1141.3 375.7l0.7 1.6M1204.5 386.8l0.7 1.5M1131.9 351.7l1.1 2.5M1161.9 298.9l0.6 1.4M1140.1 386.6l1.0 2.2M1155.5 369.7l1.2 2.6M1155.3 308.8l0.8 1.8M1169.9 368.6l0.7 1.7M1224.5 291.0l1.3 3.0M1142.5 335.4l0.9 2.0M1207.0 302.2l1.1 2.5M1174.7 362.0l1.0 2.2M1181.0 298.8l1.3 2.8M1210.2 349.3l0.6 1.4M1172.1 385.7l1.3 2.8M1172.3 373.1l1.2 2.7M1189.3 303.8l1.0 2.3M1142.6 326.9l1.0 2.3M1167.6 348.2l0.7 1.6M1198.9 388.3l0.8 1.7M1174.5 382.6l1.4 3.1M1136.2 379.4l1.1 2.4M1168.2 348.2l1.4 3.2M1146.2 333.0l1.2 2.6M1162.1 362.8l1.3 2.8M1189.0 301.4l1.2 2.8M1193.8 275.0l1.1 2.5M1164.6 374.9l0.7 1.5M1196.1 362.9l0.9 1.9M1163.9 320.6l0.9 2.0M1188.9 325.4l1.0 2.1M1155.1 327.6l1.0 2.3M1232.2 358.8l1.4 3.1M1215.5 371.5l1.2 2.7M1174.3 377.2l1.0 2.3M1161.9 368.6l0.7 1.7M1138.4 366.8l1.0 2.3M1139.4 329.7l1.4 3.1M1167.4 376.9l0.8 1.9M1180.0 369.7l1.3 3.0M1164.1 383.3l0.6 1.4M1212.9 361.9l1.2 2.8M1155.0 385.3l1.3 2.9M1209.3 370.3l0.7 1.5M1226.5 369.9l0.6 1.4M1188.4 384.2l1.0 2.3M1201.4 352.9l0.8 1.7M1212.8 309.2l1.1 2.6M1117.8 327.0l0.6 1.4M1131.1 385.1l1.1 2.6M1204.6 342.9l1.2 2.8M1136.6 362.9l1.3 2.9M1197.2 288.3l0.8 1.9M1123.7 311.7l0.9 2.0M1129.8 357.3l1.2 2.6M1121.0 354.5l0.7 1.6M1150.2 384.9l1.2 2.7M1146.2 375.9l0.9 1.9M1164.7 332.2l1.3 3.0M1148.7 371.8l1.4 3.1M1114.0 322.3l0.9 2.1M1139.0 343.2l1.4 3.1M1186.4 352.6l1.0 2.2M1167.6 351.9l0.7 1.5M1125.6 370.7l1.1 2.4M1202.9 368.6l1.2 2.6M1143.3 390.2l1.4 3.1M1220.1 326.7l0.9 1.9M1135.6 329.1l0.7 1.5M1112.6 388.1l1.2 2.6M1178.4 343.1l1.2 2.7M1185.2 377.2l1.2 2.6M1142.9 355.3l1.2 2.7M1180.5 389.6l0.7 1.6M1184.9 382.3l1.2 2.6M1218.9 385.4l1.3 3.0M1168.4 324.2l0.7 1.7M1204.4 325.8l1.4 3.2M1124.3 379.4l1.3 2.8M1137.3 381.2l0.7 1.6M1192.5 332.2l1.2 2.7M1185.2 368.6l0.9 2.0M1195.8 333.8l1.4 3.1M1138.5 367.2l0.7 1.6M1147.0 302.1l0.8 1.7M1167.0 300.2l1.1 2.6M1175.4 289.1l0.6 1.4M1193.1 380.1l1.2 2.6M1133.9 362.5l0.9 2.0M1159.9 376.1l1.4 3.1M1143.6 307.1l1.0 2.2M1186.4 350.3l1.2 2.8M1113.5 387.0l0.8 1.9M1128.5 382.0l0.9 2.1M1199.0 379.6l1.0 2.2M1198.6 352.3l1.2 2.7M1119.6 363.1l1.4 3.1M1127.0 360.9l1.2 2.6M1148.4 384.1l0.8 1.7M1129.7 384.7l0.8 1.8M1156.9 364.4l1.4 3.2M1194.0 363.0l1.0 2.3M1195.5 339.7l1.4 3.0M1208.0 375.7l0.7 1.6M1206.9 376.9l1.2 2.7M1157.5 378.0l0.9 2.0M1135.7 388.5l0.6 1.5M1136.3 369.8l0.7 1.6M1156.1 339.3l1.2 2.7M1129.4 369.4l1.4 3.1M1217.9 357.9l1.0 2.3M1182.1 367.5l1.0 2.1M1104.1 301.2l1.0 2.2M1161.9 363.3l1.3 2.8M1204.5 385.2l1.4 3.1M1161.4 363.0l1.4 3.2M1131.8 373.3l1.3 3.0M1119.2 348.8l0.7 1.6M1150.6 321.4l0.7 1.6M1164.0 368.2l1.2 2.7M1194.9 315.0l1.2 2.7M1226.3 320.6l0.7 1.5M1120.7 295.2l1.4 3.1M1229.3 362.5l1.2 2.6M1145.0 383.8l1.4 3.2M1117.7 328.9l0.7 1.5M1232.5 365.8l0.6 1.4M1167.4 322.4l0.8 1.9M1160.9 335.8l1.4 3.1M1172.7 330.7l0.7 1.7M1217.3 390.6l0.9 1.9M1193.1 370.5l0.8 1.9M1162.8 300.5l0.8 1.9M1169.7 337.7l0.6 1.4M1125.4 351.1l1.0 2.1M1161.4 384.5l1.4 3.0M1162.6 321.1l1.3 2.9M1193.4 314.9l1.0 2.2M1139.8 310.2l0.9 2.1M1104.4 382.4l1.3 3.0M1168.5 323.3l1.1 2.5M1144.1 341.7l0.8 1.8M1190.2 377.7l0.8 1.8M1161.1 333.2l1.3 3.0M1176.8 333.0l0.9 2.1M1133.9 287.9l0.9 2.1M1140.3 344.6l0.8 1.8M1162.1 369.2l1.0 2.3M1193.1 377.1l1.1 2.5M1194.3 300.5l1.0 2.2M1149.5 332.5l0.8 1.8M1214.7 375.5l1.1 2.6M1161.5 383.6l1.0 2.3M1100.3 323.3l1.4 3.1M1187.6 282.1l1.3 3.0M1218.8 367.5l0.8 1.9M1167.5 344.7l1.1 2.6M1171.5 328.7l1.2 2.6M1199.8 359.3l1.2 2.7M1173.8 385.6l0.8 1.8M1124.6 371.4l1.1 2.4M1225.0 379.2l0.9 2.0M1176.8 381.5l0.8 1.8M1115.1 384.1l0.7 1.5M1150.4 390.7l0.8 1.8M1170.7 389.9l0.6 1.4M1147.1 347.2l1.3 2.9M1161.1 345.2l0.9 2.1M1190.8 369.1l0.6 1.4M1145.2 317.1l0.8 1.8M1160.2 340.4l0.7 1.6M1126.5 334.8l0.7 1.6M1171.4 365.4l1.0 2.3M1167.3 360.3l1.2 2.6M1104.8 313.8l0.8 1.7M1098.6 376.0l1.2 2.7M1131.8 340.5l0.9 2.0M1122.7 352.8l0.9 2.0M1169.4 327.4l1.1 2.4M1198.4 342.2l0.7 1.5M1174.3 390.3l0.9 2.1M1114.0 351.8l1.2 2.6M1139.1 383.2l0.7 1.5M1145.7 369.9l0.6 1.4M1219.7 357.5l0.9 2.1M1183.2 373.1l1.4 3.2M1199.6 295.8l1.0 2.1M1145.5 340.4l1.3 2.8M1233.5 333.6l0.8 1.9" stroke="#ffff00" stroke-opacity="0.11" stroke-width="3.5" stroke-linecap="round" fill="none"/>
<path d="M1126.0 386.6l1.0 2.2M1220.2 343.4l1.1 2.4M1196.8 386.3l0.7 1.5M1166.3 375.6l0.7 1.5M1173.1 362.0l0.8 1.8M1190.4 387.2l0.7 1.7M1103.2 383.8l1.0 2.3M1197.5 355.9l1.2 2.7M1191.3 316.8l0.9 1.9M1182.7 303.5l1.0 2.2M1134.0 378.4l0.8 1.7M1152.0 321.2l1.0 2.3M1135.1 288.1l1.3 2.9M1152.1 357.7l0.9 2.0M1161.2 373.9l1.3 2.9M1184.3 336.4l0.9 2.0M1198.6 303.3l1.2 2.6M1120.3 317.2l1.0 2.2M1156.8 383.2l0.9 1.9M1202.7 327.0l1.3 3.0M1162.9 363.9l1.0 2.3M1176.1 347.7l0.8 1.9M1160.1 329.6l0.9 2.0M1132.3 360.3l1.4 3.2M1170.6 383.1l0.9 2.0M1172.3 348.7l1.1 2.4M1161.2 379.8l1.0 2.1M1168.7 372.5l1.3 3.0M1126.5 312.1l0.8 1.8M1102.8 381.9l1.1 2.5M1156.2 331.6l1.1 2.6M1129.5 386.0l0.7 1.7M1198.7 375.5l0.8 1.8M1169.2 382.7l0.8 1.9M1211.8 377.1l0.6 1.4M1185.4 351.3l0.7 1.5M1115.3 361.1l1.4 3.0M1137.9 298.4l1.0 2.2M1193.7 329.5l1.3 2.8M1196.8 375.8l0.9 2.0M1206.1 317.1l0.9 2.0M1180.7 284.5l0.7 1.5M1176.4 351.4l1.3 3.0M1197.3 379.5l1.0 2.3M1115.3 350.2l0.6 1.4M1194.8 375.3l0.7 1.5M1197.6 390.5l1.0 2.1M1159.2 323.5l0.7 1.5M1162.2 376.2l1.2 2.8M1173.8 331.9l1.1 2.5M1157.9 362.6l1.2 2.6M1132.8 321.2l1.2 2.6M1205.8 382.8l0.7 1.6M1210.5 362.5l1.0 2.2M1174.2 368.3l1.1 2.4M1211.6 339.8l1.0 2.2M1162.5 386.9l0.9 2.0M1115.6 347.9l1.3 2.9M1196.8 390.2l1.0 2.2M1205.1 364.7l1.0 2.3M1125.3 373.6l1.2 2.7M1160.8 386.6l1.3 2.8M1173.9 318.5l1.2 2.8M1197.0 329.4l1.4 3.1M1197.4 324.5l1.1 2.4M1210.3 334.6l1.0 2.3M1200.6 350.3l0.9 2.0M1131.6 366.5l1.4 3.1M1185.6 355.6l0.7 1.6M1122.3 321.9l0.9 2.1M1181.7 346.6l1.4 3.1M1156.5 390.8l0.8 1.9M1151.8 390.5l1.1 2.5M1177.3 341.2l0.8 1.7M1184.3 384.6l0.7 1.5M1161.3 378.2l0.7 1.5M1185.8 316.0l0.7 1.5M1173.2 351.1l1.0 2.3M1126.3 334.7l1.1 2.6M1117.5 363.7l0.9 2.0M1175.6 320.6l1.1 2.5M1173.0 387.3l1.0 2.2M1201.6 303.7l1.0 2.2M1229.8 359.9l0.6 1.4M1111.4 342.1l0.8 1.8M1172.0 341.1l1.2 2.6M1155.6 386.0l1.0 2.2M1181.3 362.1l0.8 1.7M1114.7 348.7l1.0 2.3M1205.5 391.9l1.0 2.2M1200.8 355.6l0.6 1.4M1165.3 379.3l1.0 2.3M1143.2 351.5l1.3 2.9M1183.3 390.3l0.8 1.7M1114.9 390.7l0.9 2.1M1211.2 385.9l1.1 2.4M1169.4 328.7l0.7 1.7M1146.4 366.7l0.7 1.7M1119.6 345.4l0.7 1.5M1195.3 338.6l0.8 1.8M1174.5 385.5l0.6 1.4M1117.0 314.3l0.7 1.5M1102.5 384.4l0.7 1.5M1130.1 321.3l1.2 2.8M1193.6 355.3l1.0 2.2M1152.3 349.5l1.2 2.7M1147.1 328.5l0.7 1.5M1200.0 359.3l1.3 3.0M1210.4 365.9l0.9 2.1M1179.5 391.4l1.0 2.2M1166.3 381.8l0.6 1.4M1211.0 368.8l1.3 3.0M1210.8 357.9l0.9 2.0M1119.9 347.4l1.1 2.6M1173.0 309.3l1.3 2.9M1180.8 365.0l1.2 2.6M1192.6 312.5l0.6 1.5M1230.4 319.9l1.4 3.0M1174.6 372.4l1.1 2.6M1197.7 358.6l1.1 2.4M1179.0 307.9l1.2 2.8M1158.2 347.1l1.0 2.3M1114.1 376.3l0.7 1.5M1207.6 372.5l1.4 3.2M1156.4 375.5l0.9 1.9M1123.3 387.7l1.3 2.9M1200.2 386.3l0.7 1.7M1174.7 385.9l1.3 2.9M1204.5 331.2l1.1 2.4M1113.1 312.8l0.7 1.6M1151.2 323.3l1.4 3.1M1170.8 320.0l0.9 2.1M1138.3 379.6l1.4 3.1M1165.8 361.8l0.8 1.8M1213.5 373.9l1.4 3.2M1175.9 311.4l1.3 2.9M1110.3 324.5l1.4 3.1M1104.1 368.1l0.7 1.6M1213.8 385.0l1.1 2.5M1118.8 372.4l1.3 3.0M1193.1 305.3l0.9 1.9M1131.9 375.3l0.7 1.6M1209.7 352.3l0.7 1.5M1194.7 388.7l0.9 2.0M1140.4 365.0l1.2 2.7M1185.2 386.4l1.2 2.6M1216.5 386.0l1.4 3.1M1166.6 387.6l1.3 3.0M1146.3 349.8l1.2 2.8M1188.9 346.5l0.9 1.9M1188.3 358.6l0.9 2.0M1111.1 309.5l1.0 2.3M1202.8 342.5l0.8 1.8M1140.2 370.7l0.6 1.4M1220.3 333.3l1.0 2.2M1170.2 344.8l1.0 2.3M1183.2 357.8l0.8 1.8M1231.0 391.9l1.0 2.2M1161.1 307.9l0.7 1.7M1201.7 341.2l0.9 2.0M1195.3 326.8l1.0 2.2M1196.6 276.7l1.1 2.4M1135.0 355.6l1.1 2.4M1232.6 377.4l0.7 1.7M1197.2 372.0l0.7 1.7M1111.2 378.3l1.0 2.2M1147.5 373.8l0.7 1.6M1183.5 340.5l0.7 1.6M1193.5 384.2l1.0 2.2M1174.2 374.7l1.4 3.1M1183.4 341.9l1.0 2.2M1183.5 385.5l1.1 2.5M1214.7 327.1l1.3 2.8M1201.1 327.6l0.9 2.0M1152.6 332.2l0.9 2.0M1222.6 344.9l0.9 2.1M1163.2 365.0l0.7 1.5M1113.5 383.4l0.7 1.5M1170.7 357.4l1.1 2.6M1139.3 287.9l0.9 2.0M1194.1 361.9l1.3 3.0M1189.4 311.0l0.9 2.1M1214.9 353.2l0.8 1.9M1184.7 359.1l1.2 2.8M1203.2 360.1l1.1 2.4M1138.2 342.2l0.6 1.4M1218.1 342.4l0.8 1.8M1202.0 335.3l1.0 2.3M1149.6 344.4l0.9 2.0M1155.5 370.4l1.1 2.5M1133.3 372.0l1.1 2.5M1186.2 387.3l1.1 2.4M1189.7 387.3l1.0 2.2M1121.7 360.8l0.8 1.7M1195.8 316.9l1.4 3.0M1160.7 351.3l1.1 2.4M1151.3 364.2l0.9 2.1M1175.6 274.3l0.6 1.4M1185.8 345.4l0.7 1.5M1165.2 387.5l0.9 2.0M1160.1 336.7l1.3 3.0M1194.5 363.0l0.8 1.8M1196.0 388.6l1.2 2.7M1107.4 362.7l1.3 3.0M1184.0 337.1l1.2 2.6M1156.8 316.1l0.8 1.7M1186.0 350.3l0.8 1.8M1103.6 375.2l1.3 3.0M1173.5 374.0l0.8 1.8M1162.4 278.4l1.0 2.2M1153.4 308.2l0.9 2.0M1187.2 390.4l1.4 3.2M1189.6 338.0l1.3 3.0M1204.1 367.9l1.2 2.8M1161.5 368.0l0.9 2.0M1158.3 365.4l0.9 1.9M1221.6 380.5l1.4 3.1M1177.9 323.9l1.0 2.2M1127.4 361.9l0.9 2.0M1211.7 319.7l1.1 2.6M1130.7 333.1l0.8 1.8M1191.9 272.1l1.0 2.3M1130.7 372.6l0.8 1.9M1145.3 377.7l1.0 2.1M1161.2 331.3l1.1 2.5M1123.9 346.1l1.2 2.7M1181.2 356.4l1.3 2.9M1199.9 385.5l0.8 1.9M1151.2 344.3l1.1 2.5M1163.5 345.4l1.1 2.4M1168.3 358.3l1.1 2.4M1210.6 385.5l1.3 3.0M1137.7 387.9l0.7 1.5M1108.9 386.4l1.0 2.2M1145.8 372.9l0.7 1.6M1189.9 375.7l0.7 1.5M1147.0 371.3l0.8 1.7M1185.8 387.8l0.8 1.7M1144.0 371.0l1.2 2.7M1145.3 384.8l0.8 1.8M1210.8 391.3l1.3 3.0M1206.5 388.6l0.8 1.8M1152.5 304.8l0.8 1.7M1190.8 390.4l1.2 2.8M1198.6 391.1l1.4 3.2M1128.5 385.2l1.3 2.9M1207.5 370.4l1.2 2.6M1147.5 367.4l0.6 1.5M1203.4 362.3l1.4 3.2M1212.8 387.6l0.7 1.5M1187.8 371.9l1.1 2.5M1224.9 368.0l0.7 1.7M1168.4 347.8l1.3 2.8M1224.2 349.5l0.7 1.6M1151.7 371.5l1.2 2.6M1099.6 366.9l0.8 1.9M1144.3 334.7l1.0 2.2M1185.8 362.1l1.0 2.3M1163.4 351.7l0.7 1.6M1172.9 385.3l1.0 2.2M1194.4 324.2l0.8 1.8M1138.8 304.8l1.3 2.9M1193.2 386.1l0.8 1.8M1204.1 345.7l1.1 2.5M1166.5 328.4l1.3 3.0M1168.7 373.4l1.4 3.1M1212.7 383.2l1.0 2.3M1183.0 355.3l0.8 1.8M1125.7 367.4l1.2 2.6M1201.8 387.4l1.0 2.3M1172.9 370.9l1.0 2.2M1138.2 340.6l0.8 1.8M1161.8 370.1l1.4 3.1M1153.1 300.3l1.2 2.6M1137.2 355.4l0.6 1.4M1152.5 333.1l0.8 1.8M1186.6 372.3l1.3 2.9M1222.3 375.6l1.4 3.1M1173.8 309.9l0.7 1.6M1170.1 304.9l1.1 2.5M1174.3 354.4l1.3 3.0M1206.7 385.5l1.0 2.2M1139.0 312.7l0.7 1.6M1182.6 349.5l0.6 1.4M1134.8 371.5l1.4 3.2M1165.6 339.0l1.0 2.3M1144.0 276.7l0.6 1.4M1161.9 379.9l0.9 2.0M1172.4 341.6l1.4 3.1M1193.9 352.3l1.2 2.7M1184.7 376.4l1.3 3.0M1121.7 364.2l1.4 3.0M1117.8 364.8l0.8 1.7M1169.7 351.3l1.2 2.8M1224.2 333.8l0.9 2.1M1120.2 344.1l0.9 1.9M1201.1 374.7l1.4 3.1M1186.5 348.3l0.6 1.4M1194.9 349.7l1.4 3.2M1115.7 385.3l0.8 1.7" stroke="#ff0000" stroke-opacity="0.09" stroke-width="3.5" stroke-linecap="round" fill="none"/>
</g>
<g clip-path="url(#cpf)"><rect x="997.0" y="470.50" width="340.0" height="3.60" fill="url(#gf0)"/><rect x="997.0" y="473.50" width="340.0" height="3.60" fill="url(#gf1)"/><rect x="997.0" y="476.50" width="340.0" height="3.60" fill="url(#gf2)"/><rect x="997.0" y="479.50" width="340.0" height="3.60" fill="url(#gf3)"/><rect x="997.0" y="482.50" width="340.0" height="3.60" fill="url(#gf4)"/><rect x="997.0" y="485.50" width="340.0" height="3.60" fill="url(#gf5)"/><rect x="997.0" y="488.50" width="340.0" height="3.60" fill="url(#gf6)"/><rect x="997.0" y="491.50" width="340.0" height="3.60" fill="url(#gf7)"/><rect x="997.0" y="494.50" width="340.0" height="3.60" fill="url(#gf8)"/><rect x="997.0" y="497.50" width="340.0" height="3.60" fill="url(#gf9)"/><rect x="997.0" y="500.50" width="340.0" height="3.60" fill="url(#gf10)"/><rect x="997.0" y="503.50" width="340.0" height="3.60" fill="url(#gf11)"/><rect x="997.0" y="506.50" width="340.0" height="3.60" fill="url(#gf12)"/><rect x="997.0" y="509.50" width="340.0" height="3.60" fill="url(#gf13)"/><rect x="997.0" y="512.50" width="340.0" height="3.60" fill="url(#gf14)"/><rect x="997.0" y="515.50" width="340.0" height="3.60" fill="url(#gf15)"/><rect x="997.0" y="518.50" width="340.0" height="3.60" fill="url(#gf16)"/><rect x="997.0" y="521.50" width="340.0" height="3.60" fill="url(#gf17)"/><rect x="997.0" y="524.50" width="340.0" height="3.60" fill="url(#gf18)"/><rect x="997.0" y="527.50" width="340.0" height="3.60" fill="url(#gf19)"/><rect x="997.0" y="530.50" width="340.0" height="3.60" fill="url(#gf20)"/><rect x="997.0" y="533.50" width="340.0" height="3.60" fill="url(#gf21)"/><rect x="997.0" y="536.50" width="340.0" height="3.60" fill="url(#gf22)"/><rect x="997.0" y="539.50" width="340.0" height="3.60" fill="url(#gf23)"/><rect x="997.0" y="542.50" width="340.0" height="3.60" fill="url(#gf24)"/><rect x="997.0" y="545.50" width="340.0" height="3.60" fill="url(#gf25)"/><rect x="997.0" y="548.50" width="340.0" height="3.60" fill="url(#gf26)"/><rect x="997.0" y="551.50" width="340.0" height="3.60" fill="url(#gf27)"/><rect x="997.0" y="554.50" width="340.0" height="3.60" fill="url(#gf28)"/><rect x="997.0" y="557.50" width="340.0" height="3.60" fill="url(#gf29)"/><rect x="997.0" y="560.50" width="340.0" height="3.60" fill="url(#gf30)"/><rect x="997.0" y="563.50" width="340.0" height="3.60" fill="url(#gf31)"/><rect x="997.0" y="566.50" width="340.0" height="3.60" fill="url(#gf32)"/><rect x="997.0" y="569.50" width="340.0" height="3.60" fill="url(#gf33)"/><rect x="997.0" y="572.50" width="340.0" height="3.60" fill="url(#gf34)"/><rect x="997.0" y="575.50" width="340.0" height="3.60" fill="url(#gf35)"/><rect x="997.0" y="578.50" width="340.0" height="3.60" fill="url(#gf36)"/><rect x="997.0" y="581.50" width="340.0" height="3.60" fill="url(#gf37)"/><rect x="997.0" y="584.50" width="340.0" height="3.60" fill="url(#gf38)"/><rect x="997.0" y="587.50" width="340.0" height="3.60" fill="url(#gf39)"/><rect x="997.0" y="590.50" width="340.0" height="3.60" fill="url(#gf40)"/><rect x="997.0" y="593.50" width="340.0" height="3.60" fill="url(#gf41)"/><rect x="997.0" y="596.50" width="340.0" height="3.60" fill="url(#gf42)"/><rect x="997.0" y="599.50" width="340.0" height="3.60" fill="url(#gf43)"/><rect x="997.0" y="602.50" width="340.0" height="3.60" fill="url(#gf44)"/><rect x="997.0" y="605.50" width="340.0" height="3.60" fill="url(#gf45)"/><rect x="997.0" y="608.50" width="340.0" height="3.60" fill="url(#gf46)"/><rect x="997.0" y="611.50" width="340.0" height="3.60" fill="url(#gf47)"/><rect x="997.0" y="614.50" width="340.0" height="3.60" fill="url(#gf48)"/><rect x="997.0" y="617.50" width="340.0" height="3.60" fill="url(#gf49)"/><rect x="997.0" y="620.50" width="340.0" height="3.60" fill="url(#gf50)"/><rect x="997.0" y="623.50" width="340.0" height="3.60" fill="url(#gf51)"/><rect x="997.0" y="626.50" width="340.0" height="3.60" fill="url(#gf52)"/><rect x="997.0" y="629.50" width="340.0" height="3.60" fill="url(#gf53)"/><rect x="997.0" y="632.50" width="340.0" height="3.60" fill="url(#gf54)"/><rect x="997.0" y="635.50" width="340.0" height="3.60" fill="url(#gf55)"/><rect x="997.0" y="638.50" width="340.0" height="3.60" fill="url(#gf56)"/><rect x="997.0" y="641.50" width="340.0" height="3.60" fill="url(#gf57)"/><rect x="997.0" y="644.50" width="340.0" height="3.60" fill="url(#gf58)"/><rect x="997.0" y="647.50" width="340.0" height="3.60" fill="url(#gf59)"/><rect x="997.0" y="650.50" width="340.0" height="3.60" fill="url(#gf60)"/><rect x="997.0" y="653.50" width="340.0" height="3.60" fill="url(#gf61)"/><rect x="997.0" y="656.50" width="340.0" height="3.60" fill="url(#gf62)"/><rect x="997.0" y="659.50" width="340.0" height="3.60" fill="url(#gf63)"/><rect x="997.0" y="662.50" width="340.0" height="3.60" fill="url(#gf64)"/><rect x="997.0" y="665.50" width="340.0" height="3.60" fill="url(#gf65)"/><rect x="997.0" y="668.50" width="340.0" height="3.60" fill="url(#gf66)"/><rect x="997.0" y="671.50" width="340.0" height="3.60" fill="url(#gf67)"/><rect x="997.0" y="674.50" width="340.0" height="3.60" fill="url(#gf68)"/><rect x="997.0" y="677.50" width="340.0" height="3.60" fill="url(#gf69)"/><rect x="997.0" y="680.50" width="340.0" height="3.60" fill="url(#gf70)"/><rect x="997.0" y="683.50" width="340.0" height="3.60" fill="url(#gf71)"/><rect x="997.0" y="686.50" width="340.0" height="3.60" fill="url(#gf72)"/><rect x="997.0" y="689.50" width="340.0" height="3.60" fill="url(#gf73)"/><rect x="997.0" y="692.50" width="340.0" height="3.60" fill="url(#gf74)"/><rect x="997.0" y="695.50" width="340.0" height="3.60" fill="url(#gf75)"/><rect x="997.0" y="698.50" width="340.0" height="3.60" fill="url(#gf76)"/><rect x="997.0" y="701.50" width="340.0" height="3.60" fill="url(#gf77)"/><rect x="997.0" y="704.50" width="340.0" height="3.60" fill="url(#gf78)"/><rect x="997.0" y="707.50" width="340.0" height="3.60" fill="url(#gf79)"/><rect x="997.0" y="710.50" width="340.0" height="3.60" fill="url(#gf80)"/><rect x="997.0" y="713.50" width="340.0" height="3.60" fill="url(#gf81)"/><rect x="997.0" y="716.50" width="340.0" height="3.60" fill="url(#gf82)"/><rect x="997.0" y="719.50" width="340.0" height="3.60" fill="url(#gf83)"/><rect x="997.0" y="722.50" width="340.0" height="3.60" fill="url(#gf84)"/><rect x="997.0" y="725.50" width="340.0" height="3.60" fill="url(#gf85)"/><rect x="997.0" y="728.50" width="340.0" height="3.60" fill="url(#gf86)"/><rect x="997.0" y="731.50" width="340.0" height="3.60" fill="url(#gf87)"/><rect x="997.0" y="734.50" width="340.0" height="3.60" fill="url(#gf88)"/><rect x="997.0" y="737.50" width="340.0" height="3.60" fill="url(#gf89)"/><rect x="997.0" y="740.50" width="340.0" height="3.60" fill="url(#gf90)"/><rect x="997.0" y="743.50" width="340.0" height="3.60" fill="url(#gf91)"/><rect x="997.0" y="746.50" width="340.0" height="3.60" fill="url(#gf92)"/><rect x="997.0" y="749.50" width="340.0" height="3.60" fill="url(#gf93)"/><rect x="997.0" y="752.50" width="340.0" height="3.60" fill="url(#gf94)"/><rect x="997.0" y="755.50" width="340.0" height="3.60" fill="url(#gf95)"/><rect x="997.0" y="758.50" width="340.0" height="3.60" fill="url(#gf96)"/><rect x="997.0" y="761.50" width="340.0" height="3.60" fill="url(#gf97)"/><rect x="997.0" y="764.50" width="340.0" height="3.60" fill="url(#gf98)"/><rect x="997.0" y="767.50" width="340.0" height="3.60" fill="url(#gf99)"/><rect x="997.0" y="770.50" width="340.0" height="3.60" fill="url(#gf100)"/><rect x="997.0" y="773.50" width="340.0" height="3.60" fill="url(#gf101)"/><rect x="997.0" y="776.50" width="340.0" height="3.60" fill="url(#gf102)"/><rect x="997.0" y="779.50" width="340.0" height="3.60" fill="url(#gf103)"/><rect x="997.0" y="782.50" width="340.0" height="3.60" fill="url(#gf104)"/><rect x="997.0" y="785.50" width="340.0" height="3.60" fill="url(#gf105)"/><rect x="997.0" y="788.50" width="340.0" height="3.60" fill="url(#gf106)"/><rect x="997.0" y="791.50" width="340.0" height="3.60" fill="url(#gf107)"/><rect x="997.0" y="794.50" width="340.0" height="3.60" fill="url(#gf108)"/><rect x="997.0" y="797.50" width="340.0" height="3.60" fill="url(#gf109)"/><rect x="997.0" y="800.50" width="340.0" height="3.60" fill="url(#gf110)"/><rect x="997.0" y="803.50" width="340.0" height="3.60" fill="url(#gf111)"/><rect x="997.0" y="806.50" width="340.0" height="3.60" fill="url(#gf112)"/><rect x="997.0" y="809.50" width="340.0" height="3.60" fill="url(#gf113)"/><rect x="997.0" y="812.50" width="340.0" height="3.60" fill="url(#gf114)"/><rect x="997.0" y="815.50" width="340.0" height="3.60" fill="url(#gf115)"/><rect x="997.0" y="818.50" width="340.0" height="1.10" fill="url(#gf116)"/>
<path d="M1025.5 569.7l1.6 3.3M1056.9 821.3l1.5 3.0M1021.4 792.7l0.7 1.4M1061.4 619.9l1.5 3.2M1109.0 735.8l1.4 2.9M1073.2 744.0l0.8 1.7M1084.8 771.0l0.8 1.7M999.3 711.2l1.7 3.4M1032.2 702.9l0.8 1.6M1126.3 748.9l1.5 3.1M1038.7 640.3l1.3 2.7M1041.6 485.7l1.6 3.3M1129.6 670.3l1.5 3.1M1100.3 608.2l1.5 3.0M1044.4 776.4l1.1 2.3M1112.5 769.9l0.8 1.7M1082.1 565.5l0.8 1.7M1053.6 700.1l1.5 3.2M1111.9 801.2l1.3 2.7M1013.5 659.9l0.9 1.8M1018.5 785.6l0.9 1.8M1035.0 750.8l1.1 2.2M1010.8 679.3l1.4 2.9M1039.9 528.4l1.1 2.2M1025.5 796.1l1.3 2.7M1082.0 646.9l1.2 2.5M1080.6 670.8l0.7 1.5M1109.8 612.0l0.8 1.6M995.5 715.3l1.3 2.7M1094.2 539.2l1.4 3.0M1069.5 756.3l1.3 2.6M1081.0 817.3l1.7 3.5M1010.8 804.6l1.3 2.6M1095.2 546.3l0.7 1.4M1107.6 742.0l1.0 2.0M1052.3 573.2l0.9 1.8M1119.0 815.2l1.7 3.5M1001.2 622.5l1.5 3.0M1050.5 816.9l1.7 3.6M997.6 728.6l1.4 2.8M1087.5 656.4l1.1 2.3M1038.4 659.7l1.2 2.5M1067.6 792.2l1.4 3.0M1132.6 715.5l1.0 2.1M1070.8 763.4l1.4 2.8M1028.9 717.3l0.8 1.6M1041.6 571.8l1.2 2.4M1001.6 751.5l1.1 2.3M1127.9 797.7l0.8 1.6M1005.3 769.3l1.5 3.0M1053.2 759.8l0.7 1.5M1142.4 770.5l1.7 3.4M1008.6 640.3l1.6 3.2M1003.0 543.3l1.7 3.5M1041.3 719.5l1.1 2.2M1154.3 751.7l0.8 1.6M1124.9 567.8l1.1 2.2M1142.8 707.7l0.9 1.9M1147.8 710.6l1.1 2.2M1126.7 766.1l1.1 2.3M1148.0 680.2l1.5 3.1M1023.5 614.6l0.9 1.8M1075.0 741.1l0.7 1.4M1110.6 664.2l1.3 2.7M1012.6 776.3l0.7 1.4M1111.6 607.1l1.0 2.0M1088.2 718.8l1.5 3.0M1141.5 591.9l0.8 1.7M1119.2 786.1l0.8 1.7M1050.3 769.0l1.5 3.0M1146.6 794.4l1.7 3.5M1054.9 569.4l1.7 3.4M1140.8 697.1l1.5 3.2M1116.0 700.8l1.2 2.4M1136.2 713.0l1.7 3.5M1060.0 643.6l0.8 1.6M1038.0 727.8l1.4 2.8M1104.6 693.4l0.7 1.5M1005.9 648.3l1.6 3.3M1036.7 703.2l1.4 2.8M1130.8 714.8l1.6 3.3M1136.3 584.3l1.0 2.0M1093.2 744.0l0.8 1.7M1121.6 797.3l1.2 2.5M1083.5 606.1l1.1 2.3M1145.1 675.0l1.0 2.0M1013.2 809.3l1.1 2.3M1113.2 641.8l1.2 2.4M1037.1 748.0l1.7 3.5M1094.8 779.0l1.1 2.2M1155.9 802.8l1.0 2.0M1022.9 816.6l0.8 1.7M1109.9 717.2l1.2 2.5M1077.7 633.0l0.8 1.6M1048.0 616.4l0.7 1.5M1104.2 655.6l1.2 2.5M1039.7 624.2l1.0 2.1M1011.5 715.1l1.3 2.7M1002.1 808.9l1.7 3.5M1131.2 575.2l1.2 2.4M1109.9 798.3l1.7 3.5M1035.9 807.6l0.8 1.7M1148.6 716.1l0.8 1.6M1098.0 649.4l1.1 2.3M1032.0 753.6l0.7 1.4M1056.4 486.4l1.0 2.0M1160.7 751.5l0.7 1.4M1138.0 768.1l1.4 2.8M1028.3 664.7l1.0 2.0M1072.6 807.5l1.7 3.6M1063.6 723.6l0.7 1.5M1033.1 750.4l1.3 2.7M1086.1 714.9l1.1 2.3M998.6 759.6l1.0 2.1M1120.2 654.8l1.1 2.3M1074.6 509.8l1.2 2.5M1024.9 622.5l1.0 2.0M1136.8 676.7l1.1 2.3M1009.1 579.6l0.7 1.4M1161.3 778.1l1.7 3.5M1148.7 641.8l1.1 2.3M1036.5 492.2l1.7 3.4M1095.9 708.1l0.7 1.4M1001.4 514.2l0.9 1.9M1079.6 581.0l1.4 3.0M1025.9 775.8l1.0 2.1M1152.5 719.9l1.1 2.3M1062.6 562.1l1.5 3.0M1124.9 801.8l1.3 2.6M1052.4 691.9l1.6 3.2M1001.1 812.0l1.3 2.6M997.1 672.2l1.4 2.9M1044.6 672.2l0.7 1.5M1074.3 641.9l0.8 1.7M1124.0 693.8l1.1 2.3M1156.6 794.5l0.9 1.9M1010.3 799.2l1.5 3.1M1077.5 511.0l1.5 3.1M1121.1 696.1l1.7 3.6M1130.4 617.0l1.1 2.2M1040.4 617.1l1.3 2.6M1148.3 647.7l1.6 3.2M1034.0 566.1l1.2 2.5M1078.0 751.0l0.7 1.5M1075.8 794.4l0.7 1.5M1098.8 630.5l0.9 1.9M1013.6 781.0l1.7 3.4M1083.7 468.0l1.5 3.0M1098.7 733.8l1.3 2.7M1049.2 641.6l0.8 1.5M1037.3 646.6l0.8 1.7M1084.7 691.0l0.7 1.5M1029.2 618.1l0.7 1.5M1121.0 658.7l1.4 2.9M1138.2 602.5l0.8 1.7M1127.4 772.6l1.3 2.8M1129.6 720.8l1.7 3.6M1104.3 676.5l0.8 1.7M1011.4 791.6l1.0 2.0M1150.3 802.3l1.4 3.0M1067.3 810.2l1.1 2.3M1108.6 659.7l1.6 3.2M1043.8 603.8l1.0 2.0M1022.8 746.9l1.6 3.2M1137.2 753.0l1.7 3.5M1029.4 691.9l0.7 1.5M1149.1 748.1l1.4 2.9M1139.7 618.1l1.3 2.6M1016.4 499.8l1.3 2.7M1062.7 780.7l1.2 2.5M1030.6 784.8l1.0 2.0M1042.8 790.5l1.5 3.0M1160.2 735.5l1.3 2.6M1015.5 725.5l1.5 3.0M1014.1 500.6l1.7 3.4M1000.5 736.6l1.6 3.4M1012.1 612.5l1.3 2.7M1117.2 816.3l1.1 2.3M1144.6 760.1l0.8 1.7M1058.8 681.4l1.0 2.0M1091.9 800.7l1.6 3.2M1053.6 710.2l0.7 1.5M1112.4 506.1l1.7 3.4M1101.7 562.2l1.4 2.9M1099.9 710.1l1.5 3.0M1127.2 784.1l1.3 2.7M1004.9 612.2l0.8 1.5M1023.9 717.6l0.9 1.8M1135.6 750.7l1.2 2.5M1116.8 751.6l1.1 2.2M1024.5 515.8l1.6 3.4M1089.0 816.0l1.0 2.0M996.1 627.0l1.6 3.3M1010.0 561.8l0.7 1.5M1105.5 778.7l1.1 2.3M1065.8 765.5l0.8 1.7M1122.4 719.6l0.9 1.9M1148.2 772.4l1.1 2.2M1045.5 608.9l1.1 2.2M1115.7 754.3l1.3 2.6M1152.5 693.1l1.3 2.8M1097.1 713.7l1.4 2.8M1070.6 728.4l1.7 3.4M1150.0 628.8l1.1 2.3M1159.7 723.4l1.2 2.5M1004.2 715.3l1.0 2.1M1062.3 775.4l1.2 2.5M1051.3 752.6l1.5 3.1M1008.3 721.2l1.6 3.4M1004.9 774.1l1.6 3.2M1000.9 785.4l1.2 2.4M1030.1 537.0l1.4 2.8M1130.8 739.5l1.2 2.6M1029.7 501.2l1.2 2.5M1066.7 501.9l0.9 1.8M1045.6 637.3l1.7 3.6M1030.0 660.9l1.4 2.8M1095.1 674.8l1.2 2.4M1037.3 692.6l0.7 1.4M1086.4 662.0l1.7 3.5M1017.1 705.0l1.7 3.5M1030.4 714.4l1.5 3.1M1045.7 718.4l1.4 2.8M1131.8 752.8l1.0 2.1M1006.5 472.8l1.2 2.4M1090.1 705.3l1.0 2.0M1028.6 791.1l0.8 1.7M1063.3 520.6l1.3 2.6M1111.3 669.6l1.5 3.0M995.9 610.2l1.2 2.4M1082.2 767.6l1.5 3.2M1096.6 610.9l1.7 3.5M1125.7 600.4l1.2 2.5M1145.0 790.9l1.4 2.9M1094.9 666.3l1.5 3.1M1008.9 648.9l1.7 3.5M1017.7 603.3l0.7 1.5M1112.8 695.3l1.3 2.7M1001.1 616.4l1.3 2.6M996.5 809.7l0.8 1.6M1029.8 612.7l1.6 3.3M1116.4 721.9l1.3 2.7M1118.2 668.3l1.2 2.4M1023.9 611.8l1.4 2.9M1043.0 733.8l1.1 2.2M1083.2 783.5l0.8 1.7M1021.7 762.1l0.7 1.5M1080.2 708.7l1.4 2.8M1143.3 716.2l0.9 1.9M1060.6 778.3l1.5 3.0M1105.1 579.0l1.3 2.6M1118.3 774.9l0.8 1.7M1087.6 754.6l1.1 2.4M1087.1 609.6l0.8 1.7M1092.7 661.6l1.3 2.7M1065.3 747.1l1.0 2.0M1048.0 646.1l1.1 2.2M1111.4 778.1l0.8 1.7M1118.9 769.7l1.6 3.3M1113.9 684.2l0.9 1.8M1095.0 804.5l1.7 3.6M1101.6 696.3l0.9 1.9M1011.4 659.5l1.1 2.3M1104.8 737.8l1.0 2.0M1073.7 667.6l0.7 1.4M1068.9 704.1l1.3 2.6M1077.8 537.0l1.5 3.0M997.6 759.1l1.6 3.2M1153.8 668.3l1.2 2.4M1101.5 717.1l0.9 1.9M1081.1 700.3l1.0 2.1M1073.3 477.8l1.0 2.1M1065.9 573.8l1.6 3.3M1007.1 619.8l1.2 2.4M1144.8 638.7l1.7 3.5M1039.5 496.4l0.8 1.6M1071.1 706.9l1.3 2.7M1103.4 795.7l1.6 3.3M1126.6 559.6l1.4 3.0M1032.2 763.8l1.1 2.3M1155.8 685.5l0.8 1.6M1052.3 783.1l1.2 2.5M1075.9 651.5l1.7 3.4M1135.2 784.2l0.9 1.8M1071.6 529.9l1.2 2.4M1065.6 671.9l1.6 3.4M1018.4 802.0l1.0 2.0M1104.2 622.3l1.4 2.9M1128.4 777.3l1.5 3.2M1069.1 720.0l0.9 1.9M1145.1 731.6l0.8 1.6M1024.1 731.7l1.6 3.3M1081.6 646.5l1.1 2.2M1032.0 685.6l1.1 2.3M1109.3 756.3l0.8 1.7M1037.4 571.6l1.1 2.3M1072.7 687.9l0.8 1.7M1076.8 621.3l1.0 2.1M1078.2 820.1l1.6 3.2M1016.3 731.1l1.2 2.5M1059.9 727.8l1.6 3.3M1047.7 507.5l1.2 2.4M1065.3 729.7l1.0 2.0M1023.2 661.6l1.7 3.4M1087.7 733.2l1.4 2.9M1143.7 727.4l0.8 1.7M1078.4 547.4l1.7 3.4M1023.4 565.5l1.1 2.2M1086.8 786.5l1.4 2.9M1116.8 707.1l1.6 3.3M1107.7 821.8l0.8 1.6M1091.7 613.6l0.9 1.9M1070.9 769.7l1.3 2.6M1136.9 606.3l1.5 3.0M1032.3 593.4l1.3 2.6M1053.7 733.5l1.7 3.6M1086.4 544.5l1.1 2.2M1116.4 642.6l1.2 2.4M1139.1 791.2l1.3 2.7M1113.9 752.9l1.6 3.3M1057.4 736.2l1.3 2.7M1153.9 787.4l1.0 2.1M1015.6 772.6l1.7 3.5M1138.5 732.3l0.7 1.4M1067.4 755.2l1.1 2.2M1006.9 481.3l1.0 2.0M1161.1 796.3l0.9 1.8M1075.4 477.8l0.8 1.6M1099.6 663.5l0.7 1.4M1080.6 638.8l1.7 3.4M1145.0 677.8l1.5 3.0M1094.7 775.0l0.9 1.9M1031.6 715.8l1.7 3.4M1018.7 792.9l1.4 2.8M1062.6 701.2l1.3 2.6M1024.8 788.8l1.3 2.7M1109.4 737.8l1.8 3.6M1153.0 811.5l1.3 2.6M1027.6 800.1l1.5 3.0M1129.0 814.1l0.8 1.6M1155.9 721.5l1.0 2.0M1120.2 739.0l1.3 2.7M1036.4 568.7l1.4 2.9M1054.2 769.4l1.5 3.2M1106.4 772.2l1.6 3.4M1092.9 624.6l0.9 1.9M1031.1 709.0l0.7 1.5M1118.6 819.0l1.7 3.5M1036.3 768.9l0.7 1.4M1125.0 753.4l0.7 1.4M1047.5 779.0l1.0 2.0M1014.5 689.4l0.7 1.4M1056.1 516.7l1.1 2.2M1162.6 767.8l1.7 3.6M1028.9 614.4l1.3 2.6M1049.0 729.6l1.3 2.7M1137.6 677.3l1.5 3.1M998.7 647.2l1.2 2.4M1041.1 761.2l0.8 1.6M1035.5 501.9l1.5 3.0M1052.6 800.4l1.3 2.7M1061.0 555.9l1.4 2.8M1068.5 598.3l1.1 2.2M1133.6 785.4l1.2 2.4M1125.2 760.1l0.9 1.9M997.2 512.0l0.7 1.5M1109.3 795.9l1.6 3.3M1120.2 509.1l0.9 1.8M1094.6 679.7l1.3 2.7M1155.9 684.8l1.3 2.6M1097.1 729.2l1.0 2.1M1111.1 727.9l1.3 2.7M1034.7 526.3l1.6 3.4M1058.0 720.9l1.7 3.6M1020.5 606.2l0.7 1.5M1090.9 618.8l1.2 2.4M1091.5 673.7l1.5 3.0M1053.1 516.5l1.1 2.3M1032.8 522.7l1.3 2.6M1118.2 570.4l0.7 1.4M1126.5 652.5l0.7 1.4M1123.0 697.8l1.5 3.0M1058.9 803.4l1.3 2.8M1039.7 579.6l1.7 3.4M1126.2 724.9l0.8 1.5M1068.8 758.6l1.6 3.2M1020.4 722.6l0.8 1.7M998.9 593.0l1.4 2.8M1153.7 703.2l1.5 3.1M1115.0 689.9l1.7 3.5M1112.8 774.4l1.0 2.0M1109.4 543.2l0.9 1.8M1035.1 520.8l0.8 1.7M1097.9 813.1l1.6 3.2M1105.6 691.5l0.7 1.5M1110.1 542.9l1.0 2.1M1006.7 725.1l1.3 2.7M1062.8 787.5l1.2 2.5M1075.8 713.2l1.4 2.9M1136.5 550.5l1.2 2.4M1078.8 517.1l1.4 2.9M1007.7 486.2l1.3 2.7M995.2 746.2l1.4 2.8M1016.4 817.2l1.6 3.4M1132.6 796.6l1.4 2.9M1027.4 621.1l0.7 1.4M1006.5 595.9l1.6 3.3M1037.3 801.1l0.7 1.4M1054.1 638.3l1.5 3.0M1103.6 643.2l0.9 1.9M1083.4 673.1l0.7 1.4M1097.6 646.6l1.6 3.2M1072.3 767.1l1.4 2.8M1098.0 704.7l1.1 2.3M1100.7 508.9l1.3 2.7M1012.7 525.0l1.5 3.2M1140.7 742.9l1.4 2.8M1110.5 729.2l1.4 2.8M1036.0 604.8l1.6 3.4M1039.1 665.5l1.3 2.6M1155.3 675.6l1.7 3.5M1100.2 787.2l1.4 2.8M1118.8 593.5l0.7 1.4M1070.4 662.6l1.5 3.1M1047.1 735.1l1.3 2.7M1046.2 740.0l1.6 3.3M1070.6 809.5l0.8 1.7M1057.2 791.6l1.5 3.1M1016.4 737.9l1.6 3.4M1022.0 620.6l1.0 2.1M1079.8 744.3l1.1 2.3M1024.3 786.7l1.3 2.7M1145.5 773.3l1.7 3.4M1021.6 626.6l1.0 2.1M1121.3 809.8l0.9 1.9M1073.7 760.6l0.7 1.5M1039.9 585.9l1.4 2.9M1121.8 665.4l1.1 2.2M1038.7 550.0l1.6 3.2M1115.1 749.6l1.0 2.1M999.5 778.7l1.2 2.4M1031.9 755.9l1.2 2.4M1098.5 648.7l1.7 3.4M1011.4 638.9l1.6 3.2M1003.1 573.5l1.3 2.6M1031.1 532.6l1.4 2.8M1041.8 712.1l0.7 1.4M1030.0 619.5l1.3 2.6M1140.1 783.0l1.6 3.3M1097.6 710.4l1.5 3.0M1013.1 683.7l1.7 3.5M1102.1 577.2l1.5 3.1M1013.8 800.4l1.1 2.3M995.3 796.5l0.8 1.7M1005.4 776.0l1.1 2.3M1049.3 566.9l0.9 1.8M1000.4 799.5l1.4 2.8M1026.3 669.1l1.6 3.4M1030.5 655.1l0.8 1.7M1058.9 606.4l1.6 3.3M1059.6 519.5l1.4 2.9M1149.9 760.1l0.9 1.9M1021.8 769.9l1.5 3.0M1104.1 780.8l0.9 1.8M1152.4 680.7l0.7 1.4M1057.3 588.0l1.2 2.4M1029.6 581.3l1.7 3.5M1103.3 699.9l1.0 2.1M1041.3 695.9l1.6 3.4M1039.4 693.1l1.7 3.4M1070.5 693.4l0.8 1.7M995.3 717.9l0.9 1.7M1069.9 807.3l1.7 3.5M999.4 564.6l1.1 2.2M1044.5 740.9l1.0 2.1M1017.6 640.9l1.1 2.3M1034.0 774.6l0.8 1.6M1051.2 748.8l0.8 1.7M1048.6 638.4l1.4 2.8M1050.8 625.9l1.2 2.4M1113.7 814.5l1.3 2.7M1058.1 506.1l1.5 3.0M1069.5 722.5l0.7 1.5M1085.4 634.7l1.2 2.5M1086.8 519.6l1.7 3.5M1086.0 767.0l0.7 1.4M1020.9 611.6l1.1 2.3M1070.3 502.0l1.6 3.4M1028.5 643.9l1.1 2.3M1044.3 722.8l1.2 2.4M1080.5 796.1l1.4 2.8M1037.7 522.8l0.9 1.9M1139.3 694.2l1.6 3.2M1074.1 776.4l1.3 2.7M1133.4 728.0l1.7 3.5M1059.7 732.9l1.0 2.0M1049.8 546.3l1.1 2.3M1112.8 492.0l1.3 2.6M1130.4 613.6l1.0 2.1M1014.7 750.4l1.0 2.0M1041.3 798.3l1.3 2.7M1058.9 525.9l1.2 2.4M1021.9 677.1l1.0 2.0M1106.6 718.4l1.3 2.6M1038.5 598.9l0.7 1.4M1150.1 710.2l1.1 2.3M1018.8 760.1l1.3 2.7M1010.1 817.4l1.3 2.8M1043.2 704.2l1.7 3.6M1046.7 610.2l1.7 3.4M1095.2 593.2l1.2 2.4M1037.2 614.5l1.5 3.0M1091.0 629.1l1.1 2.3M1125.1 546.8l1.4 2.8M1028.2 490.0l1.6 3.3M1055.4 673.0l0.7 1.4M1099.2 477.4l1.1 2.3M1100.8 799.9l1.0 2.0M1027.0 634.1l1.2 2.4M1001.4 519.1l1.4 2.8M1087.0 738.6l1.0 2.0M1012.3 786.8l1.2 2.4M1029.8 786.6l0.7 1.4M1054.7 643.4l1.3 2.6M1118.1 816.9l0.8 1.7M1069.1 737.8l1.6 3.2M1065.0 665.2l0.9 1.7M1009.3 533.0l1.2 2.4M1070.6 664.1l0.8 1.6M1015.9 767.2l1.7 3.4M1123.5 773.6l1.7 3.5M1137.1 740.4l1.4 2.9M1008.2 602.9l1.5 3.1M1104.8 766.4l0.8 1.6M1123.8 803.6l0.8 1.6M1024.8 805.9l1.3 2.6M1124.0 782.6l1.2 2.4M1025.0 810.9l1.1 2.2M1020.2 813.6l0.9 1.8M1071.8 745.2l1.3 2.6M1144.0 693.6l1.5 3.1M1024.6 551.2l1.4 2.9M1061.9 694.9l1.0 2.0M1016.7 697.7l0.7 1.4M1134.7 667.6l1.0 2.1M1003.1 726.8l1.7 3.5M1104.3 495.8l1.2 2.4M1069.4 522.7l1.5 3.1M1042.4 794.9l1.7 3.5M1070.1 751.5l1.4 2.8M1138.1 575.7l1.3 2.6M995.1 509.9l1.0 2.1M1100.2 610.0l1.3 2.6M1010.1 667.0l1.5 3.1M998.9 765.3l1.0 2.1M1143.1 799.2l1.2 2.5M1083.8 763.6l1.7 3.5M1159.6 818.4l1.4 2.9M1012.1 744.9l1.7 3.5M1007.0 487.1l1.2 2.4M1118.3 714.6l0.8 1.7M1069.1 757.2l0.7 1.5M1101.2 730.9l0.8 1.6M1132.7 649.1l1.6 3.2M1064.8 678.0l1.0 2.0M1004.8 772.6l1.0 2.0M1057.1 516.4l1.4 2.8M995.9 781.4l0.7 1.5M1028.1 613.6l1.7 3.4M1094.1 707.5l1.7 3.6M1079.9 604.1l1.3 2.6M1148.6 742.5l0.8 1.7M1109.2 594.6l1.6 3.2M1070.3 820.6l0.9 1.8M1005.0 520.5l1.3 2.6M1093.6 589.4l1.2 2.4M1009.6 677.4l1.6 3.3M1015.0 629.6l1.4 2.8M1082.4 521.6l1.2 2.5M1096.4 549.4l0.8 1.7M1140.2 737.8l1.4 2.8M998.4 594.6l1.1 2.2M1051.0 689.6l1.5 3.2M1041.3 787.3l0.8 1.6M998.1 715.6l1.3 2.7M1114.1 480.2l1.5 3.1M1085.1 694.9l1.1 2.2M1119.4 764.5l1.7 3.6M1114.8 545.6l0.9 1.8M1138.5 723.2l1.6 3.3M1070.2 710.9l0.7 1.4M1002.1 666.3l0.9 1.8M1124.9 756.4l1.5 3.2M1111.3 503.6l1.0 2.1M1054.8 473.7l1.4 3.0M1000.1 763.9l1.5 3.1M1018.9 705.5l1.6 3.3M1074.1 796.5l1.1 2.3M1069.8 809.7l1.3 2.6M1123.8 639.4l0.7 1.5M1063.0 805.6l1.5 3.1M1133.5 779.6l1.3 2.7M1063.0 659.5l1.4 2.9M1054.6 598.0l1.0 2.0M1145.8 817.2l1.5 3.1M1057.8 632.7l1.4 2.8M1089.5 633.2l1.6 3.2M1132.8 586.6l1.4 2.9M1149.5 663.4l1.5 3.1M1140.5 811.4l0.9 1.8M1015.3 757.9l1.3 2.7M1016.0 628.7l0.8 1.6M1118.6 684.8l1.7 3.4M1099.0 471.2l1.0 2.1M1043.1 652.6l1.3 2.7M1061.5 533.7l1.1 2.2M1078.7 621.9l0.7 1.4M1009.5 698.1l1.6 3.3M1063.0 712.4l0.9 1.8M1002.3 776.0l1.5 3.0M1081.2 734.5l0.8 1.6M1082.7 659.4l1.1 2.2M1104.3 604.3l1.2 2.4M1052.6 729.0l1.5 3.0M1015.0 728.8l1.1 2.3M996.5 591.2l1.4 3.0M1148.4 626.6l1.3 2.6M1007.7 679.8l1.2 2.5M1040.4 744.7l0.7 1.4M1125.1 589.2l1.1 2.2M1055.1 576.1l1.0 2.1M1101.9 769.6l1.6 3.4M1143.5 645.4l1.6 3.2M1008.4 680.2l0.9 1.8M1076.8 580.5l1.5 3.1M1039.0 592.0l1.1 2.2M1139.9 680.3l0.8 1.7M1047.9 499.5l1.2 2.5M1015.8 620.4l1.3 2.7M1022.1 667.4l1.6 3.3M1127.8 712.1l1.4 2.8M1112.6 743.3l1.6 3.3M1138.7 601.8l0.9 1.8M1070.4 726.0l1.5 3.0M1105.8 806.4l1.7 3.4M1009.6 541.8l1.7 3.5M1021.9 820.9l1.2 2.5M1095.3 645.7l1.7 3.5M1095.6 737.2l1.7 3.5M1073.5 643.0l1.7 3.5M1072.3 674.0l1.4 2.9M1094.3 671.7l0.7 1.4M1035.5 813.6l1.5 3.0M1160.3 805.0l1.2 2.6M1148.2 691.2l0.7 1.5M1099.6 480.0l1.7 3.5M1088.3 667.2l1.1 2.2M1118.8 774.6l0.7 1.4M1132.9 583.5l1.6 3.3M1083.8 818.6l1.7 3.5M1161.3 734.2l1.7 3.4M1061.7 814.7l1.7 3.4M1060.8 654.0l1.7 3.4M1072.3 799.8l1.4 2.9M1063.2 653.3l1.6 3.2M1083.5 504.2l0.9 1.8M1078.8 771.4l1.1 2.3M1014.0 802.7l1.0 2.1M1063.4 639.0l0.8 1.6M1135.1 780.8l1.7 3.4M1089.3 740.5l1.6 3.3M1067.2 748.8l0.7 1.4M1078.9 689.4l0.8 1.7M1015.3 798.2l1.6 3.3M1121.7 768.9l1.5 3.1M1030.9 807.0l1.6 3.3M1044.3 531.1l0.8 1.6M1115.0 736.9l1.1 2.4M1061.6 606.3l1.6 3.2M1082.8 780.2l1.5 3.0M1078.4 783.8l1.1 2.3M1135.5 694.1l1.3 2.6M1094.3 692.7l1.7 3.4M1010.0 547.6l1.6 3.4M1041.4 811.9l1.1 2.2M1083.6 488.4l1.6 3.2M1034.1 671.7l1.5 3.1M995.0 734.5l1.6 3.4M1090.7 810.0l1.1 2.3M1028.0 692.0l1.7 3.4M1113.1 757.7l1.6 3.4M1043.3 756.0l1.5 3.1M1047.4 647.2l1.1 2.4M1021.2 711.1l1.4 3.0M1084.3 813.4l1.5 3.0M1065.8 609.0l1.5 3.0M1040.2 717.4l1.0 2.0M1080.4 754.8l1.1 2.3M1088.6 740.9l1.4 3.0M1064.2 724.9l1.6 3.3M1024.8 472.6l1.6 3.3M1009.0 579.1l1.3 2.7M1025.7 587.3l1.1 2.2M1007.4 705.5l0.8 1.7M1095.7 676.1l1.5 3.2M1114.8 769.3l0.8 1.7M1050.2 785.2l1.5 3.2M1040.3 486.3l1.2 2.4M1073.1 797.0l1.6 3.3M1046.8 639.9l0.9 1.8M1089.7 645.5l0.9 1.9M1069.1 675.9l1.1 2.3M1033.4 579.9l0.8 1.6M1092.5 689.5l1.6 3.2M1043.7 763.2l1.6 3.4M1062.4 779.0l0.9 1.8M1127.2 740.1l1.0 2.1M1067.8 689.0l1.2 2.4M1032.8 654.7l1.7 3.4M1065.6 738.2l1.3 2.6M1111.6 558.1l1.3 2.7M1104.0 507.3l1.0 2.0M1041.5 778.0l1.0 2.0M1039.5 702.5l0.7 1.4M1084.2 715.2l1.3 2.6M1100.7 635.8l1.2 2.4M1023.0 611.1l1.0 2.0M1155.4 732.0l0.7 1.4M995.1 733.9l1.0 2.0M1029.1 737.5l0.8 1.7M1071.6 635.6l1.3 2.6M1034.9 737.3l0.9 1.8M1100.0 787.5l1.4 2.9M1096.3 736.2l1.7 3.4M1007.1 569.8l0.8 1.7M999.3 506.0l1.7 3.5M1015.9 546.1l1.7 3.5M1094.4 766.3l1.2 2.4M1098.1 563.7l1.5 3.0M1045.8 735.7l1.3 2.7M1079.3 606.1l1.0 2.0M1045.6 768.0l1.2 2.5M1012.7 790.4l1.3 2.7M1153.9 767.4l0.8 1.6M1037.6 551.7l1.7 3.5M1042.3 610.4l1.5 3.0M1123.6 789.7l1.3 2.6M1087.7 749.9l1.7 3.6M1100.6 787.3l0.9 1.8M1136.9 779.8l1.1 2.2M1075.9 501.3l0.8 1.6M1094.2 724.9l1.2 2.4M1136.3 617.6l1.6 3.3M1148.4 628.2l0.9 1.8M1137.3 724.0l0.9 1.7M1073.4 593.3l1.4 2.9M1025.8 605.8l1.7 3.5M1088.8 554.2l1.0 2.1M1116.3 768.9l1.4 2.9M1083.5 571.4l1.1 2.3M1020.1 722.1l1.4 2.9M1082.2 553.9l1.1 2.4M1028.0 595.6l1.7 3.4M1021.5 486.5l0.9 1.9M1142.8 803.7l1.4 2.9M1127.5 633.3l1.2 2.4M1049.2 680.4l0.7 1.5M1064.3 729.7l1.0 2.1M1013.1 674.4l0.7 1.3M1036.5 677.2l1.1 2.2M1066.8 684.9l0.7 1.4M1020.4 794.8l1.0 2.1M1141.4 778.1l1.1 2.3M1015.4 724.3l1.6 3.2M1125.0 675.9l1.5 3.1M1159.5 782.0l1.1 2.3M1017.5 502.4l1.0 2.0M1140.4 803.8l1.0 2.0M1002.4 753.6l0.9 1.8M1146.8 772.8l1.3 2.7M1083.1 691.8l0.7 1.4M1119.2 715.9l1.3 2.6M1077.8 783.8l1.1 2.2M1132.3 790.6l1.4 2.8M1145.4 656.2l0.9 1.9M1090.6 803.7l0.8 1.6M998.9 782.5l1.3 2.7M1010.0 803.9l1.4 2.8M995.1 621.6l0.8 1.6M999.2 731.6l0.7 1.5M1007.0 813.7l1.0 2.1M1036.1 766.5l1.3 2.8M1063.8 812.8l1.5 3.1M1085.0 773.7l1.2 2.4M1107.3 744.4l0.9 1.8M1014.0 668.6l1.2 2.4M1036.2 576.9l0.8 1.7M1079.7 811.6l1.1 2.3M1102.1 819.6l0.9 1.9M1032.2 644.1l1.4 2.8M1017.5 754.8l1.3 2.7M1037.0 813.7l0.7 1.4M1106.0 538.0l1.5 3.1M1077.3 698.0l1.1 2.3M1010.5 673.7l1.0 2.1M1005.5 567.2l1.5 3.0M1129.0 783.8l1.6 3.3M1099.4 772.8l1.0 2.0M1060.0 740.3l1.5 3.0M1103.7 812.0l0.9 1.8M1120.4 820.5l1.4 2.8M1060.5 617.8l0.8 1.7M1151.9 680.7l1.0 2.1M1035.4 715.5l1.6 3.3M1093.3 513.9l1.6 3.3M1042.1 816.1l0.7 1.4M1012.1 740.9l1.3 2.6M1009.3 782.0l1.2 2.4M1133.7 611.8l1.7 3.6M1016.2 786.4l1.7 3.6M1005.6 655.5l1.1 2.2M1028.2 821.6l1.2 2.4M1154.3 741.1l1.4 2.8M1033.4 502.6l1.4 2.9M1042.9 675.5l1.2 2.4M1120.4 703.0l1.2 2.5M1080.8 577.1l1.1 2.3M1148.7 629.0l0.7 1.5M1100.8 556.8l1.5 3.1M1068.2 740.9l1.4 2.9M1131.9 605.2l1.5 3.1M1055.8 582.3l0.7 1.4M1101.7 791.0l1.2 2.4M1143.5 786.1l0.7 1.4M1120.1 747.0l1.5 3.2M1046.6 783.5l1.5 3.1M1027.7 657.1l1.2 2.5M1155.9 785.5l0.8 1.7M1110.5 810.9l0.8 1.7M1057.1 740.6l0.8 1.6M1150.8 708.6l0.8 1.7M1081.8 701.4l1.2 2.5M1011.4 621.3l1.5 3.1M1012.0 483.8l0.8 1.6M1104.3 670.7l0.9 1.8M1103.7 629.1l0.9 1.8M1024.4 625.5l0.7 1.5M1125.5 692.6l0.9 1.8M1008.0 718.2l0.9 1.8M1048.1 563.1l1.2 2.4M1068.6 738.3l1.3 2.7M1086.1 798.9l1.7 3.4M1011.2 490.0l0.9 1.8M1096.1 731.3l1.6 3.2M1012.2 621.7l1.4 2.8M1048.7 821.1l1.3 2.7M1126.3 586.8l1.0 2.1M1099.9 578.2l1.0 2.0M1055.7 785.4l1.0 2.0M1049.7 699.8l1.7 3.6M1057.1 631.8l1.6 3.3M1021.1 786.8l0.7 1.5M1144.1 817.4l1.5 3.1M1098.9 738.6l0.9 1.9M1093.2 606.4l1.6 3.3M1047.4 797.1l1.3 2.7M1064.9 612.0l0.9 1.9M1110.3 775.7l1.0 2.1M1100.8 593.5l1.1 2.3M1151.6 788.1l1.5 3.0M1106.9 631.3l1.7 3.5M1025.8 616.7l1.5 3.1M1144.5 664.2l1.2 2.4M1021.7 649.4l1.1 2.3M1119.7 758.5l1.6 3.3M1025.8 695.8l1.2 2.5M1080.8 747.9l0.8 1.7M1085.6 816.0l1.1 2.3M1128.0 526.0l1.2 2.4M1007.4 528.6l1.1 2.3M995.5 793.4l1.7 3.4M1123.6 673.9l1.5 3.1M1142.1 636.8l0.9 1.8M1060.1 691.3l0.7 1.5M1133.2 646.6l1.4 2.9M1055.3 704.4l1.5 3.0M1021.2 780.6l1.2 2.4M1105.4 811.0l1.7 3.5M998.9 794.4l1.4 2.8M1076.3 770.2l1.0 1.9M1009.3 705.2l0.8 1.6M1088.6 731.0l0.9 1.8M1052.3 699.8l1.2 2.5M1015.4 616.9l1.4 2.9M1158.5 801.7l1.3 2.6M1116.8 765.3l0.9 1.9M1003.3 742.2l1.7 3.5M1121.4 748.5l1.3 2.8M1083.2 515.0l1.0 2.1M1092.5 758.9l1.0 2.0M1053.3 753.2l1.6 3.3M1015.1 517.1l1.6 3.2M1120.0 596.9l1.1 2.3M1079.0 526.0l1.6 3.3M1091.8 580.0l1.5 3.0M1043.4 527.8l1.7 3.4M1067.5 679.6l0.8 1.6M1072.8 615.7l1.4 2.8M1090.8 556.6l1.0 2.0M1144.8 777.0l0.9 1.9M1124.9 746.5l1.0 2.1M1154.5 768.7l0.9 1.8M1135.1 660.0l1.1 2.2M1034.9 584.3l1.3 2.8M1092.1 752.9l1.0 2.1M1148.9 761.4l0.9 1.9M1035.9 636.1l0.8 1.7M1086.7 703.9l1.7 3.4M1079.2 651.8l1.7 3.5M1107.0 653.1l0.7 1.5M1125.8 589.5l1.2 2.5M1105.8 677.5l1.0 2.1M1083.5 792.4l1.7 3.5M1002.0 693.0l1.7 3.4M1042.7 788.4l1.0 2.0M1087.1 531.6l0.9 1.9M1048.2 569.8l0.7 1.5M1105.4 685.1l0.9 1.8M1071.8 788.1l1.2 2.4M1140.0 807.8l1.6 3.2M1020.0 753.7l1.4 2.9M1107.0 783.0l1.1 2.3M1057.4 725.9l1.4 2.9M1100.5 647.7l1.1 2.2M1060.2 798.5l1.3 2.7M1022.7 639.3l1.2 2.4M1126.3 781.0l1.2 2.6M1084.9 644.8l1.0 2.1M1138.5 764.8l1.2 2.4M1073.9 624.8l1.3 2.7M1089.9 468.1l1.1 2.2M1009.1 741.7l1.5 3.1M1054.5 745.3l1.1 2.2M1077.8 748.4l0.9 1.9M1071.5 696.4l1.3 2.7M1019.9 632.0l1.5 3.2M1159.5 808.7l1.2 2.5M1067.7 728.6l0.7 1.4M1091.0 575.9l0.9 1.9M1070.8 734.0l1.0 2.0M1018.9 735.6l0.7 1.4M1122.8 770.4l1.5 3.0M1053.8 712.3l1.5 3.1M1001.9 585.2l1.0 2.0M1056.3 644.0l1.1 2.2M1030.4 591.6l1.0 2.0M1117.4 800.7l1.5 3.1M1114.9 590.3l1.4 2.8M1127.1 551.3l1.2 2.5M1053.4 726.8l0.9 1.9M1005.4 749.6l0.8 1.6M1133.3 743.2l1.6 3.2M1146.8 759.8l1.1 2.2M1068.2 752.2l1.4 2.8M1144.6 717.8l1.0 2.1M1058.4 780.0l1.6 3.2M1018.9 703.7l1.4 2.9M1137.3 814.5l1.6 3.3M1013.4 735.6l0.9 1.9M1125.6 567.7l1.4 2.8M1033.4 739.1l0.7 1.5M1106.1 490.2l1.4 2.9M1143.5 631.1l1.8 3.6M1106.3 687.6l1.6 3.4M1049.6 690.6l1.4 2.9M1081.4 670.1l1.4 3.0M1074.2 757.3l1.7 3.6M1101.6 655.3l0.7 1.4M1029.5 518.6l1.2 2.5M1073.8 618.5l1.5 3.1M1007.8 641.8l1.2 2.4M1037.6 792.8l1.7 3.6M1126.1 740.7l1.1 2.2M1105.5 675.3l1.1 2.2M1025.7 643.7l1.4 2.9M1098.4 650.7l1.2 2.4M1145.4 806.4l1.4 2.9M996.1 719.7l1.6 3.2M1048.4 656.9l1.2 2.4M1095.1 479.0l1.6 3.4M1010.4 665.7l1.7 3.5M1134.8 714.0l1.1 2.2M1127.9 751.5l1.5 3.1M1089.0 585.5l0.9 1.8M1097.1 638.3l1.7 3.5M1004.7 610.8l1.4 2.9M1141.6 646.8l0.7 1.4M1091.0 660.0l0.9 1.9M1117.3 519.9l1.4 2.9M995.9 707.9l1.7 3.4M1150.4 769.0l0.8 1.6M1049.2 524.4l1.0 2.0M1100.3 760.8l1.1 2.3M1076.1 778.1l0.9 1.9M1022.6 662.8l1.5 3.1M1009.1 633.9l1.3 2.7M1062.9 777.0l0.7 1.5M1100.9 729.6l1.3 2.7M1077.2 602.3l1.6 3.2M1128.6 785.2l1.3 2.7M1096.5 629.1l1.6 3.3M1090.9 531.2l0.7 1.5M1027.6 487.2l1.6 3.3M1079.1 644.0l1.5 3.0M1139.7 758.6l0.7 1.5M1056.6 591.0l0.9 1.9M1038.3 778.8l1.2 2.5M1135.6 753.6l1.0 2.1M1029.9 585.4l1.4 2.8M1107.1 812.6l1.3 2.7M1133.7 731.5l0.8 1.6M1135.9 768.0l1.5 3.0M1122.8 670.7l1.1 2.2M1032.8 484.4l1.3 2.7M1063.9 689.1l1.4 2.9M1036.9 730.7l1.4 2.9M1092.0 701.3l1.2 2.5M1161.5 769.2l0.8 1.7M1002.4 589.7l1.2 2.5M1017.4 632.8l1.3 2.6M1100.6 584.2l1.3 2.7M1024.4 766.3l1.1 2.2M1028.9 704.1l0.9 1.8M1018.2 655.9l0.7 1.3M1029.9 577.7l1.4 2.8M1111.3 681.5l0.9 1.9M1102.5 774.5l0.9 1.8M1111.3 757.5l0.8 1.6M1015.1 653.1l1.4 2.9M1051.5 688.4l1.5 3.1M1027.1 725.5l1.6 3.3M1121.4 541.1l1.6 3.2M997.9 698.6l0.8 1.6M1146.7 682.8l0.8 1.7M1048.1 489.0l0.8 1.7M1097.2 820.6l1.6 3.3M1124.0 607.6l0.9 1.8M1060.5 754.4l1.7 3.4M1017.2 542.1l1.7 3.4M1060.4 690.0l1.7 3.6M1109.0 816.3l1.2 2.6M1004.1 791.6l1.5 3.0M1097.2 664.9l1.1 2.3M1094.6 663.1l1.3 2.6M1079.6 728.9l1.1 2.2M1092.9 711.7l1.6 3.4M1069.1 685.4l0.8 1.7M1086.2 616.3l1.3 2.7M1051.4 796.0l1.1 2.2M1087.7 790.3l1.3 2.6M1006.1 808.4l1.1 2.2M1006.2 761.2l1.5 3.1M1092.6 692.4l1.1 2.3M999.7 779.9l1.0 2.1M1114.4 568.2l1.5 3.1M1019.8 724.5l1.2 2.5M1112.8 608.1l1.2 2.4M1040.9 563.9l1.6 3.3M1010.0 639.2l1.6 3.2M1055.6 656.6l1.6 3.2M1074.0 470.3l1.6 3.4M1129.5 555.2l0.9 1.9M1029.6 607.6l1.4 2.8M1067.9 483.8l1.6 3.2M1077.3 606.3l1.2 2.5M1044.0 590.8l0.9 1.8M1043.6 645.6l0.8 1.7M1073.2 746.6l0.8 1.6M1091.0 773.0l1.1 2.3M1088.0 760.2l1.6 3.4M1005.5 740.0l0.8 1.5M1103.3 556.9l1.6 3.4M1027.1 576.0l0.8 1.7M1090.4 667.3l0.9 1.8M1070.0 574.1l1.6 3.4M1039.7 589.9l1.6 3.4M1133.6 712.7l0.8 1.6M1003.8 784.6l1.2 2.5M1054.6 709.2l0.8 1.6M1127.7 566.7l1.5 3.0M1073.7 802.1l1.6 3.4M1119.3 637.8l1.0 2.0M1160.9 759.1l1.4 2.9M1127.2 780.8l1.2 2.5M996.4 616.7l1.6 3.3M1148.0 719.8l1.1 2.3M1051.4 809.9l1.3 2.6M1136.6 669.2l1.2 2.4M1110.5 782.0l1.7 3.5M1119.7 804.7l1.6 3.3" stroke="#ff0000" stroke-opacity="0.11" stroke-width="3.4" stroke-linecap="round" fill="none"/>
<path d="M1003.9 593.9l0.8 1.6M1083.6 820.9l1.0 2.0M1068.1 779.2l1.0 2.0M1066.2 603.1l1.7 3.5M1092.4 719.1l0.7 1.4M1028.6 771.0l0.9 1.8M1116.3 510.6l1.7 3.5M1137.0 809.1l1.5 3.0M1157.2 809.8l1.0 2.0M1004.0 762.8l1.6 3.2M1099.9 573.4l1.4 2.8M1130.6 572.3l0.8 1.6M1005.8 762.8l0.8 1.6M1143.5 593.9l1.5 3.0M1128.6 646.7l1.5 3.1M1013.5 490.0l1.3 2.7M1017.7 506.4l1.5 3.0M1035.5 765.2l1.0 2.1M1118.0 684.4l1.1 2.2M1023.3 631.7l1.6 3.3M1157.3 812.5l1.6 3.4M1080.3 534.5l1.6 3.2M1160.3 816.6l1.1 2.3M1034.1 812.1l1.2 2.4M1121.2 783.5l1.8 3.6M1070.3 788.2l1.6 3.4M1144.1 600.3l0.9 1.9M1078.5 566.8l0.8 1.6M1061.9 791.0l1.4 2.8M1115.3 615.3l1.6 3.4M1062.7 697.0l1.6 3.2M1107.0 503.7l0.8 1.7M1004.2 702.2l1.3 2.6M1067.1 473.5l0.9 1.8M1047.3 610.7l1.2 2.4M1115.4 800.4l1.4 3.0M1128.3 744.6l0.7 1.4M1109.3 612.8l1.4 2.8M1024.6 609.7l0.9 1.8M1114.5 721.2l1.1 2.2M1073.9 627.9l1.3 2.6M1156.9 720.8l1.7 3.5M1066.2 474.0l0.9 1.9M999.1 659.6l0.9 1.8M1053.6 581.0l1.0 2.1M1124.0 766.8l1.2 2.4M1081.3 536.8l1.3 2.7M1153.1 792.1l1.8 3.6M1066.9 768.4l1.5 3.1M1148.4 658.6l1.0 2.0M999.6 534.5l0.9 1.9M1077.4 580.5l1.4 2.9M1006.2 657.3l0.8 1.6M1051.9 813.3l1.1 2.3M1135.7 799.6l1.0 2.1M1032.8 687.9l1.6 3.3M995.1 799.8l0.9 1.8M1101.4 807.9l1.5 3.1M1036.7 661.9l1.0 2.0M1094.9 787.9l1.0 2.0M1000.4 650.9l1.6 3.3M1012.1 811.5l0.8 1.7M1043.6 595.6l1.7 3.6M1061.7 491.0l0.8 1.6M1088.3 773.7l1.6 3.3M1061.5 701.7l1.4 2.9M1058.4 816.0l0.8 1.6M1008.7 756.4l1.2 2.5M1095.2 471.0l1.3 2.7M1084.0 480.3l1.5 3.1M1074.4 803.3l1.2 2.5M1062.5 667.1l0.7 1.4M1087.3 640.1l1.3 2.8M1070.0 470.4l0.9 1.9M1106.9 513.2l0.8 1.7M1089.8 639.9l1.6 3.3M1085.0 807.8l1.2 2.4M1146.3 725.1l0.9 1.9M1135.1 566.8l1.2 2.4M1080.7 773.1l1.2 2.5M1076.7 771.9l1.5 3.2M1030.8 538.4l1.3 2.7M1086.6 705.7l1.4 3.0M1015.8 506.0l0.9 1.7M1019.6 670.1l1.1 2.3M1032.5 558.4l1.5 3.0M1120.2 748.0l0.9 1.8M1094.4 641.8l0.8 1.6M1090.2 810.2l1.3 2.6M1057.3 691.6l1.2 2.5M1101.0 517.9l1.4 2.9M1014.1 780.9l1.7 3.5M1086.3 769.5l1.6 3.4M1161.5 807.7l1.2 2.4M1007.0 779.2l1.1 2.2M1126.8 785.4l1.5 3.1M1023.5 711.9l1.5 3.0M1056.6 733.1l1.1 2.3M1037.0 811.4l1.6 3.2M1092.6 817.0l1.5 3.0M1015.5 782.8l0.7 1.4M1034.3 567.3l0.7 1.4M1093.1 571.1l0.9 1.9M1019.1 535.2l1.5 3.1M1142.8 675.5l0.9 1.8M1076.0 774.2l0.9 1.9M1149.1 810.6l1.3 2.7M1023.5 789.9l1.6 3.3M1119.5 757.1l0.9 1.8M1015.5 678.1l1.5 3.0M1039.7 517.1l0.9 1.9M1022.3 607.4l1.6 3.2M1064.0 595.3l0.7 1.4M1093.3 667.2l1.3 2.6M1001.2 700.8l1.7 3.5M1009.7 776.4l1.6 3.2M1129.4 770.8l0.8 1.7M1103.6 598.7l1.3 2.6M1062.8 731.6l1.2 2.4M1022.0 713.9l0.9 1.9M1095.7 556.8l1.6 3.2M1142.9 789.7l1.7 3.5M1150.0 678.8l1.1 2.3M1078.5 563.6l0.7 1.5M1021.0 611.0l0.7 1.4M1079.1 765.0l0.8 1.7M1032.0 680.5l0.9 1.8M1012.7 680.6l1.7 3.5M1033.6 700.0l1.2 2.6M1144.6 616.9l1.6 3.3M1064.3 761.9l1.1 2.2M1073.0 669.0l1.4 2.8M1135.5 709.9l1.5 3.1M1146.4 792.6l1.7 3.5M1036.2 717.4l1.1 2.2M1064.4 693.0l0.7 1.4M1142.2 821.4l1.4 3.0M1028.1 734.0l1.4 2.9M1091.3 603.0l1.5 3.0M1047.5 670.4l1.6 3.4M1120.5 783.6l1.7 3.4M1119.7 701.8l1.4 2.9M1081.7 534.3l0.9 1.9M1110.1 642.6l0.7 1.5M1110.0 526.7l1.7 3.4M1113.8 786.9l1.3 2.6M1040.3 768.6l0.8 1.6M1112.1 586.7l1.6 3.2M1117.8 526.8l1.7 3.6M1114.6 796.4l0.9 1.8M1031.5 798.8l0.9 1.8M1006.3 649.4l1.7 3.5M1075.3 527.2l1.0 2.0M1032.6 798.8l1.5 3.1M1132.1 748.4l1.4 3.0M1053.2 704.1l0.8 1.6M1049.2 697.0l1.0 2.0M1153.0 798.0l1.2 2.4M1070.5 513.3l1.4 2.8M1161.1 796.7l1.0 2.1M1057.0 749.5l1.5 3.1M998.7 682.6l1.3 2.7M1081.9 659.3l0.8 1.7M1071.6 760.6l1.7 3.5M1025.5 724.6l0.7 1.4M1001.7 677.8l0.8 1.6M1068.7 753.3l0.8 1.7M1104.6 817.6l1.7 3.5M1032.1 501.6l1.1 2.3M1123.8 763.5l1.4 2.9M1133.7 663.8l1.2 2.4M1127.9 770.6l1.0 2.1M1122.7 617.6l0.7 1.4M1035.3 798.6l1.6 3.2M1131.7 689.9l0.8 1.7M1025.1 567.1l1.5 3.2M1068.2 742.5l1.7 3.5M1023.5 754.9l1.2 2.4M1048.0 723.1l1.0 2.0M1090.3 776.5l1.1 2.3M1087.3 787.3l1.1 2.2M1106.0 783.6l1.6 3.4M1034.2 655.0l0.7 1.4M1097.5 767.0l1.7 3.4M1084.4 692.8l1.0 2.1M1028.7 551.0l1.5 3.1M1070.7 665.4l0.7 1.4M1059.2 653.8l0.8 1.6M1002.9 802.0l1.3 2.6M1087.1 526.2l1.2 2.4M1107.2 468.5l1.7 3.5M1140.5 672.0l1.5 3.0M1023.3 550.2l0.7 1.4M1063.0 704.6l0.9 1.9M997.7 546.4l0.7 1.4M1127.6 779.6l1.4 2.8M1079.2 548.0l0.7 1.5M1024.9 720.4l1.5 3.2M1023.3 764.5l1.1 2.2M1120.5 598.0l1.6 3.4M1119.5 738.7l1.4 3.0M1160.8 797.7l0.9 1.8M1052.3 820.4l0.8 1.6M1054.6 521.8l1.5 3.1M1029.4 664.5l1.2 2.4M1018.7 732.0l0.8 1.6M1123.4 808.0l1.3 2.6M1049.8 738.3l0.8 1.7M1118.5 784.0l1.5 3.1M1068.2 630.5l1.4 3.0M1133.2 808.2l1.5 3.0M1155.6 779.2l1.7 3.6M1142.4 714.8l1.6 3.3M1052.5 492.1l0.7 1.4M1012.5 605.8l1.1 2.2M1085.8 584.3l1.0 2.1M1101.7 639.8l0.8 1.5M1051.9 560.3l1.0 2.1M1010.4 795.7l0.9 1.8M1105.0 488.3l0.8 1.7M1101.0 754.0l1.2 2.5M1044.1 612.8l0.7 1.5M1048.8 702.9l1.3 2.7M1082.7 528.5l0.7 1.4M1102.8 656.8l0.9 1.9M1150.4 735.6l0.8 1.7M1138.8 621.2l1.6 3.3M1020.3 735.7l0.9 1.9M1018.0 614.5l1.0 2.0M1022.1 813.7l0.9 1.9M1129.7 769.3l1.7 3.4M1112.8 723.4l1.1 2.3M1109.8 798.2l1.7 3.5M1054.2 563.2l1.7 3.6M1109.8 581.3l1.8 3.6M1067.6 722.8l1.4 2.8M1004.2 794.6l0.8 1.6M1077.4 793.7l0.8 1.6M1076.4 644.3l1.6 3.3M1067.0 750.3l1.1 2.3M1049.0 763.9l1.7 3.5M1092.0 738.4l1.6 3.2M1028.3 552.2l1.0 2.0M1004.3 609.9l1.2 2.6M1012.0 800.5l0.8 1.7M1064.5 650.8l1.1 2.3M1022.4 569.4l1.4 2.8M1118.2 721.3l1.1 2.3M1107.6 774.1l0.7 1.4M1053.6 608.5l1.2 2.5M1111.1 644.2l1.6 3.3M996.2 732.0l0.7 1.4M1018.3 735.7l1.3 2.6M1059.8 499.8l1.2 2.5M1076.9 749.2l1.3 2.8M1058.0 786.8l0.9 1.8M1106.3 498.4l1.4 3.0M1012.4 793.7l0.8 1.6M1120.8 781.5l1.1 2.2M1133.8 692.6l0.8 1.6M1099.0 777.3l1.1 2.3M1023.5 608.6l1.1 2.2M1077.1 794.4l1.3 2.6M1017.3 701.4l0.8 1.6M1096.2 678.7l0.9 1.9M1101.8 564.1l1.3 2.7M1132.1 583.1l1.0 2.1M1078.0 643.6l1.3 2.7M1006.0 679.4l1.6 3.3M1035.2 593.0l0.7 1.4M1108.9 606.4l1.5 3.1M1105.5 641.3l1.1 2.2M1068.8 566.6l0.9 1.8M1140.3 744.7l1.7 3.6M1152.6 698.0l0.8 1.6M1025.6 632.9l0.8 1.7M1082.6 490.3l1.7 3.5M1006.6 763.2l0.9 1.9M1118.9 501.4l1.3 2.6M1061.3 611.9l0.8 1.6M1026.9 656.2l1.3 2.6M1079.3 767.3l1.4 2.9M1146.4 688.5l0.8 1.6M1035.7 821.7l1.4 3.0M1005.5 658.2l1.1 2.3M1133.5 623.9l0.8 1.7M1077.9 758.2l0.9 1.8M1062.2 783.6l1.1 2.3M1078.6 806.4l1.1 2.2M1060.0 815.9l0.8 1.6M1026.5 727.6l1.4 2.8M1022.9 743.7l1.1 2.2M1135.2 735.5l1.3 2.7M1142.1 732.7l1.2 2.4M1131.6 564.9l1.3 2.6M1067.2 745.8l1.4 2.8M1117.5 603.6l0.7 1.5M1143.4 752.4l1.1 2.3M1135.6 652.9l1.2 2.4M1058.4 711.7l1.5 3.1M1096.3 571.0l1.0 2.1M1112.5 802.2l0.9 1.8M1096.1 627.3l1.4 2.8M1133.9 689.4l1.2 2.5M1066.0 812.6l1.7 3.5M1150.4 776.6l0.9 1.8M1083.8 630.2l1.4 2.8M1102.3 562.0l1.2 2.4M1003.0 764.2l1.7 3.5M1023.3 665.2l1.3 2.6M1013.2 606.8l1.0 2.0M1108.8 795.0l1.6 3.2M1018.3 688.0l0.7 1.4M1162.6 784.4l1.1 2.2M1018.2 819.6l0.8 1.6M1025.0 603.7l1.6 3.3M1032.5 700.4l1.5 3.1M1130.6 685.8l1.7 3.5M1151.1 802.1l1.2 2.6M996.0 549.3l1.5 3.0M1132.9 806.4l1.4 2.9M1019.4 725.4l1.3 2.6M1053.3 815.9l1.1 2.2M1095.4 678.6l0.7 1.5M1029.7 710.6l0.7 1.5M1024.2 557.9l1.7 3.5M1044.4 763.0l1.6 3.3M1001.1 793.0l0.7 1.4M1079.3 707.7l1.7 3.4M1088.1 685.1l1.4 2.9M1027.6 768.5l0.9 1.8M1033.2 581.3l1.0 2.1M1157.4 780.8l1.3 2.7M1141.1 770.6l1.0 2.0M1053.9 601.9l1.0 2.1M1047.8 562.0l0.8 1.7M1073.3 801.0l1.4 2.9M1024.6 720.9l0.7 1.4M1101.5 677.8l1.7 3.4M1049.2 665.9l1.6 3.4M1014.2 593.6l1.0 2.0M1000.2 641.7l1.4 2.8M1135.1 725.3l1.3 2.7M1042.8 773.0l1.4 3.0M1096.0 662.8l1.4 2.9M1144.7 808.6l1.7 3.5M1084.5 766.9l1.2 2.5M1000.6 654.4l1.3 2.7M1160.6 728.9l0.8 1.7M1106.9 618.7l0.9 1.9M1064.7 800.9l0.9 1.8M1109.5 794.4l1.7 3.6M1139.6 819.7l0.8 1.6M1104.6 769.4l1.1 2.2M1141.7 803.4l1.7 3.5M1054.6 767.3l1.0 2.0M1118.7 761.0l1.5 3.1M1102.8 483.3l1.4 2.8M995.7 488.5l1.4 2.9M1000.1 503.9l1.3 2.7M1151.4 728.1l1.6 3.2M1099.4 531.7l1.3 2.7M1010.9 732.5l1.6 3.3M1005.8 780.9l0.8 1.6M1012.1 727.9l1.2 2.4M1150.7 759.2l1.5 3.1M1050.0 646.0l0.7 1.4M1102.2 517.8l1.5 3.2M1068.6 632.9l1.3 2.7M1134.9 706.8l1.6 3.3M1056.9 701.6l1.2 2.4M1075.0 787.3l0.8 1.6M1004.8 629.2l1.2 2.4M1149.8 774.3l0.9 1.8M1042.4 616.3l1.1 2.3M1048.9 791.9l1.3 2.6M1133.0 580.5l1.7 3.4M1030.9 695.4l0.9 1.9M1001.2 503.4l1.1 2.3M1123.2 556.9l1.5 3.2M1005.2 761.9l1.1 2.2M1107.8 782.2l1.2 2.5M1063.5 804.9l1.0 2.0M1114.0 473.9l1.5 3.1M1127.3 658.3l1.6 3.3M1089.3 694.1l1.0 2.0M1052.0 785.6l1.4 2.9M1146.9 721.9l1.6 3.3M1153.1 709.8l1.3 2.7M1126.1 616.1l1.7 3.6M1113.8 670.7l0.7 1.4M1058.8 820.4l1.2 2.5M1072.0 752.0l0.8 1.7M1124.2 506.5l1.1 2.3M1008.5 509.5l1.4 3.0M1077.5 580.5l0.7 1.4M1065.5 615.4l1.2 2.4M1025.9 744.8l1.2 2.5M1139.8 614.7l1.2 2.4M1132.5 667.1l1.3 2.7M1075.6 758.1l1.0 2.0M1154.8 767.3l1.3 2.7M1031.8 723.9l1.0 2.1M1105.2 612.6l1.3 2.6M1064.8 625.9l1.3 2.7M1088.7 518.5l1.5 3.0M1009.9 744.7l1.2 2.5M995.9 667.0l1.0 2.1M1016.3 770.2l0.7 1.5M1114.2 537.9l1.4 2.8M1123.0 708.0l0.9 1.8M1131.3 772.3l1.3 2.7M1063.8 619.7l0.7 1.5M1070.2 677.0l1.6 3.2M1025.3 622.2l1.1 2.2M1075.4 551.1l1.4 2.9M998.3 662.6l1.3 2.7M1015.7 752.4l0.8 1.7M1137.9 631.0l1.2 2.5M1056.0 489.7l1.4 2.8M1111.0 634.8l1.1 2.3M1025.6 730.7l1.5 3.1M1024.8 770.5l1.2 2.4M1074.6 809.7l0.7 1.5M1137.4 706.4l0.8 1.6M1077.9 802.5l1.2 2.5M1069.9 702.3l1.5 3.1M997.6 728.3l1.4 3.0M1035.4 806.0l1.7 3.5M1118.7 728.2l1.5 3.0M1139.7 615.4l0.8 1.7M1082.3 758.9l1.7 3.4M1019.6 789.5l1.3 2.8M1116.2 535.5l0.7 1.5M1025.6 787.9l1.4 2.8M1016.9 500.7l0.7 1.5M1004.7 803.4l1.3 2.6M1118.3 672.7l1.1 2.3M1003.7 736.9l1.2 2.4M1009.6 741.2l1.0 2.0M1008.9 745.5l1.1 2.3M1007.8 818.0l1.0 2.1M1063.3 770.5l1.7 3.5M1018.9 581.5l1.2 2.4M1030.2 741.9l1.3 2.7M1050.7 512.4l0.8 1.7M1019.2 562.3l0.9 1.8M1073.0 722.4l0.9 1.8M1063.1 811.7l0.8 1.6M1039.3 698.6l0.8 1.7M1143.1 670.9l1.6 3.2M1147.6 700.9l1.3 2.6M1027.6 545.9l1.2 2.5M1108.8 727.8l1.7 3.4M1145.6 723.8l1.4 2.8M1104.8 799.1l1.2 2.4M1143.0 792.9l1.1 2.3M1021.9 567.1l0.7 1.4M1082.8 541.3l0.8 1.6M1018.2 781.9l1.3 2.7M1156.3 816.6l1.0 2.1M1096.7 721.1l0.7 1.4M1087.3 654.1l1.5 3.1M1119.6 797.9l0.9 1.9M1080.6 631.1l0.9 1.9M1022.4 796.2l1.2 2.5M1031.4 566.2l1.6 3.3M1071.5 743.0l1.0 2.1M1105.9 598.3l1.7 3.4M1149.7 789.8l1.0 2.1M1003.9 650.2l0.7 1.4M1127.4 756.3l1.7 3.5M1139.6 747.3l1.4 2.8M1071.8 677.2l1.1 2.3M1139.4 821.2l1.0 2.0M1064.8 637.5l1.5 3.0M1137.3 666.1l1.5 3.1M1139.2 657.1l1.2 2.4M1087.3 539.4l1.7 3.4M1144.8 653.9l1.7 3.6M1127.2 701.8l1.3 2.6M1047.8 605.1l1.2 2.5M1122.7 738.4l1.3 2.7M1153.6 801.1l0.9 1.9M1029.4 756.5l1.0 2.1M1021.3 657.3l0.9 1.9M1124.5 773.8l1.3 2.7M1112.6 735.1l1.2 2.4M1071.3 776.8l1.7 3.5M1135.1 680.8l1.1 2.3M1086.5 752.6l0.7 1.4M1094.0 782.2l1.5 3.0M1066.3 766.4l1.3 2.7M1074.0 785.8l1.2 2.4M1049.5 709.5l1.3 2.7M1067.0 668.5l0.9 1.8M1002.7 533.7l1.6 3.3M1154.8 810.5l1.0 2.1M1096.5 586.2l1.0 2.0M1097.3 777.1l0.8 1.7" stroke="#ff0000" stroke-opacity="0.09" stroke-width="3.4" stroke-linecap="round" fill="none"/>
<path d="M1037.6 747.5l0.7 1.5M1047.5 578.7l0.9 1.9M997.4 652.1l0.8 1.6M1120.7 778.2l1.0 2.1M1013.5 564.3l1.5 3.1M1074.6 807.7l1.0 2.1M1081.1 702.6l1.7 3.5M999.4 643.6l1.2 2.4M1078.1 747.9l1.6 3.3M1114.8 821.2l0.8 1.6M1070.1 725.3l1.1 2.3M1128.5 780.4l1.2 2.5M1041.8 624.4l1.0 2.0M1042.6 797.8l1.2 2.4M1055.3 617.4l1.2 2.4M1042.3 661.7l1.0 2.0M1063.5 634.8l1.7 3.6M1057.7 685.2l1.4 2.9M1049.0 734.7l0.7 1.4M1031.6 664.8l1.1 2.2M1030.8 662.9l0.7 1.4M1031.3 813.7l1.3 2.6M1115.7 697.5l1.0 2.1M1152.6 768.4l1.0 2.0M1147.9 630.6l0.8 1.6M1151.7 639.6l0.9 1.8M1104.6 705.1l1.7 3.6M1076.2 711.7l1.5 3.0M1025.6 738.1l1.7 3.4M1074.7 747.2l0.8 1.7M1014.7 630.2l1.5 3.0M1083.3 714.0l0.9 1.8M1047.4 589.7l1.3 2.6M1076.0 704.4l0.7 1.4M1132.9 789.1l1.3 2.6M1004.4 572.6l1.1 2.4M1139.7 810.3l1.5 3.1M1007.0 738.2l1.1 2.3M1006.3 808.1l1.3 2.6M1060.4 693.1l1.3 2.7M1046.2 653.7l1.5 3.0M1126.5 783.3l1.0 2.0M1160.2 725.4l1.7 3.5M1064.3 684.6l1.2 2.4M1084.1 587.3l1.0 2.1M1011.9 805.3l1.4 2.9M1059.6 790.3l0.9 1.9M1080.8 703.9l1.7 3.6M1097.2 746.6l1.7 3.4M1109.1 749.8l1.4 2.8M1066.0 577.1l1.4 2.9M1059.7 681.4l0.8 1.6M1049.3 784.9l0.8 1.6M1131.7 607.4l1.8 3.6M1070.5 648.0l0.8 1.7M1157.9 821.9l1.6 3.3M1130.9 674.6l0.7 1.5M1032.2 665.6l1.6 3.2M1156.4 681.2l1.5 3.1M1058.6 647.6l0.7 1.4M1060.9 611.7l1.4 2.8M1145.9 778.6l1.3 2.6M1128.2 761.6l1.2 2.5M1146.1 701.5l1.0 2.1M1020.5 751.9l1.5 3.2M1149.6 667.1l0.8 1.7M1138.3 630.5l1.0 1.9M1082.0 743.4l1.0 2.1M1153.9 716.7l1.4 2.9M1003.5 673.2l1.2 2.4M1134.8 809.5l1.7 3.5M1124.8 738.1l1.6 3.2M1075.4 699.2l1.4 2.8M999.1 810.2l1.5 3.0M1007.1 777.8l1.4 2.9M1158.1 792.3l1.1 2.3M1093.5 757.5l1.6 3.4M1094.7 762.8l0.8 1.6M1018.2 770.8l0.9 1.9M1134.0 815.1l0.9 1.8M1062.1 608.3l1.4 3.0M1036.6 685.6l1.4 2.8M1013.8 778.0l0.8 1.6M1056.8 717.2l1.2 2.5M1066.5 711.5l1.3 2.6M1122.8 672.3l1.1 2.3M1162.8 806.1l1.2 2.4M1088.4 717.7l0.8 1.6M1091.4 650.9l1.6 3.2M1110.2 753.2l1.7 3.5M995.6 713.9l0.7 1.4M1090.6 649.6l1.7 3.6M1012.1 662.0l1.5 3.0M1001.9 793.2l1.4 2.8M1019.0 810.3l1.4 2.9M1124.6 606.9l1.2 2.5M1013.2 762.2l1.2 2.5M1113.7 816.6l1.5 3.2M1068.9 682.0l1.0 2.0M1042.4 719.0l1.7 3.5M1098.4 816.5l1.6 3.2M1080.8 573.9l1.4 2.8M1026.3 782.0l1.4 3.0M1014.7 712.5l1.2 2.5M1047.8 776.2l0.7 1.4M1008.6 795.4l1.0 2.1M1109.9 789.3l1.1 2.3M1055.9 790.7l1.5 3.1M1094.0 650.5l1.2 2.4M1083.2 792.5l0.7 1.4M1048.7 548.5l1.0 2.0M1120.0 629.5l1.1 2.2M1082.4 778.5l1.6 3.2M1117.4 798.2l0.8 1.7M1133.7 602.6l0.7 1.5M1117.8 812.7l1.0 2.1M1118.6 819.9l0.9 1.9M1132.1 726.9l0.9 1.9M1095.3 800.6l0.8 1.6M1053.2 607.7l1.1 2.2M1138.0 770.8l1.4 2.9M1028.2 679.9l0.7 1.4M1030.6 649.4l1.4 2.8M1029.6 765.3l1.6 3.2M1139.0 776.3l1.3 2.6M1041.4 803.5l0.9 1.8M1139.9 821.5l1.2 2.5M1020.4 676.1l1.6 3.3M1148.7 790.6l0.9 1.9M1032.6 613.0l1.5 3.0M1160.9 784.1l1.4 2.9M1085.0 789.1l1.4 2.8M1021.8 809.0l1.7 3.6M1036.1 821.1l1.7 3.6M1102.8 759.6l1.5 3.2M1106.0 745.3l0.8 1.6M996.6 741.6l0.7 1.4M1019.9 818.1l0.9 1.9M1104.9 726.3l0.8 1.7M1050.4 662.3l0.9 1.7M1040.2 779.1l1.2 2.4M1125.9 751.9l1.6 3.3M1151.0 769.8l1.6 3.2M1129.7 603.6l0.9 1.8M1042.3 808.1l1.1 2.3M996.2 663.8l0.9 1.8M1101.4 751.1l1.7 3.5M1135.4 731.1l0.9 1.9M1135.6 725.5l1.7 3.5M1090.3 777.2l1.0 2.0M1002.5 622.7l1.2 2.4M1144.7 716.6l1.0 2.1M1036.5 651.5l1.2 2.4M1143.8 631.6l1.4 2.8M1036.3 731.8l1.3 2.7M1144.3 812.4l1.0 2.1M1121.1 718.5l0.9 1.8M1108.9 652.2l1.6 3.4M1092.7 704.0l1.1 2.2M1000.9 812.7l1.4 2.9M1045.3 690.7l1.4 2.9M1160.7 786.0l0.9 1.8M1147.9 737.3l1.3 2.7M1050.6 685.3l0.7 1.4M1060.1 769.5l0.9 1.9M1081.2 780.5l1.7 3.5M1028.5 644.4l1.6 3.4M1037.2 787.7l0.9 1.9M1004.1 730.5l1.3 2.7M1110.7 775.8l1.2 2.5M1106.6 621.4l1.4 2.9M1131.2 775.1l0.9 1.9M1032.0 724.5l0.9 1.9M1001.1 775.3l1.1 2.2M1107.1 675.4l0.8 1.7M1029.0 651.7l0.7 1.4M1004.4 747.6l0.7 1.4M1111.5 702.4l0.8 1.7M1085.4 741.6l1.5 3.0M1112.6 772.0l0.7 1.4M1047.8 574.4l0.8 1.7M1067.0 760.9l0.8 1.6M1044.8 742.3l1.2 2.4M1000.4 807.8l1.4 2.9M999.0 772.9l1.2 2.4M1044.9 792.9l0.8 1.6M1001.8 612.5l1.0 2.1M1002.5 770.8l1.4 2.9M1049.8 764.2l1.6 3.3M1126.8 707.1l1.3 2.6M1102.6 554.1l1.0 2.1M1099.3 663.6l1.4 2.8M1052.2 732.9l0.7 1.5M1023.6 741.5l0.7 1.5M1151.8 724.9l1.1 2.3M1016.5 799.7l1.7 3.4M1032.1 700.2l1.7 3.4M1039.7 780.2l1.0 2.0M1139.6 760.9l0.7 1.5M1072.4 697.5l1.0 2.0M1006.8 664.4l1.5 3.1M1100.5 736.6l1.7 3.5M1092.4 703.5l0.8 1.7M1085.3 765.9l1.3 2.6M1049.4 812.3l0.9 1.9M1011.7 713.6l1.1 2.3M1041.5 732.6l1.3 2.8M1049.1 672.1l0.9 1.8M1008.9 809.2l1.7 3.5M1147.1 808.5l1.7 3.5M1070.0 606.6l1.7 3.5M1116.9 642.5l0.7 1.4M1144.7 663.9l1.0 2.2M1123.5 762.4l0.7 1.5M1112.6 561.5l0.8 1.6M1145.0 662.1l1.0 2.0M1074.8 807.5l1.7 3.5M1015.4 821.3l1.5 3.0M1107.6 604.6l1.6 3.2M1107.4 659.2l1.6 3.3M1062.1 759.8l0.8 1.6M1157.6 770.4l1.3 2.7M1121.5 723.9l1.5 3.1M1109.1 730.7l1.7 3.5M1028.6 816.1l1.0 2.0M1090.6 646.2l1.0 2.0M1132.9 743.4l1.6 3.2M999.1 687.9l1.3 2.6M1132.1 757.3l1.6 3.3M1089.9 809.5l1.6 3.2M1033.7 710.2l0.8 1.6M1125.4 770.2l1.5 3.1M1011.4 713.0l1.7 3.6M1044.5 811.3l1.0 2.1M1121.7 658.4l1.5 3.1M1004.8 671.5l0.7 1.5M1154.1 818.5l0.7 1.4M1088.9 668.3l1.2 2.4M1089.6 780.5l1.5 3.0M1109.9 657.4l1.0 2.0M998.5 638.2l1.1 2.2M1053.3 677.7l0.7 1.4M1100.1 761.8l1.7 3.5M1044.7 647.3l1.4 2.8M1012.4 712.4l1.2 2.5M1105.0 718.7l1.7 3.4M1037.1 767.1l0.7 1.4M1032.8 734.3l0.7 1.5M1140.4 611.0l0.8 1.6M1130.2 634.1l1.3 2.6M1050.2 803.9l1.4 2.8M1041.0 668.6l0.7 1.5M1043.1 763.2l1.6 3.3M1046.9 771.2l1.4 2.8M1117.1 651.0l1.2 2.5M1113.9 817.5l1.7 3.4M997.0 791.9l1.1 2.3M1085.0 643.7l0.9 1.9M1097.2 582.7l1.0 2.1M1129.3 720.6l1.0 2.1M1076.4 773.3l1.1 2.2M1072.4 635.9l1.7 3.6M1055.0 783.8l1.4 2.8M1109.3 815.0l1.1 2.3M1020.5 800.9l0.9 1.9M1008.2 704.2l1.7 3.4M1125.0 685.2l1.5 3.1M1025.2 648.3l1.5 3.1M1082.9 679.2l1.4 2.9M1153.3 756.9l1.5 3.1M1065.4 714.9l1.4 2.9M1030.2 589.7l1.3 2.6M1162.8 768.6l1.2 2.5M1046.5 727.6l1.2 2.4M1108.1 705.3l1.0 2.1M1046.6 767.5l0.9 1.8M1070.0 802.5l1.2 2.5M1078.6 667.3l1.7 3.5M1067.9 796.9l0.8 1.6M1038.0 588.4l1.6 3.3M1154.9 732.1l1.3 2.7M1041.0 634.2l1.3 2.8M1108.1 723.1l1.3 2.7M1145.9 770.0l1.0 2.1M1117.9 786.4l1.6 3.3M1077.1 577.7l1.0 2.1M1059.6 683.6l0.8 1.7M1098.6 801.8l1.2 2.4M1062.6 759.6l1.5 3.1M1039.3 789.0l1.3 2.6M1160.3 731.6l0.9 1.8M1119.5 792.3l1.6 3.3M1018.5 793.1l0.9 1.8M1105.3 815.2l1.1 2.3M1131.0 768.4l0.8 1.6M1098.9 810.1l1.1 2.2M1117.6 782.8l1.5 3.0M1054.7 667.8l0.8 1.6M1043.9 734.8l0.9 1.8M1139.3 689.2l1.1 2.2M1018.5 709.1l1.3 2.7M1030.4 789.1l1.7 3.6M1119.8 598.7l1.7 3.4M1128.2 796.6l1.0 2.1M1112.4 666.0l1.1 2.2M1066.5 755.4l0.7 1.4M1047.7 778.1l1.4 2.9M995.8 800.1l1.3 2.6M1045.4 749.2l1.6 3.4M1057.4 566.9l1.1 2.3M1072.2 590.3l1.1 2.3M1051.3 737.1l1.3 2.6M1038.5 785.6l0.9 1.9M1058.2 675.9l1.5 3.0M1019.6 699.8l1.2 2.4M1022.9 794.4l1.2 2.4M1018.0 661.4l1.0 2.0M1072.8 779.3l1.2 2.4M1147.0 810.8l0.9 1.9M1060.3 772.2l1.0 2.1M1118.4 552.9l1.1 2.2M1054.6 751.9l0.7 1.5M1031.7 657.0l1.4 2.9M1114.0 787.7l1.3 2.6M1158.2 712.7l1.3 2.7M1087.7 738.7l1.3 2.6M1113.7 783.5l1.2 2.5M1083.2 769.2l0.9 1.9M1038.1 808.8l0.9 1.9M1001.1 726.5l1.7 3.5M1163.5 819.7l1.0 2.0M1142.0 769.2l1.0 2.1M1021.8 813.8l1.6 3.2M1131.2 685.6l1.5 3.2M1032.2 733.2l0.8 1.6M1070.3 724.6l1.1 2.2M1098.9 712.3l1.7 3.5M1104.5 800.2l0.7 1.4M1142.1 787.6l1.6 3.2M1012.2 786.9l1.0 2.1M1147.1 690.3l1.6 3.4M1021.5 665.6l1.7 3.5M1053.9 631.2l0.7 1.5M1040.6 636.4l1.0 2.0M999.8 716.2l0.7 1.4M1046.5 629.5l1.3 2.7M1048.7 592.8l1.3 2.6M998.3 598.7l1.2 2.5M1101.0 663.3l1.3 2.7M1014.0 765.7l1.0 2.1M1017.2 783.6l0.8 1.6M1096.6 780.5l1.2 2.4M1063.5 587.2l1.0 2.1M1138.0 608.1l1.1 2.3M1036.3 724.2l1.0 2.0M1034.8 710.5l0.8 1.7M1109.0 638.3l1.3 2.7M1035.4 661.8l1.6 3.4M1103.9 797.4l1.3 2.7M1120.2 788.6l0.8 1.6M1106.7 637.8l1.0 2.1M1038.8 651.9l1.7 3.4M1145.5 671.6l1.7 3.6M1114.4 781.3l1.0 2.1M1064.8 645.6l0.9 1.8M1144.1 764.7l1.3 2.7M1059.5 786.5l1.0 2.0M1079.5 790.4l1.1 2.3M1117.2 716.8l1.0 2.0M1065.1 625.4l1.0 2.0M1058.2 659.3l1.0 2.0M1035.1 660.1l1.1 2.3M1038.6 594.5l1.6 3.2M1008.4 753.7l1.0 2.0M1027.2 684.1l1.7 3.5M1011.7 655.6l1.4 2.9M1094.4 794.1l1.6 3.4M1009.4 619.8l0.7 1.4M995.2 593.2l1.5 3.1M1160.4 791.0l1.7 3.5M1040.4 787.3l0.9 1.8M1057.3 622.6l0.8 1.6M1141.4 712.7l0.9 1.8M1067.7 713.2l1.3 2.7M1077.6 817.3l1.0 2.0M1070.0 806.0l0.7 1.4M1149.3 662.5l0.9 1.9M1065.3 699.7l1.0 2.1M1120.8 691.2l0.8 1.7M1055.0 730.0l1.2 2.5M1031.5 655.2l1.0 2.0M1160.7 796.1l0.9 1.8M1040.5 804.5l1.4 2.8M1041.8 660.8l1.2 2.5M1002.4 801.4l0.8 1.7M1087.3 795.1l1.5 3.1M1027.2 684.5l1.6 3.2M1078.0 590.6l0.7 1.4M1125.0 618.1l1.2 2.4M1115.8 693.7l1.4 2.9M1042.4 805.8l1.3 2.7M1081.8 707.7l1.7 3.5M1046.5 817.6l1.5 3.2M1090.8 634.0l1.0 1.9M1150.9 795.7l1.4 2.8M1082.0 818.9l1.3 2.7M1031.0 768.6l1.6 3.3M1102.5 738.1l1.0 2.1M1091.1 651.5l1.5 3.0M1003.7 718.7l1.2 2.4M1009.9 678.9l0.8 1.6M1074.1 777.3l1.5 3.1M1036.6 777.3l0.7 1.4M1040.5 675.9l1.1 2.3M1033.9 688.5l1.7 3.5M1007.2 757.2l1.2 2.5M1024.0 732.6l1.6 3.3M1050.9 764.1l1.7 3.5M1108.3 721.0l0.8 1.7M1097.9 724.6l1.7 3.4M1077.2 587.3l1.1 2.3M1129.8 814.7l1.5 3.1M1078.8 777.7l1.6 3.3M1051.4 772.3l1.7 3.4M1141.8 802.3l1.5 3.1M1119.9 629.7l0.8 1.6M1133.4 738.7l0.8 1.7M1102.8 590.9l1.5 3.1M1000.6 718.3l1.6 3.3M1035.8 638.1l1.1 2.3M1101.3 599.0l1.0 2.0M1128.3 772.9l1.1 2.2M1156.0 697.1l1.4 2.8M1050.4 698.7l1.5 3.1M1022.9 715.6l1.4 2.9M1122.7 815.4l1.2 2.4M1064.9 742.7l1.3 2.7M1052.3 752.0l1.2 2.5M996.0 634.3l0.8 1.6M1078.7 568.7l1.6 3.4M1162.4 752.9l1.4 2.9M1144.3 682.0l1.2 2.5M1061.1 690.9l0.7 1.4M1072.1 662.2l1.0 2.1M1026.1 668.3l1.2 2.5M1036.8 676.8l0.7 1.4M1116.9 733.9l1.0 2.1M1029.7 760.4l1.0 2.0M1150.4 640.9l1.0 2.0M1112.5 770.1l1.7 3.5M1074.4 762.1l1.2 2.6M1047.3 810.1l1.3 2.6M1109.4 753.4l0.8 1.6M1057.1 807.9l1.1 2.2M1051.6 778.5l1.6 3.3M1107.3 636.2l1.1 2.3M1022.4 651.6l1.4 2.8M1117.0 808.0l0.7 1.5M1039.4 801.2l1.6 3.2M1138.2 783.5l1.7 3.5M1040.3 709.9l1.7 3.5M1021.4 718.4l1.6 3.3M1084.0 678.3l0.7 1.4M1073.3 762.3l0.9 1.9M1058.7 801.8l1.7 3.4M995.1 733.3l1.2 2.5M1121.3 624.5l1.2 2.5M1037.0 764.7l1.3 2.7M1030.8 677.4l0.7 1.5M1039.5 809.7l1.3 2.7M1024.4 698.7l1.6 3.4M1094.3 781.0l1.7 3.6M1059.0 765.9l1.0 2.0M1109.7 779.7l1.4 2.8M1091.9 682.6l1.1 2.3M1057.4 693.8l0.9 1.8M1045.7 694.4l1.5 3.1M1123.2 636.3l0.9 1.8M1118.2 734.4l1.4 2.9M1088.3 761.6l1.0 2.1M1103.6 734.3l1.4 2.9M1102.0 744.7l1.7 3.4M1073.4 721.1l0.8 1.6M1158.5 796.1l1.3 2.7M1037.8 785.9l1.7 3.5M1088.4 755.9l0.8 1.7M1078.9 769.6l0.7 1.5M1121.7 776.8l1.2 2.4M996.2 753.9l1.2 2.5M1003.8 821.9l1.3 2.7M1046.8 648.8l1.2 2.4M1108.0 735.4l1.3 2.8M1114.7 665.0l0.8 1.7M1118.8 774.0l1.6 3.2M1062.5 617.8l1.2 2.4M1140.4 724.4l1.4 2.8M1054.4 788.5l1.1 2.4M1071.0 756.6l1.2 2.5M1124.7 703.3l1.4 2.8M1113.9 738.3l1.0 2.1M1083.6 648.7l1.0 2.1M1028.3 815.1l1.3 2.6M1035.1 546.9l1.6 3.4M1068.0 752.5l1.3 2.7M1110.5 625.2l0.8 1.6M1139.3 730.7l1.2 2.5M1013.9 735.1l1.0 2.1M1115.1 812.4l1.3 2.6M1008.8 750.3l0.7 1.5M1075.0 746.8l1.6 3.4M1050.8 792.9l0.9 1.9M1110.2 712.0l0.9 1.8M1075.8 707.8l0.7 1.4M1021.7 722.1l1.1 2.3M1088.5 813.6l1.5 3.1M1027.0 725.5l0.9 1.9M1038.7 635.6l1.7 3.5M1097.6 655.1l0.7 1.4M1093.7 768.1l1.2 2.5M1007.3 813.5l0.7 1.4M1067.7 796.8l1.4 2.8M1113.0 814.5l1.6 3.3M1119.4 795.6l1.3 2.6M1094.1 748.3l1.1 2.3M1127.3 670.1l1.7 3.4M1106.6 729.0l1.3 2.6M1047.0 740.9l1.7 3.5M1129.7 792.3l0.9 1.8M1006.4 779.1l1.5 3.0M1014.5 790.6l1.6 3.3M1039.0 697.5l0.8 1.6M1045.6 651.4l1.4 2.8M1106.4 607.5l1.2 2.5M1040.3 768.9l0.8 1.7M1151.7 710.1l1.6 3.4M1017.4 737.4l0.9 1.9M1074.5 609.4l0.9 1.9M1100.8 804.5l0.9 1.8M1142.5 718.8l1.5 3.1M1085.9 634.7l1.1 2.3M1005.5 593.7l1.4 2.8M1056.4 805.7l0.9 1.9M1109.5 715.2l0.8 1.6M1087.8 821.9l1.4 3.0M1000.8 662.9l1.4 3.0M1075.1 777.6l1.5 3.0M1107.6 660.7l0.8 1.6M1076.2 804.4l1.7 3.5M1150.5 731.2l1.5 3.0M1101.8 750.2l0.7 1.5M1057.2 693.2l1.6 3.2M1091.9 820.4l1.5 3.1M1088.7 768.6l1.1 2.3M1155.8 812.8l1.0 2.0M1046.1 718.7l1.6 3.2M1086.7 630.5l1.5 3.2M1130.1 745.7l1.4 2.8M1002.3 644.4l1.5 3.1M1079.5 639.0l1.1 2.4M1000.4 699.5l1.0 2.1M1098.4 748.1l1.1 2.3M1084.6 682.0l1.1 2.2M1022.7 784.3l1.3 2.7M1014.6 751.2l0.7 1.5M1079.2 772.5l1.0 2.1M1115.9 764.0l0.8 1.7M1050.6 695.1l0.8 1.5M1028.1 768.9l1.2 2.4M1046.1 755.8l0.7 1.4M1044.5 784.4l1.7 3.5M1098.7 688.9l0.8 1.6M1132.6 775.4l1.0 2.0M1133.5 784.6l1.2 2.5M1073.4 657.5l1.3 2.6M1097.7 733.6l0.8 1.7M1101.4 626.8l1.4 2.9M1107.5 614.9l0.7 1.5M1011.6 789.9l1.4 2.9M1062.6 769.1l1.7 3.5M1007.3 714.8l1.5 3.1M1015.9 820.8l1.4 2.8M1143.9 627.3l0.7 1.5M1101.0 683.6l1.5 3.2M1037.0 535.9l0.9 1.8M1116.9 685.1l1.4 2.8M1078.1 736.5l1.1 2.3M1157.4 796.9l1.7 3.5M1149.5 816.9l1.3 2.6M1111.3 768.1l1.0 2.2M1110.4 729.1l1.3 2.6M1016.5 746.5l1.6 3.2M1037.0 642.2l1.6 3.3M1016.9 666.2l1.1 2.2M1130.7 807.0l1.2 2.4M1026.1 626.9l1.5 3.1M1032.2 681.1l1.3 2.8M1096.3 642.5l0.8 1.6M1144.8 709.6l1.0 2.1M1088.1 659.6l1.1 2.4M1090.1 787.1l1.0 2.1M1149.4 747.1l0.9 1.9M1058.2 803.8l0.7 1.4M1016.4 819.3l1.0 2.1M1117.3 759.9l1.7 3.5M1094.9 679.9l0.8 1.6M1070.4 784.4l0.8 1.7M1076.4 737.7l1.2 2.5M1160.1 820.3l1.0 2.1M1088.0 741.1l1.3 2.6M1092.7 629.4l1.6 3.3M1106.9 761.9l1.7 3.5M1118.7 794.4l1.3 2.6M1128.0 799.8l1.6 3.2M1096.7 752.1l1.7 3.6M1092.8 576.1l1.4 2.9M1024.2 736.9l0.7 1.5M996.5 779.5l1.3 2.6M1095.5 694.7l1.5 3.1M1038.6 814.7l1.0 2.1M1071.8 792.5l1.4 2.8M1090.7 760.1l0.8 1.6M1150.3 767.5l1.3 2.7M1125.3 727.4l0.9 1.9M1022.9 663.9l1.1 2.3M1007.0 737.5l1.3 2.7M1003.8 817.0l1.1 2.2M1110.9 623.8l0.9 1.7M1055.7 796.9l1.5 3.1M1061.5 800.2l0.7 1.5M1001.3 817.7l0.8 1.5M1157.6 706.1l1.5 3.2M1004.0 804.3l0.8 1.6M1033.5 708.0l1.1 2.3M1093.0 785.2l1.0 2.0M1011.8 779.9l1.0 2.0M1119.9 746.4l0.8 1.6M1141.5 603.4l1.3 2.7M1089.1 616.2l0.9 1.9M1021.2 614.8l1.0 2.1M1030.8 805.8l0.7 1.4M1088.9 604.6l1.6 3.3M1047.2 766.7l1.1 2.2M996.7 798.2l1.1 2.2M1013.6 717.4l1.2 2.5M1045.1 707.0l1.5 3.1M1105.7 752.2l1.6 3.2M1098.5 592.9l1.4 2.8M1113.1 784.8l1.0 2.0M1085.7 713.1l1.1 2.2M1129.3 742.2l1.1 2.3M1050.0 706.1l1.4 2.9M1093.4 727.2l0.9 1.9M1102.2 786.0l1.5 3.1M1017.0 591.2l1.3 2.6M1062.2 736.4l0.9 1.8M997.1 684.1l0.8 1.6M1125.0 762.2l1.7 3.4M1155.0 738.1l1.1 2.3M1032.1 821.4l1.4 2.8M1107.1 796.5l1.2 2.4M1132.5 722.1l0.8 1.7M1086.8 573.8l1.0 2.0M1013.6 707.9l1.2 2.4M1043.8 793.8l1.6 3.2M1014.5 748.9l1.6 3.3M1119.3 805.5l0.7 1.4M1041.2 624.5l1.0 2.0M1128.3 675.4l1.2 2.4M1059.5 725.2l1.1 2.4M1070.1 782.9l0.8 1.7M1077.2 632.8l1.1 2.2M1133.2 728.1l1.3 2.6M1115.3 652.7l1.7 3.4M1011.5 606.4l0.7 1.5M1029.3 713.0l1.4 2.9M1154.1 777.6l1.4 2.9M1065.4 700.4l1.0 2.0M1022.8 818.0l0.7 1.5M1003.1 647.8l1.0 2.0M1057.2 802.6l1.5 3.0M1071.3 805.8l0.9 1.8M1044.0 791.3l1.0 2.0M1034.2 668.4l0.7 1.5M1064.9 594.9l1.7 3.5M1160.6 727.5l1.0 2.0M1147.7 734.4l1.4 2.8M1151.0 791.3l1.4 3.0M1091.7 749.8l1.5 3.0M1138.1 615.6l0.9 1.8M1042.0 676.6l1.2 2.5M1128.1 682.4l1.1 2.3M1091.1 804.8l1.3 2.7M1026.0 774.9l1.0 2.1M1160.4 771.5l1.7 3.4M1152.7 759.8l1.6 3.3M1077.4 660.8l1.0 2.1M1051.4 818.9l1.7 3.5M1015.6 612.6l0.7 1.5M1039.7 770.1l0.8 1.7M1124.2 620.3l1.4 2.9" stroke="#ffff00" stroke-opacity="0.55" stroke-width="3.4" stroke-linecap="round" fill="none"/>
</g>
<path d="M1166.8,387.6 L1166.3,376.0 L1165.7,329.0 L1161.9,282.5 L1156.7,235.9 L1150.1,189.3 L1141.6,143.7 L1131.1,98.1 L1118.4,56.5 L1116.3,49.2" fill="none" stroke="#000" stroke-width="6" stroke-dasharray="23 23.7"/>
<path d="M1166.8,813.9 L1166.3,802.3 L1166.0,755.3 L1162.5,708.8 L1157.7,662.2 L1151.6,615.6 L1143.8,570.0 L1134.3,524.4 L1122.0,482.8 L1119.9,475.5" fill="none" stroke="#000" stroke-width="6" stroke-dasharray="23 23.7"/>
<rect x="1352.5" y="40.5" width="26" height="356.5" fill="url(#cbar)" stroke="#262626" stroke-width="1.1"/>
<path d="M1378.5,87.3h-4.5M1378.5,146.8h-4.5M1378.5,206.5h-4.5M1378.5,266.0h-4.5M1378.5,325.5h-4.5M1378.5,384.9h-4.5" stroke="#262626" stroke-width="1"/>
<rect x="1352.5" y="467.1" width="26" height="356.5" fill="url(#cbar)" stroke="#262626" stroke-width="1.1"/>
<path d="M1378.5,513.9h-4.5M1378.5,573.4h-4.5M1378.5,633.1h-4.5M1378.5,692.6h-4.5M1378.5,752.1h-4.5M1378.5,811.5h-4.5" stroke="#262626" stroke-width="1"/>
<path d="M993.5,397.0V40.0H1340.0" fill="none" stroke="#262626" stroke-width="1.1"/>
<path d="M1340.0,40.0V397.0H993.5" fill="none" stroke="#262626" stroke-width="1.1"/>
<path d="M993.5,387.6h4M993.5,297.4h4M993.5,207.2h4M993.5,117.0h4" stroke="#333" stroke-width="1"/>
<path d="M1001.7,397.0v-4M1166.8,397.0v-4M1331.9,397.0v-4" stroke="#333" stroke-width="1"/>
<path d="M993.5,823.6V466.6H1340.0" fill="none" stroke="#262626" stroke-width="1.1"/>
<path d="M1340.0,466.6V823.6H993.5" fill="none" stroke="#262626" stroke-width="1.1"/>
<path d="M993.5,814.2h4M993.5,724.0h4M993.5,633.8h4M993.5,543.6h4" stroke="#333" stroke-width="1"/>
<path d="M1001.7,823.6v-4M1166.8,823.6v-4M1331.9,823.6v-4" stroke="#333" stroke-width="1"/>
<g><polygon points="292.5,250.0 293.5,240.0 295.2,214.0 297.5,195.0 299.8,178.0 302.0,156.0 304.6,134.5 306.3,120.0 307.6,108.0 310.7,89.4 313.9,70.7 315.4,62.4 316.8,60.8 319.0,63.5 325.3,69.7 327.3,70.7 336.7,70.7 341.9,69.2 348.1,65.6 353.8,61.2 358.5,61.0 364.7,63.3 381.3,63.5 385.4,62.4 391.7,60.9 400.0,61.2 404.1,62.4 419.7,62.4 432.1,60.4 434.2,61.6 432.1,63.2 424.9,64.2 414.5,66.6 404.1,69.2 393.7,71.3 383.4,74.9 373.0,78.5 362.6,83.2 354.3,87.9 345.0,94.6 338.8,99.8 333.6,105.0 328.4,112.2 324.2,118.5 320.1,126.8 316.5,134.0 312.5,143.0 309.5,150.0 307.7,156.2 305.0,168.0 303.4,177.9 301.2,190.0 299.5,200.0 298.3,214.0 296.8,230.0 294.7,250.0" fill="#ff0000"/><polyline points="289.8,363.5 290.2,345.0 291.0,320.0 292.2,290.0 293.5,262.0 294.8,240.0" fill="none" stroke="#ff0000" stroke-width="3.6" stroke-linecap="round"/></g><g transform="rotate(180 284 217.6)"><polygon points="292.5,250.0 293.5,240.0 295.2,214.0 297.5,195.0 299.8,178.0 302.0,156.0 304.6,134.5 306.3,120.0 307.6,108.0 310.7,89.4 313.9,70.7 315.4,62.4 316.8,60.8 319.0,63.5 325.3,69.7 327.3,70.7 336.7,70.7 341.9,69.2 348.1,65.6 353.8,61.2 358.5,61.0 364.7,63.3 381.3,63.5 385.4,62.4 391.7,60.9 400.0,61.2 404.1,62.4 419.7,62.4 432.1,60.4 434.2,61.6 432.1,63.2 424.9,64.2 414.5,66.6 404.1,69.2 393.7,71.3 383.4,74.9 373.0,78.5 362.6,83.2 354.3,87.9 345.0,94.6 338.8,99.8 333.6,105.0 328.4,112.2 324.2,118.5 320.1,126.8 316.5,134.0 312.5,143.0 309.5,150.0 307.7,156.2 305.0,168.0 303.4,177.9 301.2,190.0 299.5,200.0 298.3,214.0 296.8,230.0 294.7,250.0" fill="#ff0000"/><polyline points="289.8,363.5 290.2,345.0 291.0,320.0 292.2,290.0 293.5,262.0 294.8,240.0" fill="none" stroke="#ff0000" stroke-width="3.6" stroke-linecap="round"/></g>
<path d="M284,57V191.5M284,212.5V373.7" stroke="#009245" stroke-width="4"/>
<text x="276.25" y="211.05" font-size="25.38" font-family="Liberation Serif" fill="#000">Δ</text>
<path d="M276,217.7H292" stroke="#231815" stroke-width="1.6"/>
<path d="M273.4,217.7l4.6,-3v6z M294.6,217.7l-4.6,-3v6z" fill="#231815"/>
<g><polygon points="716.5,163.0 719.5,153.6 723.5,140.0 727.8,128.5 731.0,117.0 734.8,103.5 738.0,90.0 741.8,72.8 744.5,60.0 746.0,54.3 750.1,58.9 755.7,62.8 765.4,63.1 773.8,60.3 783.5,54.7 789.1,56.1 808.6,57.3 819.7,54.7 828.1,55.9 839.2,56.1 857.3,54.3 858.8,56.0 853.2,57.7 839.2,60.3 825.3,63.1 811.4,67.3 797.5,72.2 783.5,78.4 769.6,86.8 758.5,96.5 748.7,107.7 741.8,117.4 734.8,131.3 727.8,145.3 720.9,159.2 718.5,164.5" fill="#ff0000"/><polyline points="709.1,55.0 709.4,70.0 709.7,86.8 710.3,105.0 711.1,121.6 712.0,133.0 713.2,145.3 714.5,155.0 716.5,161.5 718.0,163.0" fill="none" stroke="#ff0000" stroke-width="3.5" stroke-linecap="round"/></g><g transform="rotate(180 710.5 217.5)"><polygon points="716.5,163.0 719.5,153.6 723.5,140.0 727.8,128.5 731.0,117.0 734.8,103.5 738.0,90.0 741.8,72.8 744.5,60.0 746.0,54.3 750.1,58.9 755.7,62.8 765.4,63.1 773.8,60.3 783.5,54.7 789.1,56.1 808.6,57.3 819.7,54.7 828.1,55.9 839.2,56.1 857.3,54.3 858.8,56.0 853.2,57.7 839.2,60.3 825.3,63.1 811.4,67.3 797.5,72.2 783.5,78.4 769.6,86.8 758.5,96.5 748.7,107.7 741.8,117.4 734.8,131.3 727.8,145.3 720.9,159.2 718.5,164.5" fill="#ff0000"/><polyline points="709.1,55.0 709.4,70.0 709.7,86.8 710.3,105.0 711.1,121.6 712.0,133.0 713.2,145.3 714.5,155.0 716.5,161.5 718.0,163.0" fill="none" stroke="#ff0000" stroke-width="3.5" stroke-linecap="round"/></g>
<path d="M591,218H839.7" stroke="#754c24" stroke-width="4"/>
<polygon points="271.0,654.0 273.0,620.3 275.0,590.2 276.0,560.2 277.0,530.0 279.0,510.0 282.0,502.0 287.0,496.0 290.0,488.4 297.0,487.0 433.4,487.3 434.3,488.2 433.0,489.0 420.3,492.0 405.0,497.5 390.3,504.1 384.2,507.0 378.3,513.1 374.2,520.0 364.2,508.0 350.2,516.0 338.1,526.1 328.1,538.1 320.1,550.1 314.1,562.2 309.1,576.2 305.1,590.2 302.1,604.2 299.1,620.3 297.1,640.3 295.7,660.0" fill="#ff7979"/><polygon points="134.0,800.4 150.0,801.2 270.3,801.4 278.3,798.4 286.3,786.3 289.3,770.3 290.3,740.2 292.4,710.2 294.4,680.1 296.4,650.0 298.4,628.0 272.0,628.0 270.3,650.0 268.3,666.1 264.3,688.1 260.3,706.2 254.3,724.2 246.3,742.2 234.2,758.3 220.2,770.3 203.2,780.0 193.1,767.3 184.1,781.3 170.1,788.3 150.0,795.4" fill="#ff7979"/>
<g fill="#fff"><circle cx="288.4" cy="681.5" r="1.3"/><circle cx="281.0" cy="561.6" r="1.4"/><circle cx="287.1" cy="495.6" r="1.3"/><circle cx="281.7" cy="634.4" r="0.9"/><circle cx="282.5" cy="570.5" r="1.1"/><circle cx="289.2" cy="660.0" r="1.3"/><circle cx="289.4" cy="680.7" r="0.9"/><circle cx="284.3" cy="542.1" r="0.7"/><circle cx="284.1" cy="504.7" r="1.1"/><circle cx="285.4" cy="769.2" r="1.1"/><circle cx="281.2" cy="643.1" r="0.7"/><circle cx="285.0" cy="551.7" r="0.9"/><circle cx="278.3" cy="604.9" r="1.4"/><circle cx="280.9" cy="540.3" r="1.4"/><circle cx="287.5" cy="646.9" r="1.2"/><circle cx="279.9" cy="716.5" r="1.1"/><circle cx="287.8" cy="646.3" r="1.0"/><circle cx="279.4" cy="673.5" r="1.0"/><circle cx="279.7" cy="590.9" r="1.4"/><circle cx="288.4" cy="607.8" r="1.2"/><circle cx="285.6" cy="675.5" r="1.2"/><circle cx="282.6" cy="539.2" r="0.9"/><circle cx="279.4" cy="614.7" r="1.5"/><circle cx="284.8" cy="558.5" r="0.9"/><circle cx="286.1" cy="756.2" r="0.8"/><circle cx="289.2" cy="747.5" r="1.4"/><circle cx="280.2" cy="664.9" r="0.9"/><circle cx="284.5" cy="772.4" r="0.8"/><circle cx="285.9" cy="759.2" r="1.2"/><circle cx="282.5" cy="606.9" r="0.9"/><circle cx="287.1" cy="505.4" r="1.1"/><circle cx="282.1" cy="658.3" r="1.3"/><circle cx="283.2" cy="501.6" r="0.7"/><circle cx="288.0" cy="530.9" r="1.2"/><circle cx="283.9" cy="622.5" r="1.4"/><circle cx="284.3" cy="597.3" r="1.2"/><circle cx="283.6" cy="600.6" r="1.3"/><circle cx="280.5" cy="766.8" r="1.4"/><circle cx="286.6" cy="495.6" r="1.3"/><circle cx="282.4" cy="535.0" r="1.4"/><circle cx="285.5" cy="498.3" r="1.3"/><circle cx="286.2" cy="647.9" r="0.9"/><circle cx="281.7" cy="553.6" r="0.8"/><circle cx="288.0" cy="597.8" r="1.2"/><circle cx="281.0" cy="596.0" r="1.5"/><circle cx="288.7" cy="627.3" r="1.1"/><circle cx="288.1" cy="650.3" r="1.3"/><circle cx="283.3" cy="668.2" r="1.4"/><circle cx="288.0" cy="617.5" r="0.8"/><circle cx="283.8" cy="623.0" r="1.5"/><circle cx="286.2" cy="569.3" r="1.2"/><circle cx="285.7" cy="709.1" r="1.5"/><circle cx="282.3" cy="593.8" r="0.9"/><circle cx="281.0" cy="509.2" r="1.4"/><circle cx="280.1" cy="746.1" r="1.2"/><circle cx="284.8" cy="637.8" r="1.2"/><circle cx="288.0" cy="586.0" r="1.1"/><circle cx="285.6" cy="682.4" r="0.8"/><circle cx="282.7" cy="512.6" r="1.3"/><circle cx="286.8" cy="738.6" r="0.8"/><circle cx="287.2" cy="768.0" r="1.4"/><circle cx="288.3" cy="651.0" r="0.7"/><circle cx="280.1" cy="503.1" r="0.9"/><circle cx="279.9" cy="568.6" r="1.2"/><circle cx="284.6" cy="505.7" r="0.8"/><circle cx="279.1" cy="697.4" r="0.9"/><circle cx="284.3" cy="775.5" r="1.3"/><circle cx="285.4" cy="691.4" r="0.9"/><circle cx="279.1" cy="666.3" r="1.3"/><circle cx="287.0" cy="782.0" r="0.7"/><circle cx="281.5" cy="595.6" r="0.8"/><circle cx="287.3" cy="682.0" r="1.0"/><circle cx="287.6" cy="752.8" r="0.8"/><circle cx="288.5" cy="724.1" r="0.9"/><circle cx="285.5" cy="666.1" r="1.2"/><circle cx="285.0" cy="522.9" r="1.2"/><circle cx="287.6" cy="741.2" r="1.0"/><circle cx="288.3" cy="710.6" r="1.4"/><circle cx="278.4" cy="542.5" r="1.2"/><circle cx="283.7" cy="558.4" r="1.5"/><circle cx="280.9" cy="607.8" r="1.1"/><circle cx="280.0" cy="691.2" r="1.0"/><circle cx="284.9" cy="534.1" r="1.4"/><circle cx="282.1" cy="607.1" r="1.1"/><circle cx="280.4" cy="558.5" r="1.0"/><circle cx="279.3" cy="631.2" r="1.3"/><circle cx="281.9" cy="667.7" r="0.8"/><circle cx="280.3" cy="723.0" r="0.8"/><circle cx="279.1" cy="533.2" r="1.4"/><circle cx="281.2" cy="574.8" r="1.4"/><circle cx="280.8" cy="680.0" r="1.0"/><circle cx="282.9" cy="759.2" r="1.3"/><circle cx="285.6" cy="523.0" r="1.3"/><circle cx="286.2" cy="741.7" r="1.0"/><circle cx="283.6" cy="513.3" r="1.3"/><circle cx="280.7" cy="551.3" r="1.1"/><circle cx="288.6" cy="718.5" r="0.8"/><circle cx="286.1" cy="549.3" r="1.2"/><circle cx="289.7" cy="710.3" r="1.5"/><circle cx="287.3" cy="746.9" r="1.0"/><circle cx="280.8" cy="686.4" r="1.3"/><circle cx="286.7" cy="721.3" r="1.1"/><circle cx="282.6" cy="607.5" r="0.7"/><circle cx="284.8" cy="747.3" r="1.0"/><circle cx="286.3" cy="658.4" r="1.0"/><circle cx="288.9" cy="743.2" r="1.0"/><circle cx="285.9" cy="535.3" r="1.5"/><circle cx="285.4" cy="538.4" r="1.4"/><circle cx="280.3" cy="770.2" r="0.8"/><circle cx="280.4" cy="790.4" r="0.8"/><circle cx="283.5" cy="666.5" r="1.3"/><circle cx="287.3" cy="551.2" r="0.9"/><circle cx="279.6" cy="724.7" r="1.1"/><circle cx="282.5" cy="503.8" r="0.9"/><circle cx="283.8" cy="709.9" r="0.7"/><circle cx="286.7" cy="792.6" r="1.4"/><circle cx="282.0" cy="568.0" r="0.9"/><circle cx="278.6" cy="531.5" r="1.1"/><circle cx="280.0" cy="530.9" r="1.4"/><circle cx="280.5" cy="639.3" r="1.2"/><circle cx="283.4" cy="573.8" r="0.9"/><circle cx="285.2" cy="648.8" r="1.1"/><circle cx="286.5" cy="612.7" r="1.4"/><circle cx="279.4" cy="547.8" r="0.8"/><circle cx="287.5" cy="787.9" r="0.9"/><circle cx="281.1" cy="785.0" r="1.1"/><circle cx="288.2" cy="643.2" r="0.7"/><circle cx="284.3" cy="588.6" r="0.8"/><circle cx="282.7" cy="565.0" r="1.4"/><circle cx="287.9" cy="722.3" r="1.3"/><circle cx="288.1" cy="706.3" r="1.2"/><circle cx="282.2" cy="714.7" r="0.8"/><circle cx="280.7" cy="721.0" r="1.4"/><circle cx="282.3" cy="673.0" r="1.4"/><circle cx="283.3" cy="540.5" r="0.8"/><circle cx="284.4" cy="783.6" r="1.3"/><circle cx="286.3" cy="578.6" r="1.3"/><circle cx="289.0" cy="687.1" r="1.0"/><circle cx="285.6" cy="618.5" r="1.4"/><circle cx="285.1" cy="594.5" r="0.9"/><circle cx="286.8" cy="659.5" r="0.8"/><circle cx="279.1" cy="712.4" r="1.5"/><circle cx="282.8" cy="634.6" r="1.3"/><circle cx="286.3" cy="651.0" r="0.8"/><circle cx="284.6" cy="662.8" r="1.4"/><circle cx="283.4" cy="505.9" r="1.2"/><circle cx="279.5" cy="659.2" r="1.2"/><circle cx="279.9" cy="560.7" r="1.4"/><circle cx="282.6" cy="553.4" r="1.3"/><circle cx="284.9" cy="706.2" r="1.3"/><circle cx="285.0" cy="633.7" r="1.4"/><circle cx="285.8" cy="697.4" r="1.0"/><circle cx="282.9" cy="661.5" r="1.3"/><circle cx="283.1" cy="608.1" r="1.3"/><circle cx="282.1" cy="645.1" r="1.4"/><circle cx="287.1" cy="608.3" r="1.3"/><circle cx="285.9" cy="628.2" r="0.7"/><circle cx="287.2" cy="610.9" r="1.2"/><circle cx="285.7" cy="661.3" r="1.2"/><circle cx="283.2" cy="669.1" r="0.8"/><circle cx="281.1" cy="581.8" r="1.0"/><circle cx="282.3" cy="793.7" r="1.1"/><circle cx="284.3" cy="605.5" r="1.5"/><circle cx="282.9" cy="760.7" r="0.9"/><circle cx="284.2" cy="759.3" r="1.2"/><circle cx="286.9" cy="516.0" r="1.0"/><circle cx="280.6" cy="642.4" r="1.0"/><circle cx="287.9" cy="742.4" r="1.1"/><circle cx="283.8" cy="724.4" r="1.0"/><circle cx="280.8" cy="657.8" r="1.0"/><circle cx="287.2" cy="706.0" r="0.7"/><circle cx="287.7" cy="713.8" r="1.1"/><circle cx="285.2" cy="512.7" r="0.9"/><circle cx="282.9" cy="687.0" r="1.2"/><circle cx="282.9" cy="571.4" r="1.1"/><circle cx="281.0" cy="683.3" r="1.5"/><circle cx="281.2" cy="580.7" r="0.9"/><circle cx="282.7" cy="514.2" r="1.3"/><circle cx="281.0" cy="706.9" r="0.8"/><circle cx="286.1" cy="590.4" r="1.1"/><circle cx="285.6" cy="771.0" r="1.2"/><circle cx="287.0" cy="724.3" r="1.0"/><circle cx="282.5" cy="571.1" r="1.1"/><circle cx="282.6" cy="536.5" r="1.2"/><circle cx="279.6" cy="534.7" r="0.8"/><circle cx="287.9" cy="579.0" r="0.7"/><circle cx="279.7" cy="549.1" r="1.1"/><circle cx="284.1" cy="498.5" r="0.8"/><circle cx="286.1" cy="574.9" r="0.8"/><circle cx="283.1" cy="679.1" r="1.0"/><circle cx="280.6" cy="739.1" r="1.4"/><circle cx="286.1" cy="762.0" r="0.7"/><circle cx="285.3" cy="693.0" r="1.3"/><circle cx="287.6" cy="558.1" r="1.4"/><circle cx="281.5" cy="528.3" r="0.7"/><circle cx="288.8" cy="743.3" r="1.5"/><circle cx="285.9" cy="677.6" r="1.2"/><circle cx="288.8" cy="665.0" r="1.2"/><circle cx="283.5" cy="594.7" r="0.7"/><circle cx="286.4" cy="711.2" r="1.0"/><circle cx="287.1" cy="749.4" r="1.0"/><circle cx="279.9" cy="517.2" r="0.8"/><circle cx="282.7" cy="585.2" r="1.4"/><circle cx="287.3" cy="577.5" r="1.2"/><circle cx="283.2" cy="750.0" r="0.7"/><circle cx="281.5" cy="730.1" r="0.8"/><circle cx="286.3" cy="733.8" r="0.9"/><circle cx="287.6" cy="574.3" r="0.9"/><circle cx="280.3" cy="704.7" r="1.4"/><circle cx="283.5" cy="529.3" r="0.7"/><circle cx="287.6" cy="659.0" r="0.8"/><circle cx="285.9" cy="576.3" r="1.2"/><circle cx="284.6" cy="587.8" r="1.1"/><circle cx="282.0" cy="752.7" r="1.3"/><circle cx="286.7" cy="684.7" r="1.0"/><circle cx="286.4" cy="711.5" r="1.0"/><circle cx="287.9" cy="501.9" r="1.3"/><circle cx="285.4" cy="555.4" r="0.9"/><circle cx="287.5" cy="634.8" r="1.1"/><circle cx="281.2" cy="580.4" r="0.8"/><circle cx="280.7" cy="559.9" r="0.8"/><circle cx="283.2" cy="512.9" r="0.9"/><circle cx="288.9" cy="715.6" r="0.9"/><circle cx="284.1" cy="665.7" r="0.8"/><circle cx="287.2" cy="531.5" r="1.1"/><circle cx="279.6" cy="735.4" r="1.2"/><circle cx="288.3" cy="753.6" r="0.7"/><circle cx="282.5" cy="650.5" r="1.3"/><circle cx="281.2" cy="516.0" r="1.4"/><circle cx="283.3" cy="634.9" r="1.5"/><circle cx="278.6" cy="590.0" r="1.0"/><circle cx="279.0" cy="540.0" r="1.2"/><circle cx="284.6" cy="780.1" r="1.2"/><circle cx="284.0" cy="591.1" r="1.3"/><circle cx="287.3" cy="670.8" r="1.1"/><circle cx="283.9" cy="553.4" r="1.1"/><circle cx="284.4" cy="543.8" r="1.4"/><circle cx="283.7" cy="534.5" r="1.3"/><circle cx="281.2" cy="614.9" r="1.0"/><circle cx="285.9" cy="656.5" r="1.1"/><circle cx="286.5" cy="526.1" r="1.4"/><circle cx="280.8" cy="524.4" r="0.8"/><circle cx="288.8" cy="748.7" r="0.7"/><circle cx="280.2" cy="593.7" r="1.1"/><circle cx="279.7" cy="770.5" r="0.8"/><circle cx="284.1" cy="640.1" r="1.3"/><circle cx="279.9" cy="625.3" r="1.0"/><circle cx="285.8" cy="788.6" r="0.8"/><circle cx="282.2" cy="736.5" r="1.3"/><circle cx="287.3" cy="497.8" r="0.8"/><circle cx="285.4" cy="630.7" r="1.1"/><circle cx="279.5" cy="543.6" r="0.9"/><circle cx="281.0" cy="509.7" r="0.8"/><circle cx="282.2" cy="633.4" r="1.2"/><circle cx="278.4" cy="578.3" r="1.0"/><circle cx="281.7" cy="720.6" r="1.0"/><circle cx="283.3" cy="720.5" r="1.4"/><circle cx="282.2" cy="769.4" r="1.3"/><circle cx="279.4" cy="569.9" r="1.1"/><circle cx="288.7" cy="674.7" r="0.8"/><circle cx="284.0" cy="707.7" r="0.8"/><circle cx="285.4" cy="785.8" r="0.8"/><circle cx="280.0" cy="765.7" r="0.8"/><circle cx="287.8" cy="593.5" r="0.7"/><circle cx="285.2" cy="769.5" r="0.8"/><circle cx="283.6" cy="664.6" r="1.2"/><circle cx="286.2" cy="715.2" r="1.5"/><circle cx="286.3" cy="541.0" r="1.0"/><circle cx="288.6" cy="729.0" r="1.5"/><circle cx="282.7" cy="573.8" r="1.5"/><circle cx="282.7" cy="777.7" r="1.5"/><circle cx="282.3" cy="615.8" r="1.3"/><circle cx="283.2" cy="635.4" r="1.0"/><circle cx="279.9" cy="623.8" r="0.7"/><circle cx="285.0" cy="720.2" r="1.2"/><circle cx="281.4" cy="734.7" r="0.9"/><circle cx="281.2" cy="577.4" r="1.3"/><circle cx="281.6" cy="606.3" r="1.2"/><circle cx="279.1" cy="550.0" r="1.3"/><circle cx="282.1" cy="720.9" r="1.2"/><circle cx="283.2" cy="504.2" r="1.2"/><circle cx="281.6" cy="570.0" r="1.2"/><circle cx="280.4" cy="671.0" r="1.3"/><circle cx="288.0" cy="518.0" r="0.9"/><circle cx="280.0" cy="570.1" r="1.5"/><circle cx="284.3" cy="580.0" r="1.5"/><circle cx="279.6" cy="779.0" r="1.1"/><circle cx="286.2" cy="674.4" r="1.0"/><circle cx="278.2" cy="592.4" r="0.7"/><circle cx="279.5" cy="659.0" r="0.9"/><circle cx="278.9" cy="594.0" r="0.7"/><circle cx="283.4" cy="772.1" r="0.9"/><circle cx="279.0" cy="706.5" r="0.9"/><circle cx="287.4" cy="782.2" r="1.2"/><circle cx="281.6" cy="522.0" r="0.7"/><circle cx="278.2" cy="559.8" r="0.8"/><circle cx="279.9" cy="684.0" r="0.8"/><circle cx="282.4" cy="764.8" r="1.0"/><circle cx="286.4" cy="520.0" r="1.2"/><circle cx="285.2" cy="658.1" r="0.8"/><circle cx="284.0" cy="572.1" r="1.5"/><circle cx="285.8" cy="739.1" r="1.1"/><circle cx="287.5" cy="498.5" r="0.8"/><circle cx="285.2" cy="532.7" r="1.3"/><circle cx="283.8" cy="730.0" r="0.8"/><circle cx="286.9" cy="504.6" r="1.5"/><circle cx="286.8" cy="567.2" r="1.0"/><circle cx="283.3" cy="587.4" r="0.7"/><circle cx="280.5" cy="626.8" r="1.3"/><circle cx="287.7" cy="644.8" r="1.4"/><circle cx="281.0" cy="589.0" r="1.5"/><circle cx="279.6" cy="645.2" r="0.7"/><circle cx="284.2" cy="791.1" r="0.7"/><circle cx="283.9" cy="647.4" r="1.0"/><circle cx="288.0" cy="779.4" r="0.8"/><circle cx="282.3" cy="539.5" r="1.4"/><circle cx="286.6" cy="681.1" r="1.2"/><circle cx="286.3" cy="557.0" r="0.7"/><circle cx="281.0" cy="703.5" r="1.1"/><circle cx="284.0" cy="786.5" r="0.7"/><circle cx="285.3" cy="622.6" r="0.7"/><circle cx="278.2" cy="569.8" r="1.1"/><circle cx="283.5" cy="608.4" r="0.9"/><circle cx="280.7" cy="691.0" r="1.4"/><circle cx="283.7" cy="782.0" r="1.1"/><circle cx="282.0" cy="751.9" r="1.3"/><circle cx="285.5" cy="580.2" r="1.0"/><circle cx="288.6" cy="674.8" r="0.7"/><circle cx="284.8" cy="736.2" r="1.0"/><circle cx="278.9" cy="599.1" r="0.9"/><circle cx="279.8" cy="680.9" r="1.2"/><circle cx="288.1" cy="782.7" r="1.4"/><circle cx="280.8" cy="736.0" r="1.5"/><circle cx="286.8" cy="554.8" r="1.4"/><circle cx="284.4" cy="680.6" r="0.9"/><circle cx="281.7" cy="649.8" r="0.8"/><circle cx="286.3" cy="532.5" r="1.4"/><circle cx="278.3" cy="536.6" r="0.9"/><circle cx="280.1" cy="534.3" r="1.2"/><circle cx="282.9" cy="620.7" r="0.9"/><circle cx="282.0" cy="693.4" r="1.0"/><circle cx="288.0" cy="633.0" r="0.9"/><circle cx="282.2" cy="709.6" r="1.4"/><circle cx="283.6" cy="612.2" r="1.4"/><circle cx="279.9" cy="695.8" r="0.8"/><circle cx="279.7" cy="791.2" r="0.9"/><circle cx="279.4" cy="781.7" r="0.8"/><circle cx="278.8" cy="558.0" r="1.1"/><circle cx="282.1" cy="671.7" r="0.8"/><circle cx="287.6" cy="737.3" r="1.1"/><circle cx="283.7" cy="535.3" r="1.2"/><circle cx="287.4" cy="622.5" r="1.0"/><circle cx="279.8" cy="647.3" r="1.2"/><circle cx="286.8" cy="723.9" r="0.9"/><circle cx="285.4" cy="791.6" r="1.0"/><circle cx="286.5" cy="618.5" r="0.8"/><circle cx="286.5" cy="685.9" r="1.1"/><circle cx="284.0" cy="756.0" r="1.1"/><circle cx="287.5" cy="579.4" r="1.0"/><circle cx="283.3" cy="702.6" r="1.4"/><circle cx="279.5" cy="778.4" r="1.5"/><circle cx="279.6" cy="675.5" r="1.1"/><circle cx="284.0" cy="508.8" r="0.8"/><circle cx="281.4" cy="604.4" r="1.2"/><circle cx="289.1" cy="740.7" r="1.0"/><circle cx="278.8" cy="664.9" r="1.0"/><circle cx="280.3" cy="782.2" r="1.4"/><circle cx="282.0" cy="689.8" r="1.3"/><circle cx="287.3" cy="580.8" r="0.8"/><circle cx="285.8" cy="529.7" r="1.1"/><circle cx="283.4" cy="538.2" r="0.9"/><circle cx="286.5" cy="658.8" r="1.4"/><circle cx="284.3" cy="511.7" r="1.5"/><circle cx="286.5" cy="631.9" r="0.8"/><circle cx="285.2" cy="756.1" r="1.4"/><circle cx="288.3" cy="730.1" r="0.7"/><circle cx="281.0" cy="708.7" r="0.9"/><circle cx="284.3" cy="591.4" r="1.2"/><circle cx="279.2" cy="773.4" r="0.9"/><circle cx="286.7" cy="602.6" r="1.1"/></g>
<g><polygon points="708.7,480.0 864.4,480.2 865.0,481.0 852.0,483.0 837.6,488.1 826.0,493.2 815.8,499.0 807.9,506.2 804.0,512.3 794.8,499.0 782.5,504.8 769.5,513.4 760.8,520.7 750.7,532.3 742.0,543.8 734.8,556.9 729.0,568.5 724.6,578.6 718.8,586.0 716.7,587.5 714.5,585.8 711.6,571.4 710.1,542.4 708.7,513.4 708.0,484.5" fill="#ff7979"/></g><g transform="rotate(180 710.5 643.5)"><polygon points="708.7,480.0 864.4,480.2 865.0,481.0 852.0,483.0 837.6,488.1 826.0,493.2 815.8,499.0 807.9,506.2 804.0,512.3 794.8,499.0 782.5,504.8 769.5,513.4 760.8,520.7 750.7,532.3 742.0,543.8 734.8,556.9 729.0,568.5 724.6,578.6 718.8,586.0 716.7,587.5 714.5,585.8 711.6,571.4 710.1,542.4 708.7,513.4 708.0,484.5" fill="#ff7979"/></g>
<path d="M591.4,643.3H839.3" stroke="#754c24" stroke-width="4"/>
<path d="M108.5,393.5V42.3H459.5" fill="none" stroke="#4a4a4a" stroke-width="1.1"/>
<path d="M459.5,42.3V393.5H108.5" fill="none" stroke="#111" stroke-width="1.1"/>
<path d="M535.5,393.5V42.3H886.5" fill="none" stroke="#4a4a4a" stroke-width="1.1"/>
<path d="M886.5,42.3V393.5H535.5" fill="none" stroke="#111" stroke-width="1.1"/>
<path d="M108.5,61.5h4M108.5,139.6h4M108.5,217.6h4M108.5,295.7h4M108.5,373.8h4" stroke="#333" stroke-width="1"/>
<path d="M186.0,393.5v-4M284.0,393.5v-4M382.0,393.5v-4" stroke="#333" stroke-width="1"/>
<path d="M535.5,55.5h4M535.5,109.5h4M535.5,163.4h4M535.5,217.4h4M535.5,271.3h4M535.5,325.2h4M535.5,379.2h4" stroke="#333" stroke-width="1"/>
<path d="M612.9,393.5v-4M710.6,393.5v-4M808.1,393.5v-4" stroke="#333" stroke-width="1"/>
<path d="M108.5,819.5V468.3H459.5" fill="none" stroke="#4a4a4a" stroke-width="1.1"/>
<path d="M459.5,468.3V819.5H108.5" fill="none" stroke="#111" stroke-width="1.1"/>
<path d="M535.5,819.5V468.3H886.5" fill="none" stroke="#4a4a4a" stroke-width="1.1"/>
<path d="M886.5,468.3V819.5H535.5" fill="none" stroke="#111" stroke-width="1.1"/>
<path d="M108.5,487.5h4M108.5,565.6h4M108.5,643.6h4M108.5,721.7h4M108.5,799.8h4" stroke="#333" stroke-width="1"/>
<path d="M186.0,819.5v-4M284.0,819.5v-4M382.0,819.5v-4" stroke="#333" stroke-width="1"/>
<path d="M535.5,481.5h4M535.5,535.5h4M535.5,589.4h4M535.5,643.4h4M535.5,697.3h4M535.5,751.2h4M535.5,805.2h4" stroke="#333" stroke-width="1"/>
<path d="M612.9,819.5v-4M710.6,819.5v-4M808.1,819.5v-4" stroke="#333" stroke-width="1"/>
<g opacity="0.999">
<text x="-1.75" y="26.25" font-size="35.8" font-weight="bold" fill="#000">a</text>
<text x="475.0" y="27.55" font-size="35.8" font-weight="bold" fill="#000">b</text>
<text x="899.15" y="26.8" font-size="35.8" font-weight="bold" fill="#000">c</text>
<text x="-1.82" y="448.55" font-size="35.8" font-weight="bold" fill="#000">d</text>
<text x="474.55" y="448.4" font-size="35.8" font-weight="bold" fill="#000">e</text>
<text x="899.1" y="449.05" font-size="35.8" font-weight="bold" fill="#000">f</text>
<text x="198.9" y="36.3" font-size="35.1" font-family="Liberation Serif" fill="#231815"><tspan font-style='italic'>m</tspan> = 3.7+0.4i</text>
<text x="621.0" y="36.65" font-size="35.1" font-family="Liberation Serif" fill="#231815"><tspan font-style='italic'>m</tspan> = 3.9+0.6i</text>
<text x="1060.3" y="36.05" font-size="35.8" font-weight="bold" fill="#000">Primitive cell</text>
<text x="1074.2" y="461.2" font-size="35.3" font-weight="bold" fill="#000">2-supercell</text>
<text x="52.35" y="68.8" font-size="31.3" fill="#231815">0.4</text>
<text x="52.35" y="495.1" font-size="31.3" fill="#231815">0.4</text>
<text x="52.85" y="147.4" font-size="31.3" fill="#231815">0.2</text>
<text x="52.85" y="573.7" font-size="31.3" fill="#231815">0.2</text>
<text x="70.75" y="225.3" font-size="31.3" fill="#231815">0</text>
<text x="70.75" y="651.6" font-size="31.3" fill="#231815">0</text>
<text x="46.95" y="304.2" font-size="31.3" fill="#231815">-0.2</text>
<text x="46.95" y="730.5" font-size="31.3" fill="#231815">-0.2</text>
<text x="46.15" y="380.95" font-size="31.3" fill="#231815">-0.4</text>
<text x="46.15" y="807.25" font-size="31.3" fill="#231815">-0.4</text>
<text x="37.95" y="244.6" font-size="31.1" fill="#231815" transform="rotate(-90 37.95 244.6)">Im(E)</text>
<text x="37.95" y="670.9" font-size="31.1" fill="#231815" transform="rotate(-90 37.95 670.9)">Im(E)</text>
<text x="164.1" y="423.95" font-size="31.3" fill="#231815">-5</text>
<text x="164.1" y="852.95" font-size="31.3" fill="#231815">-5</text>
<text x="275.15" y="423.8" font-size="31.3" fill="#231815">0</text>
<text x="275.15" y="852.8" font-size="31.3" fill="#231815">0</text>
<text x="373.2" y="423.95" font-size="31.3" fill="#231815">5</text>
<text x="373.2" y="852.95" font-size="31.3" fill="#231815">5</text>
<text x="248.15" y="889.8" font-size="31.1" fill="#231815">Re(E)</text>
<text x="481.3" y="117.85" font-size="31.3" fill="#231815">0.4</text>
<text x="481.3" y="544.15" font-size="31.3" fill="#231815">0.4</text>
<text x="499.75" y="226.4" font-size="31.3" fill="#231815">0</text>
<text x="499.75" y="652.7" font-size="31.3" fill="#231815">0</text>
<text x="475.85" y="336.05" font-size="31.3" fill="#231815">-0.4</text>
<text x="475.85" y="762.35" font-size="31.3" fill="#231815">-0.4</text>
<text x="591.15" y="423.9" font-size="31.3" fill="#231815">-5</text>
<text x="591.15" y="852.4" font-size="31.3" fill="#231815">-5</text>
<text x="702.35" y="423.9" font-size="31.3" fill="#231815">0</text>
<text x="702.35" y="852.4" font-size="31.3" fill="#231815">0</text>
<text x="799.95" y="423.9" font-size="31.3" fill="#231815">5</text>
<text x="799.95" y="852.4" font-size="31.3" fill="#231815">5</text>
<text x="672.1" y="889.8" font-size="31.1" fill="#231815">Re(E)</text>
<text x="942.9" y="126.3" font-size="31.3" fill="#231815">0.6</text>
<text x="942.9" y="552.6" font-size="31.3" fill="#404040">0.6</text>
<text x="942.0" y="215.9" font-size="31.3" fill="#231815">0.4</text>
<text x="942.0" y="642.2" font-size="31.3" fill="#404040">0.4</text>
<text x="942.7" y="307.0" font-size="31.3" fill="#231815">0.2</text>
<text x="942.7" y="733.3" font-size="31.3" fill="#404040">0.2</text>
<text x="965.7" y="397.1" font-size="31.3" fill="#231815">0</text>
<text x="965.7" y="823.4" font-size="31.3" fill="#404040">0</text>
<text x="993.9" y="426.9" font-size="31.3" fill="#231815">3</text>
<text x="1157.25" y="426.9" font-size="31.3" fill="#231815">4</text>
<text x="1324.1" y="426.95" font-size="31.3" fill="#231815">5</text>
<text x="995.2" y="855.95" font-size="31.3" fill="#404040">3</text>
<text x="1157.8" y="855.95" font-size="31.3" fill="#404040">4</text>
<text x="1324.0" y="855.95" font-size="31.3" fill="#404040">5</text>
<text x="1387.1" y="155.0" font-size="31.3" fill="#231815">0</text>
<text x="1387.1" y="581.8" font-size="31.3" fill="#404040">0</text>
<text x="1385.45" y="273.65" font-size="31.3" fill="#231815">-1</text>
<text x="1385.45" y="700.45" font-size="31.3" fill="#404040">-1</text>
<text x="1386.95" y="392.55" font-size="31.3" fill="#231815">-2</text>
<text x="1386.95" y="819.35" font-size="31.3" fill="#404040">-2</text>
<text x="296.5" y="384.5" font-size="23.13" font-weight="bold" fill="#009245">Real-line gap</text>
<text x="556.6" y="209.45" font-size="23.45" font-weight="bold" fill="#754c24">Imaginary-line gap</text>
<text x="556.1" y="634.55" font-size="23.45" font-weight="bold" fill="#754c24">Imaginary-line gap</text>
<text x="1092.05" y="198.8" font-size="30.5" fill="#000">a</text>
<text x="1163.7" y="107.6" font-size="30.5" fill="#000">b</text>
<text x="1093.35" y="627.4" font-size="30.5" fill="#000">d</text>
<text x="1162.1" y="536.55" font-size="30.5" fill="#000">e</text>
<text x="1110.7" y="222.65" font-size="31.3" font-weight="bold" fill="#000">*</text>
<text x="1146.7" y="130.55" font-size="31.3" font-weight="bold" fill="#000">*</text>
<text x="1111.1" y="648.75" font-size="30.26" font-weight="bold" fill="#000">*</text>
<text x="1146.8" y="558.2" font-size="32.35" font-weight="bold" fill="#000">*</text>
<text transform="translate(124.68 90.4) scale(1.3154 1)" font-size="27.1" font-family="Liberation Serif" font-style="italic" fill="#000">σ</text>
<text x="140.45" y="102.1" font-size="26.34" fill="#000">U</text>
<text x="143.8" y="76.9" font-size="22.69" fill="#000">(1)</text>
<text transform="translate(553.42 90.25) scale(1.2846 1)" font-size="27.68" font-family="Liberation Serif" font-style="italic" fill="#000">σ</text>
<text x="569.6" y="101.95" font-size="25.9" fill="#000">U</text>
<text x="571.65" y="76.9" font-size="22.69" fill="#000">(1)</text>
<text transform="translate(124.68 511.95) scale(1.3154 1)" font-size="26.52" font-family="Liberation Serif" font-style="italic" fill="#000">σ</text>
<text x="140.45" y="523.1" font-size="26.34" fill="#000">U</text>
<text x="143.8" y="499.05" font-size="22.15" fill="#000">(2)</text>
<text transform="translate(553.31 511.95) scale(1.2923 1)" font-size="26.52" font-family="Liberation Serif" font-style="italic" fill="#000">σ</text>
<text x="569.6" y="523.05" font-size="26.2" fill="#000">U</text>
<text x="571.8" y="498.95" font-size="22.8" fill="#000">(2)</text>
<text x="1438.55" y="251.45" font-size="33.62" fill="#231815" transform="rotate(-90 1438.55 251.45)">log(<tspan font-family='Liberation Serif' font-size='1.08em'>Δ</tspan>)</text>
<text x="924.2" y="226.1" font-size="37.15" font-family="Liberation Serif" font-style="italic" fill="#231815" transform="rotate(-90 924.2 226.1)">m</text>
<text x="933.1" y="198.7" font-size="29.54" font-family="Liberation Serif" font-style="italic" fill="#231815" transform="rotate(-90 933.1 198.7)">i</text>
<text x="924.2" y="652.4" font-size="37.15" font-family="Liberation Serif" font-style="italic" fill="#231815" transform="rotate(-90 924.2 652.4)">m</text>
<text x="933.1" y="625.0" font-size="29.54" font-family="Liberation Serif" font-style="italic" fill="#231815" transform="rotate(-90 933.1 625.0)">i</text>
<text x="1143.8" y="877.3" font-size="36.7" font-family="Liberation Serif" font-style="italic" fill="#231815">m</text>
<text x="1171.25" y="886.4" font-size="28.44" font-family="Liberation Serif" font-style="italic" fill="#231815">r</text>
<text x="1438.55" y="677.75" font-size="33.62" fill="#404040" transform="rotate(-90 1438.55 677.75)">log(<tspan font-family='Liberation Serif' font-size='1.08em'>Δ</tspan>)</text>
</g></svg></body></html>
